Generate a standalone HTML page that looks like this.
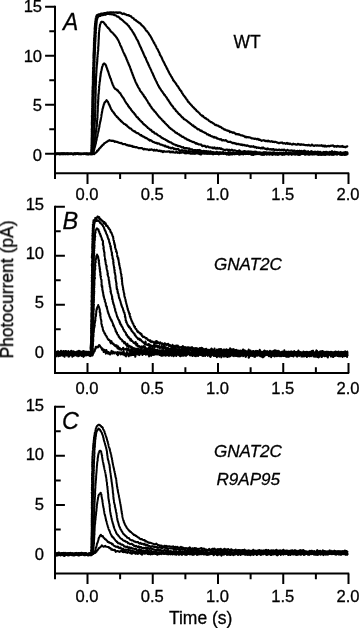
<!DOCTYPE html>
<html lang="en">
<head>
<meta charset="utf-8">
<title>Photocurrent responses</title>
<style>
html,body{margin:0;padding:0;background:#fff;}
body{width:360px;height:628px;overflow:hidden;font-family:"Liberation Sans",sans-serif;}
svg{display:block;}
</style>
</head>
<body>
<svg width="360" height="628" viewBox="0 0 360 628">
<rect width="360" height="628" fill="#fff"/>
<g font-family="'Liberation Sans', sans-serif" font-size="17.5" fill="#000" stroke="#000" stroke-width="0.3" style="will-change:transform">
<text x="42.1" y="12.40" text-anchor="end" font-size="16.6">15</text>
<text x="42.1" y="62.33" text-anchor="end" font-size="16.6">10</text>
<text x="42.1" y="111.37" text-anchor="end" font-size="16.6">5</text>
<text x="42.1" y="161.00" text-anchor="end" font-size="16.6">0</text>
<text x="86.95" y="199.80" text-anchor="middle" font-size="16.6">0.0</text>
<text x="152.20" y="199.80" text-anchor="middle" font-size="16.6">0.5</text>
<text x="217.45" y="199.80" text-anchor="middle" font-size="16.6">1.0</text>
<text x="282.70" y="199.80" text-anchor="middle" font-size="16.6">1.5</text>
<text x="347.95" y="199.80" text-anchor="middle" font-size="16.6">2.0</text>
<text x="44.1" y="209.80" text-anchor="end" font-size="16.6">15</text>
<text x="44.1" y="259.17" text-anchor="end" font-size="16.6">10</text>
<text x="44.1" y="308.13" text-anchor="end" font-size="16.6">5</text>
<text x="44.1" y="358.00" text-anchor="end" font-size="16.6">0</text>
<text x="86.95" y="393.50" text-anchor="middle" font-size="16.6">0.0</text>
<text x="152.20" y="393.50" text-anchor="middle" font-size="16.6">0.5</text>
<text x="217.45" y="393.50" text-anchor="middle" font-size="16.6">1.0</text>
<text x="282.70" y="393.50" text-anchor="middle" font-size="16.6">1.5</text>
<text x="347.95" y="393.50" text-anchor="middle" font-size="16.6">2.0</text>
<text x="44.1" y="410.90" text-anchor="end" font-size="16.6">15</text>
<text x="44.1" y="460.47" text-anchor="end" font-size="16.6">10</text>
<text x="44.1" y="509.53" text-anchor="end" font-size="16.6">5</text>
<text x="44.1" y="559.70" text-anchor="end" font-size="16.6">0</text>
<text x="86.95" y="601.70" text-anchor="middle" font-size="16.6">0.0</text>
<text x="152.20" y="601.70" text-anchor="middle" font-size="16.6">0.5</text>
<text x="217.45" y="601.70" text-anchor="middle" font-size="16.6">1.0</text>
<text x="282.70" y="601.70" text-anchor="middle" font-size="16.6">1.5</text>
<text x="347.95" y="601.70" text-anchor="middle" font-size="16.6">2.0</text>
<text x="233.6" y="47.8">WT</text>
<text x="213.9" y="269.9" font-style="italic" font-size="17.1">GNAT2C</text>
<text x="213.9" y="456.9" font-style="italic" font-size="17.1">GNAT2C</text>
<text x="216.4" y="484.9" font-style="italic" font-size="17.1">R9AP95</text>
<text transform="translate(63.1,30.4) scale(0.94,1)" font-style="italic" font-size="24.4">A</text>
<text transform="translate(62.4,229.1) scale(0.98,1)" font-style="italic" font-size="24">B</text>
<text transform="translate(62.0,428.5) scale(0.97,1)" font-style="italic" font-size="24">C</text>
<text x="200.7" y="623.8" text-anchor="middle">Time (s)</text>
<text transform="translate(13.1,289.45) rotate(-90)" text-anchor="middle" font-size="17.5">Photocurrent (pA)</text>
</g>
<g>
<path d="M55.0,5.70 V173.3 H349.20" fill="none" stroke="#000" stroke-width="2.0" stroke-linejoin="miter"/>
<path d="M55.0,6.70 h-9.9 M55.0,55.73 h-9.9 M55.0,104.77 h-9.9 M55.0,153.80 h-9.9 M55.0,31.22 h-5.7 M55.0,80.25 h-5.7 M55.0,129.28 h-5.7 M87.50,173.3 v10.6 M152.75,173.3 v10.6 M218.00,173.3 v10.6 M283.25,173.3 v10.6 M348.50,173.3 v10.6 M55.00,173.3 v5.8 M120.12,173.3 v5.8 M185.38,173.3 v5.8 M250.62,173.3 v5.8 M315.88,173.3 v5.8" fill="none" stroke="#000" stroke-width="2.0"/>
<path d="M55.0,205.80 V373.1 H349.20" fill="none" stroke="#000" stroke-width="2.0" stroke-linejoin="miter"/>
<path d="M55.0,206.80 h9.9 M55.0,255.77 h9.9 M55.0,304.73 h9.9 M55.0,353.70 h9.9 M55.0,231.28 h5.7 M55.0,280.25 h5.7 M55.0,329.22 h5.7 M87.50,373.1 v-10.1 M152.75,373.1 v-10.1 M218.00,373.1 v-10.1 M283.25,373.1 v-10.1 M348.50,373.1 v-10.1 M55.00,373.1 v-5.8 M120.12,373.1 v-5.8 M185.38,373.1 v-5.8 M250.62,373.1 v-5.8 M315.88,373.1 v-5.8" fill="none" stroke="#000" stroke-width="2.0"/>
<path d="M55.0,405.80 V573.4 H349.20" fill="none" stroke="#000" stroke-width="2.0" stroke-linejoin="miter"/>
<path d="M55.0,406.80 h9.9 M55.0,455.87 h9.9 M55.0,504.93 h9.9 M55.0,554.00 h9.9 M55.0,431.33 h5.7 M55.0,480.40 h5.7 M55.0,529.47 h5.7 M87.50,573.4 v10.6 M152.75,573.4 v10.6 M218.00,573.4 v10.6 M283.25,573.4 v10.6 M348.50,573.4 v10.6 M55.00,573.4 v5.8 M120.12,573.4 v5.8 M185.38,573.4 v5.8 M250.62,573.4 v5.8 M315.88,573.4 v5.8" fill="none" stroke="#000" stroke-width="2.0"/>
</g>
<g fill="none" stroke="#000" stroke-width="2.15" stroke-linejoin="round" stroke-linecap="round">
<path d="M55.60,153.88 55.95,153.82 56.30,153.95 56.65,153.99 57.00,153.88 57.35,153.78 57.70,153.88 58.05,153.90 58.40,153.74 58.75,153.63 59.10,153.54 59.45,153.49 59.80,153.56 60.15,153.67 60.50,153.74 60.85,153.86 61.20,153.93 61.55,153.76 61.90,153.59 62.25,153.70 62.60,153.87 62.95,153.81 63.30,153.68 63.65,153.67 64.00,153.69 64.35,153.80 64.70,153.93 65.05,153.86 65.40,153.90 65.75,153.98 66.10,153.87 66.45,153.85 66.80,153.91 67.15,153.84 67.50,153.75 67.85,153.92 68.20,153.98 68.55,153.84 68.90,153.92 69.25,153.93 69.60,153.95 69.95,154.17 70.30,154.05 70.65,153.80 71.00,153.87 71.35,153.97 71.70,153.96 72.05,153.97 72.40,153.98 72.75,154.08 73.10,154.09 73.45,153.92 73.80,153.85 74.15,153.86 74.50,153.81 74.85,153.72 75.20,153.73 75.55,153.90 75.90,154.08 76.25,154.02 76.60,153.75 76.95,153.75 77.30,153.80 77.65,153.65 78.00,153.70 78.35,153.94 78.70,154.10 79.05,154.05 79.40,153.88 79.75,153.81 80.10,153.94 80.45,154.05 80.80,153.92 81.15,153.86 81.50,153.92 81.85,153.89 82.20,153.79 82.55,153.74 82.90,153.80 83.25,153.92 83.60,154.07 83.95,154.06 84.30,153.98 84.65,153.96 85.00,153.97 85.35,154.01 85.70,154.01 86.05,153.89 86.40,153.79 86.75,153.75 87.10,153.57 87.45,153.51 87.80,153.67 88.15,153.77 88.50,153.99 88.85,154.12 89.20,153.88 89.55,153.78 89.90,153.92 90.25,153.97 90.60,153.90 90.95,153.91 91.32,153.99 91.41,153.57 91.39,153.17 91.40,152.83 91.40,152.48 91.37,152.11 91.36,151.77 91.34,151.44 91.34,151.13 91.37,150.78 91.40,150.40 91.44,150.03 91.43,149.65 91.44,149.24 91.53,148.92 91.57,148.61 91.53,148.25 91.49,147.91 91.51,147.57 91.54,147.24 91.52,146.90 91.49,146.58 91.58,146.20 91.61,145.82 91.55,145.56 91.59,145.24 91.62,144.83 91.62,144.44 91.63,144.08 91.60,143.74 91.63,143.43 91.69,143.06 91.65,142.68 91.63,142.32 91.64,141.94 91.68,141.62 91.71,141.34 91.69,141.00 91.68,140.65 91.68,140.27 91.70,139.88 91.68,139.53 91.64,139.19 91.66,138.85 91.68,138.50 91.73,138.12 91.77,137.74 91.71,137.44 91.72,137.15 91.80,136.75 91.83,136.37 91.84,136.09 91.80,135.75 91.75,135.33 91.79,134.97 91.86,134.60 91.86,134.25 91.84,133.96 91.81,133.65 91.79,133.25 91.84,132.89 91.93,132.56 91.85,132.20 91.74,131.81 91.79,131.40 91.90,131.10 91.91,130.85 91.84,130.49 91.81,130.12 91.78,129.77 91.71,129.38 91.75,129.05 91.87,128.74 91.88,128.37 91.93,128.00 92.00,127.71 91.98,127.43 91.98,127.07 92.05,126.66 92.00,126.20 91.93,125.84 91.97,125.63 91.94,125.32 91.88,124.92 91.90,124.59 91.86,124.28 91.80,123.94 91.86,123.55 91.91,123.18 91.86,122.82 91.82,122.42 91.89,122.11 91.96,121.82 91.94,121.52 91.93,121.24 91.95,120.81 91.93,120.24 91.99,119.85 92.06,119.59 91.99,119.24 92.00,118.92 92.07,118.58 92.03,118.08 92.01,117.70 92.08,117.48 92.06,117.19 91.93,116.82 91.91,116.45 91.94,116.02 91.94,115.64 91.96,115.34 92.02,114.96 92.06,114.61 92.06,114.36 92.10,114.06 92.12,113.68 92.09,113.26 92.17,112.87 92.26,112.51 92.20,112.20 92.12,111.89 92.10,111.55 92.11,111.25 92.19,110.99 92.22,110.64 92.15,110.19 92.19,109.85 92.25,109.51 92.22,109.09 92.18,108.67 92.13,108.38 92.12,108.12 92.24,107.76 92.34,107.38 92.27,107.06 92.19,106.76 92.21,106.31 92.26,105.83 92.32,105.46 92.39,105.06 92.44,104.72 92.43,104.53 92.42,104.32 92.40,103.90 92.33,103.43 92.26,103.13 92.28,102.90 92.33,102.55 92.27,102.15 92.26,101.80 92.35,101.48 92.37,101.17 92.34,100.82 92.36,100.40 92.39,100.00 92.39,99.67 92.32,99.36 92.34,99.01 92.43,98.59 92.45,98.25 92.41,97.90 92.38,97.57 92.39,97.38 92.48,97.05 92.52,96.60 92.51,96.25 92.59,95.84 92.60,95.38 92.54,95.10 92.51,94.81 92.41,94.42 92.34,94.02 92.40,93.69 92.48,93.42 92.52,93.14 92.53,92.77 92.51,92.42 92.48,92.09 92.52,91.66 92.51,91.20 92.52,90.87 92.54,90.69 92.50,90.41 92.49,90.03 92.54,89.64 92.65,89.25 92.73,88.87 92.70,88.49 92.62,88.14 92.58,87.86 92.64,87.59 92.65,87.20 92.65,86.76 92.73,86.35 92.72,86.05 92.70,85.82 92.79,85.46 92.86,85.02 92.87,84.60 92.87,84.22 92.88,83.95 92.93,83.66 92.93,83.26 92.90,82.88 92.93,82.55 92.90,82.16 92.83,81.75 92.79,81.41 92.85,81.13 92.88,80.82 92.85,80.46 92.91,80.18 92.96,79.88 92.88,79.43 92.80,79.02 92.88,78.71 92.96,78.34 92.93,77.97 92.88,77.74 92.87,77.47 92.94,77.02 93.00,76.56 92.97,76.20 92.94,75.86 93.00,75.46 93.06,75.15 93.05,74.89 92.99,74.54 93.05,74.27 93.15,73.98 93.06,73.57 93.00,73.24 93.02,72.92 93.07,72.46 93.21,71.98 93.25,71.61 93.09,71.38 93.04,71.17 93.21,70.76 93.29,70.26 93.29,69.87 93.25,69.57 93.16,69.27 93.11,68.93 93.07,68.60 93.11,68.25 93.22,67.87 93.29,67.52 93.36,67.19 93.30,66.85 93.25,66.58 93.36,66.30 93.44,65.89 93.34,65.40 93.25,64.98 93.34,64.63 93.41,64.21 93.32,63.89 93.31,63.72 93.40,63.41 93.37,62.94 93.30,62.49 93.30,62.17 93.34,61.90 93.40,61.68 93.47,61.41 93.53,60.94 93.47,60.45 93.38,60.07 93.46,59.78 93.55,59.43 93.57,59.05 93.55,58.71 93.47,58.40 93.46,58.16 93.52,57.89 93.43,57.49 93.42,57.06 93.53,56.70 93.54,56.33 93.49,55.95 93.45,55.56 93.43,55.13 93.48,54.82 93.57,54.59 93.58,54.26 93.55,53.94 93.60,53.56 93.58,53.08 93.60,52.73 93.70,52.49 93.67,52.16 93.68,51.82 93.77,51.51 93.75,51.10 93.75,50.63 93.83,50.31 93.86,50.09 93.84,49.69 93.83,49.28 93.84,49.05 93.85,48.79 93.82,48.40 93.87,47.96 93.99,47.52 93.96,47.23 93.97,47.00 94.05,46.67 93.98,46.29 93.92,45.87 93.93,45.43 93.94,45.02 94.05,44.75 94.08,44.47 93.98,44.09 93.96,43.80 94.02,43.43 94.02,42.98 94.01,42.62 94.01,42.30 93.96,41.97 94.00,41.59 94.07,41.22 94.11,40.87 94.12,40.48 94.11,40.13 94.17,39.89 94.18,39.57 94.12,39.13 94.08,38.79 94.13,38.43 94.21,38.10 94.22,37.82 94.29,37.52 94.40,37.18 94.46,36.78 94.45,36.41 94.35,36.04 94.32,35.68 94.42,35.38 94.49,35.05 94.50,34.71 94.51,34.30 94.55,33.89 94.58,33.58 94.57,33.31 94.57,32.96 94.57,32.54 94.57,32.12 94.61,31.77 94.63,31.47 94.64,31.05 94.70,30.65 94.71,30.44 94.70,30.15 94.69,29.66 94.73,29.26 94.82,28.93 94.74,28.62 94.64,28.33 94.69,27.95 94.82,27.61 94.95,27.31 94.95,26.96 94.91,26.59 94.88,26.17 94.94,25.72 95.06,25.46 95.09,25.29 95.05,24.94 95.07,24.54 95.08,24.20 95.06,23.86 95.10,23.58 95.10,23.26 95.10,22.73 95.24,22.24 95.32,21.91 95.28,21.64 95.32,21.45 95.47,21.10 95.54,20.56 95.61,20.11 95.65,19.88 95.65,19.55 95.70,19.06 95.74,18.69 95.80,18.39 95.88,18.06 95.99,17.64 96.11,17.20 96.17,16.81 96.23,16.62 96.34,16.61 96.45,16.35 96.55,15.87 96.71,15.37 96.94,15.02 97.22,15.00 97.54,15.00 97.89,14.84 98.25,14.55 98.60,14.30 98.93,14.29 99.24,14.45 99.57,14.70 99.89,14.67 100.23,14.15 100.56,13.79 100.91,13.75 101.25,13.62 101.60,13.54 101.95,13.51 102.30,13.49 102.65,13.61 103.00,13.62 103.36,13.52 103.71,13.36 104.06,13.12 104.41,13.04 104.76,13.09 105.10,13.14 105.45,13.20 105.79,13.03 106.14,12.82 106.49,12.77 106.84,12.65 107.18,12.64 107.53,12.56 107.88,12.40 108.23,12.63 108.57,12.79 108.92,12.66 109.27,12.53 109.62,12.41 109.97,12.33 110.32,12.36 110.66,12.42 111.01,12.36 111.36,12.29 111.71,12.44 112.06,12.54 112.41,12.44 112.76,12.45 113.11,12.39 113.46,12.24 113.81,12.44 114.16,12.64 114.51,12.63 114.86,12.54 115.21,12.37 115.56,12.44 115.91,12.66 116.26,12.69 116.61,12.43 116.96,12.25 117.30,12.59 117.65,12.95 118.00,12.93 118.34,12.59 118.69,12.44 119.04,12.73 119.38,12.63 119.73,12.44 120.07,12.63 120.42,12.58 120.76,12.58 121.10,13.03 121.44,13.41 121.78,13.40 122.13,13.60 122.47,14.05 122.81,14.08 123.15,13.76 123.49,13.53 123.84,13.44 124.18,13.67 124.52,14.06 124.85,14.24 125.19,14.38 125.52,14.45 125.86,14.35 126.20,14.51 126.53,14.85 126.85,15.07 127.17,15.21 127.49,15.16 127.82,15.14 128.13,15.20 128.44,15.05 128.76,15.15 129.07,15.63 129.38,15.92 129.68,15.89 129.99,15.82 130.29,16.04 130.58,16.28 130.88,16.27 131.19,16.38 131.49,16.91 131.78,17.45 132.08,17.57 132.39,17.59 132.67,17.88 132.96,18.03 133.25,17.96 133.56,18.32 133.85,18.85 134.11,19.25 134.37,19.61 134.66,19.73 134.98,19.73 135.28,19.90 135.55,20.07 135.82,20.12 136.08,20.39 136.36,20.92 136.64,21.22 136.91,21.14 137.18,21.20 137.48,21.58 137.77,21.91 138.01,22.12 138.27,22.26 138.56,22.25 138.82,22.39 139.08,22.78 139.38,23.21 139.66,23.34 139.93,23.18 140.21,23.40 140.46,23.83 140.69,23.92 140.95,24.15 141.20,24.72 141.46,25.09 141.72,25.19 141.97,25.40 142.23,25.71 142.51,25.98 142.76,26.18 142.99,26.20 143.22,26.38 143.46,26.74 143.70,27.05 143.93,27.43 144.15,27.63 144.35,27.75 144.54,28.04 144.76,28.43 145.01,28.74 145.27,28.88 145.50,29.19 145.69,29.81 145.89,30.35 146.10,30.53 146.29,30.51 146.51,30.76 146.72,31.13 146.92,31.19 147.15,31.30 147.37,31.71 147.56,32.04 147.73,32.09 147.97,32.17 148.21,32.59 148.41,33.11 148.63,33.39 148.83,33.70 148.97,34.12 149.16,34.43 149.41,34.67 149.62,34.91 149.75,35.10 149.94,35.31 150.16,35.71 150.37,36.19 150.56,36.42 150.71,36.55 150.85,36.86 151.05,37.28 151.26,37.55 151.38,37.63 151.50,37.89 151.71,38.50 151.95,39.12 152.16,39.36 152.29,39.50 152.45,39.94 152.66,40.32 152.84,40.40 152.99,40.64 153.16,41.11 153.31,41.44 153.45,41.64 153.61,41.97 153.76,42.52 153.93,42.89 154.11,43.03 154.26,43.10 154.46,43.23 154.64,43.66 154.75,44.08 154.88,44.44 155.06,44.76 155.26,44.85 155.44,45.05 155.60,45.48 155.75,45.81 155.88,46.08 156.01,46.40 156.16,46.61 156.36,46.94 156.53,47.51 156.69,47.97 156.89,48.39 157.02,48.74 157.11,48.72 157.27,48.71 157.45,49.00 157.69,49.38 157.89,49.80 157.98,50.10 158.11,50.33 158.27,50.69 158.45,51.04 158.64,51.44 158.78,51.81 158.91,52.08 159.08,52.38 159.21,52.65 159.38,52.85 159.58,53.12 159.70,53.71 159.79,54.40 159.93,54.81 160.10,55.01 160.30,55.10 160.46,55.33 160.57,55.74 160.75,55.99 160.94,56.19 161.09,56.50 161.26,56.81 161.43,57.11 161.58,57.37 161.72,57.62 161.89,58.12 162.02,58.66 162.12,58.84 162.29,59.05 162.45,59.47 162.56,59.73 162.67,59.87 162.81,60.26 163.00,60.74 163.19,61.04 163.35,61.38 163.51,61.73 163.71,61.89 163.87,62.11 163.98,62.53 164.11,62.84 164.24,62.91 164.39,63.18 164.58,63.68 164.76,64.16 164.89,64.60 165.02,64.81 165.18,64.94 165.36,65.29 165.57,65.60 165.79,65.87 165.91,66.22 165.98,66.35 166.08,66.53 166.21,66.91 166.41,67.24 166.62,67.66 166.78,68.16 166.93,68.62 167.09,68.98 167.29,69.05 167.47,69.11 167.58,69.42 167.71,69.74 167.89,70.12 168.07,70.56 168.19,70.74 168.31,70.98 168.46,71.51 168.66,71.92 168.91,72.22 169.11,72.56 169.23,72.89 169.40,73.23 169.55,73.61 169.67,73.89 169.84,74.14 170.02,74.31 170.22,74.45 170.40,74.80 170.52,75.22 170.70,75.48 170.89,75.81 171.04,76.32 171.23,76.52 171.43,76.50 171.60,76.74 171.77,77.22 171.91,77.61 172.06,77.90 172.32,78.22 172.55,78.55 172.71,78.88 172.83,79.13 172.96,79.51 173.13,80.08 173.32,80.38 173.53,80.35 173.74,80.47 173.91,80.87 174.07,81.23 174.25,81.40 174.48,81.68 174.69,82.01 174.87,82.19 175.10,82.44 175.33,82.68 175.49,82.81 175.65,83.14 175.89,83.68 176.17,84.10 176.40,84.25 176.56,84.37 176.71,84.83 176.93,85.39 177.16,85.69 177.36,85.79 177.60,86.02 177.82,86.38 178.00,86.55 178.20,86.68 178.43,87.15 178.62,87.72 178.79,88.06 178.99,88.27 179.17,88.49 179.35,88.75 179.56,88.94 179.75,89.35 179.91,89.91 180.08,90.08 180.33,90.11 180.61,90.40 180.83,90.86 181.00,91.19 181.17,91.19 181.33,91.28 181.51,91.72 181.70,92.18 181.86,92.60 182.05,93.00 182.27,93.27 182.46,93.42 182.64,93.61 182.86,94.14 183.08,94.66 183.28,94.82 183.46,94.93 183.64,95.29 183.84,95.62 184.02,95.68 184.20,95.93 184.42,96.39 184.65,96.68 184.87,96.86 185.05,97.13 185.19,97.41 185.38,97.70 185.61,97.89 185.82,98.09 186.02,98.54 186.23,98.90 186.46,99.02 186.65,99.34 186.85,99.68 187.10,99.86 187.32,100.10 187.50,100.45 187.71,101.04 187.93,101.64 188.16,101.80 188.36,101.79 188.55,101.98 188.77,102.23 189.00,102.56 189.24,102.83 189.48,102.94 189.69,103.28 189.89,103.68 190.10,103.99 190.34,104.11 190.57,104.21 190.84,104.60 191.10,104.96 191.32,105.18 191.53,105.37 191.76,105.38 192.00,105.55 192.22,106.16 192.45,106.58 192.71,106.72 192.97,107.00 193.22,107.29 193.46,107.35 193.69,107.48 193.92,107.92 194.17,108.23 194.42,108.38 194.68,108.70 194.90,108.81 195.13,109.03 195.39,109.53 195.66,109.64 195.89,109.63 196.14,110.05 196.42,110.63 196.67,110.89 196.90,110.94 197.15,111.21 197.42,111.46 197.67,111.58 197.91,111.84 198.14,112.05 198.37,112.17 198.63,112.42 198.92,112.76 199.19,112.98 199.43,113.12 199.67,113.46 199.93,113.91 200.20,114.18 200.48,114.48 200.77,114.77 201.07,115.05 201.34,115.22 201.59,115.21 201.82,115.37 202.07,115.74 202.33,116.25 202.62,116.30 202.91,115.92 203.20,116.14 203.48,116.76 203.75,117.15 204.02,117.30 204.31,117.40 204.58,117.66 204.83,117.89 205.09,118.08 205.39,118.15 205.70,118.13 205.99,118.39 206.25,118.72 206.51,119.03 206.80,119.13 207.09,119.22 207.37,119.47 207.67,119.54 207.96,119.55 208.25,119.77 208.54,120.25 208.83,120.75 209.11,120.98 209.41,121.12 209.70,121.33 210.00,121.42 210.30,121.55 210.59,121.91 210.88,122.12 211.17,122.09 211.48,122.16 211.78,122.39 212.09,122.54 212.38,122.74 212.66,123.06 212.96,123.24 213.27,123.32 213.57,123.44 213.87,123.73 214.19,123.95 214.49,124.21 214.79,124.62 215.09,124.85 215.39,125.06 215.69,125.05 216.00,124.85 216.31,124.99 216.61,125.32 216.91,125.50 217.21,125.60 217.53,125.55 217.84,125.53 218.14,125.69 218.45,125.90 218.77,126.26 219.09,126.44 219.39,126.55 219.69,126.86 220.00,127.01 220.30,126.84 220.61,126.83 220.93,127.01 221.25,127.15 221.56,127.68 221.86,128.20 222.18,128.25 222.50,128.28 222.81,128.36 223.12,128.58 223.43,128.81 223.76,129.01 224.09,129.44 224.41,129.73 224.72,129.67 225.04,129.52 225.36,129.59 225.68,129.85 226.00,130.09 226.31,130.27 226.63,130.52 226.95,130.55 227.27,130.27 227.59,130.49 227.91,130.91 228.23,130.86 228.55,130.82 228.88,130.90 229.20,131.00 229.54,131.53 229.86,132.11 230.19,132.02 230.52,131.60 230.85,131.59 231.18,131.98 231.52,132.26 231.84,132.16 232.17,132.28 232.50,132.74 232.83,132.89 233.16,132.66 233.49,132.44 233.82,132.48 234.15,132.59 234.48,132.81 234.81,133.22 235.14,133.45 235.47,133.80 235.81,134.25 236.15,134.11 236.48,133.87 236.81,134.19 237.14,134.37 237.47,134.08 237.81,134.03 238.15,134.13 238.48,134.34 238.82,134.57 239.15,134.35 239.48,134.36 239.82,134.74 240.15,134.99 240.49,135.19 240.82,135.30 241.16,135.45 241.49,135.45 241.82,135.24 242.16,135.35 242.50,135.60 242.84,135.81 243.17,135.90 243.51,135.79 243.84,135.97 244.18,136.36 244.51,136.40 244.85,136.51 245.19,137.07 245.53,137.08 245.86,136.61 246.20,136.89 246.54,137.41 246.89,137.36 247.22,137.15 247.56,137.05 247.90,137.05 248.24,137.14 248.58,137.33 248.92,137.53 249.25,137.50 249.60,137.37 249.94,137.41 250.28,137.57 250.62,137.67 250.96,137.95 251.30,138.29 251.64,138.37 251.98,138.39 252.32,138.42 252.67,138.40 253.01,138.38 253.35,138.51 253.69,138.60 254.03,138.65 254.37,138.91 254.71,138.88 255.05,138.66 255.39,138.68 255.74,138.83 256.08,138.97 256.42,139.14 256.76,139.31 257.11,139.03 257.45,138.76 257.79,138.83 258.14,138.97 258.48,139.45 258.83,139.93 259.17,139.81 259.51,139.45 259.86,139.71 260.20,140.24 260.54,140.22 260.89,140.17 261.24,140.54 261.58,140.85 261.92,140.73 262.27,140.48 262.61,140.49 262.96,140.49 263.30,140.25 263.65,140.20 263.99,140.34 264.34,140.40 264.68,140.56 265.03,140.97 265.37,141.16 265.72,140.86 266.06,140.76 266.41,140.95 266.75,141.21 267.10,141.30 267.45,141.03 267.79,140.74 268.14,140.64 268.48,140.93 268.83,141.35 269.17,141.33 269.52,141.16 269.87,141.28 270.21,141.55 270.56,141.63 270.90,141.52 271.25,141.34 271.60,141.14 271.94,141.49 272.29,141.84 272.64,141.56 272.98,141.63 273.33,141.94 273.68,141.86 274.03,141.82 274.37,142.00 274.72,142.14 275.06,141.96 275.41,141.77 275.76,141.93 276.11,142.05 276.45,142.17 276.80,142.48 277.15,142.75 277.49,142.74 277.84,142.65 278.19,142.89 278.54,143.16 278.88,143.25 279.23,143.16 279.58,142.86 279.93,142.83 280.27,142.84 280.62,142.67 280.97,142.73 281.32,142.80 281.66,142.62 282.01,142.45 282.36,142.63 282.71,143.09 283.05,143.47 283.40,143.51 283.75,143.29 284.10,143.09 284.45,143.11 284.79,143.28 285.14,143.41 285.49,143.72 285.84,143.92 286.19,143.48 286.54,143.01 286.88,142.94 287.23,142.94 287.58,143.27 287.93,143.81 288.28,143.67 288.63,143.40 288.97,143.83 289.32,144.07 289.67,143.74 290.02,143.53 290.37,143.68 290.72,143.94 291.07,144.20 291.41,144.41 291.76,144.51 292.11,144.56 292.46,144.54 292.81,144.14 293.16,143.71 293.51,143.86 293.86,144.09 294.20,144.16 294.55,144.26 294.90,144.06 295.25,144.08 295.60,144.53 295.95,144.60 296.30,144.50 296.65,144.67 297.00,144.72 297.34,144.29 297.69,143.80 298.04,143.89 298.39,144.07 298.74,144.13 299.09,144.51 299.44,144.73 299.79,144.37 300.14,144.41 300.49,144.83 300.83,144.53 301.18,144.23 301.53,144.55 301.88,144.67 302.23,144.62 302.58,144.71 302.93,144.54 303.28,144.43 303.63,144.75 303.98,144.89 304.33,144.75 304.68,144.78 305.02,145.08 305.37,145.24 305.72,145.10 306.07,145.13 306.42,145.04 306.77,144.97 307.12,145.22 307.47,145.44 307.82,145.46 308.17,145.16 308.52,144.83 308.87,144.88 309.22,145.19 309.56,145.47 309.91,145.58 310.26,145.54 310.61,145.65 310.96,145.70 311.31,145.22 311.66,144.68 312.01,144.53 312.36,144.91 312.71,145.36 313.06,145.41 313.41,145.57 313.76,145.84 314.11,145.97 314.45,145.81 314.80,145.44 315.15,145.32 315.50,145.41 315.85,145.40 316.20,145.31 316.55,145.58 316.90,145.66 317.25,145.29 317.60,145.23 317.95,145.34 318.30,145.58 318.65,145.79 318.99,145.77 319.34,145.58 319.69,145.44 320.04,145.63 320.39,145.72 320.74,145.77 321.09,145.55 321.44,145.10 321.79,145.29 322.14,145.90 322.49,146.23 322.84,146.08 323.19,145.71 323.54,145.65 323.89,146.25 324.23,146.51 324.58,146.07 324.93,145.60 325.28,145.55 325.63,146.19 325.98,146.66 326.33,146.56 326.68,146.46 327.03,146.15 327.38,145.98 327.73,146.06 328.08,145.84 328.43,145.86 328.78,146.22 329.13,146.40 329.47,146.36 329.82,146.16 330.17,145.80 330.52,145.70 330.87,145.90 331.22,145.81 331.57,145.57 331.92,145.62 332.27,145.67 332.62,145.49 332.97,145.42 333.32,145.67 333.67,146.16 334.02,146.69 334.37,146.69 334.72,146.09 335.07,146.07 335.42,146.47 335.76,146.38 336.11,146.49 336.46,146.76 336.81,146.39 337.16,145.89 337.51,145.97 337.86,146.40 338.21,146.41 338.56,146.02 338.91,146.11 339.26,146.59 339.61,146.66 339.96,146.52 340.31,146.70 340.66,146.56 341.01,146.13 341.36,146.32 341.71,146.59 342.06,146.25 342.41,145.97 342.76,146.40 343.10,147.03 343.45,146.92 343.80,146.62 344.15,146.81 344.50,146.80 344.85,146.99 345.20,147.32 345.55,147.19 345.90,146.77 346.25,146.56 346.60,146.69 346.95,146.41 347.30,146.43"/>
<path d="M55.60,154.08 55.95,153.72 56.30,153.47 56.65,153.51 57.00,153.66 57.35,153.86 57.70,153.96 58.05,153.88 58.40,153.81 58.75,153.81 59.10,153.78 59.45,153.79 59.80,153.94 60.15,154.17 60.50,154.08 60.85,153.78 61.20,153.69 61.55,153.67 61.90,153.61 62.25,153.65 62.60,153.81 62.95,153.94 63.30,153.85 63.65,153.68 64.00,153.60 64.35,153.65 64.70,153.80 65.05,153.94 65.40,153.99 65.75,153.96 66.10,154.01 66.45,154.00 66.80,153.79 67.15,153.55 67.50,153.65 67.85,154.00 68.20,154.14 68.55,154.07 68.90,153.99 69.25,153.87 69.60,153.78 69.95,153.85 70.30,154.01 70.65,153.99 71.00,153.87 71.35,153.88 71.70,153.97 72.05,153.92 72.40,153.92 72.75,154.09 73.10,154.05 73.45,154.01 73.80,154.16 74.15,154.12 74.50,153.99 74.85,153.89 75.20,153.75 75.55,153.62 75.90,153.68 76.25,153.80 76.60,153.78 76.95,153.81 77.30,153.77 77.65,153.71 78.00,153.83 78.35,153.96 78.70,154.11 79.05,154.19 79.40,154.12 79.75,154.00 80.10,153.93 80.45,153.96 80.80,153.94 81.15,153.84 81.50,153.85 81.85,153.90 82.20,153.95 82.55,153.93 82.90,153.81 83.25,153.82 83.60,153.84 83.95,153.69 84.30,153.81 84.65,153.93 85.00,153.69 85.35,153.72 85.70,153.84 86.05,153.86 86.40,153.92 86.75,153.86 87.10,154.06 87.45,154.26 87.80,154.11 88.15,153.95 88.50,153.87 88.85,153.86 89.20,153.87 89.55,153.79 89.90,153.86 90.25,153.94 90.60,153.80 90.95,153.79 91.30,153.81 91.63,153.83 91.71,153.58 91.69,153.21 91.66,152.79 91.65,152.45 91.69,152.10 91.73,151.76 91.73,151.43 91.73,151.10 91.75,150.77 91.78,150.42 91.84,150.09 91.89,149.75 91.85,149.38 91.78,148.99 91.78,148.60 91.80,148.26 91.86,147.98 91.94,147.71 91.96,147.40 91.96,147.02 91.97,146.60 91.95,146.22 91.92,145.88 91.94,145.56 92.02,145.25 92.08,144.87 92.09,144.44 92.19,144.09 92.25,143.87 92.17,143.49 92.12,143.11 92.12,142.79 92.18,142.38 92.24,141.97 92.27,141.55 92.34,141.19 92.37,140.92 92.34,140.55 92.31,140.16 92.31,139.88 92.30,139.60 92.28,139.25 92.34,138.82 92.36,138.41 92.39,138.06 92.46,137.73 92.38,137.46 92.35,137.17 92.37,136.87 92.31,136.60 92.31,136.22 92.33,135.80 92.39,135.41 92.49,135.06 92.58,134.79 92.65,134.41 92.68,133.97 92.70,133.69 92.65,133.40 92.63,133.05 92.66,132.61 92.62,132.13 92.65,131.83 92.77,131.64 92.79,131.23 92.76,130.76 92.79,130.46 92.76,130.06 92.68,129.58 92.67,129.18 92.69,128.92 92.73,128.71 92.80,128.40 92.89,128.04 92.87,127.73 92.80,127.33 92.79,126.87 92.79,126.53 92.86,126.19 92.94,125.81 92.88,125.51 92.79,125.21 92.86,124.83 92.97,124.42 93.03,124.19 93.01,123.94 92.95,123.44 92.96,123.01 92.98,122.79 93.02,122.53 93.08,122.12 93.08,121.73 93.04,121.41 93.02,121.00 92.96,120.58 92.97,120.27 93.08,120.01 93.07,119.73 92.98,119.38 93.02,119.01 93.16,118.68 93.28,118.33 93.30,117.93 93.19,117.44 93.08,117.08 93.13,116.81 93.23,116.43 93.25,116.09 93.24,115.78 93.27,115.41 93.38,115.12 93.38,114.78 93.25,114.36 93.25,114.13 93.35,113.89 93.34,113.44 93.40,113.04 93.42,112.78 93.31,112.43 93.28,111.95 93.32,111.58 93.35,111.28 93.43,110.96 93.49,110.62 93.44,110.26 93.41,109.87 93.42,109.49 93.37,109.10 93.41,108.75 93.48,108.44 93.39,108.07 93.34,107.74 93.36,107.49 93.28,107.07 93.29,106.66 93.41,106.38 93.40,106.03 93.37,105.68 93.38,105.35 93.35,105.00 93.37,104.63 93.51,104.24 93.64,103.98 93.62,103.65 93.51,103.16 93.42,102.83 93.42,102.52 93.46,102.07 93.52,101.77 93.54,101.56 93.52,101.24 93.52,100.92 93.46,100.54 93.45,100.12 93.50,99.79 93.46,99.48 93.44,99.15 93.50,98.76 93.54,98.36 93.62,98.05 93.68,97.76 93.66,97.35 93.64,96.87 93.66,96.52 93.62,96.21 93.55,95.84 93.58,95.45 93.56,95.10 93.55,94.80 93.61,94.54 93.66,94.22 93.74,93.89 93.71,93.57 93.60,93.22 93.69,92.91 93.86,92.54 93.88,92.09 93.84,91.60 93.73,91.18 93.61,90.92 93.64,90.71 93.79,90.38 93.82,89.98 93.74,89.67 93.74,89.31 93.73,88.86 93.67,88.43 93.77,88.12 93.96,87.85 93.99,87.53 93.93,87.13 93.92,86.75 93.83,86.49 93.71,86.20 93.73,85.85 93.84,85.52 93.94,85.16 94.00,84.69 93.98,84.20 93.85,83.90 93.84,83.72 93.93,83.40 93.94,82.96 93.84,82.57 93.83,82.24 93.97,81.89 94.03,81.50 93.96,81.21 93.97,80.97 94.04,80.57 94.07,80.07 94.09,79.66 94.11,79.38 94.04,79.15 93.96,78.82 93.92,78.42 93.88,78.04 93.97,77.64 94.11,77.31 94.10,77.07 94.05,76.80 94.03,76.43 93.98,75.97 94.05,75.60 94.17,75.30 94.17,74.87 94.14,74.42 94.25,74.10 94.30,73.84 94.23,73.53 94.17,73.20 94.05,72.91 94.05,72.58 94.19,72.17 94.25,71.76 94.23,71.41 94.20,71.12 94.24,70.80 94.36,70.41 94.40,70.03 94.27,69.61 94.22,69.17 94.35,68.87 94.41,68.65 94.39,68.38 94.43,68.04 94.48,67.65 94.44,67.32 94.34,67.02 94.25,66.61 94.27,66.15 94.33,65.79 94.39,65.43 94.41,65.07 94.44,64.80 94.49,64.49 94.42,64.14 94.40,63.83 94.43,63.41 94.43,62.99 94.51,62.62 94.55,62.28 94.58,61.98 94.64,61.70 94.61,61.41 94.54,61.04 94.45,60.62 94.41,60.18 94.48,59.76 94.54,59.44 94.59,59.14 94.59,58.86 94.49,58.57 94.44,58.27 94.54,57.92 94.67,57.52 94.66,57.13 94.60,56.77 94.64,56.46 94.72,56.09 94.73,55.68 94.67,55.41 94.67,55.14 94.78,54.68 94.85,54.23 94.87,53.82 94.89,53.49 94.83,53.27 94.83,52.94 94.89,52.62 94.89,52.40 94.86,52.01 94.85,51.53 94.88,51.20 94.96,50.88 94.99,50.50 95.01,50.13 95.01,49.81 94.91,49.52 94.96,49.15 95.07,48.78 94.97,48.47 94.94,48.12 95.08,47.72 95.08,47.39 95.02,47.10 95.04,46.69 94.99,46.22 94.97,45.81 95.04,45.45 95.05,45.11 95.04,44.82 95.06,44.44 95.09,44.01 95.15,43.75 95.22,43.50 95.24,43.10 95.18,42.73 95.10,42.43 95.12,42.00 95.26,41.55 95.40,41.23 95.39,41.00 95.34,40.77 95.34,40.43 95.34,39.97 95.38,39.50 95.42,39.13 95.46,38.81 95.47,38.45 95.45,38.07 95.43,37.83 95.41,37.56 95.48,37.19 95.63,36.80 95.71,36.36 95.65,35.95 95.55,35.70 95.54,35.51 95.57,35.16 95.51,34.76 95.53,34.42 95.60,34.09 95.65,33.78 95.77,33.39 95.80,32.98 95.70,32.62 95.64,32.20 95.61,31.76 95.66,31.43 95.80,31.17 95.88,30.86 95.89,30.49 95.88,30.18 95.87,29.89 95.87,29.46 95.86,29.09 95.96,28.89 96.12,28.59 96.13,28.08 96.04,27.57 96.08,27.28 96.23,27.05 96.23,26.76 96.11,26.40 96.13,25.96 96.26,25.61 96.31,25.32 96.30,25.02 96.33,24.68 96.43,24.30 96.53,23.83 96.53,23.36 96.48,23.01 96.54,22.68 96.65,22.39 96.67,22.19 96.65,21.88 96.69,21.35 96.72,20.85 96.76,20.47 96.82,20.19 96.89,19.96 97.00,19.61 97.13,19.18 97.29,18.67 97.41,18.18 97.45,17.89 97.54,17.71 97.67,17.58 97.73,17.33 97.88,16.97 98.14,16.89 98.41,16.84 98.69,16.34 98.99,15.96 99.33,15.87 99.69,15.70 100.05,15.66 100.38,15.89 100.70,15.77 101.02,15.24 101.36,15.16 101.70,15.27 102.04,15.16 102.38,15.03 102.73,15.07 103.08,15.12 103.43,14.92 103.78,14.79 104.13,14.81 104.48,14.76 104.83,14.78 105.17,14.83 105.52,14.69 105.86,14.53 106.21,14.33 106.55,14.05 106.90,13.89 107.24,13.93 107.59,14.02 107.94,13.87 108.28,13.79 108.63,14.03 108.98,13.96 109.32,13.86 109.67,14.18 110.02,14.19 110.37,14.13 110.72,14.29 111.07,14.17 111.43,14.24 111.78,14.45 112.12,14.22 112.47,14.26 112.81,14.42 113.14,14.28 113.47,14.41 113.80,14.88 114.14,15.08 114.47,14.85 114.80,14.93 115.11,15.25 115.43,15.23 115.75,15.23 116.07,15.57 116.39,15.88 116.70,16.15 117.00,16.49 117.30,16.64 117.61,16.67 117.89,16.63 118.18,16.62 118.47,16.90 118.77,17.20 119.05,17.36 119.33,17.52 119.62,17.83 119.90,18.45 120.19,18.75 120.46,18.65 120.73,18.74 121.01,19.06 121.27,19.43 121.52,19.61 121.77,19.67 122.05,19.84 122.34,20.00 122.59,20.21 122.82,20.52 123.09,20.76 123.37,21.06 123.61,21.42 123.89,21.69 124.19,21.90 124.45,22.05 124.68,22.17 124.96,22.43 125.23,22.70 125.48,22.93 125.72,23.26 125.96,23.39 126.20,23.40 126.46,23.64 126.73,24.01 127.00,24.29 127.25,24.31 127.45,24.40 127.66,24.91 127.92,25.43 128.19,25.58 128.43,25.78 128.64,25.94 128.88,26.06 129.12,26.55 129.33,27.03 129.55,27.33 129.75,27.60 129.95,27.78 130.18,27.98 130.34,28.28 130.55,28.76 130.79,29.22 131.00,29.36 131.21,29.44 131.39,29.58 131.60,29.95 131.83,30.37 131.99,30.46 132.14,30.65 132.30,31.06 132.51,31.54 132.74,31.88 132.94,31.94 133.09,32.32 133.26,32.72 133.43,32.81 133.58,33.13 133.76,33.71 133.95,34.09 134.13,34.07 134.31,34.28 134.47,34.94 134.67,35.38 134.91,35.35 135.09,35.54 135.24,36.10 135.39,36.51 135.57,36.81 135.75,37.03 135.94,37.20 136.10,37.61 136.21,38.18 136.35,38.38 136.47,38.29 136.57,38.69 136.74,39.30 136.97,39.43 137.16,39.56 137.32,39.98 137.51,40.37 137.68,40.65 137.80,40.92 138.00,41.22 138.17,41.58 138.26,41.92 138.37,42.17 138.56,42.49 138.68,42.95 138.80,43.41 138.95,43.67 139.11,43.90 139.30,44.26 139.47,44.65 139.62,45.01 139.72,45.38 139.80,45.80 139.96,46.06 140.13,46.15 140.29,46.42 140.46,46.85 140.55,47.17 140.67,47.30 140.86,47.39 141.01,47.71 141.10,48.32 141.23,48.83 141.40,49.05 141.57,49.26 141.70,49.64 141.81,49.97 141.97,50.31 142.14,50.61 142.23,50.79 142.28,50.97 142.42,51.19 142.60,51.50 142.77,51.92 142.96,52.45 143.13,52.92 143.27,53.29 143.38,53.52 143.55,53.74 143.72,54.07 143.83,54.42 143.99,54.81 144.18,55.06 144.26,55.26 144.34,55.62 144.51,55.99 144.68,56.34 144.85,56.84 145.03,57.21 145.17,57.31 145.29,57.39 145.46,57.61 145.61,58.05 145.74,58.34 145.88,58.59 146.02,59.12 146.14,59.54 146.28,59.73 146.43,59.97 146.54,60.34 146.71,60.70 146.92,60.91 147.06,61.38 147.18,61.95 147.33,62.20 147.48,62.40 147.63,62.60 147.76,62.82 147.91,63.25 148.08,63.60 148.23,63.85 148.35,64.31 148.44,64.83 148.60,65.01 148.82,65.00 148.95,65.19 149.08,65.64 149.22,66.23 149.36,66.67 149.48,66.87 149.60,66.97 149.76,67.22 149.95,67.69 150.15,68.03 150.29,68.29 150.43,68.70 150.59,69.13 150.67,69.34 150.72,69.41 150.90,69.63 151.15,70.14 151.29,70.60 151.38,70.88 151.50,71.13 151.68,71.50 151.88,71.93 152.05,72.25 152.20,72.48 152.27,72.69 152.36,73.03 152.56,73.40 152.71,73.60 152.87,73.87 153.05,74.39 153.19,74.91 153.33,75.28 153.44,75.59 153.56,75.77 153.72,75.89 153.88,76.11 154.07,76.59 154.23,77.16 154.35,77.49 154.50,77.78 154.64,78.08 154.78,78.28 154.93,78.55 155.08,78.93 155.21,79.32 155.34,79.65 155.51,79.93 155.67,80.14 155.79,80.34 155.93,80.62 156.11,81.01 156.28,81.34 156.43,81.50 156.62,82.00 156.81,82.58 156.91,82.67 157.00,82.80 157.20,83.30 157.40,83.77 157.55,84.03 157.72,84.31 157.88,84.58 158.01,84.95 158.14,85.42 158.29,85.59 158.46,85.69 158.65,86.02 158.83,86.46 158.99,86.85 159.14,87.17 159.32,87.30 159.47,87.47 159.60,87.88 159.77,88.20 159.97,88.35 160.17,88.54 160.37,88.86 160.54,89.25 160.74,89.53 160.96,89.77 161.14,90.18 161.30,90.50 161.51,90.63 161.74,90.88 161.98,91.30 162.17,91.62 162.35,91.71 162.57,91.92 162.78,92.22 163.01,92.69 163.25,93.15 163.46,93.36 163.67,93.56 163.88,93.97 164.07,94.53 164.32,94.89 164.54,94.92 164.72,94.84 164.91,95.14 165.14,95.68 165.35,95.93 165.56,96.15 165.80,96.39 166.00,96.63 166.16,97.05 166.38,97.41 166.61,97.62 166.82,97.86 167.01,98.15 167.22,98.47 167.39,98.94 167.51,99.36 167.68,99.61 167.88,99.84 168.11,99.92 168.35,100.04 168.51,100.48 168.64,100.85 168.85,101.09 169.07,101.27 169.24,101.43 169.43,101.85 169.62,102.45 169.80,102.79 170.04,102.79 170.27,103.06 170.45,103.50 170.62,103.83 170.81,104.23 171.04,104.36 171.27,104.49 171.48,105.05 171.71,105.35 171.96,105.43 172.15,105.79 172.30,106.16 172.51,106.43 172.76,106.46 172.97,106.57 173.21,107.12 173.42,107.71 173.59,108.18 173.78,108.42 174.00,108.43 174.20,108.45 174.41,108.63 174.65,108.87 174.90,109.12 175.10,109.30 175.31,109.51 175.52,109.98 175.75,110.56 175.99,111.05 176.19,111.18 176.42,111.22 176.67,111.41 176.89,111.51 177.15,111.62 177.39,112.00 177.60,112.64 177.82,112.88 178.05,112.86 178.30,113.24 178.55,113.72 178.80,113.97 179.05,114.06 179.30,114.10 179.54,114.34 179.76,114.80 179.98,115.10 180.25,115.08 180.50,115.32 180.74,115.75 181.02,116.00 181.28,116.34 181.52,116.66 181.77,117.01 182.04,117.37 182.31,117.49 182.57,117.49 182.82,117.44 183.08,117.68 183.36,118.26 183.61,118.76 183.86,119.10 184.14,119.27 184.43,119.23 184.71,119.35 184.98,119.62 185.25,119.73 185.53,119.75 185.83,119.98 186.11,120.29 186.37,120.47 186.62,120.61 186.89,120.85 187.16,121.16 187.44,121.39 187.71,121.54 187.95,121.58 188.21,121.94 188.49,122.38 188.76,122.47 189.04,122.61 189.31,122.67 189.59,122.76 189.89,123.28 190.17,123.60 190.43,123.69 190.70,123.95 190.99,124.05 191.27,124.19 191.55,124.51 191.85,124.94 192.13,125.26 192.41,125.27 192.69,125.60 192.99,125.79 193.27,125.48 193.53,125.67 193.81,126.23 194.10,126.54 194.38,126.88 194.66,127.16 194.95,127.08 195.23,126.90 195.51,127.06 195.80,127.48 196.08,127.79 196.39,128.10 196.71,128.24 197.02,128.40 197.30,128.97 197.59,129.31 197.89,129.18 198.20,129.01 198.50,129.13 198.79,129.37 199.08,129.48 199.38,129.68 199.68,130.08 199.98,130.38 200.29,130.46 200.61,130.65 200.92,130.98 201.22,130.89 201.55,130.64 201.86,130.91 202.15,131.44 202.46,131.74 202.78,131.75 203.09,131.76 203.39,131.97 203.70,132.25 204.01,132.30 204.32,132.31 204.64,132.55 204.96,132.85 205.27,132.81 205.58,132.86 205.90,133.23 206.21,133.46 206.51,133.71 206.81,134.06 207.13,134.38 207.45,134.43 207.77,134.29 208.09,134.25 208.39,134.52 208.69,135.05 209.00,135.35 209.32,135.41 209.64,135.14 209.96,135.13 210.26,135.69 210.58,135.91 210.90,135.91 211.22,136.11 211.53,136.35 211.86,136.31 212.18,136.28 212.50,136.58 212.83,136.66 213.15,136.86 213.47,137.37 213.79,137.43 214.11,137.04 214.43,136.92 214.76,137.34 215.09,137.69 215.42,137.59 215.75,137.45 216.08,137.48 216.41,137.70 216.73,138.14 217.06,138.56 217.40,138.59 217.73,138.45 218.07,138.61 218.40,138.77 218.74,138.72 219.07,139.02 219.40,139.44 219.74,139.46 220.07,139.37 220.41,139.31 220.75,139.18 221.08,139.14 221.42,139.54 221.76,140.18 222.09,140.50 222.42,140.46 222.76,140.29 223.10,140.12 223.44,140.05 223.78,140.25 224.12,140.41 224.46,140.47 224.79,140.58 225.13,140.35 225.46,140.14 225.80,140.24 226.14,140.30 226.48,140.67 226.82,141.21 227.15,141.33 227.49,141.48 227.83,141.84 228.16,141.86 228.50,141.77 228.84,141.98 229.17,142.02 229.51,141.96 229.85,141.90 230.19,141.68 230.53,141.78 230.87,142.18 231.21,142.40 231.55,142.37 231.89,142.53 232.23,142.96 232.56,143.20 232.90,143.25 233.24,143.18 233.58,142.94 233.92,142.92 234.26,143.09 234.60,143.08 234.94,143.30 235.28,143.65 235.62,143.45 235.96,143.30 236.30,143.80 236.64,144.17 236.98,144.13 237.33,144.07 237.67,143.88 238.01,143.71 238.35,143.80 238.69,144.23 239.03,144.49 239.37,144.41 239.71,144.48 240.06,144.34 240.40,144.40 240.74,144.81 241.08,144.92 241.42,144.63 241.77,144.43 242.11,144.58 242.45,144.94 242.80,145.31 243.14,145.25 243.48,144.97 243.82,144.83 244.17,144.79 244.51,145.02 244.86,145.40 245.20,145.55 245.54,145.50 245.89,145.37 246.23,145.55 246.58,145.81 246.92,145.41 247.27,145.24 247.61,145.57 247.96,145.60 248.30,145.82 248.65,146.10 248.99,146.10 249.34,146.18 249.68,146.33 250.03,146.74 250.37,146.80 250.71,146.40 251.06,146.20 251.41,146.27 251.75,146.64 252.10,146.74 252.44,146.55 252.79,146.59 253.13,146.42 253.48,146.18 253.82,146.56 254.17,147.25 254.52,147.32 254.86,147.04 255.20,147.11 255.55,147.10 255.89,146.83 256.24,147.29 256.58,147.84 256.93,147.57 257.28,147.50 257.62,147.58 257.97,147.44 258.31,147.65 258.66,147.97 259.00,147.97 259.35,147.87 259.69,147.84 260.04,147.94 260.39,148.21 260.73,148.51 261.08,148.42 261.42,147.85 261.77,147.66 262.12,148.23 262.46,148.44 262.81,147.87 263.15,147.49 263.50,147.92 263.85,148.40 264.20,148.26 264.54,148.29 264.89,148.75 265.24,149.01 265.58,148.82 265.93,148.60 266.28,148.81 266.62,149.34 266.97,149.36 267.32,148.79 267.67,148.38 268.01,148.60 268.36,148.93 268.71,149.02 269.05,149.26 269.40,149.37 269.75,149.36 270.10,149.47 270.45,149.31 270.80,149.01 271.14,149.34 271.49,149.66 271.84,149.20 272.19,149.21 272.54,149.62 272.88,149.42 273.23,149.01 273.58,149.06 273.93,149.64 274.28,150.14 274.63,150.16 274.98,149.99 275.32,149.81 275.67,149.55 276.02,149.50 276.37,149.58 276.72,149.82 277.07,150.20 277.42,150.10 277.77,149.89 278.11,150.03 278.46,149.79 278.81,149.51 279.16,149.52 279.51,149.50 279.86,149.82 280.21,150.07 280.56,150.10 280.90,150.14 281.25,150.07 281.60,149.84 281.95,149.70 282.30,149.81 282.65,149.85 283.00,149.91 283.35,150.14 283.70,150.02 284.05,149.54 284.40,149.49 284.75,150.02 285.09,150.45 285.44,150.63 285.79,150.86 286.14,150.96 286.49,150.72 286.84,150.30 287.19,149.94 287.54,149.91 287.89,150.20 288.24,150.50 288.59,150.59 288.94,150.51 289.29,150.57 289.64,150.74 289.98,150.76 290.33,150.74 290.68,150.65 291.03,150.33 291.38,150.30 291.73,150.70 292.08,150.83 292.43,150.62 292.78,150.85 293.13,151.16 293.48,150.78 293.83,150.62 294.18,150.65 294.52,150.50 294.87,150.95 295.22,151.55 295.57,151.52 295.92,151.30 296.27,151.19 296.62,151.19 296.97,151.22 297.32,150.98 297.67,150.83 298.02,151.09 298.37,151.35 298.72,151.37 299.07,150.99 299.41,150.73 299.76,151.45 300.11,152.12 300.46,151.80 300.81,151.11 301.16,150.88 301.51,150.97 301.86,151.04 302.21,151.20 302.56,151.33 302.91,151.68 303.26,151.53 303.61,150.91 303.96,150.97 304.30,150.92 304.65,150.68 305.00,150.90 305.35,151.36 305.70,151.44 306.05,151.25 306.40,151.82 306.75,152.33 307.10,152.04 307.45,151.73 307.80,151.38 308.15,151.21 308.50,151.56 308.85,151.85 309.20,152.16 309.54,152.43 309.89,152.19 310.24,152.09 310.59,151.96 310.94,151.26 311.29,151.00 311.64,151.25 311.99,151.51 312.34,151.75 312.69,151.98 313.04,152.45 313.39,152.61 313.74,152.16 314.09,151.84 314.44,152.02 314.79,151.96 315.14,151.63 315.48,151.85 315.83,152.12 316.18,152.25 316.53,152.56 316.88,152.35 317.23,151.80 317.58,151.64 317.93,151.72 318.28,151.80 318.63,151.86 318.98,152.13 319.33,152.35 319.68,152.29 320.03,151.82 320.38,151.75 320.73,152.27 321.08,152.43 321.43,152.47 321.78,152.47 322.13,152.59 322.47,152.78 322.82,152.66 323.17,152.31 323.52,151.94 323.87,152.07 324.22,152.12 324.57,152.01 324.92,152.14 325.27,152.49 325.62,152.41 325.97,151.81 326.32,151.74 326.67,152.11 327.02,152.35 327.37,152.30 327.72,152.20 328.07,152.24 328.42,152.52 328.77,152.58 329.12,152.26 329.47,151.95 329.82,151.84 330.17,152.26 330.51,152.50 330.86,152.41 331.21,152.23 331.56,151.52 331.91,151.14 332.26,151.47 332.61,151.93 332.96,152.24 333.31,152.30 333.66,152.42 334.01,152.50 334.36,152.12 334.71,151.68 335.06,152.09 335.41,152.51 335.76,152.04 336.11,152.25 336.46,152.93 336.81,152.68 337.16,152.23 337.51,152.44 337.86,152.92 338.21,152.83 338.56,152.48 338.91,152.60 339.26,152.85 339.61,153.10 339.96,153.06 340.31,152.37 340.65,152.03 341.00,152.68 341.35,153.27 341.70,153.07 342.05,153.04 342.40,153.05 342.75,152.67 343.10,152.57 343.45,152.51 343.80,152.49 344.15,152.84 344.50,152.92 344.85,152.42 345.20,151.98 345.55,152.05 345.90,152.40 346.25,152.59 346.60,152.48 346.95,152.25 347.30,152.48"/>
<path d="M55.60,154.11 55.95,154.08 56.30,154.09 56.65,154.09 57.00,154.01 57.35,153.94 57.70,154.05 58.05,154.17 58.40,154.02 58.75,153.85 59.10,153.83 59.45,153.89 59.80,153.86 60.15,153.64 60.50,153.59 60.85,153.70 61.20,153.73 61.55,153.84 61.90,154.01 62.25,154.17 62.60,154.22 62.95,154.02 63.30,153.77 63.65,153.66 64.00,153.72 64.35,153.72 64.70,153.65 65.05,153.78 65.40,153.95 65.75,153.96 66.10,153.91 66.45,153.84 66.80,153.78 67.15,153.68 67.50,153.65 67.85,153.90 68.20,154.12 68.55,154.05 68.90,153.89 69.25,153.89 69.60,153.97 69.95,153.95 70.30,153.96 70.65,153.90 71.00,153.85 71.35,153.97 71.70,153.98 72.05,153.95 72.40,153.97 72.75,153.90 73.10,153.88 73.45,153.91 73.80,153.88 74.15,153.84 74.50,153.72 74.85,153.62 75.20,153.68 75.55,153.79 75.90,153.95 76.25,153.95 76.60,153.77 76.95,153.68 77.30,153.58 77.65,153.60 78.00,153.63 78.35,153.48 78.70,153.54 79.05,153.80 79.40,153.91 79.75,153.84 80.10,153.92 80.45,154.10 80.80,153.95 81.15,153.89 81.50,154.10 81.85,154.07 82.20,153.97 82.55,154.04 82.90,154.04 83.25,154.01 83.60,153.91 83.95,153.84 84.30,153.97 84.65,153.92 85.00,153.73 85.35,153.80 85.70,153.95 86.05,153.92 86.40,153.92 86.75,154.00 87.10,153.86 87.45,153.75 87.80,153.94 88.15,154.12 88.50,154.18 88.85,154.19 89.20,154.10 89.55,154.13 89.90,154.14 90.25,154.08 90.60,154.22 90.95,154.29 91.30,154.24 91.65,154.25 92.00,154.04 91.96,153.56 92.03,153.25 92.10,152.91 92.11,152.54 92.16,152.21 92.24,151.90 92.30,151.51 92.33,151.11 92.35,150.79 92.37,150.45 92.41,150.04 92.46,149.68 92.51,149.33 92.58,148.96 92.57,148.74 92.55,148.56 92.65,148.30 92.74,147.91 92.78,147.51 92.82,147.17 92.89,146.76 92.93,146.31 92.86,145.96 92.86,145.60 92.91,145.18 92.90,144.78 92.87,144.42 92.94,144.05 93.00,143.70 93.02,143.45 93.03,143.13 93.09,142.78 93.23,142.48 93.34,142.11 93.35,141.69 93.24,141.26 93.22,140.79 93.27,140.36 93.28,140.14 93.34,139.94 93.38,139.56 93.43,139.30 93.50,139.05 93.59,138.67 93.68,138.41 93.64,138.13 93.58,137.76 93.62,137.40 93.63,136.93 93.63,136.47 93.64,136.13 93.72,135.72 93.83,135.27 93.81,135.02 93.79,134.83 93.83,134.43 93.93,133.99 93.99,133.65 93.91,133.32 93.92,132.97 93.99,132.56 93.98,132.13 94.06,131.76 94.18,131.50 94.17,131.33 94.13,131.12 94.13,130.79 94.15,130.41 94.21,129.97 94.32,129.47 94.43,129.05 94.43,128.68 94.35,128.29 94.36,128.08 94.39,127.89 94.35,127.55 94.39,127.15 94.44,126.68 94.42,126.23 94.47,125.92 94.52,125.67 94.48,125.47 94.50,125.14 94.58,124.63 94.61,124.21 94.64,123.89 94.73,123.50 94.74,123.12 94.71,122.85 94.72,122.57 94.71,122.18 94.76,121.75 94.87,121.36 94.89,121.03 94.89,120.75 94.91,120.38 94.90,120.01 94.92,119.67 94.91,119.29 94.90,118.87 94.92,118.58 94.91,118.41 94.94,118.08 94.96,117.74 95.04,117.44 95.13,117.02 95.08,116.63 95.02,116.30 95.02,115.99 95.00,115.63 94.95,115.22 94.98,114.84 95.08,114.54 95.09,114.16 95.02,113.68 95.08,113.35 95.17,113.05 95.14,112.64 95.13,112.27 95.16,112.00 95.16,111.65 95.24,111.28 95.26,110.89 95.14,110.49 95.18,110.14 95.26,109.77 95.24,109.45 95.19,109.19 95.17,108.89 95.17,108.54 95.25,108.26 95.30,107.99 95.23,107.55 95.20,107.05 95.25,106.69 95.30,106.37 95.32,106.04 95.33,105.67 95.30,105.37 95.20,105.13 95.21,104.74 95.38,104.32 95.43,103.96 95.31,103.67 95.30,103.40 95.42,103.07 95.49,102.62 95.52,102.16 95.51,101.88 95.47,101.70 95.46,101.37 95.46,100.86 95.47,100.40 95.53,100.11 95.56,99.71 95.53,99.28 95.51,99.03 95.50,98.84 95.46,98.54 95.42,98.10 95.36,97.72 95.40,97.40 95.51,96.98 95.52,96.55 95.47,96.24 95.49,96.00 95.61,95.70 95.64,95.33 95.59,94.93 95.60,94.55 95.65,94.14 95.69,93.76 95.60,93.53 95.50,93.23 95.58,92.80 95.70,92.44 95.68,92.17 95.64,91.88 95.67,91.48 95.69,91.05 95.65,90.61 95.55,90.20 95.59,89.90 95.69,89.62 95.71,89.28 95.78,88.97 95.83,88.67 95.77,88.31 95.71,87.96 95.69,87.61 95.69,87.23 95.69,86.87 95.61,86.47 95.65,86.09 95.81,85.78 95.87,85.43 95.88,85.11 95.87,84.82 95.86,84.48 95.91,84.06 95.88,83.67 95.85,83.40 95.88,83.06 95.87,82.67 95.95,82.35 96.06,82.06 96.05,81.71 96.03,81.24 96.00,80.79 95.99,80.47 96.01,80.26 95.99,80.00 95.94,79.60 95.95,79.21 95.98,78.89 95.94,78.49 95.99,78.11 96.08,77.72 96.06,77.34 96.01,77.09 96.05,76.77 96.12,76.32 96.16,75.93 96.18,75.69 96.26,75.40 96.32,74.93 96.22,74.53 96.14,74.20 96.24,73.74 96.32,73.34 96.29,73.08 96.30,72.79 96.40,72.45 96.43,72.13 96.37,71.82 96.36,71.45 96.44,71.05 96.54,70.74 96.58,70.49 96.51,70.21 96.48,69.86 96.53,69.39 96.57,68.86 96.60,68.51 96.60,68.28 96.63,67.92 96.69,67.57 96.71,67.34 96.70,66.99 96.72,66.56 96.76,66.21 96.80,65.84 96.84,65.49 96.82,65.18 96.79,64.77 96.92,64.34 97.06,64.04 97.07,63.72 97.08,63.41 97.08,63.11 97.02,62.78 97.03,62.53 97.17,62.15 97.26,61.67 97.26,61.37 97.26,61.09 97.27,60.64 97.28,60.21 97.31,59.99 97.34,59.70 97.34,59.24 97.31,58.89 97.35,58.58 97.43,58.19 97.40,57.81 97.36,57.51 97.40,57.26 97.48,56.86 97.64,56.47 97.71,56.15 97.66,55.75 97.60,55.43 97.58,55.16 97.66,54.84 97.70,54.49 97.72,54.12 97.79,53.75 97.87,53.41 97.86,53.12 97.76,52.76 97.74,52.35 97.84,52.01 97.91,51.67 98.02,51.24 98.15,50.86 98.17,50.49 98.14,50.03 98.19,49.70 98.22,49.43 98.18,49.10 98.18,48.83 98.22,48.48 98.20,48.10 98.16,47.77 98.18,47.41 98.22,47.02 98.27,46.65 98.32,46.36 98.38,46.11 98.46,45.82 98.45,45.45 98.39,45.01 98.43,44.53 98.48,44.14 98.54,43.91 98.54,43.62 98.53,43.23 98.53,42.94 98.53,42.63 98.56,42.24 98.59,41.89 98.60,41.45 98.59,40.97 98.58,40.64 98.60,40.37 98.61,40.04 98.68,39.64 98.75,39.25 98.74,38.91 98.77,38.61 98.84,38.34 98.81,38.05 98.75,37.70 98.79,37.30 98.85,36.93 98.86,36.57 98.86,36.27 98.84,35.89 98.86,35.40 98.91,35.07 98.95,34.86 98.92,34.51 98.92,34.08 98.95,33.77 98.92,33.47 98.96,32.98 99.02,32.53 99.02,32.21 99.09,31.93 99.11,31.64 99.11,31.35 99.20,31.08 99.25,30.67 99.24,30.19 99.29,29.80 99.39,29.48 99.43,29.27 99.40,29.00 99.38,28.60 99.40,28.19 99.50,27.78 99.62,27.53 99.70,27.23 99.76,26.78 99.83,26.52 99.83,26.15 99.84,25.54 99.97,25.11 100.05,24.94 100.05,24.75 100.15,24.39 100.29,24.05 100.44,23.73 100.62,23.31 100.75,22.85 100.84,22.50 100.98,22.21 101.18,22.00 101.38,21.99 101.61,21.76 101.90,21.67 102.25,22.02 102.62,22.03 102.98,21.91 103.30,22.13 103.55,22.28 103.79,22.60 104.07,23.03 104.33,23.25 104.54,23.52 104.75,23.97 104.99,24.41 105.21,24.47 105.43,24.42 105.63,24.62 105.86,25.01 106.09,25.45 106.31,25.86 106.55,26.22 106.78,26.43 107.00,26.65 107.23,26.91 107.45,27.16 107.68,27.50 107.90,27.89 108.10,28.09 108.29,28.05 108.50,28.09 108.73,28.50 109.00,28.83 109.27,28.93 109.48,29.34 109.68,29.81 109.93,29.93 110.18,30.25 110.41,30.92 110.66,31.22 110.91,31.30 111.13,31.69 111.38,31.87 111.62,31.97 111.86,32.30 112.12,32.38 112.36,32.43 112.59,32.70 112.84,32.97 113.11,33.20 113.37,33.65 113.59,34.13 113.82,34.30 114.07,34.55 114.31,34.87 114.55,35.03 114.78,35.30 114.97,35.55 115.18,35.78 115.39,36.07 115.63,36.33 115.89,36.52 116.07,36.69 116.21,37.02 116.42,37.43 116.63,37.63 116.83,37.75 117.01,38.04 117.16,38.41 117.35,38.82 117.53,39.19 117.69,39.44 117.84,39.67 118.01,39.92 118.17,40.04 118.31,40.29 118.47,40.72 118.64,41.00 118.80,41.29 118.95,41.74 119.07,42.16 119.21,42.45 119.38,42.79 119.55,43.06 119.70,43.21 119.85,43.57 119.98,44.13 120.09,44.60 120.25,45.04 120.39,45.42 120.53,45.61 120.70,45.82 120.88,46.11 121.05,46.41 121.20,46.65 121.28,47.06 121.37,47.48 121.51,47.63 121.71,47.99 121.89,48.46 121.98,48.69 122.08,48.90 122.23,49.24 122.38,49.53 122.50,49.83 122.58,50.22 122.69,50.55 122.90,50.90 123.11,51.26 123.21,51.53 123.29,51.86 123.44,52.21 123.62,52.57 123.84,52.92 123.96,53.16 124.06,53.35 124.22,53.61 124.37,54.00 124.52,54.48 124.65,54.96 124.77,55.26 124.92,55.43 125.07,55.62 125.25,55.73 125.38,55.97 125.44,56.42 125.60,56.78 125.85,56.99 126.00,57.37 126.09,57.89 126.26,58.13 126.39,58.49 126.49,59.11 126.62,59.40 126.79,59.60 126.96,59.93 127.05,60.28 127.16,60.61 127.39,60.70 127.52,60.92 127.57,61.37 127.69,61.82 127.84,62.19 128.00,62.32 128.17,62.63 128.29,63.15 128.38,63.60 128.53,63.95 128.70,64.33 128.87,64.66 129.02,64.82 129.11,65.11 129.23,65.49 129.35,65.71 129.48,65.95 129.65,66.25 129.75,66.51 129.83,66.80 129.98,67.11 130.13,67.47 130.24,67.85 130.41,68.28 130.54,68.90 130.64,69.37 130.82,69.53 130.96,69.64 131.04,69.95 131.15,70.41 131.32,70.75 131.41,70.98 131.44,71.29 131.54,71.65 131.67,71.91 131.76,72.13 131.88,72.36 132.06,72.78 132.19,73.25 132.32,73.54 132.46,73.88 132.53,74.31 132.64,74.68 132.77,74.93 132.88,75.10 133.02,75.54 133.17,75.89 133.31,75.98 133.43,76.34 133.52,76.83 133.61,77.07 133.72,77.41 133.86,77.85 134.03,78.19 134.22,78.47 134.36,78.75 134.50,79.18 134.68,79.63 134.81,79.76 134.89,79.90 134.95,80.37 135.06,80.72 135.24,81.03 135.39,81.38 135.52,81.67 135.65,82.10 135.81,82.47 136.00,82.80 136.12,82.97 136.26,83.11 136.43,83.54 136.57,84.00 136.78,84.39 136.95,84.66 137.05,84.84 137.17,85.22 137.32,85.60 137.49,85.74 137.72,85.89 137.88,86.27 137.99,86.82 138.16,87.14 138.39,87.19 138.57,87.49 138.67,87.92 138.80,88.13 138.99,88.41 139.21,88.63 139.44,88.85 139.64,89.33 139.78,89.84 139.92,90.40 140.11,90.74 140.31,90.83 140.49,91.14 140.71,91.41 140.91,91.44 141.07,91.74 141.28,92.23 141.54,92.43 141.75,92.60 141.92,92.89 142.13,93.14 142.35,93.47 142.51,93.97 142.68,94.31 142.88,94.31 143.10,94.42 143.31,94.73 143.50,94.96 143.68,95.40 143.86,96.11 144.06,96.54 144.29,96.52 144.52,96.60 144.71,96.85 144.90,96.96 145.13,97.41 145.32,98.07 145.47,98.25 145.66,98.15 145.89,98.44 146.07,99.02 146.23,99.33 146.42,99.56 146.63,99.89 146.81,100.02 146.97,100.25 147.17,100.75 147.34,101.01 147.51,101.13 147.73,101.47 147.90,101.90 148.06,102.26 148.26,102.63 148.41,103.00 148.56,103.32 148.78,103.48 149.01,103.53 149.20,103.67 149.39,104.13 149.60,104.86 149.80,105.24 150.02,105.14 150.22,105.31 150.35,105.84 150.49,106.16 150.70,106.33 150.92,106.51 151.15,106.69 151.36,107.14 151.54,107.77 151.75,108.12 151.98,108.16 152.19,108.33 152.39,108.77 152.65,109.16 152.88,109.29 153.09,109.40 153.30,109.80 153.50,110.13 153.74,110.13 154.00,110.31 154.23,110.82 154.43,111.27 154.62,111.56 154.85,111.67 155.11,111.77 155.33,111.96 155.50,112.16 155.69,112.42 155.91,112.77 156.16,113.21 156.43,113.56 156.66,113.67 156.86,113.89 157.11,114.34 157.39,114.80 157.59,114.98 157.77,115.14 157.99,115.48 158.20,115.68 158.43,115.95 158.72,116.44 159.01,116.82 159.23,117.13 159.42,117.35 159.64,117.45 159.89,117.46 160.12,117.62 160.31,118.02 160.55,118.38 160.84,118.63 161.10,118.76 161.33,118.82 161.57,119.11 161.80,119.68 162.01,120.05 162.26,120.15 162.53,120.48 162.75,120.77 162.97,120.76 163.21,120.85 163.42,121.21 163.65,121.71 163.93,121.94 164.20,121.90 164.42,122.01 164.63,122.52 164.89,122.99 165.14,123.12 165.34,123.33 165.57,123.60 165.85,123.73 166.12,124.09 166.33,124.43 166.53,124.48 166.79,124.70 167.08,125.10 167.35,125.36 167.58,125.59 167.82,125.90 168.07,126.08 168.32,126.14 168.57,126.41 168.83,126.93 169.10,127.40 169.37,127.54 169.65,127.57 169.91,127.92 170.17,128.19 170.44,128.29 170.70,128.57 170.97,128.99 171.27,129.16 171.52,129.10 171.77,129.30 172.06,129.53 172.36,129.80 172.62,130.23 172.86,130.34 173.13,130.25 173.43,130.48 173.72,130.71 174.00,130.87 174.28,131.27 174.57,131.54 174.84,131.72 175.10,132.12 175.38,132.46 175.68,132.43 175.98,132.59 176.27,132.94 176.55,132.91 176.83,132.81 177.09,133.08 177.37,133.59 177.68,133.88 177.99,134.01 178.27,134.13 178.55,134.18 178.86,134.21 179.17,134.46 179.44,134.86 179.72,135.25 180.02,135.47 180.34,135.37 180.63,135.32 180.93,135.67 181.23,136.02 181.52,136.12 181.81,136.51 182.12,136.86 182.43,136.89 182.72,136.82 183.02,136.71 183.32,136.81 183.61,137.07 183.92,137.47 184.23,137.72 184.53,137.89 184.83,138.27 185.14,138.41 185.45,138.35 185.76,138.34 186.07,138.44 186.38,138.99 186.68,139.46 186.99,139.41 187.30,139.42 187.62,139.64 187.93,139.94 188.23,140.09 188.55,139.91 188.87,139.80 189.18,140.23 189.50,140.72 189.82,140.84 190.14,140.90 190.45,140.76 190.76,140.73 191.07,141.20 191.40,141.48 191.72,141.43 192.04,141.59 192.36,141.80 192.68,141.92 193.00,142.11 193.33,142.03 193.65,141.91 193.97,142.20 194.30,142.41 194.63,142.58 194.96,142.86 195.28,143.04 195.61,143.36 195.94,143.63 196.27,143.40 196.59,143.11 196.92,143.42 197.25,143.88 197.58,143.85 197.91,143.78 198.24,144.07 198.58,144.38 198.92,144.55 199.25,144.54 199.58,144.40 199.91,144.46 200.24,144.66 200.57,144.58 200.91,144.44 201.25,144.59 201.58,144.97 201.92,145.62 202.25,146.12 202.59,146.16 202.93,145.88 203.27,145.72 203.61,145.87 203.95,145.95 204.28,145.90 204.62,145.75 204.96,145.85 205.31,146.42 205.65,146.74 205.99,146.80 206.33,147.18 206.67,147.10 207.01,146.48 207.35,146.32 207.70,146.43 208.04,146.54 208.38,146.68 208.72,146.96 209.07,147.37 209.41,147.48 209.75,147.34 210.09,147.26 210.43,147.33 210.78,147.47 211.12,147.59 211.46,147.63 211.81,147.50 212.15,147.43 212.50,147.95 212.84,148.35 213.18,147.89 213.53,147.68 213.87,148.05 214.22,147.80 214.56,147.41 214.91,147.84 215.25,148.35 215.60,148.58 215.95,148.76 216.29,148.69 216.64,148.23 216.98,147.74 217.33,147.93 217.67,148.53 218.02,148.67 218.37,148.37 218.71,148.45 219.06,148.53 219.41,148.05 219.75,148.00 220.10,148.60 220.45,148.93 220.79,148.62 221.14,148.41 221.48,148.63 221.83,148.87 222.18,149.18 222.52,149.35 222.87,149.45 223.21,149.49 223.56,149.45 223.91,149.78 224.26,150.02 224.61,150.01 224.95,149.92 225.30,149.76 225.65,149.87 225.99,149.77 226.34,149.48 226.69,149.54 227.04,149.58 227.38,149.64 227.73,150.01 228.08,150.23 228.43,150.08 228.78,149.81 229.12,149.67 229.47,150.10 229.82,150.63 230.17,150.68 230.51,150.42 230.86,150.04 231.21,149.92 231.56,149.97 231.90,149.78 232.25,149.99 232.60,150.42 232.95,150.63 233.30,150.72 233.64,150.47 233.99,150.34 234.34,150.38 234.69,150.39 235.04,150.43 235.39,150.58 235.73,150.67 236.08,150.73 236.43,151.17 236.78,151.34 237.13,151.11 237.48,151.15 237.82,151.14 238.17,151.34 238.52,151.37 238.87,150.68 239.22,150.32 239.57,150.44 239.92,150.77 240.26,151.41 240.61,151.89 240.96,151.98 241.31,152.12 241.66,151.95 242.01,151.50 242.36,151.73 242.71,152.04 243.05,151.80 243.40,151.65 243.75,151.46 244.10,151.01 244.45,151.12 244.80,151.64 245.15,151.68 245.50,151.37 245.85,151.39 246.19,151.56 246.54,151.74 246.89,151.94 247.24,151.92 247.59,151.62 247.94,151.21 248.29,151.31 248.64,151.52 248.99,151.45 249.34,151.62 249.69,151.61 250.04,151.67 250.38,151.93 250.73,151.73 251.08,151.51 251.43,151.68 251.78,152.28 252.13,152.41 252.48,151.77 252.83,151.74 253.18,152.20 253.53,152.36 253.88,151.89 254.23,151.70 254.58,152.14 254.93,152.09 255.28,151.84 255.63,151.64 255.98,151.64 256.32,152.11 256.67,152.66 257.02,152.66 257.37,152.39 257.72,152.39 258.07,152.38 258.42,152.42 258.77,152.60 259.12,152.58 259.47,152.35 259.82,152.38 260.17,152.56 260.52,152.45 260.87,152.57 261.22,152.90 261.57,152.81 261.92,152.78 262.27,152.98 262.62,152.71 262.97,152.50 263.32,152.93 263.67,152.70 264.02,152.23 264.37,152.84 264.72,153.44 265.07,152.98 265.42,152.30 265.77,152.57 266.11,152.85 266.46,152.45 266.81,152.40 267.16,152.95 267.51,153.33 267.86,153.22 268.21,153.05 268.56,152.65 268.91,152.58 269.26,153.11 269.61,152.90 269.96,152.46 270.31,152.87 270.66,153.06 271.01,152.79 271.36,152.88 271.71,152.92 272.06,152.67 272.41,152.51 272.76,152.54 273.11,152.49 273.46,152.43 273.81,152.44 274.16,152.45 274.51,152.71 274.86,152.76 275.21,152.74 275.56,153.40 275.91,153.97 276.26,153.52 276.61,152.97 276.96,153.23 277.31,153.28 277.66,152.94 278.01,152.82 278.36,153.16 278.71,153.59 279.06,153.39 279.41,152.90 279.76,152.70 280.11,152.92 280.46,153.51 280.81,153.62 281.16,153.05 281.51,152.86 281.86,152.85 282.21,152.86 282.56,153.22 282.91,153.14 283.26,152.58 283.61,152.76 283.96,153.42 284.31,153.54 284.66,153.30 285.01,153.02 285.36,153.04 285.71,153.19 286.06,152.91 286.41,152.74 286.76,153.16 287.11,153.33 287.46,153.19 287.81,153.51 288.16,153.49 288.51,153.06 288.86,153.08 289.21,153.33 289.56,153.56 289.91,153.36 290.26,152.71 290.61,152.77 290.96,153.40 291.31,153.55 291.66,153.49 292.01,153.72 292.36,153.65 292.71,153.32 293.06,153.32 293.41,153.33 293.76,153.63 294.11,153.65 294.46,153.14 294.81,153.18 295.16,153.25 295.51,153.19 295.86,153.12 296.21,152.83 296.56,152.95 296.91,153.54 297.26,153.64 297.61,153.06 297.96,153.12 298.31,153.99 298.66,154.13 299.01,153.50 299.36,152.99 299.71,153.05 300.06,153.20 300.41,153.37 300.76,153.78 301.11,153.77 301.46,153.37 301.81,152.97 302.16,152.79 302.50,153.03 302.85,153.32 303.20,153.32 303.55,153.32 303.90,153.51 304.25,153.79 304.60,153.92 304.95,153.44 305.30,153.06 305.65,153.50 306.00,153.83 306.35,153.51 306.70,153.31 307.05,153.40 307.40,153.57 307.75,153.47 308.10,153.19 308.45,153.40 308.80,153.92 309.15,154.14 309.50,154.10 309.85,153.86 310.20,153.45 310.55,153.46 310.90,153.54 311.25,153.24 311.60,152.96 311.95,152.80 312.30,152.94 312.65,153.00 313.00,153.08 313.35,153.37 313.70,153.30 314.05,153.22 314.40,153.24 314.75,153.46 315.10,153.79 315.45,153.63 315.80,153.29 316.15,153.05 316.50,153.10 316.85,153.30 317.20,153.28 317.55,153.32 317.90,153.75 318.25,154.07 318.60,153.74 318.95,153.42 319.30,153.75 319.65,154.45 320.00,154.53 320.35,154.13 320.70,153.77 321.05,153.42 321.40,153.44 321.75,153.64 322.10,153.51 322.45,153.18 322.80,153.26 323.15,153.68 323.50,153.44 323.85,152.99 324.20,153.50 324.55,153.93 324.90,153.63 325.25,153.33 325.60,153.29 325.95,153.45 326.30,153.16 326.65,152.95 327.00,153.64 327.35,154.15 327.70,153.55 328.05,153.17 328.40,153.60 328.75,154.05 329.10,154.00 329.45,153.21 329.80,152.83 330.15,153.32 330.50,153.76 330.85,154.00 331.20,153.81 331.55,153.18 331.90,153.09 332.25,153.60 332.60,153.98 332.95,153.87 333.30,153.41 333.65,153.38 334.00,153.93 334.35,154.46 334.70,154.47 335.05,154.21 335.40,153.96 335.75,153.43 336.10,153.16 336.45,153.26 336.80,153.25 337.15,153.20 337.50,153.33 337.85,153.48 338.20,153.62 338.55,153.80 338.90,153.75 339.25,153.90 339.60,154.21 339.95,154.05 340.30,153.77 340.65,153.70 341.00,153.79 341.35,153.74 341.70,153.69 342.05,154.19 342.40,154.58 342.75,154.24 343.10,153.44 343.45,152.99 343.80,153.29 344.15,153.79 344.50,153.95 344.85,153.71 345.20,153.80 345.55,154.02 345.90,153.89 346.25,154.07 346.60,153.94 346.95,153.43 347.30,153.46"/>
<path d="M55.60,153.87 55.95,153.88 56.30,153.75 56.65,153.66 57.00,153.88 57.35,153.95 57.70,153.82 58.05,153.99 58.40,154.01 58.75,153.74 59.10,153.73 59.45,153.96 59.80,154.04 60.15,153.97 60.50,153.85 60.85,153.84 61.20,153.90 61.55,153.89 61.90,153.85 62.25,153.69 62.60,153.59 62.95,153.74 63.30,153.86 63.65,153.69 64.00,153.69 64.35,153.93 64.70,154.10 65.05,154.29 65.40,154.30 65.75,154.14 66.10,153.91 66.45,153.66 66.80,153.66 67.15,153.79 67.50,153.77 67.85,153.66 68.20,153.64 68.55,153.80 68.90,154.01 69.25,154.00 69.60,153.87 69.95,153.86 70.30,153.88 70.65,153.81 71.00,153.72 71.35,153.71 71.70,153.94 72.05,154.08 72.40,154.04 72.75,154.01 73.10,154.10 73.45,154.19 73.80,153.97 74.15,153.68 74.50,153.73 74.85,153.99 75.20,154.13 75.55,154.12 75.90,154.06 76.25,153.88 76.60,153.68 76.95,153.60 77.30,153.60 77.65,153.65 78.00,153.71 78.35,153.82 78.70,153.76 79.05,153.69 79.40,153.92 79.75,153.95 80.10,153.78 80.45,153.87 80.80,153.98 81.15,153.96 81.50,154.00 81.85,154.04 82.20,154.06 82.55,153.98 82.90,153.92 83.25,154.00 83.60,154.04 83.95,153.95 84.30,153.81 84.65,153.75 85.00,153.77 85.35,153.82 85.70,153.90 86.05,153.93 86.40,153.90 86.75,153.90 87.10,154.02 87.45,154.18 87.80,154.11 88.15,153.93 88.50,153.89 88.85,153.88 89.20,153.85 89.55,153.82 89.90,153.72 90.25,153.56 90.60,153.56 90.95,153.87 91.30,154.00 91.65,153.89 92.00,153.88 92.35,153.90 92.60,153.87 92.65,153.51 92.67,153.17 92.74,152.80 92.87,152.41 92.97,152.13 93.03,151.77 93.08,151.39 93.09,151.12 93.02,150.84 93.12,150.49 93.16,150.13 93.14,149.66 93.31,149.23 93.47,148.93 93.42,148.77 93.49,148.69 93.69,148.33 93.69,147.71 93.61,147.28 93.68,147.04 93.78,146.69 93.87,146.21 93.96,145.92 93.96,145.81 94.05,145.39 94.12,144.73 94.06,144.28 94.13,144.07 94.23,143.89 94.22,143.58 94.23,143.11 94.31,142.69 94.41,142.47 94.50,142.22 94.62,141.81 94.69,141.44 94.68,141.14 94.69,140.74 94.76,140.32 94.77,139.98 94.81,139.66 94.93,139.43 95.01,139.07 95.00,138.63 95.01,138.37 95.15,138.03 95.29,137.52 95.23,137.27 95.17,137.02 95.24,136.54 95.33,136.12 95.38,135.79 95.43,135.42 95.48,134.98 95.52,134.63 95.55,134.42 95.59,134.19 95.68,133.89 95.76,133.59 95.78,133.29 95.81,132.93 95.81,132.50 95.85,132.04 95.96,131.79 96.04,131.66 96.07,131.36 96.09,130.90 96.08,130.50 96.15,130.11 96.29,129.76 96.30,129.45 96.23,129.02 96.27,128.69 96.37,128.37 96.40,127.87 96.46,127.46 96.50,127.08 96.60,126.76 96.75,126.49 96.81,126.17 96.73,125.82 96.66,125.44 96.73,125.06 96.80,124.69 96.86,124.32 96.88,124.01 96.84,123.71 96.90,123.36 96.95,123.05 97.00,122.70 97.06,122.37 97.03,122.11 97.05,121.65 97.05,121.20 96.97,120.86 96.98,120.50 97.11,120.21 97.26,119.86 97.34,119.46 97.34,119.18 97.25,118.94 97.19,118.66 97.26,118.30 97.36,118.02 97.47,117.64 97.57,117.12 97.60,116.76 97.56,116.51 97.49,116.14 97.43,115.74 97.42,115.34 97.46,114.94 97.50,114.59 97.48,114.21 97.48,113.84 97.50,113.64 97.54,113.48 97.60,113.13 97.60,112.66 97.60,112.28 97.64,111.99 97.70,111.68 97.71,111.26 97.80,110.82 97.80,110.50 97.62,110.29 97.60,109.97 97.74,109.41 97.82,108.97 97.80,108.74 97.78,108.43 97.79,108.11 97.80,107.80 97.81,107.36 97.80,106.84 97.70,106.46 97.76,106.19 97.96,105.88 97.96,105.54 97.94,105.16 98.07,104.78 98.13,104.42 98.07,104.11 98.03,103.83 98.06,103.59 98.03,103.27 97.98,102.81 98.05,102.46 98.13,102.24 98.22,101.89 98.23,101.50 98.13,101.19 98.11,100.89 98.20,100.52 98.24,100.14 98.22,99.72 98.25,99.26 98.32,98.89 98.38,98.59 98.41,98.28 98.37,97.94 98.26,97.60 98.28,97.22 98.40,96.78 98.43,96.42 98.42,96.20 98.41,95.87 98.39,95.45 98.40,95.15 98.41,94.83 98.47,94.38 98.60,93.90 98.74,93.54 98.74,93.35 98.69,93.10 98.74,92.67 98.77,92.23 98.74,91.87 98.75,91.57 98.85,91.22 98.96,90.72 98.88,90.38 98.81,90.22 98.98,89.90 99.08,89.54 99.05,89.29 99.11,88.88 99.14,88.37 99.13,88.10 99.11,87.86 99.08,87.43 99.06,87.09 99.05,86.81 99.12,86.38 99.25,85.92 99.29,85.55 99.34,85.25 99.39,84.94 99.39,84.59 99.43,84.26 99.47,83.88 99.49,83.50 99.55,83.14 99.57,82.88 99.53,82.70 99.53,82.42 99.62,82.04 99.77,81.59 99.92,81.21 99.96,80.90 99.96,80.54 99.98,80.19 100.02,79.89 100.06,79.58 100.09,79.24 100.10,78.88 100.12,78.46 100.21,78.02 100.29,77.60 100.25,77.23 100.26,76.93 100.35,76.68 100.50,76.34 100.59,76.00 100.49,75.75 100.46,75.42 100.62,75.09 100.68,74.65 100.65,74.10 100.73,73.85 100.78,73.59 100.81,73.13 100.96,72.80 101.08,72.45 101.09,72.10 101.09,71.74 101.14,71.33 101.25,71.04 101.34,70.71 101.43,70.39 101.56,70.25 101.58,70.03 101.60,69.60 101.76,69.17 101.84,68.74 101.85,68.36 101.90,68.14 101.95,67.90 102.03,67.51 102.08,67.10 102.22,66.78 102.46,66.41 102.58,65.90 102.60,65.61 102.70,65.41 102.89,64.99 103.04,64.48 103.22,64.16 103.47,64.04 103.77,63.82 104.09,63.43 104.38,63.52 104.68,64.07 104.97,64.39 105.23,64.41 105.49,64.55 105.72,65.02 105.91,65.57 106.06,65.79 106.20,65.98 106.32,66.45 106.38,66.90 106.40,67.04 106.46,67.11 106.61,67.44 106.80,67.84 106.94,68.13 107.05,68.44 107.17,68.79 107.24,69.18 107.30,69.63 107.37,69.92 107.53,70.04 107.77,70.33 107.90,70.85 107.93,71.38 108.06,71.72 108.26,71.86 108.40,72.02 108.46,72.40 108.58,72.81 108.69,73.12 108.72,73.42 108.83,73.78 108.99,74.29 109.15,74.84 109.34,75.12 109.46,75.28 109.49,75.57 109.58,75.91 109.75,76.24 109.87,76.54 109.94,76.94 110.01,77.41 110.12,77.74 110.30,78.06 110.50,78.41 110.64,78.60 110.75,78.66 110.84,78.89 110.91,79.34 111.05,79.84 111.23,80.30 111.32,80.65 111.40,80.82 111.55,81.12 111.71,81.66 111.82,82.04 111.89,82.26 111.99,82.66 112.17,83.10 112.33,83.36 112.39,83.47 112.47,83.75 112.59,84.32 112.71,84.74 112.86,84.92 113.03,85.08 113.19,85.33 113.35,85.74 113.53,86.20 113.69,86.51 113.77,86.76 113.90,87.16 114.10,87.52 114.28,87.71 114.46,87.83 114.67,88.20 114.90,88.62 115.12,88.62 115.34,88.59 115.61,88.96 115.91,89.28 116.18,89.23 116.43,89.43 116.71,89.85 117.01,90.17 117.28,90.42 117.56,90.39 117.85,90.43 118.12,91.01 118.36,91.55 118.61,91.65 118.88,91.87 119.10,92.14 119.34,92.39 119.60,92.82 119.80,93.13 119.96,93.20 120.16,93.15 120.38,93.23 120.56,93.62 120.76,94.16 121.03,94.66 121.26,95.15 121.43,95.49 121.61,95.57 121.82,95.78 122.01,96.26 122.17,96.60 122.36,96.73 122.57,97.00 122.79,97.27 122.97,97.57 123.11,97.91 123.34,98.03 123.57,98.30 123.73,98.78 123.90,99.08 124.11,99.30 124.33,99.64 124.50,99.97 124.64,100.27 124.81,100.64 125.03,101.05 125.26,101.46 125.42,101.78 125.58,101.93 125.80,102.06 125.95,102.28 126.10,102.69 126.29,103.16 126.47,103.38 126.64,103.68 126.84,103.96 127.04,103.94 127.20,104.15 127.39,104.50 127.61,104.71 127.84,104.96 128.06,105.48 128.27,106.07 128.45,106.35 128.66,106.49 128.87,106.59 129.03,106.79 129.22,107.29 129.42,107.59 129.61,107.72 129.84,108.05 130.08,108.34 130.30,108.49 130.54,108.70 130.75,108.96 130.94,109.33 131.15,109.81 131.38,110.18 131.57,110.40 131.78,110.57 132.03,110.96 132.28,111.30 132.50,111.39 132.66,111.77 132.84,112.14 133.12,112.25 133.37,112.42 133.58,112.61 133.83,112.73 134.05,113.00 134.22,113.33 134.41,113.66 134.64,114.23 134.90,114.50 135.15,114.31 135.36,114.54 135.54,115.14 135.75,115.54 135.97,115.81 136.19,116.14 136.42,116.50 136.67,116.89 136.94,117.17 137.20,117.28 137.44,117.32 137.65,117.36 137.87,117.57 138.12,117.99 138.36,118.65 138.59,119.12 138.82,119.02 139.05,118.93 139.28,119.25 139.52,119.65 139.76,120.02 140.01,120.43 140.24,120.49 140.48,120.51 140.73,120.93 141.01,121.14 141.25,121.39 141.46,121.84 141.69,121.87 141.93,121.79 142.20,122.07 142.48,122.64 142.73,123.21 142.95,123.49 143.20,123.47 143.45,123.70 143.71,124.10 143.98,124.33 144.23,124.62 144.47,124.82 144.71,124.91 144.96,125.11 145.23,125.34 145.49,125.46 145.71,125.64 145.96,125.91 146.22,126.19 146.47,126.53 146.76,126.77 147.06,126.93 147.35,127.13 147.58,127.54 147.81,127.97 148.07,128.00 148.34,127.99 148.63,128.30 148.91,128.65 149.18,128.81 149.44,128.96 149.68,129.20 149.92,129.51 150.19,129.82 150.50,129.88 150.80,129.77 151.08,129.81 151.34,130.17 151.61,130.85 151.90,131.40 152.18,131.57 152.45,131.68 152.72,131.86 153.02,131.93 153.30,131.88 153.57,131.88 153.84,132.11 154.11,132.57 154.38,133.15 154.66,133.44 154.97,133.39 155.27,133.53 155.57,133.69 155.87,133.58 156.16,133.58 156.45,133.81 156.73,134.07 157.02,134.42 157.30,134.75 157.60,134.95 157.90,135.20 158.20,135.37 158.50,135.52 158.78,135.67 159.09,135.70 159.39,136.01 159.69,136.31 160.00,136.21 160.29,136.34 160.58,136.75 160.88,137.04 161.18,137.38 161.48,137.63 161.78,137.66 162.08,137.87 162.38,138.18 162.68,138.22 162.98,138.19 163.28,138.50 163.58,138.83 163.88,138.98 164.18,139.09 164.49,139.21 164.80,139.27 165.10,139.24 165.40,139.49 165.70,139.96 166.00,140.13 166.30,140.12 166.59,140.20 166.89,140.43 167.20,140.87 167.52,141.21 167.83,141.05 168.13,141.10 168.43,141.70 168.73,141.78 169.03,141.53 169.35,141.90 169.67,142.21 169.99,142.18 170.31,142.39 170.60,142.43 170.91,142.42 171.23,142.65 171.55,142.75 171.87,143.06 172.17,143.60 172.48,143.54 172.80,143.53 173.13,143.90 173.45,144.19 173.77,144.37 174.08,144.38 174.40,144.45 174.72,144.61 175.04,144.70 175.37,144.77 175.69,145.10 176.02,145.40 176.35,145.20 176.67,145.10 176.98,145.41 177.31,145.77 177.64,146.03 177.97,145.99 178.29,145.80 178.63,145.99 178.95,146.18 179.28,146.27 179.61,146.21 179.94,146.11 180.27,146.51 180.60,146.67 180.94,146.52 181.27,146.98 181.60,147.43 181.93,147.37 182.27,147.37 182.60,147.30 182.94,147.12 183.27,147.17 183.61,147.62 183.95,148.18 184.29,148.17 184.63,148.01 184.97,148.20 185.31,148.14 185.65,148.07 186.00,148.20 186.33,147.98 186.67,148.09 187.02,148.44 187.36,148.37 187.70,148.39 188.04,148.42 188.38,148.60 188.73,148.81 189.07,148.56 189.41,148.42 189.76,148.81 190.10,149.05 190.44,148.99 190.78,149.32 191.12,149.56 191.47,149.43 191.81,149.32 192.15,149.33 192.50,149.67 192.85,150.23 193.19,150.57 193.54,150.43 193.88,150.32 194.23,150.24 194.57,150.03 194.92,150.10 195.27,149.97 195.61,150.01 195.96,150.43 196.31,150.64 196.66,150.47 197.01,150.11 197.35,150.14 197.70,150.24 198.04,150.00 198.39,150.02 198.74,150.56 199.09,150.63 199.44,150.15 199.78,149.97 200.13,150.45 200.48,151.02 200.82,150.92 201.17,150.78 201.52,150.97 201.86,151.02 202.21,151.13 202.56,151.30 202.91,151.37 203.25,151.20 203.60,150.87 203.95,150.91 204.30,151.09 204.65,151.18 205.00,151.15 205.35,151.02 205.69,151.25 206.04,151.50 206.39,151.16 206.74,151.03 207.09,151.58 207.43,151.82 207.78,151.59 208.13,151.40 208.48,151.30 208.83,151.58 209.18,152.06 209.53,152.10 209.87,151.81 210.22,151.40 210.57,151.24 210.92,151.69 211.27,152.16 211.62,152.54 211.97,152.71 212.32,152.47 212.66,152.09 213.01,151.93 213.36,152.30 213.71,152.67 214.06,152.69 214.41,152.54 214.76,152.55 215.11,152.53 215.45,152.25 215.80,152.42 216.15,152.49 216.50,151.94 216.85,151.80 217.20,152.22 217.55,152.47 217.90,152.61 218.25,152.50 218.60,152.25 218.94,152.53 219.29,152.74 219.64,152.43 219.99,152.11 220.34,152.18 220.69,152.87 221.04,153.03 221.39,152.51 221.74,152.71 222.09,152.88 222.44,152.48 222.79,152.22 223.14,152.10 223.49,152.24 223.83,152.68 224.18,152.92 224.53,152.97 224.88,153.03 225.23,152.74 225.58,152.63 225.93,153.22 226.28,153.27 226.63,153.03 226.98,153.33 227.33,153.28 227.68,153.26 228.03,153.16 228.38,152.25 228.73,152.14 229.08,152.83 229.42,152.79 229.77,152.83 230.12,153.36 230.47,153.15 230.82,152.53 231.17,152.70 231.52,153.46 231.87,153.41 232.22,152.71 232.57,152.74 232.92,152.69 233.27,152.42 233.62,152.49 233.97,152.47 234.32,152.94 234.67,153.65 235.02,153.70 235.37,153.59 235.72,153.55 236.07,153.55 236.42,153.38 236.77,152.92 237.12,153.05 237.47,153.33 237.82,153.07 238.16,153.19 238.51,153.84 238.86,153.87 239.21,153.20 239.56,153.02 239.91,153.41 240.26,153.39 240.61,153.25 240.96,153.51 241.31,153.64 241.66,153.80 242.01,154.26 242.36,154.28 242.71,154.04 243.06,154.19 243.41,154.40 243.76,153.98 244.11,153.41 244.46,153.42 244.81,153.41 245.16,153.30 245.51,153.47 245.86,153.56 246.21,153.39 246.56,153.42 246.91,153.39 247.26,153.21 247.61,153.48 247.96,153.66 248.31,153.23 248.66,153.13 249.01,153.42 249.36,153.07 249.71,153.04 250.05,153.49 250.40,153.36 250.75,152.95 251.10,152.70 251.45,153.08 251.80,153.66 252.15,153.76 252.50,153.61 252.85,153.66 253.20,153.64 253.55,153.30 253.90,153.54 254.25,153.97 254.60,153.84 254.95,153.87 255.30,154.07 255.65,154.00 256.00,153.73 256.35,153.74 256.70,153.78 257.05,153.66 257.40,153.57 257.75,153.42 258.10,153.42 258.45,153.63 258.80,153.82 259.15,153.52 259.50,153.12 259.85,153.29 260.20,153.42 260.55,153.58 260.90,154.04 261.25,154.18 261.60,153.91 261.95,153.51 262.30,153.60 262.65,153.73 263.00,153.45 263.35,153.61 263.70,153.72 264.05,153.58 264.40,153.49 264.75,153.42 265.10,153.42 265.45,153.15 265.79,153.34 266.14,153.87 266.49,153.39 266.84,153.09 267.19,153.60 267.54,153.31 267.89,152.92 268.24,153.55 268.59,154.12 268.94,154.33 269.29,154.38 269.64,154.12 269.99,153.78 270.34,153.57 270.69,153.92 271.04,154.41 271.39,154.24 271.74,153.60 272.09,153.09 272.44,153.12 272.79,153.43 273.14,153.72 273.49,153.74 273.84,153.63 274.19,153.85 274.54,154.08 274.89,153.76 275.24,153.99 275.59,154.54 275.94,154.07 276.29,153.66 276.64,154.05 276.99,154.40 277.34,153.95 277.69,153.34 278.04,153.22 278.39,153.48 278.74,154.13 279.09,154.10 279.44,153.80 279.79,154.06 280.14,153.91 280.49,153.79 280.84,154.14 281.19,153.73 281.54,153.44 281.89,154.27 282.24,154.80 282.59,154.61 282.94,154.09 283.29,153.79 283.64,154.32 283.98,154.77 284.33,154.70 284.68,154.39 285.03,154.03 285.38,154.22 285.73,154.09 286.08,153.23 286.43,152.93 286.78,153.35 287.13,153.84 287.48,153.98 287.83,153.85 288.18,153.78 288.53,153.82 288.88,153.97 289.23,154.16 289.58,154.12 289.93,153.97 290.28,153.86 290.63,153.89 290.98,153.97 291.33,154.11 291.68,154.33 292.03,154.18 292.38,153.83 292.73,153.60 293.08,153.65 293.43,153.87 293.78,153.80 294.13,153.47 294.48,153.38 294.83,153.72 295.18,154.03 295.53,154.30 295.88,154.34 296.23,153.64 296.58,153.12 296.93,153.18 297.28,153.01 297.63,153.31 297.98,154.11 298.33,154.14 298.68,153.65 299.03,153.54 299.38,153.45 299.73,153.36 300.08,153.69 300.43,154.16 300.78,154.27 301.13,154.01 301.47,153.94 301.82,154.00 302.17,153.96 302.52,153.86 302.87,153.90 303.22,153.73 303.57,153.51 303.92,153.78 304.27,154.10 304.62,154.38 304.97,154.64 305.32,154.10 305.67,153.27 306.02,153.07 306.37,153.09 306.72,153.54 307.07,153.82 307.42,153.35 307.77,153.30 308.12,153.70 308.47,154.10 308.82,154.45 309.17,154.38 309.52,154.44 309.87,154.51 310.22,154.03 310.57,153.65 310.92,153.61 311.27,154.00 311.62,154.54 311.97,154.55 312.32,154.01 312.67,153.53 313.02,153.29 313.37,153.33 313.72,153.95 314.07,154.05 314.42,153.09 314.77,153.10 315.12,153.77 315.47,153.66 315.82,153.54 316.17,153.68 316.52,154.11 316.87,154.35 317.22,154.25 317.57,154.24 317.92,154.18 318.27,154.44 318.62,154.83 318.97,154.50 319.31,153.75 319.66,153.50 320.01,153.67 320.36,153.82 320.71,153.81 321.06,153.85 321.41,154.06 321.76,154.12 322.11,154.06 322.46,154.10 322.81,153.94 323.16,153.90 323.51,154.33 323.86,154.40 324.21,154.25 324.56,154.41 324.91,154.54 325.26,154.41 325.61,154.11 325.96,153.63 326.31,153.38 326.66,153.68 327.01,153.82 327.36,154.11 327.71,154.23 328.06,153.64 328.41,153.85 328.76,154.53 329.11,154.69 329.46,154.32 329.81,153.56 330.16,153.50 330.51,153.94 330.86,154.24 331.21,154.52 331.56,154.35 331.91,154.13 332.26,154.09 332.61,153.95 332.96,153.83 333.31,153.73 333.66,153.74 334.01,153.82 334.36,153.71 334.71,153.25 335.06,153.28 335.41,153.89 335.76,153.94 336.11,153.62 336.46,153.53 336.81,153.88 337.16,154.16 337.51,154.04 337.85,154.13 338.20,154.04 338.55,153.91 338.90,153.87 339.25,153.94 339.60,154.35 339.95,154.35 340.30,153.84 340.65,153.93 341.00,154.70 341.35,154.79 341.70,154.20 342.05,153.93 342.40,154.02 342.75,154.24 343.10,154.22 343.45,153.84 343.80,153.67 344.15,153.92 344.50,154.58 344.85,154.79 345.20,154.33 345.55,154.37 345.90,154.48 346.25,153.94 346.60,153.77 346.95,154.24 347.30,154.28"/>
<path d="M55.60,153.84 55.95,153.95 56.30,154.00 56.65,154.06 57.00,154.06 57.35,154.00 57.70,153.80 58.05,153.77 58.40,153.96 58.75,153.99 59.10,154.05 59.45,154.16 59.80,154.07 60.15,153.91 60.50,153.96 60.85,154.15 61.20,154.16 61.55,153.91 61.90,153.74 62.25,153.82 62.60,153.90 62.95,153.99 63.30,154.01 63.65,153.88 64.00,153.95 64.35,154.05 64.70,153.97 65.05,153.81 65.40,153.70 65.75,153.67 66.10,153.76 66.45,153.96 66.80,153.91 67.15,153.76 67.50,153.74 67.85,153.61 68.20,153.64 68.55,154.01 68.90,154.04 69.25,153.74 69.60,153.73 69.95,153.86 70.30,153.82 70.65,153.74 71.00,153.77 71.35,153.81 71.70,153.83 72.05,153.88 72.40,153.84 72.75,153.79 73.10,153.75 73.45,153.79 73.80,153.87 74.15,153.77 74.50,153.81 74.85,153.97 75.20,154.00 75.55,154.05 75.90,154.02 76.25,153.84 76.60,153.83 76.95,153.89 77.30,153.81 77.65,153.88 78.00,153.99 78.35,153.87 78.70,153.78 79.05,153.83 79.40,153.87 79.75,153.90 80.10,153.92 80.45,153.95 80.80,153.98 81.15,154.07 81.50,154.06 81.85,153.99 82.20,154.04 82.55,154.00 82.90,153.97 83.25,153.95 83.60,153.75 83.95,153.74 84.30,153.94 84.65,153.86 85.00,153.82 85.35,154.00 85.70,154.11 86.05,154.27 86.40,154.30 86.75,154.12 87.10,154.03 87.45,153.94 87.80,153.80 88.15,153.85 88.50,153.91 88.85,153.87 89.20,153.81 89.55,153.79 89.90,154.01 90.25,154.05 90.60,153.83 90.95,153.94 91.30,154.14 91.65,153.99 92.00,153.73 92.35,153.77 92.70,154.07 92.99,154.09 93.08,153.56 93.17,153.17 93.26,152.83 93.35,152.52 93.46,152.22 93.53,151.84 93.65,151.58 93.80,151.43 93.86,150.97 93.94,150.57 93.94,150.33 93.96,149.91 94.16,149.54 94.31,149.21 94.28,148.80 94.27,148.59 94.42,148.38 94.60,147.95 94.74,147.49 94.86,147.01 94.93,146.57 94.92,146.35 94.97,146.19 95.16,145.90 95.27,145.48 95.30,145.00 95.34,144.63 95.41,144.37 95.55,144.15 95.73,143.88 95.82,143.43 95.89,142.99 95.95,142.64 95.96,142.30 96.00,141.87 96.10,141.37 96.21,141.01 96.29,140.82 96.41,140.65 96.45,140.35 96.46,140.05 96.60,139.71 96.68,139.31 96.63,139.04 96.65,138.68 96.72,138.30 96.81,137.97 96.94,137.47 97.11,137.06 97.23,136.85 97.28,136.59 97.37,136.12 97.51,135.66 97.57,135.41 97.57,135.27 97.58,135.11 97.56,134.75 97.62,134.19 97.75,133.74 97.83,133.41 97.87,133.06 97.98,132.78 98.10,132.48 98.15,132.11 98.19,131.76 98.29,131.38 98.47,131.09 98.58,130.89 98.57,130.52 98.63,130.02 98.76,129.64 98.78,129.38 98.74,129.13 98.76,128.87 98.93,128.55 99.08,128.06 99.15,127.67 99.24,127.51 99.27,127.22 99.31,126.83 99.42,126.38 99.46,125.85 99.48,125.47 99.48,125.25 99.52,124.95 99.63,124.50 99.74,124.21 99.75,124.04 99.79,123.66 99.94,123.28 100.04,122.95 100.07,122.50 100.08,122.14 100.16,121.85 100.33,121.51 100.41,121.10 100.50,120.71 100.63,120.37 100.68,120.02 100.69,119.74 100.73,119.46 100.82,119.13 100.91,118.70 100.95,118.32 100.97,118.10 101.05,117.73 101.14,117.22 101.20,116.95 101.27,116.65 101.35,116.17 101.39,115.85 101.43,115.59 101.44,115.19 101.43,114.90 101.48,114.66 101.59,114.18 101.73,113.67 101.81,113.26 101.80,112.94 101.80,112.76 101.90,112.65 102.03,112.29 102.07,111.84 102.10,111.63 102.16,111.28 102.19,110.84 102.28,110.52 102.38,110.13 102.41,109.61 102.49,109.16 102.67,108.90 102.77,108.67 102.75,108.33 102.84,108.02 103.02,107.74 103.13,107.38 103.12,107.07 103.16,106.71 103.33,106.29 103.51,105.90 103.57,105.56 103.67,105.13 103.77,104.72 103.75,104.51 103.86,104.32 104.11,104.05 104.25,103.63 104.33,103.13 104.50,102.69 104.68,102.27 104.82,102.17 104.97,102.32 105.14,102.23 105.36,101.84 105.64,101.45 105.96,101.18 106.28,100.75 106.54,100.22 106.78,100.36 107.01,100.97 107.26,101.22 107.47,101.28 107.66,101.45 107.84,101.77 108.00,102.10 108.16,102.36 108.33,102.70 108.50,103.19 108.68,103.57 108.78,104.00 108.91,104.51 109.14,104.71 109.31,104.87 109.46,105.14 109.62,105.44 109.73,105.91 109.85,106.26 110.02,106.53 110.19,106.98 110.36,107.34 110.51,107.44 110.59,107.77 110.72,108.31 110.89,108.66 110.99,108.90 111.12,109.09 111.32,109.33 111.53,109.65 111.70,109.99 111.86,110.22 112.03,110.55 112.22,111.05 112.39,111.15 112.57,111.12 112.80,111.45 113.03,111.74 113.23,111.98 113.40,112.34 113.64,112.73 113.90,113.03 114.10,113.13 114.27,113.28 114.46,113.80 114.69,114.22 114.93,114.41 115.17,114.81 115.40,115.14 115.62,115.31 115.81,115.54 116.02,115.73 116.25,115.91 116.50,116.22 116.76,116.76 117.04,117.12 117.30,117.27 117.52,117.40 117.74,117.37 117.98,117.53 118.20,118.09 118.45,118.60 118.71,118.81 118.95,118.85 119.17,118.92 119.39,119.33 119.62,119.79 119.88,119.79 120.15,119.83 120.41,120.34 120.67,120.93 120.91,121.24 121.16,121.17 121.43,121.08 121.68,121.50 121.91,121.91 122.18,122.06 122.47,122.29 122.77,122.51 123.03,122.81 123.27,123.08 123.54,123.35 123.80,123.77 124.05,123.92 124.31,123.91 124.58,124.03 124.86,124.27 125.13,124.39 125.41,124.35 125.69,124.62 125.96,125.13 126.25,125.27 126.54,125.10 126.81,125.29 127.09,125.85 127.37,126.33 127.65,126.52 127.92,126.62 128.18,126.92 128.44,127.11 128.72,127.24 129.01,127.60 129.30,128.02 129.60,128.28 129.89,128.36 130.17,128.34 130.47,128.38 130.75,128.52 131.02,128.77 131.30,129.05 131.58,129.36 131.89,129.76 132.18,130.05 132.45,130.22 132.74,130.42 133.05,130.64 133.34,130.83 133.62,131.05 133.92,131.26 134.20,131.37 134.49,131.31 134.79,131.17 135.08,131.54 135.38,132.22 135.68,132.44 135.97,132.42 136.26,132.47 136.57,132.78 136.88,133.11 137.17,133.02 137.47,133.11 137.77,133.29 138.07,133.24 138.36,133.34 138.66,133.66 138.96,133.95 139.26,134.26 139.55,134.49 139.85,134.55 140.16,134.95 140.48,135.44 140.79,135.40 141.09,135.02 141.39,135.10 141.70,135.73 142.00,136.00 142.31,136.11 142.62,136.37 142.93,136.44 143.22,136.43 143.53,136.55 143.84,136.80 144.14,136.94 144.46,137.18 144.77,137.57 145.07,137.54 145.38,137.49 145.70,137.94 146.02,138.18 146.32,138.06 146.63,138.19 146.94,138.45 147.24,138.63 147.54,138.89 147.86,139.07 148.19,139.30 148.50,139.58 148.81,139.45 149.12,139.62 149.44,140.32 149.76,140.53 150.09,140.25 150.41,140.06 150.71,140.23 151.02,140.65 151.34,140.72 151.65,140.68 151.97,141.09 152.29,141.51 152.62,141.76 152.94,142.03 153.26,142.05 153.58,141.90 153.90,141.92 154.21,142.21 154.54,142.53 154.87,142.68 155.18,142.73 155.51,142.77 155.83,142.99 156.14,143.13 156.46,142.87 156.79,142.93 157.12,143.50 157.44,143.60 157.77,143.44 158.09,143.55 158.42,143.47 158.74,143.37 159.07,143.54 159.39,143.74 159.72,144.06 160.05,144.45 160.38,144.69 160.71,144.71 161.04,144.72 161.37,144.72 161.70,144.61 162.02,144.76 162.35,145.24 162.68,145.36 163.02,145.28 163.36,145.42 163.69,145.44 164.02,145.52 164.35,145.96 164.67,146.26 165.00,145.97 165.34,145.69 165.68,146.17 166.01,146.67 166.34,146.68 166.67,146.78 167.00,146.90 167.34,146.96 167.67,146.78 168.01,146.53 168.35,147.07 168.69,147.68 169.02,147.63 169.35,147.51 169.69,147.48 170.02,147.57 170.36,147.83 170.69,148.24 171.03,148.49 171.37,148.22 171.70,147.92 172.04,147.77 172.38,147.57 172.72,147.80 173.06,148.12 173.40,148.28 173.74,148.85 174.09,149.08 174.42,148.64 174.76,148.48 175.10,148.78 175.44,149.19 175.78,149.32 176.12,149.07 176.47,149.03 176.81,149.22 177.15,149.23 177.49,149.01 177.83,148.73 178.17,148.80 178.51,149.23 178.86,149.76 179.20,150.40 179.54,150.91 179.89,150.84 180.23,150.70 180.58,150.71 180.92,150.34 181.26,150.37 181.61,150.67 181.95,150.29 182.29,150.11 182.64,150.57 182.98,150.87 183.33,150.78 183.67,150.76 184.02,150.54 184.36,150.39 184.71,150.76 185.06,150.82 185.40,150.50 185.75,150.45 186.10,150.84 186.44,151.37 186.79,151.51 187.13,151.45 187.48,151.39 187.83,151.33 188.17,151.35 188.52,151.10 188.87,150.84 189.21,151.11 189.56,151.52 189.91,151.82 190.26,151.71 190.60,151.27 190.95,151.44 191.30,151.69 191.64,151.59 191.99,151.69 192.34,151.59 192.69,151.66 193.03,151.90 193.38,151.87 193.73,152.04 194.08,151.93 194.43,151.57 194.78,151.57 195.13,151.64 195.47,151.84 195.82,151.87 196.17,151.90 196.52,152.52 196.87,153.02 197.22,152.78 197.57,151.96 197.91,151.50 198.26,151.89 198.61,152.37 198.96,152.49 199.31,152.40 199.66,152.47 200.01,152.37 200.36,152.43 200.71,152.80 201.06,152.64 201.41,152.77 201.75,152.99 202.10,152.66 202.45,152.90 202.80,153.28 203.15,153.15 203.50,153.17 203.85,153.15 204.20,153.11 204.55,153.12 204.90,152.91 205.25,152.97 205.60,153.26 205.94,153.28 206.29,152.98 206.64,152.68 206.99,153.01 207.34,153.58 207.69,153.60 208.04,153.23 208.39,152.85 208.74,152.87 209.09,153.38 209.44,153.67 209.79,153.60 210.14,153.54 210.49,153.49 210.84,153.37 211.19,153.10 211.54,152.93 211.89,153.01 212.23,153.38 212.58,153.40 212.93,152.93 213.28,152.81 213.63,152.78 213.98,152.59 214.33,152.62 214.68,153.03 215.03,153.71 215.38,153.89 215.73,153.42 216.08,153.26 216.43,153.35 216.78,153.24 217.13,153.40 217.48,153.72 217.83,153.67 218.18,153.39 218.53,153.53 218.88,153.79 219.23,153.57 219.58,153.28 219.93,153.10 220.28,153.18 220.63,153.41 220.98,153.53 221.33,153.69 221.68,153.46 222.03,152.79 222.38,152.85 222.73,153.50 223.08,153.83 223.43,154.03 223.78,153.75 224.13,153.47 224.48,153.66 224.83,153.65 225.18,153.46 225.53,153.46 225.88,153.91 226.23,154.06 226.58,153.99 226.93,154.10 227.28,153.84 227.63,153.40 227.98,152.85 228.33,153.10 228.68,154.29 229.03,154.72 229.38,154.05 229.73,153.36 230.08,153.57 230.43,153.91 230.78,153.86 231.13,153.67 231.48,153.43 231.83,153.31 232.18,153.24 232.53,153.47 232.88,153.65 233.23,153.47 233.58,153.42 233.93,153.53 234.28,153.81 234.63,154.08 234.98,154.03 235.33,153.66 235.68,153.25 236.02,153.50 236.37,153.80 236.72,153.51 237.07,153.28 237.42,153.56 237.77,153.95 238.12,153.69 238.47,153.52 238.82,154.01 239.17,154.31 239.52,154.27 239.87,154.20 240.22,153.96 240.57,153.66 240.92,153.49 241.27,153.40 241.62,153.52 241.97,153.76 242.32,153.79 242.67,153.87 243.02,153.97 243.37,153.61 243.72,153.15 244.07,153.06 244.42,152.92 244.77,152.94 245.12,153.27 245.47,153.15 245.82,152.94 246.17,153.33 246.52,153.83 246.87,153.98 247.22,154.04 247.57,153.83 247.92,153.70 248.27,153.99 248.62,154.09 248.97,153.74 249.32,153.36 249.67,153.24 250.02,153.25 250.37,153.50 250.72,154.02 251.07,154.54 251.42,154.63 251.77,154.41 252.12,154.26 252.47,154.36 252.82,154.76 253.17,154.99 253.52,154.79 253.87,154.33 254.22,154.17 254.57,154.25 254.92,154.08 255.27,153.76 255.62,153.67 255.97,153.97 256.31,154.14 256.66,154.05 257.01,153.55 257.36,153.24 257.71,153.86 258.06,154.06 258.41,153.39 258.76,153.20 259.11,153.49 259.46,153.37 259.81,153.48 260.16,154.28 260.51,154.34 260.86,153.45 261.21,153.14 261.56,153.96 261.91,154.69 262.26,154.62 262.61,154.18 262.96,153.72 263.31,153.47 263.66,153.67 264.01,154.33 264.36,154.00 264.71,152.91 265.06,152.92 265.41,153.68 265.76,153.89 266.11,153.84 266.46,154.31 266.81,154.67 267.16,153.98 267.51,153.24 267.86,153.23 268.21,153.21 268.56,153.38 268.91,153.76 269.26,153.64 269.61,153.42 269.96,153.49 270.31,153.63 270.66,153.82 271.01,153.90 271.36,153.87 271.71,153.93 272.06,154.01 272.41,153.90 272.76,153.70 273.11,153.65 273.46,153.47 273.81,153.59 274.16,154.09 274.51,153.95 274.86,153.66 275.21,153.60 275.56,153.65 275.91,153.80 276.26,153.65 276.61,153.36 276.96,153.13 277.31,153.08 277.66,153.58 278.01,154.02 278.36,153.50 278.71,153.27 279.06,153.96 279.41,154.07 279.76,153.23 280.11,153.04 280.46,153.67 280.81,153.73 281.16,153.10 281.51,152.81 281.86,153.33 282.21,153.92 282.56,154.08 282.90,154.07 283.25,153.92 283.60,153.91 283.95,154.02 284.30,153.94 284.65,153.74 285.00,153.47 285.35,153.56 285.70,153.86 286.05,153.71 286.40,153.66 286.75,154.03 287.10,154.14 287.45,153.80 287.80,153.74 288.15,154.37 288.50,154.55 288.85,153.65 289.20,153.04 289.55,153.16 289.90,153.18 290.25,153.05 290.60,153.37 290.95,154.08 291.30,154.54 291.65,154.63 292.00,154.28 292.35,154.00 292.70,154.03 293.05,153.77 293.40,153.43 293.75,153.60 294.10,154.24 294.45,154.33 294.80,153.81 295.15,153.67 295.50,153.85 295.85,154.07 296.20,154.19 296.55,154.09 296.90,153.74 297.25,153.36 297.60,153.19 297.95,153.49 298.30,154.40 298.65,154.76 299.00,154.53 299.35,154.70 299.70,154.89 300.05,154.25 300.40,153.44 300.75,153.17 301.10,153.01 301.45,153.03 301.80,153.29 302.15,153.71 302.50,153.83 302.85,153.56 303.20,153.65 303.55,153.88 303.90,153.82 304.25,153.43 304.60,153.08 304.95,153.50 305.30,154.10 305.65,153.83 306.00,153.35 306.35,153.56 306.70,153.74 307.05,153.69 307.40,153.79 307.75,153.64 308.10,153.59 308.45,154.11 308.80,154.48 309.15,154.00 309.50,153.73 309.85,153.93 310.20,153.85 310.55,153.51 310.90,153.27 311.25,153.62 311.60,153.68 311.95,153.65 312.30,154.06 312.65,153.98 313.00,153.53 313.35,153.10 313.70,152.98 314.05,153.13 314.40,153.33 314.75,153.92 315.10,154.14 315.45,153.52 315.80,153.14 316.15,153.27 316.50,153.46 316.85,153.77 317.20,153.88 317.55,153.76 317.90,153.99 318.25,154.53 318.60,154.54 318.95,154.10 319.30,153.98 319.65,153.73 320.00,153.68 320.35,154.19 320.70,154.24 321.05,154.04 321.40,153.98 321.75,153.69 322.10,153.78 322.45,154.45 322.80,154.52 323.15,154.28 323.50,154.46 323.85,154.44 324.20,154.12 324.55,153.98 324.90,153.97 325.25,153.99 325.60,154.24 325.95,154.46 326.30,154.18 326.65,154.06 327.00,154.06 327.35,153.99 327.70,154.12 328.05,153.93 328.40,153.71 328.75,153.67 329.10,153.82 329.45,154.26 329.80,154.46 330.15,154.08 330.50,153.62 330.85,153.60 331.20,153.67 331.55,153.99 331.90,154.36 332.25,154.15 332.60,154.05 332.95,154.40 333.30,154.73 333.65,154.36 334.00,153.60 334.35,153.59 334.70,153.63 335.05,153.52 335.40,153.56 335.75,153.16 336.10,152.84 336.45,153.18 336.80,153.95 337.15,154.34 337.50,153.74 337.85,153.01 338.20,152.94 338.55,153.37 338.90,153.75 339.25,153.63 339.60,153.27 339.95,153.03 340.30,153.10 340.65,153.32 341.00,153.03 341.35,153.13 341.70,154.02 342.05,154.30 342.40,154.14 342.75,153.87 343.10,153.76 343.45,153.88 343.80,154.02 344.15,154.39 344.50,153.96 344.85,153.43 345.20,154.19 345.55,154.65 345.90,154.31 346.25,154.16 346.60,153.87 346.95,153.28 347.30,153.30"/>
<path d="M55.60,154.19 55.95,153.97 56.30,153.97 56.65,154.03 57.00,153.86 57.35,153.69 57.70,153.73 58.05,153.82 58.40,153.74 58.75,153.69 59.10,153.87 59.45,154.08 59.80,154.06 60.15,154.07 60.50,154.11 60.85,153.94 61.20,153.78 61.55,153.80 61.90,153.93 62.25,153.85 62.60,153.65 62.95,153.83 63.30,154.15 63.65,154.14 64.00,154.04 64.35,153.94 64.70,153.72 65.05,153.63 65.40,153.65 65.75,153.71 66.10,153.86 66.45,154.03 66.80,154.15 67.15,154.24 67.50,154.21 67.85,153.98 68.20,153.92 68.55,153.94 68.90,153.83 69.25,153.86 69.60,153.90 69.95,153.87 70.30,154.01 70.65,154.04 71.00,153.72 71.35,153.58 71.70,153.73 72.05,153.81 72.40,153.85 72.75,153.90 73.10,154.01 73.45,154.14 73.80,154.08 74.15,153.85 74.50,153.61 74.85,153.44 75.20,153.46 75.55,153.69 75.90,153.84 76.25,153.80 76.60,153.70 76.95,153.57 77.30,153.49 77.65,153.63 78.00,153.76 78.35,153.74 78.70,153.82 79.05,153.88 79.40,153.94 79.75,154.03 80.10,154.10 80.45,154.06 80.80,153.82 81.15,153.70 81.50,153.74 81.85,153.82 82.20,153.94 82.55,153.94 82.90,153.93 83.25,153.93 83.60,153.94 83.95,153.90 84.30,153.75 84.65,153.85 85.00,153.93 85.35,153.79 85.70,153.82 86.05,153.95 86.40,153.79 86.75,153.54 87.10,153.67 87.45,153.89 87.80,153.94 88.15,154.10 88.50,154.15 88.85,154.00 89.20,153.90 89.55,153.80 89.90,153.75 90.25,153.82 90.60,153.85 90.95,153.76 91.30,153.80 91.65,153.93 92.00,153.84 92.35,153.56 92.70,153.48 93.00,153.66 93.32,153.68 93.63,153.64 93.97,153.84 94.29,154.03 94.59,153.70 94.89,153.13 95.19,152.81 95.47,152.82 95.74,152.77 96.03,152.43 96.31,152.10 96.55,152.08 96.79,151.87 97.03,151.00 97.29,150.52 97.58,150.79 97.86,150.73 98.08,150.21 98.28,150.07 98.49,150.07 98.74,149.43 99.00,148.81 99.22,148.75 99.43,148.68 99.65,148.31 99.90,148.05 100.16,147.89 100.42,147.61 100.67,147.37 100.87,147.03 101.10,146.66 101.37,146.41 101.61,146.24 101.86,146.10 102.12,145.76 102.35,145.30 102.60,144.94 102.88,144.72 103.13,144.72 103.34,144.78 103.59,144.54 103.86,144.03 104.10,143.45 104.33,143.19 104.61,143.09 104.88,142.98 105.14,142.98 105.41,142.77 105.69,142.53 105.96,142.38 106.26,142.20 106.56,141.98 106.86,141.67 107.15,141.61 107.45,141.58 107.77,141.26 108.09,140.91 108.41,140.69 108.73,140.67 109.05,140.67 109.38,140.32 109.71,140.10 110.04,140.34 110.39,140.58 110.73,140.67 111.08,140.87 111.44,140.91 111.79,140.55 112.14,140.54 112.49,140.81 112.84,140.84 113.18,140.98 113.52,140.91 113.85,140.82 114.19,141.36 114.53,141.77 114.86,141.52 115.20,141.38 115.53,141.59 115.87,141.64 116.19,141.82 116.52,142.02 116.86,141.82 117.19,141.76 117.53,142.12 117.86,142.32 118.20,142.25 118.54,142.44 118.88,142.79 119.21,142.82 119.55,142.71 119.89,142.82 120.23,143.06 120.57,143.19 120.90,143.06 121.24,142.95 121.58,143.10 121.92,143.32 122.26,143.67 122.60,144.07 122.94,144.20 123.28,144.12 123.62,144.00 123.96,143.99 124.30,144.09 124.64,144.07 124.97,144.04 125.31,144.12 125.65,144.33 125.99,144.74 126.33,145.14 126.66,145.04 127.00,144.89 127.34,145.00 127.68,145.11 128.01,145.39 128.35,145.77 128.69,145.77 129.02,145.37 129.36,145.32 129.70,145.58 130.03,145.82 130.37,145.86 130.71,145.62 131.05,145.69 131.38,146.16 131.72,146.29 132.06,145.89 132.39,145.95 132.73,146.63 133.07,147.02 133.41,146.87 133.75,146.57 134.09,146.64 134.42,146.97 134.76,147.09 135.10,147.07 135.44,147.24 135.77,147.42 136.11,147.25 136.45,147.12 136.80,147.20 137.14,147.36 137.48,147.55 137.82,147.59 138.16,147.80 138.50,148.18 138.84,148.12 139.19,148.08 139.53,148.25 139.87,148.11 140.21,148.07 140.56,148.12 140.90,148.07 141.24,148.18 141.59,148.19 141.93,148.04 142.28,148.27 142.62,148.65 142.97,148.81 143.31,149.13 143.66,149.49 144.00,149.29 144.35,148.93 144.69,148.90 145.04,149.05 145.38,149.14 145.73,149.31 146.07,149.40 146.42,149.22 146.77,149.37 147.11,149.40 147.46,149.22 147.81,149.53 148.15,149.64 148.50,149.74 148.84,150.20 149.19,150.09 149.54,149.63 149.89,149.45 150.23,149.54 150.58,149.81 150.93,149.73 151.27,149.38 151.62,149.37 151.96,149.60 152.31,149.79 152.66,149.85 153.00,149.99 153.35,150.41 153.70,150.61 154.04,150.14 154.39,149.71 154.74,150.10 155.08,150.53 155.43,150.55 155.78,150.57 156.13,150.39 156.47,149.86 156.82,149.89 157.17,150.46 157.51,150.70 157.86,150.74 158.21,150.73 158.56,150.93 158.91,151.06 159.25,150.75 159.60,150.60 159.95,150.67 160.30,150.95 160.64,151.30 160.99,151.38 161.34,151.07 161.69,150.82 162.04,151.21 162.38,151.69 162.73,152.03 163.08,152.18 163.43,151.69 163.77,151.09 164.12,151.13 164.47,151.56 164.82,151.64 165.17,151.47 165.52,151.76 165.86,151.79 166.21,151.55 166.56,151.59 166.91,151.55 167.26,151.55 167.61,151.69 167.95,151.62 168.30,151.57 168.65,151.50 169.00,151.26 169.35,151.37 169.70,151.93 170.05,152.43 170.39,152.31 170.74,151.80 171.09,151.69 171.44,151.83 171.79,152.22 172.14,152.35 172.48,151.84 172.83,151.54 173.18,151.72 173.53,152.08 173.88,152.39 174.23,152.54 174.58,152.53 174.93,152.58 175.27,152.74 175.62,152.75 175.97,152.25 176.32,151.65 176.67,151.64 177.02,152.00 177.37,152.60 177.72,152.81 178.07,152.67 178.42,152.71 178.76,152.60 179.11,152.74 179.46,153.16 179.81,152.97 180.16,152.39 180.51,152.08 180.86,152.27 181.21,152.59 181.56,152.60 181.91,152.56 182.26,152.50 182.61,152.43 182.96,152.39 183.30,152.21 183.65,152.22 184.00,152.63 184.35,153.12 184.70,153.20 185.05,152.84 185.40,152.52 185.75,152.77 186.10,153.35 186.45,153.27 186.80,152.66 187.15,152.66 187.50,153.05 187.85,153.17 188.20,153.22 188.55,153.05 188.90,152.98 189.24,153.18 189.59,153.00 189.94,153.04 190.29,153.50 190.64,153.74 190.99,153.77 191.34,153.79 191.69,153.70 192.04,153.46 192.39,153.66 192.74,153.70 193.09,153.00 193.44,152.50 193.79,152.92 194.14,153.74 194.49,153.82 194.84,153.39 195.19,153.37 195.53,153.64 195.88,153.40 196.23,152.78 196.58,152.79 196.93,153.20 197.28,153.40 197.63,153.36 197.98,153.30 198.33,153.07 198.68,153.09 199.03,153.85 199.38,154.13 199.73,153.70 200.08,153.40 200.43,153.77 200.78,154.44 201.13,154.35 201.48,153.55 201.83,153.08 202.18,153.25 202.53,153.52 202.88,153.48 203.23,153.16 203.58,153.25 203.93,153.47 204.27,153.56 204.62,153.58 204.97,153.11 205.32,152.87 205.67,153.34 206.02,153.69 206.37,153.47 206.72,153.43 207.07,153.75 207.42,153.67 207.77,153.44 208.12,153.48 208.47,153.61 208.82,153.76 209.17,153.60 209.52,153.27 209.87,153.24 210.22,153.44 210.57,153.72 210.92,153.65 211.27,153.37 211.62,153.47 211.97,153.87 212.32,154.07 212.67,154.21 213.02,154.31 213.37,154.08 213.72,153.83 214.07,153.50 214.42,153.29 214.77,153.60 215.12,153.88 215.47,153.87 215.82,153.71 216.16,153.45 216.51,153.30 216.86,153.52 217.21,153.93 217.56,153.73 217.91,153.26 218.26,153.72 218.61,154.34 218.96,154.33 219.31,154.12 219.66,153.89 220.01,153.64 220.36,153.67 220.71,153.67 221.06,153.29 221.41,153.29 221.76,153.41 222.11,153.30 222.46,153.25 222.81,153.25 223.16,153.52 223.51,153.65 223.86,153.37 224.21,153.22 224.56,153.05 224.91,152.88 225.26,153.26 225.61,153.88 225.96,154.04 226.31,153.71 226.66,153.80 227.00,154.42 227.35,154.43 227.70,154.01 228.05,154.17 228.40,154.36 228.75,153.92 229.10,153.33 229.45,153.34 229.80,154.10 230.15,154.47 230.50,154.26 230.85,154.52 231.20,154.40 231.55,153.53 231.90,153.57 232.25,154.28 232.60,154.38 232.95,154.07 233.30,153.92 233.65,153.83 234.00,153.97 234.35,154.13 234.70,153.41 235.05,152.98 235.40,153.73 235.75,154.15 236.10,153.81 236.45,153.47 236.80,153.39 237.15,153.38 237.49,153.23 237.84,153.01 238.19,153.01 238.54,153.63 238.89,154.26 239.24,154.07 239.59,154.15 239.94,154.37 240.29,153.72 240.64,153.41 240.99,153.56 241.34,153.49 241.69,153.85 242.04,154.01 242.39,153.51 242.74,153.69 243.09,154.06 243.44,153.58 243.79,153.40 244.14,153.68 244.49,153.56 244.84,153.69 245.19,154.05 245.54,153.89 245.89,153.71 246.24,153.65 246.59,153.40 246.94,153.43 247.29,153.78 247.64,153.99 247.98,153.93 248.33,153.52 248.68,153.50 249.03,153.87 249.38,153.78 249.73,153.56 250.08,153.41 250.43,153.34 250.78,153.24 251.13,153.14 251.48,153.72 251.83,154.40 252.18,154.44 252.53,154.14 252.88,153.87 253.23,153.81 253.58,153.72 253.93,153.67 254.28,153.40 254.63,153.25 254.98,153.83 255.33,154.23 255.68,153.99 256.03,153.73 256.38,153.94 256.73,153.73 257.08,152.91 257.43,152.88 257.78,153.41 258.13,153.58 258.48,153.58 258.82,153.83 259.17,153.87 259.52,153.19 259.87,152.88 260.22,153.03 260.57,153.10 260.92,153.38 261.27,153.48 261.62,153.42 261.97,153.92 262.32,154.48 262.67,154.71 263.02,154.83 263.37,154.51 263.72,154.28 264.07,154.51 264.42,154.64 264.77,154.51 265.12,153.72 265.47,152.91 265.82,153.12 266.17,153.77 266.52,153.99 266.87,154.01 267.22,153.93 267.57,153.49 267.92,153.56 268.27,154.04 268.62,154.02 268.97,154.10 269.32,154.49 269.66,154.29 270.01,153.78 270.36,153.48 270.71,153.30 271.06,153.61 271.41,153.67 271.76,153.58 272.11,154.39 272.46,154.83 272.81,154.48 273.16,154.47 273.51,154.45 273.86,154.20 274.21,154.22 274.56,153.89 274.91,153.25 275.26,153.20 275.61,153.68 275.96,154.12 276.31,154.22 276.66,154.11 277.01,153.64 277.36,153.69 277.71,154.66 278.06,154.94 278.41,154.28 278.76,154.04 279.11,154.03 279.46,153.65 279.81,153.36 280.16,153.42 280.51,153.82 280.85,153.95 281.20,153.65 281.55,153.32 281.90,153.11 282.25,153.53 282.60,154.07 282.95,154.15 283.30,154.07 283.65,153.77 284.00,153.61 284.35,153.65 284.70,153.82 285.05,153.73 285.40,153.43 285.75,153.88 286.10,154.21 286.45,153.99 286.80,153.85 287.15,153.92 287.50,154.06 287.85,153.86 288.20,153.62 288.55,153.93 288.90,154.27 289.25,154.15 289.60,153.97 289.95,153.86 290.30,153.66 290.65,153.32 291.00,153.14 291.35,153.66 291.70,154.10 292.04,153.75 292.39,153.65 292.74,154.04 293.09,154.10 293.44,154.02 293.79,154.16 294.14,154.17 294.49,153.84 294.84,153.88 295.19,154.32 295.54,154.05 295.89,153.66 296.24,154.00 296.59,154.06 296.94,153.82 297.29,154.05 297.64,154.37 297.99,154.62 298.34,154.41 298.69,154.16 299.04,154.48 299.39,154.44 299.74,154.01 300.09,153.81 300.44,153.90 300.79,153.87 301.14,153.54 301.49,153.25 301.84,153.26 302.19,153.39 302.54,153.12 302.89,153.24 303.24,153.74 303.58,153.74 303.93,153.52 304.28,153.42 304.63,153.29 304.98,153.29 305.33,153.83 305.68,154.33 306.03,154.26 306.38,154.20 306.73,154.36 307.08,154.39 307.43,154.34 307.78,154.18 308.13,153.84 308.48,153.30 308.83,153.18 309.18,153.74 309.53,154.28 309.88,154.20 310.23,153.70 310.58,153.69 310.93,153.72 311.28,153.59 311.63,153.66 311.98,153.85 312.33,154.08 312.68,154.20 313.03,154.16 313.38,154.28 313.73,154.47 314.08,154.25 314.43,154.14 314.78,154.26 315.13,154.13 315.48,153.96 315.82,153.75 316.17,153.28 316.52,153.21 316.87,153.59 317.22,153.75 317.57,154.24 317.92,154.39 318.27,153.90 318.62,153.95 318.97,154.08 319.32,153.83 319.67,153.59 320.02,153.74 320.37,154.19 320.72,154.73 321.07,154.87 321.42,154.28 321.77,154.17 322.12,154.51 322.47,154.20 322.82,153.88 323.17,154.00 323.52,154.19 323.87,154.12 324.22,153.81 324.57,154.08 324.92,154.76 325.27,154.80 325.62,154.35 325.97,154.03 326.32,154.04 326.67,154.12 327.02,153.92 327.37,153.79 327.72,153.68 328.06,153.63 328.41,153.82 328.76,153.82 329.11,153.71 329.46,153.80 329.81,153.84 330.16,153.66 330.51,153.60 330.86,153.87 331.21,154.29 331.56,154.41 331.91,154.11 332.26,153.85 332.61,154.17 332.96,154.68 333.31,154.36 333.66,153.74 334.01,153.65 334.36,153.67 334.71,153.43 335.06,153.31 335.41,153.42 335.76,153.38 336.11,153.74 336.46,154.47 336.81,154.34 337.16,153.62 337.51,153.28 337.86,153.14 338.21,152.99 338.56,153.24 338.91,153.49 339.26,153.65 339.61,153.98 339.96,153.93 340.31,154.02 340.66,154.51 341.00,154.44 341.35,154.35 341.70,154.74 342.05,154.53 342.40,153.95 342.75,153.83 343.10,153.59 343.45,153.68 343.80,154.54 344.15,154.50 344.50,153.82 344.85,153.60 345.20,153.63 345.55,153.99 345.90,154.02 346.25,154.01 346.60,154.28 346.95,154.08 347.30,153.98"/>
</g>
<g fill="none" stroke="#000" stroke-width="2.0" stroke-linejoin="round" stroke-linecap="round">
<path d="M55.60,352.19 55.90,353.87 56.20,355.70 56.50,353.63 56.80,351.79 57.10,353.43 57.40,353.86 57.70,352.85 58.00,351.66 58.30,351.83 58.60,354.58 58.90,354.29 59.20,353.18 59.50,355.13 59.80,356.01 60.10,355.73 60.40,355.51 60.70,355.31 61.00,353.28 61.30,351.49 61.60,351.50 61.90,354.00 62.20,355.62 62.50,353.74 62.80,352.91 63.10,352.12 63.40,351.03 63.70,353.70 64.00,355.39 64.30,353.67 64.60,352.50 64.90,352.39 65.20,353.97 65.50,353.95 65.80,354.16 66.10,353.49 66.40,353.23 66.70,354.76 67.00,354.97 67.30,354.52 67.60,353.93 67.90,352.72 68.20,353.30 68.50,353.83 68.80,352.50 69.10,353.53 69.40,352.94 69.70,351.77 70.00,353.88 70.30,355.21 70.60,354.19 70.90,353.41 71.20,354.22 71.50,354.10 71.80,352.94 72.10,353.39 72.40,354.21 72.70,353.92 73.00,354.76 73.30,354.94 73.60,353.55 73.90,353.42 74.20,355.55 74.50,354.77 74.80,352.82 75.10,352.74 75.40,353.29 75.70,352.88 76.00,352.97 76.30,354.75 76.60,353.67 76.90,352.25 77.20,351.62 77.50,352.41 77.80,352.73 78.10,352.14 78.40,352.76 78.70,352.71 79.00,353.81 79.30,355.83 79.60,353.34 79.90,351.21 80.20,353.19 80.50,352.98 80.80,352.28 81.10,353.40 81.40,355.10 81.70,355.96 82.00,354.47 82.30,353.54 82.60,353.48 82.90,353.21 83.20,352.50 83.50,351.09 83.80,351.80 84.10,354.23 84.40,355.23 84.70,352.71 85.00,351.87 85.30,352.96 85.60,353.39 85.90,352.97 86.20,353.53 86.50,354.31 86.80,354.02 87.10,354.97 87.40,352.75 87.70,351.78 88.00,354.83 88.30,355.04 88.60,354.63 88.90,354.98 89.20,353.62 89.50,353.50 89.80,354.87 90.10,355.76 90.40,356.11 90.53,353.91 90.51,353.32 90.48,352.94 90.86,352.38 90.63,352.41 90.08,352.31 90.28,352.15 90.82,352.01 90.92,351.46 90.61,351.06 90.76,351.01 90.90,350.50 90.90,349.81 90.78,349.65 90.72,349.71 91.15,349.46 90.94,349.07 90.66,348.54 90.92,348.33 91.08,348.19 91.04,347.95 90.93,347.94 90.59,347.37 90.62,347.09 90.68,346.51 90.71,346.00 90.58,345.93 90.82,345.83 91.50,345.52 91.34,345.04 90.91,344.72 90.80,344.03 91.08,344.05 91.24,344.10 91.00,343.54 91.09,343.43 91.31,343.19 91.22,342.81 91.07,342.40 91.00,341.70 90.96,341.58 91.00,341.27 91.01,341.03 91.15,340.58 91.25,340.24 91.14,340.16 91.18,339.70 91.20,339.51 90.99,339.31 91.12,338.92 91.31,338.76 91.09,338.56 90.97,338.21 90.96,338.04 91.01,337.68 91.11,337.32 91.08,336.97 91.10,336.64 91.23,336.47 91.14,336.01 91.36,335.44 91.44,335.04 91.25,334.82 91.29,334.77 91.23,334.57 91.31,334.16 91.50,333.94 91.42,333.78 91.15,333.60 91.23,333.12 91.08,332.71 91.03,332.58 91.28,332.09 91.31,331.71 91.15,331.41 91.06,331.07 91.12,330.95 91.12,330.45 91.32,329.98 91.37,329.80 91.23,329.63 91.40,329.34 91.48,329.07 91.09,328.76 90.96,328.34 91.27,328.23 91.46,328.04 91.44,327.68 91.42,327.34 91.29,327.15 91.25,327.03 91.21,326.55 91.13,325.98 91.16,325.59 91.17,325.61 91.24,325.33 91.32,324.63 91.27,324.49 91.44,324.50 91.48,324.00 91.54,323.55 91.73,323.22 91.39,322.85 91.38,322.95 91.36,322.76 91.43,322.21 91.65,321.90 91.35,321.67 91.06,321.35 91.14,320.86 91.23,320.42 91.42,320.53 91.43,320.29 91.27,319.88 91.49,319.59 91.52,319.30 91.50,319.19 91.47,318.69 91.53,318.56 91.45,318.17 91.44,317.57 91.41,317.28 91.36,316.91 91.37,316.68 91.33,316.36 91.55,316.06 91.73,316.09 91.44,315.61 91.19,314.94 91.30,314.74 91.55,314.54 91.56,314.50 91.50,314.35 91.55,313.98 91.29,313.62 91.37,313.52 91.41,313.04 91.49,312.33 91.74,312.18 91.82,312.05 91.59,311.73 91.62,311.29 91.87,310.85 91.46,310.62 91.60,310.40 92.03,310.08 91.65,309.73 91.49,309.66 91.45,309.56 91.40,309.33 91.59,308.90 91.69,308.37 91.57,308.11 91.49,307.80 91.48,307.50 91.54,307.18 91.74,306.65 91.70,306.34 91.77,306.39 91.86,305.87 91.76,305.43 91.82,305.46 91.62,305.37 91.48,304.99 91.41,304.58 91.42,304.52 91.59,304.33 91.69,303.74 91.70,303.20 91.52,303.09 91.57,302.90 91.64,302.39 91.72,302.03 91.63,301.85 91.38,301.55 91.30,301.18 91.63,300.87 91.67,300.41 91.48,300.37 91.50,300.42 91.67,300.09 91.74,299.62 91.79,299.13 91.78,298.93 91.67,298.72 91.85,298.10 91.94,297.74 91.70,297.55 91.54,297.20 91.68,296.94 91.50,296.87 91.60,296.73 91.88,296.20 91.86,296.01 91.65,295.71 91.61,295.13 91.84,294.82 91.95,294.57 91.83,294.30 91.79,294.15 92.11,293.83 91.97,293.41 91.68,293.26 91.70,293.01 91.57,292.70 91.57,292.38 91.96,291.79 91.89,291.32 91.67,290.98 91.94,290.97 92.03,290.94 91.92,290.43 91.81,289.95 91.77,289.76 91.82,289.57 91.92,289.26 91.93,288.87 91.97,288.39 91.73,288.40 91.72,288.12 91.89,287.61 91.79,287.61 91.81,287.08 91.89,286.69 91.93,286.64 91.93,286.23 91.85,285.96 91.80,285.52 92.06,284.93 92.17,285.03 91.98,284.95 91.86,284.52 91.87,284.40 91.84,284.02 91.89,283.64 92.06,283.39 92.13,283.24 92.16,282.91 92.29,282.57 91.95,282.17 91.80,281.65 91.91,281.40 91.67,281.21 91.60,280.97 91.74,280.87 92.08,280.61 92.16,280.06 91.93,279.91 91.92,279.65 91.86,279.13 91.89,278.86 91.97,278.47 91.75,277.96 91.70,277.72 92.16,277.52 92.30,277.09 92.04,276.85 92.05,276.64 91.95,276.24 91.88,275.74 92.11,275.50 91.91,275.65 91.71,275.49 91.86,275.10 91.92,274.69 91.91,274.38 91.98,274.00 92.18,273.50 92.19,273.36 92.19,272.93 92.28,272.57 92.09,272.50 92.00,272.41 92.03,271.98 92.08,271.51 92.09,271.22 91.99,270.80 92.24,270.32 92.25,269.97 91.85,270.08 91.89,269.97 92.12,269.54 92.05,269.43 92.03,269.18 92.22,268.46 92.15,268.06 92.00,267.92 91.98,267.85 92.05,267.44 92.13,266.99 91.98,266.93 91.98,266.47 92.32,266.06 92.13,265.60 91.74,265.31 92.00,265.00 92.00,264.64 92.21,264.83 92.20,264.63 91.80,264.11 91.93,263.78 92.22,263.74 92.39,263.49 92.33,263.06 92.27,262.63 92.37,262.14 92.11,261.76 91.99,261.50 92.39,261.24 92.23,261.09 92.10,260.97 92.39,260.52 92.50,260.07 92.34,259.52 92.42,259.22 92.50,259.22 92.41,259.08 92.22,258.48 92.00,257.83 92.05,257.81 92.36,257.64 92.20,257.30 91.77,257.07 92.12,256.87 92.37,256.39 92.02,255.94 91.96,256.01 92.18,255.81 92.38,255.28 92.19,255.01 91.98,254.85 92.35,254.38 92.51,254.13 92.27,254.04 92.15,253.63 92.09,253.36 92.29,252.93 92.42,252.61 92.42,252.43 92.57,251.91 92.31,251.56 92.20,251.53 92.39,251.24 92.47,250.74 92.58,250.43 92.67,250.07 92.53,249.98 92.48,250.05 92.36,249.80 92.21,249.30 92.37,248.93 92.49,248.51 92.29,248.05 92.24,247.64 92.28,247.60 92.23,247.41 92.49,246.82 92.45,246.48 92.21,246.30 92.40,246.02 92.50,245.69 92.45,245.49 92.28,245.36 92.26,244.88 92.39,244.44 92.30,244.21 92.29,243.82 92.35,243.82 92.53,243.66 92.80,243.09 92.72,242.78 92.67,242.53 92.68,242.31 92.33,241.95 92.33,241.57 92.67,241.30 92.83,240.94 92.58,240.65 92.66,240.26 92.69,240.00 92.36,239.91 92.39,239.52 92.66,239.04 92.78,238.86 92.72,238.52 92.43,238.28 92.32,238.18 92.56,237.49 92.66,237.01 92.63,236.84 92.69,236.74 92.68,236.70 92.37,236.13 92.27,235.62 92.59,235.47 92.89,235.21 92.65,235.02 92.70,234.90 92.78,234.58 92.64,234.30 92.50,234.04 92.46,233.59 92.65,233.11 92.75,232.72 92.68,232.58 92.78,232.50 93.03,232.22 92.83,231.76 92.71,231.27 92.63,231.04 92.64,230.96 92.72,230.66 92.66,230.22 92.81,229.75 92.81,229.48 92.92,229.35 92.87,228.86 92.70,228.72 92.84,228.42 92.91,228.00 92.91,227.79 92.90,227.38 92.79,226.99 92.91,226.59 93.03,226.49 93.07,226.25 93.24,225.80 93.11,225.65 92.89,225.51 92.90,225.10 92.93,224.74 92.78,224.67 93.06,224.32 93.36,223.83 93.42,223.63 93.34,223.07 93.21,222.42 93.33,222.37 93.29,222.53 93.40,222.26 93.44,221.75 93.40,221.29 93.50,221.28 93.46,221.08 93.54,220.19 93.79,220.14 94.09,220.37 94.33,220.02 94.46,220.00 94.64,220.05 94.77,219.69 95.00,219.01 95.18,217.96 95.27,217.89 95.53,218.30 95.85,218.44 96.09,218.73 96.34,218.24 96.63,218.09 96.92,217.73 97.18,217.04 97.45,216.61 97.70,216.40 97.94,216.78 98.17,217.34 98.39,217.00 98.64,217.01 98.85,218.13 99.00,217.59 99.25,217.12 99.51,217.82 99.61,218.47 99.79,219.35 100.04,219.71 100.29,219.36 100.47,218.91 100.65,219.11 100.92,219.59 101.16,219.90 101.43,219.82 101.64,220.45 101.82,220.72 102.11,220.64 102.29,221.16 102.48,220.77 102.72,220.93 102.90,221.52 103.16,221.64 103.34,222.11 103.48,222.23 103.67,222.84 103.90,223.59 104.22,222.81 104.43,221.96 104.64,222.90 104.83,223.88 105.06,223.70 105.30,223.50 105.45,223.22 105.72,223.15 105.94,224.50 106.10,225.83 106.31,225.23 106.51,225.53 106.71,225.35 106.81,225.21 107.00,226.23 107.26,225.99 107.45,225.87 107.60,226.05 107.86,226.45 108.01,227.40 108.11,227.92 108.33,227.90 108.44,228.18 108.54,227.78 108.80,228.29 109.07,229.04 109.21,228.34 109.24,228.50 109.37,228.95 109.63,229.34 109.84,229.86 110.05,229.55 110.19,230.07 110.32,231.32 110.53,230.98 110.47,231.17 110.56,232.03 110.81,232.18 110.91,232.54 111.09,232.19 111.11,232.24 111.16,232.60 111.39,233.20 111.56,233.48 111.71,232.97 111.81,233.76 112.03,234.48 112.15,234.49 112.26,234.66 112.33,235.08 112.32,235.72 112.57,235.69 112.52,235.47 112.43,235.79 112.67,236.18 112.94,236.59 113.11,236.62 113.14,236.97 113.19,237.26 113.11,237.43 113.05,237.92 113.36,238.23 113.42,238.86 113.33,239.51 113.28,239.72 113.35,240.00 113.43,240.03 113.55,240.29 113.90,240.63 113.96,240.70 113.90,241.06 113.89,241.06 113.99,241.19 113.98,241.70 113.94,242.18 114.31,242.48 114.28,242.55 114.09,242.65 114.15,243.11 114.38,243.40 114.56,243.46 114.38,243.96 114.35,244.51 114.65,244.66 114.90,244.57 114.94,245.08 114.94,245.88 115.02,246.04 115.21,246.09 115.26,246.07 115.06,246.61 114.89,247.08 114.98,247.34 115.26,247.73 115.33,247.85 115.27,248.22 115.49,248.18 115.58,248.91 115.53,249.25 115.78,249.16 116.01,249.60 116.07,249.82 116.19,250.55 116.32,250.51 116.31,250.50 116.23,251.26 116.15,251.61 116.22,251.88 116.40,251.99 116.59,251.87 116.78,252.05 116.90,252.59 117.01,253.29 117.06,253.68 117.08,254.15 117.06,254.44 117.05,254.45 117.11,254.76 117.13,254.67 117.24,255.03 117.39,255.45 117.24,255.55 117.13,256.46 117.32,256.58 117.54,256.50 117.65,257.09 117.89,257.38 117.93,257.62 117.76,257.77 117.92,258.46 118.20,258.46 118.39,258.17 118.27,259.14 118.16,259.74 118.28,259.59 118.51,259.61 118.69,260.00 118.61,260.85 118.68,261.28 118.71,260.99 118.68,261.24 118.77,261.61 118.81,262.14 118.85,262.61 118.99,262.85 119.10,263.12 119.27,263.56 119.39,263.90 119.30,263.87 119.08,263.89 119.00,264.05 119.22,264.61 119.38,264.89 119.37,265.48 119.43,265.87 119.63,265.65 119.66,266.13 119.69,266.47 119.81,266.65 119.81,267.03 119.79,267.11 119.91,267.68 120.07,268.12 120.04,268.36 119.87,268.58 119.93,268.41 120.24,268.54 120.23,269.01 120.33,269.49 120.49,269.89 120.46,270.31 120.49,270.38 120.59,270.62 120.73,270.92 120.76,271.05 120.61,271.92 120.69,272.56 120.77,272.44 120.71,272.83 120.98,273.43 121.05,273.57 121.09,273.87 121.17,273.97 121.18,273.99 121.12,274.18 121.26,274.60 121.51,274.83 121.39,274.94 121.22,275.53 121.34,275.83 121.39,276.10 121.42,276.79 121.62,276.86 121.72,277.09 121.82,277.44 121.84,277.36 121.60,277.80 121.49,278.42 121.69,278.56 122.02,278.58 121.96,278.92 121.69,279.22 121.91,279.62 122.03,279.92 121.98,280.15 122.14,280.62 122.00,280.89 121.87,281.32 121.95,281.57 122.08,281.56 122.24,282.29 122.17,282.96 122.19,282.95 122.09,283.14 122.11,283.48 122.37,283.56 122.37,283.91 122.22,284.34 122.26,284.74 122.34,284.67 122.54,284.89 122.66,285.53 122.54,285.57 122.60,285.76 122.73,286.10 122.79,286.24 122.84,286.51 122.79,287.17 122.90,287.30 122.99,287.39 123.01,287.60 123.13,287.86 123.21,288.58 123.24,288.97 123.04,289.20 122.99,289.30 123.17,289.69 123.47,290.03 123.51,290.39 123.43,290.89 123.65,290.94 123.65,291.47 123.62,291.77 123.76,291.97 123.73,292.36 123.78,292.47 124.00,292.93 124.14,293.30 124.07,293.41 124.24,293.60 124.37,293.93 124.20,294.27 124.16,294.46 124.15,294.54 124.36,294.51 124.32,294.98 124.30,295.61 124.43,296.16 124.49,296.58 124.68,296.86 124.64,297.40 124.62,297.46 124.93,297.25 125.03,297.72 124.98,298.06 125.07,298.15 125.22,298.83 125.43,299.28 125.50,299.51 125.51,299.43 125.54,299.52 125.45,300.29 125.59,300.32 125.71,300.43 125.58,301.05 125.67,300.91 125.75,301.44 125.89,301.98 126.10,301.93 126.25,302.70 126.25,302.66 126.16,302.71 126.21,303.27 126.24,303.47 126.27,303.69 126.63,304.25 126.70,304.47 126.56,304.56 126.76,305.19 126.90,305.39 126.99,305.51 126.97,305.76 126.89,306.32 127.16,306.76 127.28,306.82 127.23,306.79 127.39,307.13 127.32,307.76 127.37,308.00 127.56,308.48 127.70,308.38 127.81,308.78 127.67,309.44 127.85,309.06 127.93,309.02 127.92,309.73 128.12,310.51 128.19,310.57 128.33,310.73 128.55,311.10 128.57,311.30 128.52,311.80 128.75,312.31 128.93,312.33 129.01,312.13 129.09,312.73 129.10,313.27 129.12,313.04 129.19,313.71 129.39,314.32 129.65,313.90 129.83,313.71 129.71,314.35 129.61,314.72 129.79,315.06 129.89,316.05 129.88,316.81 130.17,316.65 130.48,316.68 130.38,317.17 130.31,317.25 130.42,317.02 130.45,317.57 130.52,318.14 130.78,318.29 131.04,318.77 131.14,318.77 131.21,319.28 131.16,319.77 131.00,319.72 131.29,319.88 131.58,320.27 131.57,320.89 131.79,320.87 131.84,321.05 131.76,321.35 131.89,321.18 132.20,321.48 132.43,322.20 132.32,322.70 132.49,323.09 132.74,323.05 132.79,322.97 132.86,323.43 133.09,323.94 133.31,324.16 133.41,324.02 133.45,323.90 133.56,324.73 133.77,325.71 133.86,325.48 133.95,325.86 134.07,326.29 134.20,326.27 134.36,326.90 134.58,326.90 134.81,326.59 134.88,326.49 134.95,327.05 135.17,327.93 135.30,328.35 135.48,328.65 135.72,328.68 135.90,329.09 136.10,329.00 136.33,329.02 136.52,329.72 136.66,329.81 136.83,330.42 136.95,330.83 137.06,330.95 137.31,331.33 137.56,331.08 137.81,331.64 137.97,332.29 138.03,331.91 138.25,331.73 138.47,331.61 138.63,331.82 138.91,332.31 139.22,332.65 139.39,332.80 139.51,333.14 139.72,333.47 139.96,332.95 140.12,333.02 140.37,333.46 140.65,333.40 140.88,333.83 141.08,334.79 141.26,334.69 141.50,333.87 141.68,334.40 141.98,336.00 142.19,336.05 142.33,335.63 142.61,335.88 142.83,336.28 143.08,337.14 143.35,336.95 143.57,337.05 143.83,336.89 144.07,336.72 144.31,336.83 144.55,337.00 144.80,337.42 145.07,337.62 145.30,337.60 145.53,337.76 145.78,338.40 146.05,338.26 146.31,338.06 146.55,337.97 146.79,338.28 147.09,339.05 147.36,339.30 147.62,339.34 147.90,340.04 148.16,339.98 148.42,339.69 148.68,340.30 148.95,340.52 149.23,340.45 149.51,340.38 149.79,341.16 150.05,341.21 150.32,340.31 150.62,340.71 150.91,341.71 151.17,342.19 151.45,341.58 151.74,341.42 152.03,341.73 152.30,341.48 152.59,341.65 152.88,342.00 153.18,341.86 153.48,342.46 153.76,342.31 154.05,342.25 154.34,343.45 154.62,343.81 154.91,343.10 155.21,342.16 155.49,341.34 155.79,341.48 156.08,343.28 156.37,342.63 156.66,340.99 156.95,342.24 157.24,343.38 157.53,342.15 157.81,341.88 158.10,343.03 158.39,342.38 158.69,342.76 158.97,342.93 159.25,343.09 159.55,343.94 159.85,343.07 160.14,342.21 160.43,342.46 160.72,343.31 161.00,343.49 161.29,343.29 161.59,343.32 161.89,344.15 162.18,343.85 162.46,343.34 162.75,344.13 163.05,344.30 163.34,344.58 163.63,345.49 163.93,344.90 164.23,344.24 164.52,343.40 164.81,343.16 165.11,344.68 165.40,344.31 165.70,344.73 165.99,344.37 166.28,344.44 166.58,345.26 166.88,344.00 167.17,344.07 167.47,344.55 167.76,344.31 168.06,343.73 168.35,344.06 168.65,345.43 168.94,346.01 169.24,346.30 169.53,345.77 169.83,344.86 170.13,345.07 170.42,345.41 170.72,345.92 171.02,346.91 171.31,347.10 171.60,346.23 171.90,346.67 172.19,346.17 172.49,344.65 172.78,345.55 173.08,346.47 173.38,346.20 173.67,346.71 173.96,346.49 174.27,345.92 174.56,346.39 174.85,346.90 175.15,347.31 175.44,347.04 175.74,346.66 176.04,345.42 176.34,346.05 176.63,346.36 176.92,345.63 177.22,347.85 177.52,347.73 177.81,345.58 178.11,346.83 178.41,347.51 178.70,346.45 179.00,346.74 179.29,347.35 179.59,347.98 179.89,347.49 180.18,347.75 180.48,347.30 180.78,347.07 181.08,347.29 181.37,347.35 181.67,347.37 181.97,346.68 182.26,348.09 182.56,347.70 182.86,346.04 183.15,347.17 183.46,347.79 183.75,347.19 184.04,347.31 184.34,348.92 184.64,348.38 184.94,346.95 185.23,347.77 185.53,347.37 185.83,347.27 186.13,348.25 186.43,347.71 186.72,348.16 187.02,348.05 187.32,347.25 187.62,348.26 187.92,349.72 188.22,348.37 188.51,347.26 188.81,349.79 189.11,349.24 189.41,348.67 189.70,349.25 190.00,347.59 190.30,347.74 190.60,348.13 190.89,347.96 191.19,347.57 191.49,348.04 191.79,347.73 192.09,347.14 192.38,349.42 192.68,349.91 192.98,348.82 193.28,348.34 193.58,348.31 193.88,349.88 194.18,350.16 194.48,348.80 194.77,348.36 195.07,348.07 195.37,349.02 195.67,348.96 195.97,348.00 196.27,348.06 196.56,348.40 196.86,348.93 197.17,348.86 197.46,348.63 197.76,348.47 198.06,349.50 198.36,350.11 198.66,349.04 198.96,349.21 199.26,349.42 199.56,348.13 199.86,348.06 200.16,350.35 200.45,350.86 200.75,350.55 201.05,349.74 201.35,347.86 201.65,347.86 201.95,349.90 202.25,349.71 202.55,348.20 202.84,349.72 203.14,350.13 203.45,349.22 203.74,349.69 204.04,349.92 204.34,349.44 204.64,349.58 204.94,349.31 205.24,349.11 205.54,350.12 205.84,349.40 206.14,348.80 206.44,348.75 206.73,349.47 207.03,350.76 207.33,350.92 207.63,351.24 207.93,351.32 208.23,351.11 208.53,349.82 208.83,350.00 209.13,349.92 209.43,350.71 209.73,351.61 210.03,350.60 210.33,349.50 210.63,349.87 210.93,351.65 211.23,349.73 211.52,348.48 211.82,349.30 212.12,349.25 212.42,350.63 212.72,352.60 213.02,350.82 213.32,350.13 213.62,350.74 213.92,351.00 214.22,349.73 214.52,348.41 214.82,350.81 215.12,350.58 215.42,350.58 215.72,350.78 216.02,350.76 216.32,351.59 216.62,350.44 216.91,349.45 217.21,349.66 217.51,351.11 217.81,351.25 218.11,349.90 218.41,351.42 218.71,350.75 219.01,349.09 219.31,350.70 219.61,350.10 219.91,349.70 220.21,350.18 220.51,349.09 220.81,349.76 221.11,350.04 221.41,349.14 221.71,350.95 222.01,350.68 222.31,350.22 222.61,351.98 222.91,352.29 223.20,351.77 223.50,350.85 223.80,349.44 224.10,349.74 224.40,351.16 224.70,350.68 225.00,349.60 225.30,350.67 225.60,350.63 225.90,350.32 226.20,350.77 226.50,349.16 226.80,350.78 227.10,352.55 227.40,351.74 227.70,350.20 228.00,349.70 228.30,351.02 228.60,350.55 228.90,351.62 229.19,350.68 229.49,349.96 229.80,350.05 230.09,348.30 230.39,348.79 230.69,350.45 230.99,350.90 231.29,349.95 231.59,349.81 231.89,349.20 232.19,349.21 232.49,349.61 232.79,350.07 233.09,350.55 233.39,349.28 233.69,349.08 233.99,351.57 234.29,351.72 234.59,350.72 234.89,350.53 235.19,350.06 235.49,350.58 235.79,350.07 236.08,350.00 236.38,349.77 236.68,350.17 236.98,350.25 237.28,350.51 237.58,352.56 237.88,350.78 238.18,350.52 238.48,351.49 238.78,351.89 239.08,351.80 239.38,350.67 239.68,350.87 239.98,352.10 240.28,350.83 240.58,350.46 240.88,352.05 241.18,351.07 241.48,350.82 241.78,351.96 242.08,352.82 242.38,353.44 242.67,352.28 242.97,349.44 243.27,349.52 243.57,350.89 243.87,350.99 244.17,352.13 244.47,354.18 244.77,353.52 245.07,350.42 245.37,350.96 245.67,351.89 245.97,351.10 246.27,352.30 246.57,352.58 246.87,351.86 247.17,351.81 247.47,352.49 247.77,352.77 248.07,353.85 248.37,351.83 248.67,349.54 248.97,350.60 249.27,351.91 249.57,352.58 249.87,352.61 250.17,351.29 250.46,350.43 250.76,352.12 251.06,352.27 251.36,351.44 251.66,351.71 251.96,353.39 252.26,351.64 252.56,351.60 252.86,353.38 253.16,351.40 253.46,351.72 253.76,352.47 254.06,352.93 254.36,352.25 254.66,352.06 254.96,351.99 255.26,351.47 255.56,352.79 255.86,352.48 256.16,352.44 256.46,352.03 256.76,352.39 257.06,352.48 257.36,351.04 257.66,351.37 257.96,351.91 258.26,351.33 258.56,352.04 258.86,352.64 259.15,352.49 259.45,351.37 259.75,349.80 260.05,350.82 260.35,351.10 260.65,351.22 260.95,352.51 261.25,353.55 261.55,354.31 261.85,354.05 262.15,352.26 262.45,352.08 262.75,352.24 263.05,352.24 263.35,351.81 263.65,352.49 263.95,353.72 264.25,352.37 264.55,350.91 264.85,351.39 265.15,352.10 265.45,352.08 265.75,351.94 266.05,351.28 266.35,352.41 266.65,354.10 266.95,352.54 267.25,351.15 267.55,352.54 267.85,352.59 268.15,351.91 268.45,353.80 268.74,353.48 269.04,352.03 269.34,352.33 269.64,351.96 269.94,350.79 270.24,351.62 270.54,353.05 270.84,351.50 271.14,353.09 271.44,353.67 271.74,351.77 272.04,351.30 272.34,352.72 272.64,353.47 272.94,352.32 273.24,351.19 273.54,350.70 273.84,352.12 274.14,352.87 274.44,350.98 274.74,350.27 275.04,352.08 275.34,354.60 275.64,353.78 275.94,350.41 276.24,351.70 276.54,352.91 276.84,351.15 277.14,352.04 277.44,352.98 277.74,351.69 278.04,350.78 278.34,351.50 278.64,352.70 278.94,351.30 279.24,352.07 279.54,352.52 279.84,352.88 280.14,354.25 280.44,352.91 280.74,352.92 281.04,352.58 281.33,352.25 281.63,354.17 281.93,353.74 282.23,353.04 282.53,352.77 282.83,352.07 283.13,353.67 283.43,352.66 283.73,352.13 284.03,351.54 284.33,350.28 284.63,351.56 284.93,353.30 285.23,354.29 285.53,352.75 285.83,352.03 286.13,352.98 286.43,351.76 286.73,351.97 287.03,354.48 287.33,355.20 287.63,353.54 287.93,352.12 288.23,351.83 288.53,351.76 288.83,352.36 289.13,353.38 289.43,353.68 289.73,352.30 290.03,352.94 290.33,354.51 290.63,353.28 290.93,352.31 291.23,352.76 291.53,351.56 291.83,351.77 292.13,353.78 292.43,355.35 292.73,354.94 293.03,353.02 293.33,352.73 293.63,353.51 293.93,354.34 294.23,353.07 294.53,352.55 294.83,353.87 295.13,352.06 295.43,352.69 295.72,354.16 296.02,353.73 296.32,353.89 296.62,352.92 296.92,352.90 297.22,353.37 297.52,354.20 297.82,353.72 298.12,352.00 298.42,351.63 298.72,351.76 299.02,353.03 299.32,353.05 299.62,353.72 299.92,354.67 300.22,353.28 300.52,354.31 300.82,354.07 301.12,352.68 301.42,353.68 301.72,354.59 302.02,353.05 302.32,354.23 302.62,355.60 302.92,352.69 303.22,352.05 303.52,353.96 303.82,354.31 304.12,354.25 304.42,355.89 304.72,355.96 305.02,355.90 305.32,355.68 305.62,353.35 305.92,354.09 306.22,354.06 306.52,353.58 306.82,354.78 307.12,353.20 307.42,352.02 307.72,352.62 308.02,353.59 308.32,354.92 308.62,354.64 308.92,355.15 309.22,355.86 309.52,353.64 309.82,352.34 310.12,352.98 310.42,353.08 310.72,352.93 311.02,354.07 311.32,354.39 311.62,354.57 311.92,353.74 312.21,352.14 312.51,351.52 312.81,350.72 313.11,351.56 313.41,353.19 313.71,353.42 314.01,353.37 314.31,355.34 314.61,354.38 314.91,352.36 315.21,352.89 315.51,352.34 315.81,353.96 316.11,354.74 316.41,354.66 316.71,353.70 317.01,354.25 317.31,357.04 317.61,354.63 317.91,352.83 318.21,353.49 318.51,354.00 318.81,352.97 319.11,352.89 319.41,354.69 319.71,353.75 320.01,351.37 320.31,351.30 320.61,352.70 320.91,353.98 321.21,353.79 321.51,352.10 321.81,353.20 322.11,354.55 322.41,354.65 322.71,354.37 323.01,354.66 323.31,355.08 323.61,352.57 323.91,352.30 324.21,354.56 324.51,354.42 324.81,355.03 325.11,354.60 325.41,353.93 325.71,353.25 326.01,352.64 326.31,353.24 326.61,352.36 326.91,351.70 327.21,352.78 327.51,354.32 327.81,353.56 328.11,352.10 328.41,351.88 328.71,353.65 329.01,353.37 329.31,353.71 329.61,353.30 329.91,352.54 330.21,354.61 330.51,355.44 330.81,354.48 331.11,352.73 331.41,351.85 331.71,353.33 332.01,354.48 332.31,353.27 332.61,353.02 332.91,353.65 333.20,354.06 333.50,354.88 333.80,353.10 334.10,352.80 334.40,354.09 334.70,353.28 335.00,353.47 335.30,353.47 335.60,354.42 335.90,354.69 336.20,352.75 336.50,352.50 336.80,353.69 337.10,354.08 337.40,354.21 337.70,353.81 338.00,354.68 338.30,353.79 338.60,354.66 338.90,355.13 339.20,352.44 339.50,353.64 339.80,355.50 340.10,355.92 340.40,356.26 340.70,355.58 341.00,354.35 341.30,354.26 341.60,354.20 341.90,353.39 342.20,354.82 342.50,356.90 342.80,355.49 343.10,353.69 343.40,353.25 343.70,351.96 344.00,351.80 344.30,352.83 344.60,353.42 344.90,352.99 345.20,351.33 345.50,352.79 345.80,356.00 346.10,353.65 346.40,352.01 346.70,354.53 347.00,353.63 347.30,351.60"/>
<path d="M55.60,355.12 55.90,355.28 56.20,353.19 56.50,353.51 56.80,353.94 57.10,352.45 57.40,353.08 57.70,353.72 58.00,354.58 58.30,356.37 58.60,355.83 58.90,355.33 59.20,354.77 59.50,353.78 59.80,353.51 60.10,352.84 60.40,354.49 60.70,355.26 61.00,354.47 61.30,353.36 61.60,354.47 61.90,355.02 62.20,352.94 62.50,353.08 62.80,354.25 63.10,354.93 63.40,355.63 63.70,354.03 64.00,352.36 64.30,354.67 64.60,356.83 64.90,354.90 65.20,353.03 65.50,352.23 65.80,351.58 66.10,352.17 66.40,352.80 66.70,352.53 67.00,353.45 67.30,354.45 67.60,353.40 67.90,354.27 68.20,354.25 68.50,352.35 68.80,352.61 69.10,355.48 69.40,355.54 69.70,354.23 70.00,353.97 70.30,353.31 70.60,353.93 70.90,352.37 71.20,350.83 71.50,352.06 71.80,352.92 72.10,354.72 72.40,356.74 72.70,356.01 73.00,354.58 73.30,354.63 73.60,355.61 73.90,354.14 74.20,352.38 74.50,353.38 74.80,354.08 75.10,352.27 75.40,352.38 75.70,352.66 76.00,352.95 76.30,355.10 76.60,352.67 76.90,352.36 77.20,354.29 77.50,353.30 77.80,353.97 78.10,356.28 78.40,355.88 78.70,353.15 79.00,351.44 79.30,351.37 79.60,351.75 79.90,353.77 80.20,354.92 80.50,353.90 80.80,354.42 81.10,354.46 81.40,353.72 81.70,352.96 82.00,352.38 82.30,353.15 82.60,352.67 82.90,354.11 83.20,355.25 83.50,353.30 83.80,354.05 84.10,353.60 84.40,353.67 84.70,354.68 85.00,355.41 85.30,354.85 85.60,352.84 85.90,352.58 86.20,351.83 86.50,352.79 86.80,352.96 87.10,353.02 87.40,353.39 87.70,354.04 88.00,352.85 88.30,352.28 88.60,354.08 88.90,353.71 89.20,353.11 89.50,354.65 89.80,354.85 90.10,353.68 90.40,353.81 90.70,353.12 90.88,353.51 90.12,353.61 90.15,352.97 90.98,352.35 91.48,351.97 91.20,351.92 90.96,351.77 90.89,351.17 91.04,351.27 90.91,351.16 91.00,350.79 91.00,350.46 91.13,350.16 91.27,349.91 90.83,349.25 90.85,348.99 90.87,348.87 90.91,348.47 90.76,348.31 90.72,347.94 91.08,347.35 91.25,347.42 91.18,347.72 91.33,347.10 91.12,346.66 90.89,346.50 91.11,345.85 91.16,345.32 91.21,345.09 91.44,344.87 91.49,344.56 91.14,344.32 91.47,343.88 91.63,343.76 91.30,343.46 91.44,342.83 91.39,342.88 91.24,342.88 91.46,342.66 91.33,342.26 91.17,341.63 91.46,341.48 91.77,341.27 91.64,340.77 91.41,340.36 91.57,340.14 91.40,339.68 91.19,339.40 91.29,339.10 91.13,338.85 90.99,338.61 91.20,338.29 91.57,338.48 91.71,338.05 91.76,337.31 91.44,337.32 91.28,337.11 91.69,336.40 91.62,336.33 91.31,335.91 91.46,335.25 91.63,335.04 91.67,334.84 91.67,334.45 91.75,334.36 91.85,334.46 91.73,334.04 91.61,333.55 91.67,333.05 91.65,332.87 91.68,332.68 91.91,332.40 91.92,332.33 91.63,331.96 91.57,331.26 91.78,330.83 91.84,330.97 91.61,330.83 91.44,330.54 91.63,329.94 91.87,329.44 91.82,329.38 91.76,328.88 91.86,328.51 91.99,328.56 92.02,328.42 91.59,327.92 91.53,327.59 91.76,327.52 91.95,327.03 92.01,326.61 91.83,326.60 91.60,326.17 91.64,325.90 91.79,325.68 91.95,325.35 92.08,325.19 91.76,324.78 91.40,324.32 91.53,323.89 91.81,323.66 91.75,323.47 91.66,323.33 91.93,323.00 92.09,322.56 91.73,322.49 91.69,322.19 91.93,321.72 91.87,321.59 91.92,321.25 92.02,320.79 92.21,320.57 92.17,320.21 91.83,319.66 91.75,319.18 91.93,319.00 92.24,319.04 92.23,318.90 92.06,318.67 92.02,318.36 91.91,317.76 91.89,317.15 91.80,316.86 91.89,316.72 92.10,316.39 92.03,316.25 91.88,315.94 91.83,315.60 91.87,315.50 91.94,314.90 91.98,314.44 91.99,314.53 92.14,314.40 92.26,313.95 92.03,313.39 91.83,312.99 91.83,312.84 92.03,312.80 92.06,312.56 92.08,312.08 92.13,311.74 92.09,311.56 92.09,311.00 91.94,310.46 92.03,310.40 92.07,310.39 92.04,310.23 92.12,309.66 92.29,309.23 92.32,308.93 92.11,308.58 91.78,308.39 91.86,308.10 91.84,307.70 91.92,307.30 92.25,306.86 92.02,306.69 92.02,306.63 92.09,306.43 92.18,306.00 92.17,305.52 91.92,305.50 91.94,305.35 92.07,305.00 92.03,304.57 92.26,304.06 92.34,303.68 92.31,303.61 92.33,303.31 92.08,302.65 92.03,302.40 91.98,302.49 92.13,302.30 92.37,301.86 92.34,301.57 92.08,301.24 92.10,300.90 92.12,300.42 91.85,300.36 91.96,300.23 92.00,299.87 91.92,299.38 92.14,298.99 92.18,298.74 92.14,298.20 92.38,298.09 92.54,298.10 92.54,297.94 92.45,297.68 92.30,297.17 92.49,296.80 92.39,296.45 92.22,295.98 92.32,295.79 92.32,295.55 92.38,295.33 92.37,294.80 92.40,294.54 92.28,294.40 92.25,294.15 92.23,294.07 92.30,293.43 92.56,292.97 92.40,292.91 92.22,292.52 92.25,292.03 92.38,291.79 92.21,291.69 92.02,291.55 92.32,291.10 92.42,290.78 92.16,290.73 91.94,290.45 92.04,289.86 92.08,289.33 92.16,289.16 92.37,289.08 92.58,288.80 92.44,288.34 92.30,287.86 92.31,287.78 92.11,287.58 92.23,287.36 92.26,286.93 92.51,286.34 92.61,286.11 92.30,286.09 92.56,286.04 92.56,285.43 92.27,284.72 92.34,284.63 92.30,284.60 92.40,284.01 92.64,283.49 92.42,283.39 92.22,283.26 92.33,282.93 92.22,282.71 92.11,282.34 92.24,281.95 92.30,281.79 92.38,281.51 92.60,281.09 92.59,280.88 92.52,280.36 92.39,280.14 92.29,280.16 92.45,279.60 92.60,279.22 92.55,279.18 92.55,278.97 92.53,278.28 92.33,277.77 92.40,277.73 92.49,277.80 92.25,277.57 92.41,277.01 92.67,276.69 92.66,276.42 92.56,276.00 92.66,275.75 92.77,275.23 92.72,275.01 92.58,275.04 92.43,274.55 92.67,274.07 92.71,273.67 92.56,273.52 92.75,273.40 92.89,273.08 92.74,272.99 92.84,272.40 92.64,271.79 92.40,271.65 92.52,271.57 92.71,271.33 92.97,270.79 92.74,270.55 92.57,270.42 92.75,270.31 92.80,269.99 92.72,269.42 92.78,269.02 92.99,268.67 92.89,268.50 92.53,268.42 92.51,268.02 92.64,267.60 92.61,267.51 92.71,267.24 92.84,266.82 92.87,266.37 92.85,265.92 92.78,265.50 92.60,265.10 92.53,265.11 92.56,265.16 92.64,264.77 92.74,264.15 92.70,263.90 92.78,263.91 92.76,263.58 92.83,263.25 92.99,262.96 92.76,262.38 92.79,261.97 92.87,261.79 92.63,261.88 92.64,261.69 92.58,261.09 92.67,260.75 92.97,260.51 92.75,260.12 92.66,259.78 92.92,259.50 92.95,259.31 92.97,259.25 92.94,259.03 92.82,258.48 92.88,258.08 92.98,257.73 92.97,257.21 92.98,257.02 92.86,256.94 92.82,256.62 92.93,256.35 93.06,256.17 92.77,255.86 92.50,255.43 92.54,254.85 92.63,254.81 92.75,254.63 92.84,254.18 92.89,254.01 93.03,253.57 93.00,253.45 92.77,253.28 92.75,252.74 92.80,252.29 92.92,251.87 92.91,251.46 92.78,251.36 92.69,251.17 92.82,250.73 92.93,250.56 92.79,250.27 92.83,249.99 93.00,249.65 93.28,249.20 93.44,249.11 93.09,248.78 92.85,248.44 92.73,248.30 92.56,247.92 92.58,247.33 92.93,246.86 93.14,246.63 92.86,246.34 92.81,246.30 92.93,246.05 92.93,245.47 93.17,245.22 93.03,245.07 92.81,244.62 93.08,244.41 93.19,244.43 92.93,243.97 92.90,243.68 93.00,243.25 92.92,242.77 92.89,242.66 93.06,242.44 93.51,242.32 93.54,241.96 93.26,241.38 92.95,241.15 93.09,241.01 93.45,240.74 93.22,240.37 93.20,240.03 93.13,239.70 92.88,239.46 93.12,239.14 93.11,238.68 93.19,238.63 93.53,238.31 93.46,237.86 93.36,237.74 93.55,237.39 93.57,237.14 93.54,236.80 93.66,236.52 93.40,236.09 93.49,235.47 93.76,235.39 93.54,235.46 93.51,235.38 93.54,234.76 93.48,234.24 93.34,233.99 93.28,233.42 93.37,233.28 93.55,233.20 93.66,232.99 93.59,232.78 93.53,232.21 93.64,231.78 93.43,231.52 93.19,231.38 93.55,231.03 93.62,230.95 93.60,230.75 93.85,230.00 93.88,229.68 93.55,229.70 93.45,229.45 93.50,228.94 93.60,228.48 93.87,228.12 93.81,227.74 93.77,227.48 93.80,227.39 93.98,227.09 94.04,227.00 93.88,226.85 93.95,226.24 94.07,225.88 94.11,225.88 94.03,225.33 93.99,224.84 94.09,225.18 94.19,225.05 94.17,224.22 94.14,223.75 94.25,223.59 94.43,223.72 94.53,223.35 94.53,222.52 94.66,222.32 94.84,221.75 95.03,221.04 95.17,221.08 95.24,221.49 95.55,221.14 95.78,220.84 95.83,220.91 96.07,220.77 96.30,219.73 96.51,219.93 96.75,220.99 97.01,220.74 97.29,220.48 97.60,220.28 97.91,220.20 98.19,220.52 98.44,221.22 98.69,220.99 98.97,221.11 99.16,221.33 99.37,221.44 99.66,221.76 99.90,222.06 100.06,222.95 100.26,222.96 100.47,222.44 100.62,222.47 100.83,223.05 100.90,223.26 101.09,223.60 101.39,224.08 101.61,224.29 101.73,224.28 101.78,224.00 102.02,224.20 102.23,224.84 102.40,225.08 102.67,225.43 102.74,225.35 102.80,225.25 102.92,226.02 102.94,225.98 103.13,226.13 103.45,226.49 103.66,226.90 103.75,227.50 103.94,227.98 104.05,228.09 104.06,227.75 104.19,228.10 104.29,228.81 104.44,229.24 104.55,229.52 104.67,230.07 104.86,230.21 105.02,230.14 105.04,230.29 105.19,230.48 105.33,231.21 105.44,231.71 105.62,231.26 105.56,231.74 105.58,232.03 105.91,231.93 106.06,232.90 106.05,233.31 106.17,233.49 106.34,233.94 106.53,234.16 106.61,233.94 106.81,234.24 106.90,234.65 106.84,234.36 106.99,234.73 107.15,235.62 107.38,235.99 107.64,236.15 107.62,236.80 107.56,237.15 107.75,237.23 107.86,237.52 107.99,237.97 108.03,238.09 108.14,238.26 108.16,239.04 108.24,238.96 108.57,239.07 108.80,239.12 108.78,239.24 108.77,239.99 108.99,240.02 108.96,239.75 109.02,240.23 109.12,240.83 109.09,241.15 109.12,241.56 109.29,241.98 109.41,242.54 109.33,242.74 109.53,242.39 109.65,242.73 109.76,243.41 110.02,243.59 109.95,244.12 109.86,244.43 109.92,244.34 110.01,244.67 110.12,244.72 110.28,245.11 110.58,245.71 110.48,246.14 110.28,246.55 110.60,246.60 110.82,246.80 110.95,246.81 110.82,247.05 110.82,247.62 110.77,248.10 110.73,248.42 111.08,248.66 111.23,249.00 111.05,249.08 110.96,249.30 110.94,249.65 111.00,249.67 111.13,249.74 111.28,250.40 111.40,251.22 111.48,251.62 111.60,251.51 111.56,251.82 111.80,252.54 112.00,252.44 111.74,252.55 111.81,253.27 112.07,253.50 112.12,253.70 112.13,253.88 111.86,253.91 111.82,254.47 111.84,254.79 111.78,254.96 111.97,255.30 112.30,255.40 112.42,255.94 112.36,256.38 112.48,256.37 112.41,256.61 112.49,256.98 112.66,257.19 112.49,257.62 112.45,258.02 112.57,258.31 112.74,258.51 112.96,258.50 112.91,258.79 112.78,259.30 113.05,259.53 113.34,259.93 113.38,260.39 113.23,260.70 113.05,260.99 113.15,261.27 113.27,261.45 113.16,261.42 113.32,262.00 113.66,262.39 113.48,262.76 113.22,263.03 113.30,263.24 113.30,263.51 113.48,263.43 113.51,264.10 113.54,264.66 113.78,264.88 113.83,265.24 113.68,265.08 113.66,265.42 113.89,266.18 114.01,266.63 114.07,267.02 113.96,267.17 114.08,267.17 114.33,267.41 114.40,267.53 114.22,267.94 114.17,268.55 114.20,268.78 114.16,268.83 114.38,269.18 114.29,269.51 114.47,269.91 114.80,270.19 114.54,270.20 114.39,270.54 114.51,270.75 114.60,270.95 114.52,271.38 114.56,271.48 114.56,272.16 114.55,272.86 114.95,272.87 115.06,272.96 114.86,273.24 115.08,273.68 115.20,273.96 115.14,274.01 115.08,274.28 115.18,274.50 115.24,274.79 115.26,275.25 115.41,275.48 115.54,275.87 115.62,276.41 115.47,276.96 115.29,277.12 115.30,277.04 115.38,277.58 115.62,277.82 115.69,277.78 115.34,278.27 115.48,278.54 115.82,279.09 115.72,279.58 115.75,279.83 115.75,280.02 115.73,280.28 115.90,280.60 115.95,280.73 116.05,281.10 115.98,281.49 116.06,281.83 116.12,282.03 116.08,281.98 116.33,282.26 116.26,282.47 116.15,282.77 116.46,283.27 116.63,283.75 116.43,283.85 116.26,284.34 116.44,284.92 116.48,284.61 116.47,285.04 116.44,285.68 116.54,285.98 116.56,286.54 116.55,286.62 116.84,286.63 116.80,287.09 116.60,287.22 116.58,287.54 116.59,288.17 116.97,288.27 117.01,288.43 116.74,289.05 117.03,289.38 117.22,289.22 117.35,289.44 117.53,289.95 117.53,290.42 117.45,290.76 117.41,291.20 117.46,291.28 117.68,291.29 117.82,291.65 117.86,292.19 117.70,292.96 117.64,292.73 117.81,292.86 117.91,293.32 117.95,293.14 118.14,293.22 118.42,293.86 118.60,294.47 118.53,294.66 118.43,294.90 118.57,295.33 118.66,295.62 118.66,295.60 118.82,295.86 118.79,296.50 118.76,296.45 118.86,296.95 119.04,297.86 119.18,297.86 119.10,298.26 119.31,298.35 119.41,298.01 119.52,298.34 119.67,298.67 119.91,299.48 119.92,299.93 119.75,299.82 120.00,300.17 120.17,300.81 120.25,301.05 120.30,300.93 120.43,301.24 120.57,301.87 120.69,302.05 120.62,302.38 120.61,302.77 120.80,302.72 120.90,303.05 120.93,303.80 121.05,303.93 121.11,304.08 121.21,304.55 121.47,304.57 121.32,304.74 121.40,305.17 121.49,305.58 121.59,305.77 121.72,306.06 121.76,306.08 121.97,306.08 121.93,306.33 121.89,306.68 122.17,307.14 122.38,307.42 122.53,307.87 122.66,308.03 122.84,308.14 122.95,308.82 123.03,309.53 123.14,309.63 123.09,309.81 123.20,310.38 123.22,310.19 123.21,310.23 123.51,310.51 123.65,310.66 123.49,311.26 123.64,311.36 123.76,311.67 123.81,312.19 124.07,312.32 124.27,312.75 124.42,312.91 124.50,312.74 124.47,313.20 124.50,313.69 124.55,313.93 124.57,314.15 124.81,314.29 124.88,314.60 124.93,314.83 125.00,315.17 125.02,315.56 124.90,316.02 124.85,316.84 125.06,317.01 125.26,316.65 125.54,317.17 125.37,317.53 125.27,317.56 125.49,318.02 125.58,318.49 125.56,318.86 125.69,319.20 125.60,319.46 125.73,319.91 125.97,320.39 125.68,320.37 125.62,320.45 125.89,320.57 126.23,321.03 126.31,321.54 126.09,322.09 126.30,322.27 126.56,322.46 126.55,322.68 126.71,322.18 126.80,322.45 126.84,323.21 127.06,323.95 127.24,323.90 127.38,324.14 127.47,324.50 127.67,324.35 127.76,324.66 127.74,325.52 128.02,325.92 128.25,325.79 128.41,325.55 128.60,325.76 128.76,326.53 128.88,327.21 129.08,327.12 129.39,326.68 129.51,326.91 129.72,327.17 130.03,327.89 130.07,328.09 130.22,328.52 130.39,329.01 130.52,328.61 130.70,328.65 130.85,328.76 130.99,328.78 131.18,329.76 131.39,330.68 131.52,330.31 131.63,330.18 131.86,331.17 132.24,331.35 132.39,331.21 132.44,331.81 132.57,331.95 132.72,332.01 132.90,332.22 133.01,332.57 133.18,332.47 133.41,332.71 133.65,333.46 133.83,333.32 134.00,333.65 134.26,334.01 134.47,333.55 134.56,333.50 134.59,334.36 134.78,335.34 135.06,335.43 135.30,335.07 135.49,335.38 135.71,336.34 135.87,336.61 136.00,336.10 136.17,336.49 136.29,337.11 136.51,337.12 136.76,337.42 137.00,337.87 137.11,338.03 137.33,337.73 137.67,337.92 137.88,338.48 138.07,339.12 138.24,338.83 138.45,338.54 138.72,338.84 138.91,339.16 139.13,339.45 139.40,338.75 139.63,339.48 139.91,340.16 140.15,339.51 140.35,339.33 140.62,339.48 140.89,339.71 141.18,340.24 141.42,340.98 141.64,341.16 141.95,341.40 142.25,341.22 142.49,341.47 142.77,341.93 143.03,342.01 143.30,342.47 143.58,342.26 143.82,342.68 144.14,343.35 144.41,342.76 144.63,343.34 144.90,344.43 145.21,343.08 145.47,341.55 145.68,342.12 145.94,343.41 146.20,344.29 146.45,344.54 146.73,344.23 147.02,344.52 147.29,345.01 147.56,344.43 147.85,344.27 148.14,345.15 148.39,344.82 148.65,344.02 148.94,344.00 149.23,345.20 149.52,346.09 149.80,345.85 150.08,345.37 150.36,344.98 150.64,345.92 150.94,345.86 151.24,345.92 151.53,346.14 151.82,345.54 152.11,345.94 152.41,346.50 152.70,347.25 152.99,346.64 153.28,346.67 153.57,346.50 153.87,345.11 154.17,344.44 154.47,345.47 154.77,347.57 155.06,346.44 155.36,345.45 155.66,346.05 155.95,345.39 156.25,345.63 156.55,346.78 156.85,346.50 157.15,345.77 157.44,346.20 157.74,347.22 158.04,346.34 158.34,345.97 158.63,347.21 158.93,346.10 159.23,346.00 159.52,348.34 159.82,347.41 160.11,347.21 160.40,347.87 160.70,347.49 160.99,347.62 161.29,346.59 161.58,345.67 161.89,347.72 162.18,348.00 162.47,346.59 162.77,348.37 163.07,348.78 163.36,348.04 163.66,346.62 163.95,346.16 164.25,346.64 164.55,345.93 164.85,347.06 165.14,348.79 165.44,348.10 165.74,347.19 166.03,348.01 166.33,349.05 166.63,348.13 166.93,348.36 167.22,349.71 167.52,348.99 167.82,347.68 168.12,348.09 168.41,349.32 168.71,350.15 169.01,349.34 169.30,349.27 169.60,349.47 169.90,348.81 170.20,349.01 170.49,348.75 170.79,349.85 171.09,349.37 171.39,348.98 171.69,349.29 171.98,348.74 172.28,348.47 172.58,348.67 172.88,347.83 173.18,347.55 173.48,349.64 173.77,350.43 174.07,348.65 174.37,347.33 174.67,348.19 174.96,350.29 175.26,350.31 175.56,349.04 175.86,349.19 176.15,349.44 176.46,349.01 176.75,349.00 177.05,350.00 177.35,350.58 177.65,349.66 177.95,349.59 178.24,351.59 178.54,351.54 178.84,350.70 179.14,348.73 179.44,349.22 179.74,352.05 180.04,352.00 180.33,351.02 180.63,350.78 180.93,351.90 181.23,350.82 181.53,349.10 181.83,350.43 182.13,350.93 182.43,348.70 182.73,348.70 183.02,350.44 183.32,349.63 183.62,349.67 183.92,350.55 184.22,348.99 184.52,349.21 184.82,352.03 185.12,352.96 185.42,350.67 185.72,348.44 186.02,349.34 186.32,350.54 186.61,349.53 186.91,348.80 187.21,350.81 187.51,351.56 187.81,351.35 188.11,351.17 188.41,351.18 188.71,350.83 189.01,349.71 189.31,349.41 189.61,348.39 189.91,348.82 190.21,349.26 190.51,349.22 190.80,350.37 191.10,350.87 191.40,351.08 191.70,350.67 192.00,350.35 192.30,351.54 192.60,351.49 192.90,350.65 193.20,349.27 193.50,348.43 193.80,350.80 194.10,351.00 194.40,349.37 194.70,350.78 195.00,350.68 195.30,350.72 195.60,351.60 195.89,350.38 196.19,348.94 196.49,350.45 196.79,350.61 197.09,348.66 197.39,350.68 197.69,350.69 197.99,350.49 198.29,351.43 198.59,350.85 198.89,350.08 199.19,349.79 199.49,350.84 199.79,350.61 200.09,350.90 200.39,351.87 200.68,351.81 200.98,351.83 201.28,351.86 201.58,351.99 201.88,352.22 202.18,352.23 202.48,351.86 202.78,350.86 203.08,349.28 203.38,350.05 203.68,352.17 203.98,351.42 204.28,349.43 204.58,349.75 204.88,351.30 205.18,352.42 205.47,351.90 205.77,350.31 206.07,350.53 206.37,352.02 206.67,352.04 206.97,352.32 207.27,351.98 207.57,351.89 207.87,353.60 208.17,352.14 208.47,350.16 208.77,351.49 209.07,353.81 209.37,353.72 209.67,352.10 209.97,352.75 210.27,352.70 210.57,350.38 210.87,349.72 211.16,352.11 211.46,351.54 211.76,349.34 212.06,351.36 212.36,352.64 212.66,352.97 212.96,352.01 213.26,350.46 213.56,351.05 213.86,350.66 214.16,350.77 214.46,351.64 214.76,352.55 215.06,352.63 215.36,351.62 215.66,352.11 215.96,353.35 216.26,353.81 216.56,353.15 216.86,352.01 217.16,351.41 217.46,350.67 217.76,351.13 218.06,352.19 218.36,353.49 218.66,353.71 218.95,352.99 219.25,353.89 219.55,351.77 219.85,350.18 220.15,351.53 220.45,352.17 220.75,351.45 221.05,352.07 221.35,353.76 221.65,353.48 221.95,353.31 222.25,352.01 222.55,352.40 222.85,352.81 223.15,350.33 223.45,350.95 223.75,352.87 224.05,352.22 224.35,350.50 224.65,350.13 224.95,351.39 225.25,350.71 225.55,351.70 225.85,354.19 226.15,353.20 226.45,353.26 226.75,353.29 227.05,351.47 227.35,352.15 227.65,353.58 227.95,352.29 228.25,350.65 228.54,350.61 228.84,352.78 229.14,353.36 229.44,354.09 229.74,353.81 230.04,352.63 230.34,353.46 230.64,352.78 230.94,353.22 231.24,352.70 231.54,351.96 231.84,351.70 232.14,350.09 232.44,351.14 232.74,351.86 233.04,350.71 233.34,352.18 233.64,353.15 233.94,352.99 234.24,354.60 234.54,354.44 234.84,353.37 235.14,352.21 235.44,352.55 235.74,354.29 236.04,352.70 236.34,352.54 236.64,353.71 236.94,352.98 237.24,352.79 237.54,354.70 237.84,354.09 238.14,352.09 238.44,352.73 238.74,352.87 239.04,351.24 239.34,351.95 239.64,354.30 239.93,355.23 240.23,353.97 240.53,351.42 240.83,352.47 241.13,352.67 241.43,352.12 241.73,352.66 242.03,352.83 242.33,352.80 242.63,353.24 242.93,352.84 243.23,353.98 243.53,355.44 243.83,353.18 244.13,351.69 244.43,352.07 244.73,352.50 245.03,351.96 245.33,353.57 245.63,355.12 245.93,353.00 246.23,352.65 246.53,353.60 246.83,353.79 247.13,353.21 247.43,354.29 247.73,354.93 248.03,354.92 248.33,354.45 248.63,353.90 248.93,354.22 249.23,354.50 249.53,354.45 249.83,352.10 250.13,351.33 250.43,351.71 250.73,353.16 251.03,354.04 251.33,353.63 251.63,354.23 251.93,355.55 252.23,353.77 252.53,353.23 252.83,355.84 253.13,354.44 253.43,352.22 253.73,353.11 254.03,353.80 254.33,352.99 254.63,352.74 254.93,354.60 255.23,355.46 255.52,353.38 255.82,351.11 256.12,350.85 256.42,352.50 256.72,352.78 257.02,351.90 257.32,353.21 257.62,353.70 257.92,352.75 258.22,353.18 258.52,354.78 258.82,354.87 259.12,354.21 259.42,354.02 259.72,354.77 260.02,353.64 260.32,351.32 260.62,351.95 260.92,354.68 261.22,356.47 261.52,353.77 261.82,352.03 262.12,353.47 262.42,353.94 262.72,354.24 263.02,353.75 263.32,351.54 263.62,352.51 263.92,355.05 264.22,353.18 264.52,350.46 264.82,351.40 265.12,351.42 265.42,352.19 265.72,352.82 266.02,353.09 266.32,353.81 266.62,353.28 266.92,354.16 267.22,353.87 267.52,352.41 267.82,353.40 268.12,353.00 268.42,353.44 268.72,354.19 269.02,352.50 269.32,353.39 269.62,354.22 269.92,354.32 270.22,352.67 270.52,351.46 270.82,353.05 271.12,354.15 271.42,353.78 271.72,354.59 272.02,354.52 272.32,354.21 272.62,355.32 272.92,354.81 273.22,353.69 273.52,354.04 273.82,354.61 274.12,354.51 274.42,353.36 274.72,353.23 275.02,355.39 275.32,354.74 275.62,353.46 275.92,353.51 276.22,354.16 276.52,352.61 276.82,353.24 277.12,355.46 277.42,353.86 277.72,353.66 278.02,354.85 278.32,354.94 278.62,354.54 278.92,355.28 279.22,354.84 279.52,354.44 279.82,355.59 280.12,355.44 280.42,353.60 280.72,353.79 281.02,356.09 281.32,355.14 281.62,353.79 281.92,354.45 282.22,354.83 282.52,354.10 282.82,353.31 283.12,355.39 283.42,356.02 283.72,353.76 284.02,353.85 284.32,354.45 284.62,355.11 284.92,353.64 285.22,352.39 285.52,354.67 285.82,353.47 286.12,351.95 286.42,353.49 286.72,354.18 287.02,353.50 287.32,353.74 287.62,352.79 287.92,351.78 288.22,354.52 288.52,354.70 288.82,353.56 289.12,354.09 289.42,354.46 289.72,354.80 290.02,354.40 290.32,355.14 290.62,355.07 290.92,352.56 291.22,351.70 291.52,354.44 291.82,355.95 292.12,354.50 292.42,352.18 292.72,351.76 293.02,354.91 293.32,356.59 293.62,355.91 293.92,353.45 294.21,351.20 294.51,352.09 294.81,352.09 295.11,352.71 295.41,352.94 295.71,353.26 296.01,354.02 296.31,353.12 296.61,353.89 296.91,354.77 297.21,354.32 297.51,353.61 297.81,353.45 298.11,352.09 298.41,350.42 298.71,351.52 299.01,353.35 299.31,355.48 299.61,355.71 299.91,353.31 300.21,352.54 300.51,352.30 300.81,352.69 301.11,353.72 301.41,353.72 301.71,354.04 302.01,354.98 302.31,355.34 302.61,353.43 302.91,353.57 303.21,353.70 303.51,353.30 303.81,354.26 304.11,355.40 304.41,355.23 304.71,353.68 305.01,353.53 305.31,354.37 305.61,354.88 305.91,353.90 306.21,354.36 306.51,356.35 306.81,357.04 307.11,356.60 307.41,354.72 307.71,353.33 308.01,353.94 308.31,352.54 308.61,353.90 308.91,354.14 309.21,352.99 309.51,353.17 309.81,352.93 310.11,354.73 310.41,355.08 310.71,353.61 311.01,352.59 311.31,354.15 311.61,354.66 311.91,353.96 312.21,354.83 312.51,352.94 312.81,352.35 313.11,355.24 313.41,356.57 313.71,356.07 314.01,353.89 314.31,354.13 314.61,356.40 314.91,355.01 315.21,352.76 315.51,353.18 315.81,353.45 316.11,351.81 316.41,350.38 316.71,351.02 317.01,352.26 317.31,353.78 317.61,353.87 317.91,353.65 318.21,355.29 318.51,356.89 318.81,356.46 319.11,353.87 319.41,353.97 319.71,354.82 320.01,354.26 320.31,355.10 320.61,355.47 320.91,353.50 321.21,351.84 321.51,353.21 321.81,354.81 322.11,356.33 322.41,356.24 322.71,354.18 323.01,353.23 323.31,352.93 323.61,352.23 323.91,351.71 324.21,352.36 324.51,353.58 324.81,353.39 325.11,353.32 325.41,353.75 325.71,353.54 326.01,353.40 326.31,353.85 326.61,354.25 326.91,352.21 327.21,352.43 327.51,354.30 327.81,353.55 328.10,353.60 328.40,353.53 328.70,353.49 329.00,353.33 329.30,353.82 329.60,354.88 329.90,353.04 330.20,352.13 330.50,353.99 330.80,354.95 331.10,354.47 331.40,353.13 331.70,352.42 332.00,353.55 332.30,354.39 332.60,354.24 332.90,353.26 333.20,353.08 333.50,353.37 333.80,352.56 334.10,352.04 334.40,352.35 334.70,352.00 335.00,353.11 335.30,355.07 335.60,355.43 335.90,354.09 336.20,352.68 336.50,353.57 336.80,353.81 337.10,353.33 337.40,353.46 337.70,352.34 338.00,353.71 338.30,353.86 338.60,351.40 338.90,353.34 339.20,353.75 339.50,353.98 339.80,355.22 340.10,354.60 340.40,353.98 340.70,352.45 341.00,351.75 341.30,353.06 341.60,354.00 341.90,352.86 342.20,351.97 342.50,352.27 342.80,353.20 343.10,354.32 343.40,355.16 343.70,354.46 344.00,354.92 344.30,355.85 344.60,355.89 344.90,354.52 345.20,353.75 345.50,355.44 345.80,353.41 346.10,353.27 346.40,355.15 346.70,355.15 347.00,354.94 347.30,355.14"/>
<path d="M55.60,353.19 55.90,353.63 56.20,353.80 56.50,352.38 56.80,353.39 57.10,352.61 57.40,351.59 57.70,352.89 58.00,353.22 58.30,352.21 58.60,351.49 58.90,352.72 59.20,354.09 59.50,354.12 59.80,353.41 60.10,352.77 60.40,352.97 60.70,351.95 61.00,352.50 61.30,355.11 61.60,354.53 61.90,352.82 62.20,354.01 62.50,354.27 62.80,354.28 63.10,354.64 63.40,352.78 63.70,352.83 64.00,352.90 64.30,352.94 64.60,353.98 64.90,353.90 65.20,353.06 65.50,353.27 65.80,354.02 66.10,354.04 66.40,354.18 66.70,354.69 67.00,354.46 67.30,354.58 67.60,354.34 67.90,354.71 68.20,355.05 68.50,354.79 68.80,354.27 69.10,352.29 69.40,352.07 69.70,353.34 70.00,354.06 70.30,353.99 70.60,354.96 70.90,353.85 71.20,351.02 71.50,352.00 71.80,352.95 72.10,353.13 72.40,354.30 72.70,356.04 73.00,354.32 73.30,351.62 73.60,352.72 73.90,352.37 74.20,351.75 74.50,354.16 74.80,354.77 75.10,353.63 75.40,354.64 75.70,353.18 76.00,352.32 76.30,353.77 76.60,353.89 76.90,353.07 77.20,352.46 77.50,353.24 77.80,354.25 78.10,353.71 78.40,353.60 78.70,352.47 79.00,352.30 79.30,354.74 79.60,353.59 79.90,352.66 80.20,353.44 80.50,353.95 80.80,354.99 81.10,354.91 81.40,353.67 81.70,353.34 82.00,353.77 82.30,354.61 82.60,354.60 82.90,353.45 83.20,352.94 83.50,352.73 83.80,352.27 84.10,352.53 84.40,352.78 84.70,353.87 85.00,353.33 85.30,352.73 85.60,352.75 85.90,353.37 86.20,354.64 86.50,355.05 86.80,355.26 87.10,353.29 87.40,352.85 87.70,353.19 88.00,352.71 88.30,352.37 88.60,352.56 88.90,353.52 89.20,353.96 89.50,355.65 89.80,355.33 90.10,353.64 90.40,353.70 90.70,353.41 91.00,353.23 91.35,353.53 91.49,353.36 91.56,353.25 91.09,353.12 91.18,352.38 91.38,351.97 91.09,351.98 91.30,351.61 91.47,351.18 91.51,350.92 91.34,350.83 91.54,350.60 92.05,350.02 91.79,349.67 91.27,349.78 91.29,349.27 91.20,348.84 91.10,348.70 91.26,348.70 91.64,348.58 91.64,347.85 91.38,347.40 91.47,346.78 91.49,346.41 91.87,346.80 92.27,346.66 91.95,345.92 91.43,345.56 91.35,345.32 91.49,344.85 91.46,344.56 91.30,344.52 91.37,343.95 91.61,343.52 91.60,343.13 91.52,342.59 91.68,342.78 91.76,342.94 91.43,342.80 91.42,342.10 91.83,341.51 92.14,341.35 91.89,341.22 91.73,341.02 91.96,340.57 92.11,340.31 91.99,339.94 91.92,339.69 91.94,339.40 91.69,339.12 91.87,338.89 92.09,338.47 92.04,338.00 92.03,337.46 91.89,337.11 91.86,337.08 92.02,336.71 91.94,336.52 92.09,336.45 92.50,335.80 92.08,335.59 91.95,335.30 92.16,334.96 92.13,334.79 92.21,334.64 92.13,334.49 92.22,334.16 92.26,333.68 92.34,333.42 92.38,333.17 92.04,332.73 91.98,332.49 92.17,332.21 92.13,331.68 91.99,331.43 92.30,331.10 92.45,330.78 92.22,330.67 92.04,330.32 92.12,329.89 92.31,329.71 92.38,329.53 92.61,329.21 92.41,328.84 92.12,328.34 92.35,328.14 92.57,328.06 92.48,327.59 92.44,327.08 92.38,326.88 92.29,326.62 92.34,326.33 92.10,326.20 92.19,326.05 92.55,325.62 92.35,325.33 92.20,325.16 92.35,324.68 92.51,324.15 92.49,324.02 92.35,324.08 92.41,323.42 92.48,322.78 92.32,322.84 92.27,322.52 92.35,322.23 92.48,322.06 92.37,321.49 92.20,321.11 92.32,321.01 92.43,320.66 92.73,320.39 92.71,320.24 92.60,319.83 92.72,319.54 92.76,319.23 92.88,318.91 92.80,318.53 92.48,318.38 92.37,318.17 92.67,317.84 92.97,317.84 92.95,317.59 92.96,317.02 92.89,316.54 92.55,316.24 92.48,315.96 92.63,315.56 92.73,314.99 92.81,314.84 92.60,314.77 92.64,314.63 92.69,314.55 92.58,313.88 92.74,313.23 92.79,313.21 92.78,313.17 92.64,312.79 92.56,312.35 92.75,311.80 92.72,311.76 92.47,311.60 92.28,311.11 92.43,310.94 92.57,310.46 92.58,310.22 92.56,310.22 92.52,309.81 92.61,309.34 92.78,309.13 92.73,308.94 92.47,308.66 92.60,308.12 92.85,307.60 92.73,307.34 92.70,306.89 92.82,306.49 92.82,306.43 92.60,306.22 92.56,305.84 92.76,305.73 92.78,305.58 92.73,305.28 92.70,304.91 92.54,304.45 92.56,304.06 92.98,303.85 93.01,303.43 92.86,302.99 92.89,302.99 93.06,302.91 92.94,302.53 92.59,301.97 92.54,301.75 92.65,301.51 92.80,301.12 92.99,300.79 92.90,300.74 92.68,300.75 92.89,300.11 93.15,299.47 92.95,299.27 92.92,299.20 93.00,299.07 92.85,298.68 92.86,298.06 92.83,297.81 92.64,297.70 92.58,297.16 92.70,296.79 92.92,296.66 93.06,296.27 93.14,296.03 93.00,295.99 92.90,295.79 92.82,295.25 92.71,294.74 93.02,294.64 93.13,294.38 93.24,293.94 93.35,293.95 93.07,293.43 92.90,292.78 92.72,292.64 92.97,292.42 93.35,292.44 93.45,292.13 93.58,291.58 93.38,291.31 93.00,291.01 92.75,290.74 92.84,290.75 93.06,290.31 92.93,289.72 93.03,289.50 93.34,288.95 93.14,288.74 92.99,288.70 92.94,288.07 93.11,287.75 93.18,287.72 92.92,287.34 92.79,287.16 92.81,286.89 92.84,286.27 93.11,286.14 93.41,286.02 93.13,285.63 92.95,285.14 93.10,284.65 93.23,284.43 93.11,284.28 93.27,284.09 93.49,283.99 93.58,283.90 93.26,283.44 92.82,282.94 93.16,282.86 93.39,282.58 93.27,282.17 93.11,281.80 93.21,281.36 93.30,281.08 93.41,280.71 93.62,280.49 93.57,280.17 93.21,279.81 93.14,279.67 93.60,279.65 93.79,279.06 93.74,278.50 93.66,278.53 93.41,278.17 93.46,277.90 93.80,277.71 93.68,277.36 93.51,276.94 93.45,276.55 93.41,276.28 93.40,275.88 93.44,275.63 93.47,275.32 93.22,274.88 93.18,274.54 93.42,274.50 93.53,274.30 93.67,273.75 93.77,273.62 93.76,273.38 93.64,273.02 93.62,272.75 93.55,272.46 93.34,272.21 93.54,271.59 93.66,271.45 93.46,271.55 93.56,270.88 93.85,270.56 93.83,270.42 93.82,270.02 93.85,269.92 93.81,269.73 93.60,269.39 93.26,269.22 93.33,268.94 93.32,268.30 93.30,267.69 93.42,267.58 93.51,267.22 93.57,266.77 93.56,266.65 93.55,266.30 93.52,266.22 93.83,266.05 93.74,265.55 93.34,265.32 93.66,265.00 93.98,264.74 93.81,264.76 93.67,264.29 93.72,263.70 93.73,263.57 93.82,263.03 93.84,262.42 93.65,262.24 93.77,261.90 93.75,261.73 93.76,261.68 93.72,261.37 93.60,261.03 93.78,260.85 93.76,260.70 93.87,260.44 93.96,259.98 93.87,259.52 93.65,259.43 93.70,259.18 93.96,258.86 93.66,258.45 93.69,257.97 93.98,257.65 93.87,257.35 93.71,257.19 93.63,256.84 93.78,256.74 93.97,256.30 93.95,255.86 94.20,255.61 94.23,255.24 94.01,254.98 93.83,254.65 93.86,254.46 94.18,254.05 94.04,253.58 94.19,253.29 94.24,253.15 94.02,253.05 94.05,252.96 94.00,252.33 93.81,251.87 93.97,251.74 93.99,251.38 94.04,251.18 94.16,250.99 93.95,250.70 94.35,250.29 94.31,250.14 94.04,249.89 94.02,249.38 94.04,249.19 94.25,248.74 94.48,248.17 94.20,248.21 94.01,248.01 94.34,247.28 94.47,247.11 94.32,247.21 94.23,246.70 94.57,246.07 94.62,245.86 94.65,245.79 94.47,245.41 94.15,244.94 94.32,244.79 94.29,244.69 94.38,244.10 94.38,243.58 94.36,243.45 94.33,243.22 94.20,242.99 94.43,242.85 94.62,242.77 94.49,242.45 94.25,242.02 94.45,241.46 94.53,240.95 94.52,241.00 94.82,240.60 94.87,240.33 94.54,240.30 94.63,239.84 94.96,239.44 94.76,238.96 94.59,238.53 94.85,238.31 94.95,238.09 94.85,238.02 94.96,237.64 94.99,237.08 95.12,236.67 95.24,236.47 95.04,236.41 94.91,236.24 94.88,236.21 95.03,235.83 94.95,235.13 94.94,234.78 95.04,234.65 94.75,234.31 94.96,233.81 95.26,233.57 95.21,233.26 95.16,232.90 95.16,232.75 95.17,232.14 95.36,232.00 95.62,232.40 95.51,231.96 95.42,231.21 95.52,231.13 95.70,230.65 95.81,230.10 95.83,230.08 95.95,229.61 96.16,229.22 96.33,228.86 96.48,228.46 96.68,228.84 96.84,228.70 97.05,228.32 97.25,228.57 97.48,229.15 97.76,229.50 97.94,229.37 98.13,229.87 98.30,229.82 98.47,229.49 98.66,230.37 98.82,231.57 99.08,231.63 99.26,231.54 99.24,231.61 99.31,231.85 99.33,232.48 99.37,232.87 99.57,232.96 99.60,233.54 99.81,233.78 100.18,233.99 100.01,234.25 100.09,234.38 100.41,235.20 100.51,235.79 100.59,235.74 100.74,235.15 100.75,235.65 100.71,236.14 100.94,235.97 101.10,236.28 101.07,236.60 101.25,237.19 101.56,237.72 101.60,237.98 101.67,238.41 101.88,238.45 101.80,238.69 101.78,239.32 101.98,239.85 102.11,239.89 102.17,239.73 102.16,239.79 102.37,240.05 102.75,240.53 102.68,240.94 102.72,240.98 103.01,241.17 103.00,241.66 103.09,241.92 102.98,242.16 103.00,242.60 102.92,242.85 102.74,243.17 102.98,243.45 103.19,243.71 103.03,244.00 102.77,244.45 103.01,245.04 103.29,245.37 103.36,245.42 103.36,245.29 103.18,245.51 103.36,245.98 103.63,246.66 103.56,247.10 103.73,247.34 103.78,247.33 103.77,247.69 103.77,248.30 103.41,248.34 103.33,248.19 103.37,248.45 103.52,249.06 103.91,249.73 103.79,250.08 103.77,250.12 103.97,250.63 104.03,251.18 104.14,251.29 103.97,251.44 104.03,251.88 104.18,251.96 104.25,252.13 104.51,252.47 104.43,252.55 104.44,253.00 104.49,253.62 104.41,254.14 104.48,254.38 104.38,254.57 104.41,254.71 104.48,254.59 104.57,254.81 104.54,255.41 104.41,255.72 104.67,256.26 104.87,256.85 104.88,256.80 104.93,257.19 105.02,257.62 105.05,257.90 105.08,258.07 104.99,258.22 104.98,258.51 105.03,258.69 104.88,259.21 104.99,259.81 105.24,259.94 105.31,259.98 105.47,260.11 105.59,260.32 105.49,260.84 105.48,260.97 105.33,261.11 105.37,261.43 105.57,261.83 105.80,262.46 105.76,262.78 105.61,262.88 105.67,262.95 105.75,263.01 105.69,263.48 105.76,264.31 106.00,264.56 106.04,264.58 106.30,264.85 106.32,264.96 106.23,265.51 106.29,266.13 106.41,265.98 106.67,265.93 106.79,266.72 106.68,267.08 106.43,267.13 106.50,267.40 106.51,267.76 106.44,268.09 106.60,268.23 106.64,268.46 106.76,269.20 106.89,270.06 106.87,270.06 107.01,270.10 107.07,270.46 107.22,270.63 107.42,270.81 107.30,271.04 107.34,271.49 107.37,271.63 107.32,271.64 107.55,272.28 107.50,272.47 107.50,272.93 107.93,273.42 107.72,273.46 107.78,274.04 107.84,274.29 107.48,274.38 107.52,274.58 107.66,274.94 107.87,275.46 107.84,275.51 107.93,275.80 108.27,276.41 108.27,276.68 108.24,276.68 108.44,277.05 108.67,277.71 108.64,277.76 108.59,277.51 108.70,277.77 108.68,278.38 108.64,279.02 108.72,279.52 108.88,279.71 108.75,279.69 108.69,280.00 108.92,280.40 109.04,280.40 109.09,280.39 109.28,281.03 109.41,281.35 109.15,281.69 109.25,282.61 109.36,282.70 109.15,282.51 109.39,282.69 109.50,283.01 109.25,283.48 109.40,284.06 109.68,284.16 109.72,284.23 109.57,284.55 109.64,285.09 109.78,285.66 109.83,285.62 109.81,285.71 109.65,286.17 109.62,286.22 109.68,286.40 110.06,287.02 110.22,287.17 110.09,287.48 110.26,288.02 110.39,288.19 110.37,288.65 110.43,288.88 110.39,289.07 110.41,289.48 110.52,289.89 110.68,290.10 110.75,290.31 110.78,290.85 110.65,291.24 110.41,291.70 110.62,291.54 110.89,291.53 110.96,291.91 110.89,292.39 110.92,293.11 110.97,293.18 111.02,293.28 111.19,293.86 111.22,294.15 111.32,294.18 111.34,294.15 111.37,294.33 111.56,295.11 111.78,295.26 111.81,295.43 111.80,296.03 111.88,296.27 112.03,296.67 112.23,296.82 112.06,297.23 112.00,297.58 112.16,297.80 112.31,298.07 112.15,298.22 111.99,298.56 112.08,299.12 112.36,299.28 112.63,299.13 112.62,299.90 112.71,300.46 112.74,300.47 112.81,300.56 112.81,300.61 112.64,300.90 112.79,301.50 113.05,302.08 113.03,302.48 113.05,302.82 113.31,303.00 113.37,302.88 113.21,303.03 113.42,303.75 113.74,304.13 113.63,304.40 113.46,304.36 113.56,304.28 113.77,304.73 114.00,305.16 114.18,305.46 114.20,305.43 114.12,305.86 114.14,306.00 114.35,306.19 114.43,306.98 114.32,307.16 114.44,307.35 114.60,307.70 114.74,307.93 114.76,308.44 114.97,308.89 115.29,309.22 115.11,309.27 115.02,309.78 115.12,310.29 115.17,310.13 115.23,310.63 115.32,310.97 115.54,311.39 115.67,311.93 115.61,311.79 115.51,311.80 115.55,311.94 115.93,312.16 116.17,312.56 116.16,313.30 116.40,313.69 116.40,313.67 116.40,314.01 116.52,314.24 116.60,314.16 116.58,314.19 116.63,315.06 116.89,315.60 117.03,315.93 117.01,316.69 117.08,316.68 117.38,316.72 117.49,316.86 117.59,316.94 117.76,317.32 117.81,317.62 117.83,318.23 117.92,318.49 117.98,318.63 118.14,318.96 118.36,319.18 118.51,319.87 118.76,319.62 118.86,319.72 118.88,320.23 118.96,320.26 119.11,320.60 119.33,320.70 119.38,320.71 119.31,320.58 119.36,321.70 119.66,322.71 119.93,322.42 120.02,322.01 119.99,322.51 120.03,323.64 120.17,323.85 120.25,323.30 120.45,323.34 120.61,324.10 120.90,324.49 120.98,324.97 120.94,325.02 121.11,324.86 121.29,324.85 121.53,325.57 121.59,326.52 121.55,326.40 121.71,326.05 121.99,326.65 122.07,327.01 122.25,326.73 122.39,326.86 122.41,327.09 122.58,327.60 122.90,327.95 123.13,328.76 123.16,329.50 123.18,329.49 123.22,329.41 123.39,329.63 123.72,329.68 123.99,330.06 124.05,330.42 124.07,330.43 124.10,331.04 124.27,331.19 124.57,330.97 124.79,331.76 124.94,331.92 125.02,331.52 125.19,331.94 125.38,332.35 125.57,332.90 125.76,332.79 125.92,332.94 126.09,334.18 126.18,334.93 126.40,335.03 126.54,334.91 126.68,334.96 126.89,335.07 127.01,334.75 127.22,335.27 127.39,336.35 127.50,336.57 127.67,336.48 127.84,336.89 128.08,337.24 128.33,337.55 128.52,337.55 128.62,336.85 128.82,337.36 129.13,338.46 129.26,338.27 129.38,338.27 129.67,338.99 129.90,338.44 130.10,339.09 130.30,340.26 130.41,339.72 130.63,339.24 130.90,338.94 131.13,340.29 131.31,340.97 131.50,340.70 131.83,340.79 132.05,340.60 132.27,341.31 132.47,341.28 132.65,341.18 132.94,341.68 133.20,342.10 133.42,342.75 133.60,342.67 133.85,343.10 134.06,343.17 134.24,342.57 134.48,343.00 134.84,343.24 135.16,343.74 135.41,343.12 135.65,342.07 135.80,342.21 136.02,343.91 136.32,345.45 136.57,344.57 136.80,344.50 137.05,344.09 137.31,343.87 137.55,345.71 137.83,346.37 138.12,346.78 138.39,346.30 138.70,345.98 138.94,346.45 139.20,346.10 139.49,346.31 139.75,346.69 140.01,347.43 140.30,347.14 140.59,346.69 140.86,346.70 141.13,346.75 141.42,346.43 141.72,346.96 142.02,347.99 142.29,347.68 142.57,347.34 142.87,346.81 143.15,346.32 143.44,346.12 143.72,346.31 144.01,347.69 144.30,348.56 144.60,347.14 144.88,346.32 145.18,348.20 145.47,350.02 145.75,349.80 146.04,350.07 146.32,349.15 146.61,348.23 146.91,348.34 147.20,349.43 147.49,350.24 147.79,349.28 148.07,349.31 148.35,348.62 148.65,348.38 148.95,347.53 149.23,347.31 149.53,348.07 149.82,349.00 150.12,350.71 150.41,350.41 150.71,348.80 151.01,347.88 151.30,349.20 151.59,349.85 151.89,349.19 152.18,348.66 152.47,349.08 152.77,350.06 153.07,350.52 153.37,349.74 153.67,349.19 153.96,348.88 154.26,349.12 154.55,350.22 154.85,349.83 155.15,350.53 155.45,349.91 155.74,350.45 156.04,351.75 156.34,351.07 156.64,351.02 156.93,350.10 157.22,349.51 157.53,350.80 157.83,351.26 158.12,350.82 158.42,350.60 158.72,351.05 159.01,351.85 159.31,350.25 159.61,351.23 159.90,353.07 160.20,352.30 160.50,351.78 160.79,351.13 161.09,351.58 161.39,353.12 161.69,352.42 161.99,350.13 162.29,350.21 162.58,351.16 162.88,351.96 163.18,350.97 163.48,349.91 163.77,350.65 164.07,351.80 164.37,352.95 164.67,352.37 164.97,352.37 165.27,352.33 165.57,351.59 165.86,349.91 166.16,349.14 166.46,349.89 166.76,350.99 167.06,351.98 167.36,350.78 167.66,350.77 167.96,351.56 168.25,351.86 168.55,351.54 168.85,350.67 169.15,352.12 169.45,352.51 169.75,352.38 170.05,351.90 170.35,350.92 170.65,351.39 170.95,350.81 171.25,351.68 171.55,351.40 171.85,351.03 172.15,350.50 172.45,350.89 172.74,352.59 173.04,352.97 173.34,354.55 173.64,353.09 173.94,351.53 174.24,351.06 174.54,350.69 174.84,351.82 175.14,352.24 175.44,352.86 175.74,353.26 176.04,353.44 176.34,352.48 176.64,351.81 176.94,351.54 177.24,351.29 177.54,350.50 177.84,350.57 178.14,352.30 178.43,352.02 178.73,351.65 179.03,350.64 179.33,350.45 179.63,351.38 179.93,352.12 180.23,353.01 180.53,352.47 180.83,351.99 181.13,352.67 181.43,352.06 181.73,352.62 182.03,355.03 182.33,354.52 182.63,352.48 182.93,352.36 183.23,353.76 183.52,354.65 183.82,352.56 184.12,351.79 184.42,352.32 184.72,351.69 185.02,352.54 185.32,353.38 185.62,352.93 185.92,351.78 186.22,351.86 186.52,351.72 186.82,353.37 187.12,352.94 187.42,351.99 187.72,353.41 188.02,352.92 188.32,351.96 188.62,351.55 188.92,352.16 189.22,352.13 189.51,352.22 189.81,352.79 190.11,352.63 190.41,352.92 190.71,353.93 191.01,353.11 191.31,353.13 191.61,353.64 191.91,352.56 192.21,352.92 192.51,354.35 192.81,353.70 193.11,351.20 193.41,352.15 193.71,354.57 194.01,352.97 194.31,352.01 194.61,353.37 194.91,351.78 195.21,352.06 195.51,354.41 195.81,354.45 196.11,355.12 196.41,353.53 196.71,353.07 197.01,355.72 197.31,353.20 197.61,351.16 197.91,353.49 198.21,353.20 198.51,351.02 198.81,351.92 199.11,353.66 199.41,352.77 199.71,352.84 200.01,354.27 200.31,354.94 200.61,354.52 200.91,352.59 201.21,351.97 201.51,351.33 201.81,350.68 202.11,352.55 202.41,353.96 202.71,353.80 203.01,353.32 203.31,351.65 203.61,350.55 203.91,351.26 204.21,351.87 204.51,352.36 204.81,354.66 205.11,356.07 205.41,353.40 205.71,351.94 206.01,352.37 206.31,352.45 206.61,352.48 206.91,351.28 207.21,352.77 207.51,355.09 207.81,354.63 208.11,354.14 208.41,353.99 208.71,353.59 209.01,351.47 209.31,351.90 209.61,353.65 209.91,352.39 210.21,350.65 210.51,352.82 210.81,353.65 211.11,352.47 211.41,352.76 211.71,354.44 212.01,353.74 212.31,353.19 212.61,352.79 212.91,352.68 213.21,353.97 213.51,351.44 213.81,351.93 214.11,353.59 214.41,352.12 214.71,352.50 215.01,353.91 215.31,354.03 215.61,352.82 215.91,351.73 216.21,352.12 216.51,352.90 216.81,353.29 217.11,352.30 217.41,353.99 217.71,354.42 218.01,354.17 218.31,355.39 218.61,353.78 218.91,351.41 219.21,352.23 219.51,354.47 219.81,355.34 220.11,355.09 220.40,354.44 220.70,353.53 221.00,352.51 221.30,354.89 221.60,356.55 221.90,353.56 222.20,352.82 222.50,354.41 222.80,352.56 223.10,351.90 223.40,354.00 223.70,355.73 224.00,356.68 224.30,354.89 224.60,353.17 224.90,353.08 225.20,353.57 225.50,354.75 225.80,353.62 226.10,352.71 226.40,353.11 226.70,352.59 227.00,352.66 227.30,354.98 227.60,356.99 227.90,356.67 228.20,353.65 228.50,352.62 228.80,355.91 229.10,356.01 229.40,353.57 229.70,353.74 230.00,354.14 230.30,353.26 230.60,353.72 230.90,354.51 231.20,354.13 231.50,353.69 231.80,352.93 232.10,352.91 232.40,354.46 232.70,354.59 233.00,353.80 233.30,352.43 233.60,353.60 233.90,353.85 234.20,353.46 234.50,354.17 234.80,354.29 235.10,355.55 235.40,354.55 235.70,351.89 236.00,350.44 236.30,351.31 236.60,352.22 236.90,353.35 237.20,355.95 237.50,356.28 237.80,354.40 238.10,355.01 238.40,354.97 238.70,354.53 239.00,355.04 239.30,352.55 239.60,353.08 239.90,356.39 240.20,355.22 240.50,354.33 240.80,355.11 241.10,354.18 241.40,353.39 241.70,354.52 242.00,354.29 242.30,352.92 242.60,354.25 242.90,355.56 243.20,356.21 243.50,354.86 243.80,352.28 244.10,353.77 244.40,353.60 244.70,352.26 245.00,353.44 245.30,355.34 245.60,355.56 245.90,352.96 246.20,352.91 246.50,355.17 246.80,353.59 247.10,351.23 247.40,353.76 247.70,355.04 248.00,353.23 248.30,352.93 248.60,353.91 248.90,353.07 249.20,352.49 249.50,354.81 249.80,355.61 250.10,355.31 250.40,355.00 250.70,353.50 251.00,353.81 251.30,353.50 251.60,353.55 251.90,354.09 252.20,353.51 252.50,353.54 252.80,352.96 253.10,354.42 253.40,353.92 253.70,352.90 254.00,353.12 254.30,353.73 254.60,354.66 254.90,354.02 255.20,354.63 255.50,354.79 255.80,354.54 256.10,354.55 256.40,354.69 256.70,353.96 257.00,353.38 257.30,353.58 257.60,353.21 257.90,352.94 258.20,354.75 258.50,353.95 258.80,354.28 259.10,355.09 259.40,354.14 259.70,354.61 260.00,353.90 260.30,354.39 260.60,356.06 260.90,355.47 261.20,353.93 261.50,353.55 261.80,355.37 262.10,356.89 262.40,356.10 262.70,355.09 263.00,352.41 263.30,352.81 263.60,352.91 263.90,351.93 264.20,354.36 264.50,354.40 264.80,352.94 265.10,351.71 265.40,352.95 265.70,355.06 266.00,354.00 266.30,353.95 266.60,352.96 266.90,351.81 267.20,353.41 267.50,355.01 267.80,354.81 268.10,352.94 268.40,352.54 268.70,354.61 269.00,354.52 269.30,353.75 269.60,354.66 269.90,353.95 270.20,353.59 270.50,352.49 270.80,351.96 271.10,353.57 271.40,354.65 271.70,355.77 272.00,354.78 272.30,354.05 272.60,354.36 272.90,353.25 273.20,352.67 273.50,353.31 273.80,354.01 274.10,353.39 274.40,355.18 274.70,355.82 275.00,354.61 275.30,354.40 275.60,355.61 275.90,354.10 276.20,351.99 276.50,353.90 276.80,355.26 277.10,355.05 277.40,353.12 277.70,354.56 278.00,356.02 278.30,354.40 278.60,353.59 278.90,353.60 279.20,353.96 279.50,352.67 279.80,352.65 280.10,353.62 280.40,353.93 280.70,354.76 281.00,353.40 281.30,354.30 281.60,355.89 281.90,353.91 282.20,352.31 282.50,352.50 282.80,353.74 283.10,355.45 283.40,354.35 283.70,352.56 284.00,353.81 284.30,354.44 284.60,353.94 284.90,353.88 285.20,353.64 285.50,355.29 285.80,356.43 286.10,354.60 286.40,354.84 286.70,356.80 287.00,356.11 287.30,354.72 287.60,353.87 287.90,353.71 288.20,354.33 288.50,355.37 288.80,354.35 289.10,351.77 289.40,352.15 289.70,353.91 290.00,352.62 290.30,352.12 290.60,353.14 290.90,352.33 291.20,353.16 291.50,355.17 291.80,353.85 292.10,353.03 292.40,354.07 292.70,354.44 293.00,354.60 293.30,353.47 293.60,354.25 293.90,355.18 294.20,353.49 294.50,351.39 294.80,351.66 295.10,353.57 295.40,354.87 295.70,354.19 296.00,353.17 296.30,352.08 296.60,352.01 296.90,353.70 297.20,353.59 297.50,353.40 297.80,353.05 298.10,352.35 298.40,353.45 298.70,352.88 299.00,352.65 299.30,355.05 299.60,354.54 299.90,353.06 300.20,352.83 300.50,352.12 300.80,352.34 301.10,352.36 301.40,352.67 301.70,353.30 302.00,352.50 302.30,353.01 302.60,354.87 302.90,355.54 303.20,354.41 303.50,353.69 303.80,353.02 304.10,352.82 304.40,354.31 304.70,355.19 305.00,355.79 305.30,353.80 305.60,353.99 305.90,355.64 306.20,355.63 306.50,355.30 306.80,355.02 307.10,354.99 307.40,352.99 307.70,353.28 308.00,353.77 308.30,353.46 308.60,354.35 308.90,355.07 309.20,355.18 309.50,355.35 309.80,353.42 310.10,353.59 310.40,354.22 310.70,353.28 311.00,353.65 311.30,352.56 311.60,353.69 311.90,353.81 312.20,352.55 312.50,354.72 312.80,353.52 313.10,350.77 313.40,353.29 313.70,354.40 314.00,354.25 314.30,354.61 314.60,353.50 314.90,354.12 315.20,353.93 315.50,352.83 315.80,353.65 316.10,353.17 316.40,351.71 316.70,351.22 317.00,353.30 317.30,356.44 317.60,356.66 317.90,354.41 318.20,352.92 318.50,352.61 318.80,353.06 319.10,354.84 319.40,354.78 319.70,353.85 320.00,352.23 320.30,352.52 320.60,353.15 320.90,352.66 321.20,354.04 321.50,354.36 321.80,354.70 322.10,355.94 322.40,353.60 322.70,350.89 323.00,354.04 323.30,355.83 323.60,353.75 323.90,353.10 324.20,353.74 324.50,354.90 324.80,354.61 325.10,353.68 325.40,352.79 325.70,354.09 326.00,355.67 326.30,353.96 326.60,352.38 326.90,352.78 327.20,354.74 327.50,356.58 327.80,357.50 328.10,355.35 328.40,353.29 328.70,352.77 329.00,353.55 329.30,353.74 329.60,353.84 329.90,354.80 330.20,354.66 330.50,353.52 330.80,354.17 331.10,354.86 331.40,352.77 331.70,352.91 332.00,354.14 332.30,354.23 332.60,354.91 332.90,355.92 333.20,356.89 333.50,355.75 333.80,355.02 334.10,353.37 334.40,353.96 334.70,355.68 335.00,355.14 335.30,354.95 335.60,354.31 335.90,355.07 336.20,354.06 336.50,353.00 336.80,351.80 337.10,352.80 337.40,354.40 337.70,353.71 338.00,354.93 338.30,355.44 338.60,354.56 338.90,352.58 339.20,352.51 339.50,353.93 339.80,354.66 340.10,354.48 340.40,352.52 340.70,352.76 341.00,355.48 341.30,354.91 341.60,354.42 341.90,355.04 342.20,352.16 342.50,352.86 342.80,356.39 343.10,356.25 343.40,353.51 343.70,352.91 344.00,353.07 344.30,355.06 344.60,356.34 344.90,352.80 345.20,353.04 345.50,355.19 345.80,353.54 346.10,352.60 346.40,353.45 346.70,355.52 347.00,355.12 347.30,352.91"/>
<path d="M55.60,354.59 55.90,355.28 56.20,355.00 56.50,354.51 56.80,353.99 57.10,353.88 57.40,352.36 57.70,352.67 58.00,353.31 58.30,355.29 58.60,354.30 58.90,351.96 59.20,353.74 59.50,354.17 59.80,353.67 60.10,354.49 60.40,354.24 60.70,352.94 61.00,351.87 61.30,352.44 61.60,354.10 61.90,354.34 62.20,354.89 62.50,354.34 62.80,353.56 63.10,353.19 63.40,351.26 63.70,352.50 64.00,353.77 64.30,353.83 64.60,353.70 64.90,351.78 65.20,351.52 65.50,352.61 65.80,352.80 66.10,352.82 66.40,353.90 66.70,354.13 67.00,354.06 67.30,353.94 67.60,352.93 67.90,352.20 68.20,351.05 68.50,352.43 68.80,355.14 69.10,353.75 69.40,351.95 69.70,352.07 70.00,353.20 70.30,354.03 70.60,353.53 70.90,353.40 71.20,352.14 71.50,352.08 71.80,353.37 72.10,353.90 72.40,353.44 72.70,352.56 73.00,353.37 73.30,355.62 73.60,354.91 73.90,354.90 74.20,354.62 74.50,352.89 74.80,352.88 75.10,354.03 75.40,354.97 75.70,353.95 76.00,354.73 76.30,355.70 76.60,354.23 76.90,353.30 77.20,353.45 77.50,354.25 77.80,352.93 78.10,353.70 78.40,355.25 78.70,351.72 79.00,352.16 79.30,353.18 79.60,352.96 79.90,353.81 80.20,354.72 80.50,353.01 80.80,352.42 81.10,355.03 81.40,353.55 81.70,353.19 82.00,355.04 82.30,353.91 82.60,351.53 82.90,352.13 83.20,353.39 83.50,354.63 83.80,354.84 84.10,354.09 84.40,354.60 84.70,354.15 85.00,352.76 85.30,351.96 85.60,353.13 85.90,353.70 86.20,353.51 86.50,354.26 86.80,354.40 87.10,354.35 87.40,354.39 87.70,354.09 88.00,353.55 88.30,351.91 88.60,353.11 88.90,355.18 89.20,355.01 89.50,353.54 89.80,353.94 90.10,354.73 90.40,353.91 90.70,353.24 91.00,352.66 91.30,352.70 91.60,353.45 91.81,353.49 92.07,353.18 92.02,352.93 92.08,352.27 91.91,352.15 91.76,352.25 91.89,351.95 92.10,351.08 92.06,351.04 91.93,351.27 92.16,350.45 92.28,350.64 92.17,350.59 91.93,349.99 91.50,349.71 91.90,348.76 92.12,348.71 91.83,348.62 92.05,348.29 92.47,348.22 92.37,347.49 92.09,346.79 92.23,346.58 92.40,346.50 92.35,346.31 91.96,345.99 92.10,345.84 92.29,345.65 92.50,345.12 92.53,345.31 92.27,345.23 92.38,344.44 92.40,344.06 92.72,343.59 92.66,343.10 92.54,343.06 92.59,342.76 92.41,342.33 92.53,342.26 92.64,342.03 92.52,341.49 92.36,341.20 92.46,340.93 92.86,340.84 92.80,340.69 92.64,340.04 92.60,339.90 92.78,339.98 92.69,339.44 92.38,338.84 92.34,338.59 92.52,338.35 92.78,338.12 92.76,337.89 92.75,337.70 92.91,337.18 93.09,336.62 93.05,336.58 92.65,336.30 92.41,335.90 92.68,335.51 92.91,335.53 92.66,335.37 92.76,334.90 93.06,334.52 93.08,334.06 92.90,333.86 92.62,333.85 92.65,333.74 92.68,333.50 92.72,333.22 92.59,332.84 92.86,332.31 93.15,331.71 92.90,331.62 92.60,331.32 92.85,330.91 92.86,330.63 92.59,330.11 92.69,329.90 92.75,329.63 92.97,329.28 93.18,329.21 93.17,328.93 92.93,328.65 93.06,328.31 93.36,327.93 93.31,327.55 93.41,327.38 93.19,326.95 92.86,326.51 92.91,326.55 92.93,325.95 93.12,325.35 93.23,325.12 93.11,325.03 93.24,324.90 93.29,324.56 93.08,324.38 93.02,324.40 92.94,323.88 92.99,323.36 93.06,323.20 93.08,322.99 93.24,322.42 93.32,321.76 93.23,321.59 93.41,321.36 93.34,321.23 93.20,321.01 93.35,320.41 93.31,320.08 93.23,319.83 93.10,319.53 93.27,319.42 93.16,319.12 93.11,319.00 93.15,319.08 92.91,318.69 93.11,317.91 93.28,317.73 93.52,317.91 93.38,317.40 93.16,316.87 93.40,316.74 93.41,316.42 93.35,316.14 93.13,315.89 93.29,315.34 93.60,314.90 93.56,314.65 93.51,314.32 93.62,314.23 93.71,314.07 93.66,313.57 93.47,313.33 93.52,313.07 93.49,312.80 93.42,312.70 93.42,312.29 93.36,311.70 93.59,311.22 93.58,311.23 93.61,311.14 93.59,310.52 93.69,310.16 93.74,309.79 93.79,309.68 93.91,309.57 93.66,309.04 93.44,308.51 93.40,308.53 93.80,308.45 93.70,307.60 93.27,307.21 93.47,307.17 93.83,306.97 93.76,306.53 93.50,306.36 93.53,306.29 93.62,305.84 93.80,305.37 94.07,304.83 93.92,304.56 93.59,304.47 93.47,304.07 93.37,303.84 93.52,303.80 93.55,303.40 93.65,302.94 93.83,302.70 93.66,302.68 93.88,302.57 93.76,301.83 93.70,301.27 93.94,301.47 93.87,301.19 93.86,300.85 93.70,300.66 93.78,300.30 94.08,299.88 93.77,299.43 93.64,299.25 93.88,298.93 93.84,298.55 93.92,298.45 93.94,298.13 93.84,297.82 94.03,297.46 93.96,296.94 93.77,296.82 93.85,296.63 93.81,296.36 93.80,296.00 94.09,295.57 94.06,295.20 94.14,294.69 94.06,294.40 93.57,294.45 93.69,294.20 93.78,293.79 94.04,293.66 94.26,293.21 93.98,292.79 93.91,292.54 94.01,292.35 94.29,291.93 94.36,291.43 94.15,291.26 94.21,290.96 94.21,290.65 94.16,290.65 94.03,290.39 94.05,289.82 94.19,289.36 94.02,288.90 94.02,288.70 94.04,288.41 93.83,288.28 93.98,288.06 94.27,287.64 94.40,287.39 94.28,287.03 93.99,286.58 93.96,286.32 94.12,286.21 94.22,285.99 94.32,285.55 94.32,285.47 94.41,285.34 94.36,284.92 94.30,284.77 94.47,284.26 94.47,283.88 94.47,283.74 94.29,283.35 94.35,282.81 94.43,282.37 94.31,282.27 94.26,282.07 94.34,281.98 94.42,281.64 94.30,281.16 94.45,280.87 94.45,280.37 94.42,280.06 94.55,279.95 94.59,279.93 94.58,279.79 94.38,279.18 94.40,278.59 94.61,278.36 94.83,278.11 95.03,278.09 94.92,277.98 94.82,277.40 94.49,276.91 94.31,276.47 94.43,276.23 94.59,275.80 94.80,275.46 94.81,275.38 94.83,275.34 94.82,274.86 94.75,274.48 94.64,274.37 94.76,274.06 94.84,273.70 94.90,273.35 94.86,273.27 94.71,273.19 94.68,272.67 94.81,272.07 94.82,271.87 94.51,271.50 94.52,271.20 94.69,270.99 94.81,270.65 94.86,270.11 95.03,269.90 95.13,269.63 95.11,269.28 95.26,269.32 95.28,268.86 95.24,268.40 95.07,268.31 95.03,268.02 95.09,267.62 95.15,267.33 95.11,267.19 95.11,266.75 95.14,266.33 95.17,266.28 95.40,265.92 95.47,265.34 95.30,265.24 95.33,265.21 95.19,264.94 95.08,264.54 95.14,264.01 95.14,263.93 95.19,263.91 95.21,263.51 95.29,262.96 95.47,262.56 95.81,262.20 95.79,261.73 95.71,261.58 95.69,261.48 95.59,261.26 95.54,260.93 95.44,260.86 95.41,260.40 95.67,259.99 95.75,259.78 95.74,259.41 95.73,259.03 95.94,258.91 96.23,259.01 96.06,258.09 96.17,257.77 96.29,257.80 96.27,257.44 96.28,257.12 96.21,256.64 96.43,256.08 96.61,255.70 96.69,255.68 96.87,255.02 97.00,254.39 97.12,254.67 97.27,255.21 97.34,255.13 97.43,255.58 97.76,255.82 97.86,255.96 98.05,256.69 98.15,256.77 97.96,257.10 98.13,257.56 98.28,257.47 98.35,258.08 98.36,258.82 98.42,258.76 98.55,258.95 98.57,259.46 98.71,259.57 98.65,260.04 98.57,260.31 98.82,260.17 99.02,260.49 99.02,260.88 98.79,261.10 98.77,261.38 98.89,261.53 98.87,261.97 98.78,262.27 98.62,262.65 98.94,263.27 99.29,263.34 99.06,263.47 98.96,263.73 99.17,264.09 99.18,264.77 99.27,265.12 99.33,265.07 99.16,265.60 99.20,265.90 99.44,265.85 99.43,266.54 99.50,267.00 99.76,267.17 99.78,267.46 99.77,267.65 99.73,267.96 99.77,268.29 99.73,268.80 99.49,268.79 99.53,268.42 99.95,268.86 100.18,269.26 99.94,269.63 99.84,269.97 99.92,270.25 99.85,270.92 99.93,271.13 100.19,271.13 100.27,271.63 100.19,271.93 99.99,272.09 100.28,272.48 100.41,272.59 100.23,273.06 100.49,273.39 100.54,273.68 100.58,274.21 100.38,274.19 100.22,274.38 100.41,274.98 100.39,275.29 100.33,275.77 100.61,275.95 100.68,276.12 100.74,276.31 101.02,276.38 100.90,277.10 100.68,277.13 100.69,277.32 100.80,277.74 100.83,277.78 100.86,278.14 100.97,278.56 101.06,278.90 101.09,279.19 101.15,279.43 101.33,279.49 101.60,280.13 101.50,281.08 101.30,281.24 101.31,281.17 101.47,281.24 101.60,281.63 101.54,282.13 101.48,282.24 101.56,282.46 101.73,283.02 101.66,283.39 101.62,283.56 101.50,283.83 101.42,284.03 101.71,284.29 101.64,284.72 101.45,284.91 101.69,285.18 101.68,285.73 101.64,286.21 102.13,286.04 102.24,285.96 102.24,286.73 102.41,287.32 102.16,287.53 101.99,287.55 102.15,287.79 102.34,288.40 102.49,288.75 102.49,288.84 102.40,288.97 102.24,289.44 102.37,289.86 102.46,290.32 102.50,290.24 102.75,290.20 102.54,291.07 102.67,291.27 102.85,291.36 102.81,292.12 102.98,292.21 103.12,292.31 103.21,293.14 103.24,293.14 103.27,292.70 103.10,293.43 103.06,294.00 103.27,294.09 103.45,294.48 103.47,295.02 103.38,295.25 103.31,295.49 103.46,295.99 103.85,296.09 103.90,296.44 103.74,296.79 103.88,296.85 104.07,297.48 104.10,297.40 103.92,297.06 103.92,297.55 104.12,297.98 104.32,298.51 104.40,298.84 104.39,299.49 104.42,299.72 104.47,299.40 104.84,299.80 105.05,300.21 104.97,300.40 104.89,300.96 104.81,301.41 105.06,301.74 105.25,301.76 105.28,301.95 105.39,302.45 105.42,302.50 105.28,302.47 105.43,302.87 105.86,303.24 105.86,303.69 105.75,304.31 105.85,304.55 105.92,305.15 105.80,305.60 105.87,305.08 106.12,305.24 106.33,305.98 106.32,306.19 106.27,306.34 106.45,306.77 106.60,306.74 106.86,306.57 106.96,307.41 106.92,308.01 106.84,308.36 107.01,308.53 107.04,308.52 107.10,309.05 107.43,309.48 107.40,309.25 107.31,309.70 107.44,310.12 107.58,310.40 107.74,310.95 107.69,311.17 107.66,311.64 107.75,311.59 107.84,311.79 108.09,312.28 108.25,312.37 108.27,312.67 108.20,312.90 108.22,313.19 108.36,313.64 108.65,313.77 108.77,314.24 108.77,314.69 108.87,314.48 109.10,314.84 109.24,315.49 109.13,315.34 109.17,315.57 109.36,316.09 109.34,316.36 109.57,316.68 109.87,316.99 109.85,317.35 109.99,317.04 110.20,317.28 110.25,318.19 110.39,318.63 110.54,319.07 110.60,319.25 110.82,319.54 110.89,319.94 111.09,319.75 111.35,319.62 111.33,320.34 111.47,320.97 111.57,320.46 111.64,320.29 111.98,321.30 112.18,321.87 112.14,321.43 112.21,321.78 112.42,322.71 112.62,323.03 112.63,323.06 112.77,323.14 112.90,323.31 112.91,323.52 113.08,323.98 113.13,324.84 113.05,325.52 113.20,325.30 113.51,324.79 113.60,325.09 113.70,325.65 113.93,325.89 113.94,325.86 113.94,326.18 114.06,326.69 114.22,327.00 114.38,327.08 114.45,327.35 114.63,327.71 114.76,327.78 114.78,328.18 114.81,328.53 114.91,328.82 115.18,329.09 115.35,329.34 115.38,329.58 115.45,329.85 115.50,330.21 115.58,331.10 115.85,331.69 116.04,331.33 116.11,331.02 116.33,331.73 116.43,332.35 116.45,332.42 116.71,333.00 116.93,332.68 116.87,332.48 116.97,333.30 117.17,334.10 117.28,334.30 117.47,334.21 117.55,334.49 117.67,334.72 118.04,335.03 118.23,335.15 118.24,335.16 118.47,335.47 118.58,336.10 118.67,336.80 118.99,336.91 119.17,336.75 119.28,337.32 119.44,337.81 119.61,337.91 119.83,337.95 119.98,337.83 120.13,338.25 120.33,338.56 120.41,339.01 120.63,339.00 120.99,338.95 121.17,339.47 121.29,339.24 121.44,339.33 121.65,339.53 121.95,339.74 122.20,340.23 122.31,341.29 122.52,341.23 122.74,340.94 122.87,341.37 123.11,341.47 123.39,341.72 123.61,341.47 123.85,342.37 124.10,343.36 124.35,342.27 124.53,341.94 124.71,342.71 125.02,342.28 125.31,342.68 125.45,343.79 125.64,343.93 125.88,344.09 126.15,345.07 126.44,344.84 126.68,344.78 126.97,346.13 127.23,344.74 127.44,343.81 127.67,345.64 127.98,346.09 128.19,345.27 128.40,345.99 128.65,346.93 128.91,345.52 129.15,345.64 129.40,346.56 129.64,346.38 129.89,346.00 130.24,346.34 130.46,347.24 130.66,346.56 130.98,346.43 131.23,347.92 131.43,349.16 131.68,347.62 132.01,347.16 132.34,348.01 132.61,347.53 132.86,348.00 133.15,349.38 133.42,349.71 133.70,348.29 134.00,348.10 134.25,349.11 134.52,349.92 134.81,349.70 135.07,349.17 135.34,349.47 135.63,349.92 135.90,348.58 136.16,349.17 136.46,350.76 136.77,349.90 137.04,349.00 137.32,349.25 137.60,351.48 137.87,350.95 138.17,348.47 138.46,349.27 138.76,350.52 139.05,350.24 139.34,349.18 139.64,349.58 139.94,351.21 140.24,349.47 140.54,349.17 140.83,351.30 141.13,350.58 141.42,348.54 141.71,349.32 142.01,352.39 142.31,352.65 142.62,352.71 142.91,352.74 143.21,351.12 143.51,350.32 143.80,351.61 144.10,351.23 144.40,349.72 144.69,350.46 144.99,351.20 145.29,351.60 145.59,350.26 145.89,349.35 146.18,351.87 146.48,352.89 146.77,351.60 147.07,351.30 147.37,351.55 147.67,351.28 147.96,351.97 148.26,353.27 148.56,352.42 148.85,352.51 149.15,352.42 149.45,351.40 149.75,352.35 150.05,352.64 150.34,351.24 150.65,352.62 150.94,353.16 151.24,352.28 151.54,353.68 151.84,352.32 152.14,350.89 152.43,352.72 152.74,352.77 153.04,351.65 153.34,351.80 153.63,351.95 153.93,351.84 154.23,352.44 154.53,352.80 154.83,353.90 155.13,354.12 155.43,354.11 155.73,353.98 156.03,354.06 156.33,353.87 156.63,353.47 156.92,353.74 157.22,354.08 157.52,353.33 157.82,351.63 158.12,352.62 158.42,352.23 158.72,353.13 159.02,353.80 159.32,353.04 159.62,354.06 159.92,354.14 160.22,352.69 160.51,351.09 160.81,350.32 161.11,350.69 161.41,351.47 161.71,351.57 162.01,352.59 162.31,352.13 162.61,350.40 162.91,351.70 163.21,354.57 163.51,353.66 163.80,352.07 164.10,352.81 164.40,353.84 164.70,354.62 165.00,353.35 165.30,353.40 165.60,353.85 165.90,353.77 166.20,355.25 166.50,352.84 166.80,350.12 167.10,350.73 167.40,350.89 167.70,352.13 167.99,353.29 168.29,354.69 168.59,355.80 168.89,354.58 169.19,353.28 169.49,353.61 169.79,354.09 170.09,353.14 170.39,353.37 170.69,353.35 170.99,352.69 171.29,353.00 171.59,352.59 171.89,352.17 172.19,352.74 172.49,353.20 172.79,352.10 173.09,353.63 173.39,356.14 173.69,356.14 173.99,355.70 174.29,354.22 174.59,352.42 174.89,351.64 175.19,350.97 175.49,351.57 175.79,351.59 176.09,351.97 176.39,353.68 176.69,353.13 176.99,352.45 177.29,352.86 177.58,353.82 177.88,353.59 178.18,354.56 178.48,354.10 178.78,352.12 179.08,352.48 179.38,352.84 179.68,353.45 179.98,354.09 180.28,353.63 180.58,354.53 180.88,353.23 181.18,352.10 181.48,353.74 181.78,352.35 182.08,351.09 182.38,352.35 182.68,354.57 182.98,354.82 183.28,353.77 183.58,353.16 183.88,352.81 184.18,352.74 184.48,353.72 184.78,354.99 185.08,354.91 185.38,353.41 185.68,353.44 185.98,354.92 186.28,352.86 186.58,352.26 186.88,353.37 187.18,353.20 187.48,352.57 187.78,351.57 188.08,352.57 188.38,353.01 188.68,352.69 188.98,352.41 189.28,353.21 189.58,354.89 189.88,353.70 190.18,353.01 190.48,353.45 190.78,353.46 191.08,354.80 191.38,354.80 191.68,353.75 191.98,352.63 192.28,353.70 192.58,356.02 192.88,353.41 193.18,352.51 193.48,354.01 193.78,352.42 194.08,354.06 194.38,355.61 194.68,355.92 194.98,354.80 195.28,352.61 195.58,352.00 195.88,352.47 196.18,352.31 196.48,351.98 196.78,354.41 197.08,355.15 197.38,354.99 197.68,354.65 197.98,354.49 198.28,354.28 198.58,352.54 198.88,353.05 199.18,354.09 199.48,353.00 199.78,352.11 200.08,353.83 200.38,353.37 200.68,351.62 200.98,353.34 201.28,354.58 201.58,354.48 201.88,352.67 202.18,353.40 202.48,354.60 202.78,352.41 203.08,353.44 203.38,354.62 203.68,352.12 203.98,350.47 204.28,351.91 204.58,353.11 204.88,353.48 205.18,354.15 205.48,353.25 205.78,353.50 206.07,354.36 206.37,353.09 206.67,353.57 206.97,354.66 207.27,353.83 207.57,353.96 207.87,353.43 208.17,352.45 208.47,353.05 208.77,352.93 209.07,354.33 209.37,355.36 209.67,354.68 209.97,356.01 210.27,356.64 210.57,356.90 210.87,354.93 211.17,354.56 211.47,354.95 211.77,353.36 212.07,353.90 212.37,354.16 212.67,353.97 212.97,354.17 213.27,355.50 213.57,353.48 213.87,350.92 214.17,351.57 214.47,353.08 214.77,354.30 215.07,354.38 215.37,355.92 215.67,355.62 215.97,352.77 216.27,353.12 216.57,355.91 216.87,357.24 217.17,355.63 217.47,354.06 217.77,354.41 218.07,354.79 218.37,354.39 218.67,353.47 218.97,354.93 219.27,356.66 219.57,355.34 219.87,353.53 220.17,352.98 220.47,352.50 220.77,351.97 221.07,352.73 221.37,353.17 221.67,353.64 221.97,353.82 222.27,352.80 222.57,352.91 222.87,351.93 223.17,352.58 223.47,354.14 223.77,355.01 224.07,354.83 224.36,353.52 224.66,353.13 224.96,355.03 225.26,356.05 225.56,355.33 225.86,354.81 226.16,354.27 226.46,353.74 226.76,352.71 227.06,353.26 227.36,353.03 227.66,353.91 227.96,355.40 228.26,355.79 228.56,354.29 228.86,352.77 229.16,353.52 229.46,354.58 229.76,353.53 230.06,352.74 230.36,354.70 230.66,355.02 230.96,354.04 231.26,352.99 231.56,352.80 231.86,354.36 232.16,355.52 232.46,353.48 232.76,352.95 233.06,354.07 233.36,352.93 233.66,354.82 233.96,356.19 234.26,353.68 234.56,352.23 234.86,353.31 235.16,352.92 235.46,352.58 235.76,354.28 236.06,353.32 236.36,353.04 236.66,354.54 236.96,353.83 237.26,353.78 237.56,354.90 237.86,354.95 238.16,353.80 238.46,354.17 238.76,354.46 239.06,353.91 239.36,354.24 239.66,354.06 239.96,352.28 240.26,353.18 240.56,355.31 240.86,354.53 241.16,354.64 241.46,354.17 241.76,353.52 242.06,354.31 242.36,352.72 242.66,351.65 242.96,352.86 243.26,353.23 243.55,353.28 243.85,352.88 244.15,353.54 244.45,354.88 244.75,355.06 245.05,355.26 245.35,355.31 245.65,355.70 245.95,356.62 246.25,354.97 246.55,352.91 246.85,352.80 247.15,353.19 247.45,354.33 247.75,355.07 248.05,354.63 248.35,353.61 248.65,353.07 248.95,353.48 249.25,354.02 249.55,352.47 249.85,352.50 250.15,354.64 250.45,353.81 250.75,354.60 251.05,355.88 251.35,355.26 251.65,353.24 251.95,353.32 252.25,354.82 252.55,354.31 252.85,352.45 253.15,350.95 253.45,352.41 253.75,352.59 254.05,353.98 254.35,354.16 254.65,353.68 254.95,354.95 255.25,356.13 255.55,355.87 255.85,355.33 256.15,354.91 256.45,352.65 256.75,353.34 257.05,355.42 257.35,354.65 257.65,354.45 257.95,355.42 258.25,354.54 258.55,354.22 258.85,354.32 259.15,353.62 259.45,353.63 259.75,354.52 260.05,353.76 260.35,351.67 260.65,352.85 260.95,354.00 261.25,353.93 261.55,353.78 261.84,353.63 262.14,354.17 262.44,353.56 262.74,353.71 263.04,354.29 263.34,352.83 263.64,353.59 263.94,355.98 264.24,355.18 264.54,352.90 264.84,353.35 265.14,354.76 265.44,355.45 265.74,355.05 266.04,353.47 266.34,354.72 266.64,353.15 266.94,351.96 267.24,353.54 267.54,352.15 267.84,351.48 268.14,353.42 268.44,354.53 268.74,355.75 269.04,356.28 269.34,353.70 269.64,353.56 269.94,355.05 270.24,354.46 270.54,353.15 270.84,354.67 271.14,357.17 271.44,355.82 271.74,353.60 272.04,352.35 272.34,352.09 272.64,353.84 272.94,353.34 273.24,353.56 273.54,354.88 273.84,354.20 274.14,355.01 274.44,356.50 274.74,356.48 275.04,354.54 275.34,354.23 275.64,354.50 275.94,354.21 276.24,354.18 276.54,353.28 276.84,353.47 277.14,353.16 277.44,353.86 277.74,354.71 278.04,352.72 278.34,353.62 278.64,355.22 278.94,354.74 279.24,352.85 279.54,351.63 279.84,353.40 280.14,356.32 280.43,356.07 280.73,354.54 281.03,354.83 281.33,353.82 281.63,354.28 281.93,354.49 282.23,353.56 282.53,353.40 282.83,352.32 283.13,352.36 283.43,352.60 283.73,352.92 284.03,355.06 284.33,355.66 284.63,353.84 284.93,353.94 285.23,353.94 285.53,354.56 285.83,355.74 286.13,354.46 286.43,353.73 286.73,354.10 287.03,353.27 287.33,352.21 287.63,352.97 287.93,353.19 288.23,353.28 288.53,354.80 288.83,354.63 289.13,354.40 289.43,356.11 289.73,355.24 290.03,354.96 290.33,354.62 290.63,352.39 290.93,353.26 291.23,354.11 291.53,352.69 291.83,353.94 292.13,355.95 292.43,354.00 292.73,353.09 293.03,353.86 293.33,352.96 293.63,353.31 293.93,353.21 294.23,351.43 294.53,353.85 294.83,354.80 295.13,352.90 295.43,353.25 295.73,353.28 296.03,355.24 296.33,356.27 296.63,355.22 296.93,355.59 297.23,356.64 297.53,354.10 297.83,353.00 298.13,354.93 298.43,354.32 298.73,355.18 299.03,355.65 299.32,353.15 299.62,352.82 299.92,354.17 300.22,354.92 300.52,353.30 300.82,352.89 301.12,354.78 301.42,354.80 301.72,355.01 302.02,352.67 302.32,352.93 302.62,354.67 302.92,353.39 303.22,354.23 303.52,354.88 303.82,355.50 304.12,356.47 304.42,354.07 304.72,353.82 305.02,354.78 305.32,354.07 305.62,353.95 305.92,354.85 306.22,354.29 306.52,353.78 306.82,353.14 307.12,353.05 307.42,353.29 307.72,351.90 308.02,352.96 308.32,353.08 308.62,354.08 308.92,354.10 309.22,354.54 309.52,356.20 309.82,354.90 310.12,354.73 310.42,354.83 310.72,356.05 311.02,356.30 311.32,354.03 311.62,353.93 311.92,354.14 312.22,353.75 312.52,353.53 312.82,353.13 313.12,354.37 313.42,354.80 313.72,354.73 314.02,354.51 314.32,353.76 314.62,353.62 314.92,354.81 315.22,356.65 315.52,355.46 315.82,354.81 316.12,353.64 316.42,351.76 316.72,353.65 317.02,353.24 317.32,354.36 317.62,356.75 317.92,356.50 318.22,355.55 318.51,352.87 318.81,352.17 319.11,352.59 319.41,354.10 319.71,353.96 320.01,352.52 320.31,354.78 320.61,354.43 320.91,352.51 321.21,354.77 321.51,357.07 321.81,354.45 322.11,350.91 322.41,351.74 322.71,353.70 323.01,354.28 323.31,353.60 323.61,352.52 323.91,353.75 324.21,354.42 324.51,353.11 324.81,353.60 325.11,355.44 325.41,355.57 325.71,356.04 326.01,355.61 326.31,354.40 326.61,352.89 326.91,351.78 327.21,353.55 327.51,353.50 327.81,352.84 328.11,352.97 328.41,352.80 328.71,352.82 329.01,353.74 329.31,354.54 329.61,353.53 329.91,353.02 330.21,353.26 330.51,354.24 330.81,356.48 331.11,355.86 331.41,354.69 331.71,354.29 332.01,354.35 332.31,354.41 332.61,352.86 332.91,354.14 333.21,356.99 333.51,356.45 333.81,354.72 334.11,354.58 334.41,356.07 334.71,355.24 335.01,354.41 335.31,354.98 335.61,352.52 335.91,352.06 336.21,354.36 336.51,354.99 336.81,354.39 337.11,352.97 337.41,353.30 337.70,354.56 338.00,354.82 338.30,356.25 338.60,355.81 338.90,355.20 339.20,355.59 339.50,356.35 339.80,356.36 340.10,356.36 340.40,355.04 340.70,352.25 341.00,353.56 341.30,354.52 341.60,355.25 341.90,356.09 342.20,355.67 342.50,354.27 342.80,353.51 343.10,354.96 343.40,354.49 343.70,353.76 344.00,355.34 344.30,355.29 344.60,354.43 344.90,355.55 345.20,355.74 345.50,353.37 345.80,353.08 346.10,354.40 346.40,354.59 346.70,356.25 347.00,356.97 347.30,355.41"/>
<path d="M55.60,353.40 55.90,353.27 56.20,353.37 56.50,355.10 56.80,353.60 57.10,352.68 57.40,353.26 57.70,353.53 58.00,351.84 58.30,353.14 58.60,353.32 58.90,352.21 59.20,353.14 59.50,354.68 59.80,353.74 60.10,353.24 60.40,355.03 60.70,352.36 61.00,350.68 61.30,351.83 61.60,352.15 61.90,352.96 62.20,354.41 62.50,355.15 62.80,353.99 63.10,353.52 63.40,353.97 63.70,353.96 64.00,354.11 64.30,353.63 64.60,353.39 64.90,353.87 65.20,354.27 65.50,352.94 65.80,351.07 66.10,352.83 66.40,355.29 66.70,354.32 67.00,354.69 67.30,354.72 67.60,353.56 67.90,353.23 68.20,354.48 68.50,356.48 68.80,355.16 69.10,352.98 69.40,354.12 69.70,355.48 70.00,355.10 70.30,353.02 70.60,352.72 70.90,354.17 71.20,353.64 71.50,353.88 71.80,354.00 72.10,353.95 72.40,354.08 72.70,353.48 73.00,355.02 73.30,355.23 73.60,354.26 73.90,355.14 74.20,353.74 74.50,352.74 74.80,352.81 75.10,352.82 75.40,352.55 75.70,353.48 76.00,354.53 76.30,352.65 76.60,353.07 76.90,353.28 77.20,351.58 77.50,352.84 77.80,354.17 78.10,353.15 78.40,353.74 78.70,354.79 79.00,354.31 79.30,354.81 79.60,354.92 79.90,355.13 80.20,355.18 80.50,354.36 80.80,352.26 81.10,351.65 81.40,355.15 81.70,354.95 82.00,353.13 82.30,353.25 82.60,351.76 82.90,352.69 83.20,355.97 83.50,356.92 83.80,355.04 84.10,352.76 84.40,352.48 84.70,353.72 85.00,353.86 85.30,354.10 85.60,354.70 85.90,352.91 86.20,351.64 86.50,353.49 86.80,355.26 87.10,354.52 87.40,355.08 87.70,355.01 88.00,353.45 88.30,353.46 88.60,354.21 88.90,352.45 89.20,352.08 89.50,354.01 89.80,353.14 90.10,352.25 90.40,354.10 90.70,354.44 91.00,353.07 91.30,354.31 91.60,353.49 91.90,354.40 92.20,354.84 92.70,353.07 92.76,352.84 92.59,352.55 92.35,352.39 91.74,352.13 92.05,351.79 92.37,351.09 92.66,351.39 92.75,351.80 92.45,351.37 92.38,351.01 91.97,350.69 92.04,350.08 92.76,350.11 92.88,349.83 92.10,348.78 92.32,349.08 92.94,348.97 92.60,348.23 92.41,347.79 92.58,347.43 92.43,347.45 92.47,347.28 92.34,346.62 92.41,346.41 92.86,346.20 92.68,345.43 92.64,345.47 92.92,345.55 92.92,345.03 93.04,344.51 92.96,344.40 92.65,344.20 92.78,343.63 92.99,343.48 92.60,343.36 92.56,342.74 92.76,342.62 92.72,342.24 92.86,341.59 93.14,341.64 93.20,341.46 92.93,341.23 92.83,341.04 92.96,340.28 93.11,340.11 93.35,340.05 93.20,339.54 92.92,339.20 93.17,338.73 93.22,338.65 93.15,338.59 93.03,338.23 92.84,337.76 93.13,337.67 93.23,337.52 93.26,337.08 93.35,336.73 93.32,336.39 93.54,336.26 93.44,336.07 93.23,335.77 93.48,335.33 93.60,334.88 93.48,334.38 93.61,334.04 93.54,333.83 93.45,333.43 93.45,333.22 93.33,333.06 93.57,332.65 93.89,332.08 93.87,331.85 93.58,331.82 93.57,331.61 93.81,331.17 93.85,330.62 93.97,330.17 93.91,330.07 93.84,329.97 93.92,329.76 93.91,329.33 93.94,329.15 94.04,329.05 93.97,328.51 93.92,328.26 94.12,328.11 94.29,327.92 94.41,327.21 94.37,326.69 94.41,326.76 94.57,326.65 94.47,326.32 94.58,325.78 94.80,325.51 94.59,325.33 94.45,324.97 94.47,324.90 94.51,324.59 94.64,324.16 94.72,324.13 94.68,323.92 94.75,323.17 94.97,322.52 95.05,322.10 95.04,322.16 94.95,322.17 94.89,321.60 95.14,321.32 95.23,320.92 95.01,320.73 95.14,320.48 95.45,320.24 95.23,320.14 95.28,319.68 95.38,319.44 95.34,319.11 95.49,318.71 95.38,318.66 95.31,318.66 95.31,318.25 95.32,317.90 95.44,317.24 95.72,316.73 95.78,316.70 95.92,316.30 95.96,316.09 95.71,316.18 95.78,315.88 96.07,315.45 96.03,315.29 95.89,315.02 96.12,314.51 96.11,313.88 96.10,313.76 96.17,313.71 96.14,313.14 96.19,312.97 96.23,312.61 96.37,311.82 96.28,311.66 96.12,311.34 96.28,311.03 96.31,310.95 96.32,310.58 96.41,310.31 96.55,309.89 96.57,309.20 96.62,309.30 96.78,309.59 96.98,309.31 96.96,308.77 96.79,308.41 96.87,308.14 97.02,308.01 97.19,307.50 97.47,306.94 97.62,306.75 97.72,306.53 97.92,306.40 98.11,305.43 98.22,305.04 98.33,305.33 98.43,305.78 98.67,306.47 98.75,306.31 98.69,306.53 98.92,306.93 99.10,307.12 99.13,307.73 99.38,308.42 99.38,308.79 99.34,308.97 99.67,309.08 99.61,309.23 99.69,309.72 99.86,310.06 99.73,310.27 99.86,310.61 99.90,311.16 99.58,311.61 99.62,311.87 99.86,312.00 99.72,311.93 99.85,311.98 99.99,312.43 99.85,312.76 100.17,312.72 100.43,313.13 100.41,314.06 100.52,314.41 100.24,314.42 100.29,314.71 100.36,315.01 100.08,315.11 100.27,315.42 100.38,316.07 100.57,316.37 100.61,316.58 100.54,316.84 100.62,317.21 100.51,317.31 100.53,317.16 100.61,317.56 100.69,318.19 100.77,318.67 100.88,318.84 100.91,319.07 100.89,319.48 101.14,319.87 101.21,320.10 101.29,320.38 101.30,320.88 101.16,321.02 101.26,321.17 101.40,321.43 101.47,321.62 101.40,321.89 101.35,322.12 101.37,322.65 101.44,323.21 101.38,323.36 101.31,323.60 101.41,323.93 101.73,324.48 101.93,324.93 101.95,324.90 101.96,325.16 101.96,325.21 101.96,325.29 101.80,325.75 101.92,326.19 102.13,326.53 102.16,326.61 102.15,326.87 102.33,327.03 102.61,327.20 102.68,327.58 102.78,328.20 102.74,328.74 102.77,329.10 102.92,329.68 102.91,330.00 103.01,329.55 103.05,329.50 103.12,330.49 103.29,330.95 103.28,330.97 103.51,331.26 103.83,331.13 103.89,331.44 104.06,332.01 104.17,331.94 104.21,332.34 104.41,333.29 104.47,333.43 104.41,332.93 104.64,333.21 104.86,333.58 105.01,333.32 105.22,333.69 105.26,334.62 105.38,334.75 105.51,334.88 105.68,335.36 105.90,335.52 106.10,335.70 106.39,336.00 106.52,336.28 106.57,336.59 106.73,337.06 106.92,337.21 107.06,337.06 107.25,337.59 107.39,337.88 107.51,338.58 107.75,338.95 108.02,339.17 108.21,339.56 108.32,339.29 108.53,339.73 108.75,340.00 108.97,339.91 109.16,339.89 109.28,339.85 109.39,339.87 109.65,340.69 109.95,340.53 110.16,341.06 110.30,342.36 110.40,341.86 110.70,342.38 110.96,343.43 111.03,343.43 111.28,342.13 111.53,341.10 111.78,342.37 112.10,342.90 112.19,343.00 112.39,343.52 112.70,343.71 112.94,343.94 113.12,343.96 113.28,343.53 113.59,343.68 113.81,344.22 114.01,344.90 114.33,345.18 114.59,345.06 114.83,345.84 115.10,345.71 115.37,345.15 115.56,345.45 115.77,345.97 116.01,346.46 116.28,346.19 116.61,345.30 116.88,346.32 117.09,347.24 117.31,347.67 117.54,348.45 117.84,346.86 118.14,346.36 118.42,347.66 118.69,347.69 118.97,348.29 119.26,349.54 119.52,349.00 119.80,347.85 120.08,348.48 120.36,349.15 120.63,348.77 120.92,348.95 121.19,350.01 121.46,349.21 121.76,349.24 122.05,349.17 122.34,349.28 122.62,349.29 122.91,347.95 123.20,347.70 123.48,348.14 123.73,349.11 124.01,349.30 124.31,349.15 124.61,349.15 124.91,349.13 125.19,349.10 125.50,349.61 125.79,349.56 126.08,349.63 126.39,349.33 126.69,348.33 126.98,349.70 127.27,350.15 127.56,349.73 127.87,349.63 128.17,348.53 128.46,348.32 128.75,348.81 129.05,350.81 129.34,350.99 129.64,350.25 129.93,350.54 130.22,350.49 130.52,349.93 130.82,350.70 131.11,351.81 131.41,350.70 131.70,351.20 131.99,350.43 132.29,349.32 132.59,350.79 132.89,352.58 133.19,351.98 133.49,352.21 133.79,353.55 134.08,351.52 134.38,351.04 134.67,352.65 134.98,351.54 135.28,351.85 135.57,351.43 135.87,351.39 136.17,353.53 136.47,353.79 136.77,353.59 137.07,352.54 137.36,350.65 137.66,351.86 137.96,353.66 138.26,352.95 138.56,352.01 138.86,349.82 139.16,350.69 139.45,351.55 139.75,351.16 140.05,352.34 140.35,351.35 140.65,351.28 140.95,351.73 141.24,350.93 141.55,352.18 141.84,351.48 142.14,350.42 142.44,351.43 142.74,352.73 143.04,352.88 143.34,352.61 143.64,351.81 143.94,350.07 144.24,350.85 144.54,353.36 144.83,353.93 145.13,352.32 145.43,351.40 145.73,352.87 146.03,353.92 146.33,351.67 146.63,349.59 146.93,352.36 147.23,354.09 147.53,352.54 147.83,352.72 148.13,352.65 148.43,352.25 148.73,352.29 149.03,350.83 149.33,350.62 149.63,351.85 149.93,353.02 150.23,354.23 150.53,353.05 150.83,352.15 151.13,352.54 151.43,354.30 151.73,355.13 152.03,352.95 152.33,353.28 152.63,353.08 152.93,352.83 153.23,353.71 153.53,351.80 153.83,351.36 154.13,352.20 154.43,353.47 154.73,354.74 155.03,352.39 155.33,350.89 155.63,353.27 155.93,354.12 156.23,353.66 156.53,353.80 156.83,354.02 157.13,354.57 157.43,353.61 157.73,350.90 158.03,351.65 158.33,352.75 158.63,350.95 158.93,351.54 159.23,352.31 159.53,352.22 159.83,351.24 160.13,351.74 160.43,353.33 160.72,353.05 161.02,352.49 161.32,351.65 161.62,353.09 161.92,354.32 162.22,353.30 162.52,351.75 162.82,352.41 163.12,353.01 163.42,353.30 163.72,353.14 164.02,352.59 164.32,353.49 164.62,352.88 164.92,353.04 165.22,352.35 165.52,353.02 165.82,353.83 166.12,352.37 166.42,352.58 166.72,352.64 167.02,352.20 167.32,352.68 167.62,352.75 167.92,352.35 168.22,353.02 168.52,353.11 168.82,352.29 169.12,353.15 169.42,355.50 169.72,354.33 170.02,353.41 170.32,353.33 170.62,352.37 170.92,352.05 171.22,351.80 171.52,352.08 171.82,352.50 172.12,352.87 172.42,354.81 172.72,354.36 173.02,353.05 173.32,354.50 173.62,352.48 173.92,350.33 174.22,352.58 174.52,353.05 174.82,352.05 175.12,351.40 175.42,350.75 175.72,352.21 176.02,354.10 176.32,356.06 176.62,354.58 176.92,354.10 177.22,354.64 177.52,353.21 177.82,353.03 178.12,353.04 178.42,351.93 178.72,352.08 179.02,352.42 179.32,352.79 179.62,355.59 179.92,354.18 180.22,353.78 180.52,353.95 180.82,352.25 181.12,354.10 181.42,354.83 181.72,354.98 182.02,355.71 182.32,354.45 182.62,352.84 182.92,353.63 183.22,354.53 183.52,355.47 183.82,353.33 184.12,352.75 184.42,354.89 184.72,353.76 185.02,352.64 185.32,352.22 185.62,352.25 185.92,354.32 186.22,355.03 186.52,353.41 186.82,353.44 187.12,354.17 187.42,354.78 187.72,354.28 188.02,353.47 188.32,352.82 188.62,352.96 188.92,353.51 189.22,353.02 189.52,352.88 189.82,354.49 190.12,355.45 190.41,354.62 190.71,354.98 191.01,354.84 191.31,354.82 191.61,354.70 191.91,354.96 192.21,355.44 192.51,353.93 192.81,352.44 193.11,352.83 193.41,353.98 193.71,352.93 194.01,352.63 194.31,353.05 194.61,353.48 194.91,352.89 195.21,352.64 195.51,355.40 195.81,356.26 196.11,354.59 196.41,355.08 196.71,354.78 197.01,354.18 197.31,354.77 197.61,353.69 197.91,353.85 198.21,356.04 198.51,354.87 198.81,352.30 199.11,354.51 199.41,354.72 199.71,353.16 200.01,353.33 200.31,352.78 200.61,353.60 200.91,353.37 201.21,352.06 201.51,352.72 201.81,354.09 202.11,355.55 202.41,355.05 202.71,354.61 203.01,355.83 203.31,355.44 203.61,354.98 203.91,354.41 204.21,352.29 204.51,353.14 204.81,353.55 205.11,353.37 205.41,353.64 205.71,352.13 206.01,352.75 206.31,352.67 206.61,352.84 206.91,353.77 207.21,353.52 207.51,355.00 207.81,355.90 208.11,354.38 208.41,354.38 208.71,354.94 209.01,353.95 209.31,352.44 209.61,352.10 209.91,354.96 210.21,355.64 210.51,354.43 210.81,355.87 211.11,354.76 211.41,354.22 211.71,353.12 212.01,351.29 212.31,351.29 212.61,352.18 212.91,353.92 213.21,353.29 213.51,352.72 213.81,355.17 214.11,356.09 214.41,354.74 214.71,353.61 215.01,352.47 215.31,353.42 215.61,353.83 215.91,353.51 216.21,353.53 216.51,352.18 216.81,352.76 217.11,354.46 217.41,354.62 217.71,355.04 218.01,356.14 218.31,355.19 218.61,353.79 218.91,355.32 219.21,354.82 219.51,354.64 219.81,354.54 220.11,353.15 220.41,352.64 220.71,352.91 221.01,355.66 221.31,357.38 221.61,355.66 221.91,354.51 222.21,355.44 222.51,354.06 222.81,352.70 223.11,353.47 223.41,352.19 223.71,351.67 224.01,352.76 224.31,353.16 224.61,353.51 224.91,352.07 225.21,352.64 225.51,353.93 225.81,353.94 226.11,354.90 226.41,354.33 226.71,355.37 227.01,354.04 227.31,352.44 227.61,353.99 227.91,355.28 228.21,355.12 228.51,354.35 228.81,354.60 229.11,355.91 229.41,355.46 229.71,352.89 230.01,352.75 230.31,353.90 230.61,355.58 230.91,353.50 231.21,351.13 231.51,354.08 231.81,354.83 232.11,352.96 232.41,352.92 232.71,352.79 233.01,352.26 233.31,353.11 233.61,353.37 233.91,354.80 234.21,353.77 234.51,352.74 234.81,353.83 235.11,354.83 235.41,354.58 235.71,353.55 236.01,355.84 236.31,355.89 236.61,353.91 236.91,353.26 237.21,353.99 237.51,355.44 237.81,355.39 238.11,354.65 238.41,353.55 238.71,353.06 239.01,355.13 239.31,354.83 239.61,353.30 239.91,353.22 240.21,354.66 240.51,355.44 240.81,354.78 241.11,353.69 241.41,351.79 241.71,353.36 242.01,354.52 242.31,354.34 242.61,355.18 242.91,353.91 243.21,352.50 243.51,353.82 243.81,353.08 244.11,350.56 244.41,353.64 244.71,354.62 245.01,353.40 245.31,355.06 245.61,356.74 245.91,354.91 246.21,352.92 246.51,354.60 246.81,354.75 247.11,353.25 247.41,354.09 247.71,353.29 248.01,353.33 248.31,354.78 248.61,353.91 248.91,353.34 249.21,353.12 249.51,354.65 249.81,355.09 250.11,355.16 250.41,355.45 250.71,354.12 251.01,353.37 251.31,353.75 251.61,353.59 251.91,354.78 252.21,354.16 252.51,354.44 252.81,354.84 253.11,352.55 253.41,353.14 253.71,352.79 254.01,354.27 254.31,356.84 254.61,356.64 254.91,356.75 255.21,356.59 255.51,353.44 255.81,352.93 256.11,353.90 256.41,354.07 256.71,354.46 257.01,353.31 257.31,352.74 257.61,353.64 257.91,355.42 258.21,353.96 258.51,353.32 258.81,354.67 259.11,354.24 259.41,353.67 259.71,354.81 260.01,356.14 260.31,355.75 260.61,355.21 260.91,355.24 261.21,354.11 261.51,353.38 261.81,353.92 262.11,353.17 262.41,353.84 262.71,356.31 263.01,357.40 263.31,355.54 263.61,353.34 263.91,352.83 264.21,353.85 264.51,354.49 264.81,354.91 265.11,354.01 265.41,353.13 265.71,353.56 266.01,353.65 266.31,353.99 266.61,352.14 266.91,353.06 267.21,354.72 267.51,354.15 267.81,354.03 268.11,353.05 268.41,353.15 268.71,354.67 269.01,356.10 269.31,355.61 269.61,353.68 269.91,354.52 270.21,354.81 270.51,353.57 270.81,353.75 271.11,354.49 271.41,353.44 271.71,353.00 272.01,354.02 272.31,353.54 272.61,355.05 272.91,354.06 273.21,352.56 273.51,354.11 273.81,354.32 274.11,355.44 274.41,353.56 274.71,351.97 275.01,352.91 275.31,351.97 275.61,352.21 275.91,353.79 276.21,354.07 276.51,355.40 276.81,354.33 277.11,352.93 277.41,354.53 277.71,354.34 278.01,354.64 278.31,354.32 278.61,354.21 278.91,354.22 279.21,353.36 279.51,352.78 279.81,352.84 280.11,354.27 280.41,354.22 280.71,354.22 281.01,354.49 281.31,353.86 281.61,355.15 281.91,354.15 282.21,352.95 282.51,354.75 282.81,355.32 283.11,354.87 283.41,355.60 283.71,354.89 284.01,353.79 284.31,355.71 284.61,354.60 284.91,353.56 285.21,355.09 285.51,354.90 285.81,354.75 286.11,353.76 286.41,353.52 286.71,354.15 287.01,354.34 287.31,354.59 287.61,355.86 287.91,356.59 288.21,356.75 288.51,356.76 288.81,355.39 289.11,355.17 289.41,355.94 289.71,354.61 290.01,352.18 290.30,351.64 290.60,353.59 290.90,354.52 291.20,353.62 291.50,354.01 291.80,354.95 292.10,354.51 292.40,353.13 292.70,353.04 293.00,354.39 293.30,354.65 293.60,354.51 293.90,355.54 294.20,354.80 294.50,353.22 294.80,352.39 295.10,352.63 295.40,352.79 295.70,353.41 296.00,353.18 296.30,353.15 296.60,353.91 296.90,354.43 297.20,353.85 297.50,353.25 297.80,354.80 298.10,353.34 298.40,353.02 298.70,353.92 299.00,352.82 299.30,351.99 299.60,352.83 299.90,353.61 300.20,353.23 300.50,354.38 300.80,352.95 301.10,353.07 301.40,356.61 301.70,355.78 302.00,353.64 302.30,353.61 302.60,354.72 302.90,356.61 303.20,355.13 303.50,351.60 303.80,352.56 304.10,354.23 304.40,353.83 304.70,353.70 305.00,352.11 305.30,352.56 305.60,353.67 305.90,353.65 306.20,353.86 306.50,352.83 306.80,351.67 307.10,353.65 307.40,355.15 307.70,354.26 308.00,355.66 308.30,355.79 308.60,354.67 308.90,352.50 309.20,353.28 309.50,355.77 309.80,353.82 310.10,351.74 310.40,353.03 310.70,354.20 311.00,355.12 311.30,354.12 311.60,352.82 311.90,354.51 312.20,354.96 312.50,353.33 312.80,351.71 313.10,352.38 313.40,355.42 313.70,355.13 314.00,352.92 314.30,354.37 314.60,355.15 314.90,355.59 315.20,354.61 315.50,352.85 315.80,354.15 316.10,354.52 316.40,353.80 316.70,353.12 317.00,352.46 317.30,352.67 317.60,352.79 317.90,352.86 318.20,353.12 318.50,353.43 318.80,354.64 319.10,356.46 319.40,355.25 319.70,355.07 320.00,355.78 320.30,352.71 320.60,352.52 320.90,353.00 321.20,353.71 321.50,354.50 321.80,354.92 322.10,356.59 322.40,354.81 322.70,352.75 323.00,354.10 323.30,354.18 323.60,353.19 323.90,354.80 324.20,354.76 324.50,354.53 324.80,356.31 325.10,355.99 325.40,354.93 325.70,354.13 326.00,351.80 326.30,352.44 326.60,354.19 326.90,354.52 327.20,354.54 327.50,353.55 327.80,353.00 328.10,353.59 328.40,353.33 328.70,352.09 329.00,353.08 329.30,354.23 329.60,354.50 329.90,354.06 330.20,353.45 330.50,353.12 330.80,352.90 331.10,354.42 331.40,356.24 331.70,355.27 332.00,354.18 332.30,353.79 332.60,352.15 332.90,352.30 333.20,353.35 333.50,353.57 333.80,353.09 334.10,353.50 334.40,355.17 334.70,354.55 335.00,353.93 335.30,354.88 335.60,355.39 335.90,355.46 336.20,355.46 336.50,354.96 336.80,353.02 337.10,352.03 337.40,352.74 337.70,352.84 338.00,352.57 338.30,353.23 338.60,353.86 338.90,353.67 339.20,354.00 339.50,356.00 339.80,354.87 340.10,352.75 340.40,352.59 340.70,354.03 341.00,355.77 341.30,353.67 341.60,353.33 341.90,353.28 342.20,353.20 342.50,354.41 342.80,354.13 343.10,352.61 343.40,352.72 343.70,354.39 344.00,355.36 344.30,355.31 344.60,354.15 344.90,353.44 345.20,353.94 345.50,355.24 345.80,355.43 346.10,355.50 346.40,354.72 346.70,352.75 347.00,352.96 347.30,355.40"/>
<path d="M55.60,355.92 55.90,355.52 56.20,356.36 56.50,355.73 56.80,354.88 57.10,352.69 57.40,352.66 57.70,353.21 58.00,351.60 58.30,352.41 58.60,354.59 58.90,355.18 59.20,354.81 59.50,354.98 59.80,355.03 60.10,353.41 60.40,351.77 60.70,352.77 61.00,354.65 61.30,354.54 61.60,352.96 61.90,352.52 62.20,352.76 62.50,352.66 62.80,352.12 63.10,354.11 63.40,355.23 63.70,352.36 64.00,352.36 64.30,354.28 64.60,354.86 64.90,353.50 65.20,351.11 65.50,353.80 65.80,354.30 66.10,351.26 66.40,352.56 66.70,354.79 67.00,355.51 67.30,353.80 67.60,352.94 67.90,353.01 68.20,352.99 68.50,353.04 68.80,354.84 69.10,356.49 69.40,354.52 69.70,353.35 70.00,354.74 70.30,354.26 70.60,352.80 70.90,353.00 71.20,353.25 71.50,355.17 71.80,354.58 72.10,351.97 72.40,351.54 72.70,352.09 73.00,351.86 73.30,351.31 73.60,351.79 73.90,353.33 74.20,354.30 74.50,353.54 74.80,353.64 75.10,354.00 75.40,353.57 75.70,352.75 76.00,353.55 76.30,354.31 76.60,353.42 76.90,353.12 77.20,353.44 77.50,353.68 77.80,352.46 78.10,352.01 78.40,352.04 78.70,350.84 79.00,350.74 79.30,354.28 79.60,353.86 79.90,351.95 80.20,354.19 80.50,354.13 80.80,353.37 81.10,352.62 81.40,352.07 81.70,352.34 82.00,351.94 82.30,352.44 82.60,354.04 82.90,354.98 83.20,355.95 83.50,355.67 83.80,355.96 84.10,355.60 84.40,352.83 84.70,351.39 85.00,352.61 85.30,354.65 85.60,355.26 85.90,354.54 86.20,354.90 86.50,354.92 86.80,353.40 87.10,353.21 87.40,353.64 87.70,354.33 88.00,353.16 88.30,351.67 88.60,353.80 88.90,354.42 89.20,354.43 89.50,355.33 89.80,354.56 90.10,355.06 90.40,354.65 90.70,354.17 91.00,355.03 91.30,355.38 91.60,353.81 91.90,352.85 92.20,355.04 92.46,355.55 92.51,354.75 92.85,354.99 92.96,353.55 93.13,352.38 93.53,353.32 93.50,353.38 93.30,351.80 93.70,351.51 94.05,351.96 94.11,351.17 94.28,350.51 94.52,351.01 94.65,351.29 94.94,350.02 94.97,349.00 95.01,349.11 95.36,349.26 95.41,349.09 95.59,348.44 95.70,348.35 95.57,347.56 95.73,346.75 96.06,347.44 96.40,347.61 96.55,347.33 96.70,347.28 96.95,347.19 97.22,346.62 97.44,347.20 97.70,347.24 97.97,347.45 98.24,346.51 98.53,345.93 98.79,346.28 99.06,344.91 99.38,345.22 99.67,345.21 99.92,345.61 100.16,346.85 100.38,346.73 100.64,346.70 101.02,347.71 101.23,347.81 101.43,348.28 101.73,348.44 101.84,349.16 101.97,349.78 102.21,348.23 102.49,348.86 102.65,349.98 102.85,348.90 103.07,350.12 103.29,350.98 103.56,350.30 103.71,352.09 103.95,351.43 104.28,349.76 104.55,350.70 104.79,349.99 105.14,350.59 105.34,351.54 105.52,351.95 105.81,353.66 106.11,351.92 106.39,350.11 106.66,352.06 106.94,352.24 107.21,351.35 107.52,352.82 107.82,353.59 108.08,353.30 108.36,351.94 108.64,352.66 108.92,353.78 109.21,354.05 109.50,352.81 109.79,353.24 110.09,354.62 110.38,353.06 110.67,353.17 110.96,353.40 111.26,351.31 111.56,350.85 111.85,352.78 112.15,353.62 112.45,353.55 112.76,352.67 113.05,351.59 113.36,351.90 113.66,352.99 113.96,353.29 114.27,353.45 114.57,352.97 114.87,352.18 115.18,352.26 115.49,352.54 115.79,352.56 116.09,352.77 116.40,352.91 116.70,354.16 117.01,353.95 117.31,351.95 117.62,352.97 117.92,355.28 118.22,354.78 118.53,352.25 118.83,353.07 119.13,353.22 119.43,352.49 119.73,353.19 120.03,352.19 120.33,353.16 120.63,354.51 120.93,353.66 121.23,353.61 121.53,352.70 121.83,352.18 122.13,353.52 122.43,354.42 122.73,352.49 123.02,352.28 123.32,352.98 123.62,350.83 123.92,352.49 124.22,355.22 124.52,353.58 124.82,353.32 125.12,354.31 125.42,354.30 125.72,355.93 126.02,356.33 126.32,354.80 126.62,352.68 126.92,351.89 127.22,352.63 127.51,352.72 127.81,353.34 128.11,354.43 128.41,355.77 128.71,356.27 129.01,353.47 129.31,354.20 129.61,355.35 129.91,353.22 130.21,351.64 130.51,352.14 130.81,355.49 131.11,355.37 131.41,354.12 131.71,354.51 132.01,354.96 132.31,353.93 132.61,352.27 132.91,353.51 133.20,355.11 133.50,353.94 133.80,353.43 134.10,354.94 134.40,354.91 134.70,353.63 135.00,355.05 135.30,356.75 135.60,355.59 135.90,354.14 136.20,352.42 136.50,352.16 136.80,353.33 137.10,352.86 137.40,353.76 137.70,353.51 138.00,354.06 138.30,354.83 138.60,352.64 138.90,352.75 139.20,353.91 139.50,355.12 139.80,353.67 140.10,353.31 140.40,353.89 140.70,352.09 141.00,351.45 141.30,353.75 141.59,353.57 141.89,351.90 142.19,353.16 142.49,355.10 142.79,353.30 143.09,352.06 143.39,353.98 143.69,352.34 143.99,351.78 144.29,352.99 144.59,353.90 144.89,353.91 145.19,352.91 145.49,353.39 145.79,354.86 146.09,353.48 146.39,352.54 146.69,353.53 146.99,353.43 147.29,354.48 147.59,353.98 147.89,351.79 148.19,352.14 148.49,352.32 148.79,354.01 149.09,356.44 149.39,353.98 149.69,352.72 149.99,352.21 150.29,352.05 150.59,353.10 150.89,354.99 151.19,355.87 151.49,354.36 151.79,354.94 152.09,354.37 152.39,353.97 152.69,353.71 152.99,352.55 153.29,354.94 153.59,353.73 153.89,352.52 154.19,353.60 154.49,353.89 154.79,353.88 155.09,353.18 155.39,352.65 155.69,353.50 155.99,354.05 156.29,351.73 156.59,350.66 156.89,350.30 157.19,352.70 157.49,353.21 157.79,351.34 158.09,352.52 158.39,353.57 158.69,353.67 158.99,353.55 159.29,355.11 159.59,354.33 159.89,352.02 160.19,352.85 160.49,353.97 160.79,355.57 161.09,355.11 161.39,354.49 161.69,354.84 161.99,355.90 162.29,354.92 162.59,354.40 162.89,354.98 163.19,353.94 163.49,354.60 163.79,355.53 164.09,354.28 164.39,353.01 164.69,352.76 164.99,351.14 165.29,353.79 165.59,355.68 165.89,353.84 166.19,352.94 166.49,352.77 166.79,353.86 167.09,355.21 167.39,355.14 167.69,354.14 167.99,352.89 168.29,352.19 168.59,353.19 168.89,352.04 169.19,351.55 169.49,353.31 169.79,355.25 170.09,353.63 170.39,350.91 170.69,353.23 170.99,352.74 171.29,353.80 171.59,355.74 171.89,354.78 172.19,355.13 172.49,352.76 172.79,352.76 173.09,353.43 173.39,352.68 173.69,353.57 173.99,353.97 174.29,354.69 174.59,354.52 174.89,354.84 175.19,355.09 175.49,353.55 175.79,353.67 176.09,353.78 176.39,354.12 176.69,354.17 176.99,353.12 177.29,354.36 177.59,353.01 177.89,352.53 178.19,353.74 178.49,353.96 178.79,354.99 179.09,353.48 179.39,353.34 179.69,355.68 179.99,354.90 180.29,354.12 180.59,356.27 180.89,353.83 181.19,351.84 181.49,355.28 181.79,355.34 182.09,353.52 182.39,352.71 182.69,351.09 182.99,352.74 183.29,355.07 183.59,355.55 183.89,355.49 184.19,353.39 184.49,351.12 184.79,352.28 185.09,355.35 185.39,355.50 185.69,354.66 185.99,355.88 186.29,354.93 186.59,353.17 186.89,354.50 187.19,354.28 187.49,352.73 187.79,352.73 188.09,354.01 188.39,353.70 188.69,352.78 188.99,353.75 189.29,353.27 189.59,352.50 189.89,353.47 190.19,354.20 190.49,353.31 190.79,352.58 191.09,354.12 191.39,354.21 191.69,353.35 191.99,353.65 192.29,353.07 192.59,353.84 192.89,354.18 193.19,351.96 193.49,353.70 193.79,355.06 194.09,353.70 194.39,354.21 194.69,353.68 194.99,352.41 195.29,351.95 195.59,352.39 195.89,353.86 196.19,354.11 196.49,353.93 196.79,352.50 197.09,351.16 197.39,352.98 197.69,352.86 197.99,353.43 198.29,354.26 198.59,353.32 198.89,352.60 199.19,352.70 199.49,352.27 199.79,353.27 200.09,354.89 200.38,353.78 200.68,352.52 200.98,353.19 201.28,353.41 201.58,353.95 201.88,355.33 202.18,353.76 202.48,352.96 202.78,355.21 203.08,355.97 203.38,355.25 203.68,354.21 203.98,354.02 204.28,353.33 204.58,353.22 204.88,355.26 205.18,354.47 205.48,354.01 205.78,353.88 206.08,353.23 206.38,353.79 206.68,354.44 206.98,354.36 207.28,354.39 207.58,353.34 207.88,351.60 208.18,352.91 208.48,352.53 208.78,350.64 209.08,351.13 209.38,353.30 209.68,355.10 209.98,356.26 210.28,355.40 210.58,353.27 210.88,353.43 211.18,352.49 211.48,353.50 211.78,353.93 212.08,352.31 212.38,353.31 212.68,353.56 212.98,353.84 213.28,354.97 213.58,355.22 213.88,354.54 214.18,353.07 214.48,353.08 214.78,352.86 215.08,351.51 215.38,351.08 215.68,353.35 215.98,353.51 216.28,353.64 216.58,354.84 216.88,353.49 217.18,353.61 217.47,355.37 217.77,354.04 218.07,353.00 218.37,353.86 218.67,352.50 218.97,351.23 219.27,351.31 219.57,352.14 219.87,353.03 220.17,354.69 220.47,355.04 220.77,354.03 221.07,355.21 221.37,354.89 221.67,353.39 221.97,353.65 222.27,354.22 222.57,354.96 222.87,354.35 223.17,354.48 223.47,354.75 223.77,353.61 224.07,354.21 224.37,354.36 224.67,352.94 224.97,354.04 225.27,354.18 225.57,353.57 225.87,355.82 226.17,356.57 226.47,354.31 226.77,353.05 227.07,354.41 227.37,355.21 227.67,353.51 227.97,353.78 228.27,353.17 228.57,353.74 228.87,356.32 229.17,356.64 229.47,354.34 229.77,353.43 230.07,356.37 230.37,356.21 230.67,354.28 230.97,355.09 231.27,353.97 231.57,352.71 231.87,354.37 232.17,354.04 232.47,353.71 232.77,354.94 233.07,355.63 233.37,354.76 233.67,352.95 233.97,351.63 234.27,351.89 234.56,352.78 234.86,352.92 235.16,355.17 235.46,355.67 235.76,353.77 236.06,354.51 236.36,353.47 236.66,352.38 236.96,354.08 237.26,353.96 237.56,354.33 237.86,354.40 238.16,353.71 238.46,355.58 238.76,356.35 239.06,355.18 239.36,354.33 239.66,354.86 239.96,354.37 240.26,352.75 240.56,354.00 240.86,355.98 241.16,355.35 241.46,354.13 241.76,352.88 242.06,352.53 242.36,353.23 242.66,354.02 242.96,355.07 243.26,354.89 243.56,354.49 243.86,353.30 244.16,353.06 244.46,355.23 244.76,354.53 245.06,351.81 245.36,353.02 245.66,356.02 245.96,356.06 246.26,354.30 246.56,354.19 246.86,352.86 247.16,352.39 247.46,353.49 247.76,354.42 248.06,354.21 248.36,354.98 248.66,357.64 248.96,357.59 249.26,356.69 249.56,354.32 249.86,353.18 250.16,354.70 250.46,355.30 250.76,353.87 251.06,353.33 251.36,353.16 251.65,353.71 251.95,354.38 252.25,355.17 252.55,355.87 252.85,354.41 253.15,355.00 253.45,353.55 253.75,351.05 254.05,352.29 254.35,354.03 254.65,356.24 254.95,356.47 255.25,355.06 255.55,354.34 255.85,352.51 256.15,351.99 256.45,354.52 256.75,355.33 257.05,353.85 257.35,353.54 257.65,353.48 257.95,351.80 258.25,352.18 258.55,353.32 258.85,352.41 259.15,352.80 259.45,353.62 259.75,353.93 260.05,354.23 260.35,354.25 260.65,354.02 260.95,353.20 261.25,353.31 261.55,353.96 261.85,354.90 262.15,354.95 262.45,353.49 262.75,354.17 263.05,354.75 263.35,354.76 263.65,356.57 263.95,356.56 264.25,353.64 264.55,352.11 264.85,353.69 265.15,353.05 265.45,352.17 265.75,353.82 266.05,353.80 266.35,352.84 266.65,353.24 266.95,353.66 267.25,353.24 267.55,354.03 267.85,353.91 268.15,353.24 268.45,354.93 268.74,355.91 269.04,354.83 269.34,353.89 269.64,354.10 269.94,354.48 270.24,353.11 270.54,352.22 270.84,354.34 271.14,354.18 271.44,354.66 271.74,356.12 272.04,354.64 272.34,353.61 272.64,353.75 272.94,354.88 273.24,355.18 273.54,355.66 273.84,355.68 274.14,353.93 274.44,354.01 274.74,355.25 275.04,354.67 275.34,353.21 275.64,352.61 275.94,353.91 276.24,353.82 276.54,354.89 276.84,356.33 277.14,353.17 277.44,351.55 277.74,353.21 278.04,353.05 278.34,352.85 278.64,354.76 278.94,355.45 279.24,353.70 279.54,353.80 279.84,355.64 280.14,354.35 280.44,354.02 280.74,354.10 281.04,352.37 281.34,353.97 281.64,356.15 281.94,354.28 282.24,351.50 282.54,353.22 282.84,354.44 283.14,353.87 283.44,353.24 283.74,353.35 284.04,355.48 284.34,355.16 284.64,354.92 284.94,355.07 285.24,355.22 285.54,354.46 285.84,353.10 286.13,351.84 286.43,351.95 286.73,353.41 287.03,352.79 287.33,353.95 287.63,354.73 287.93,355.61 288.23,356.38 288.53,353.87 288.83,353.34 289.13,354.71 289.43,355.67 289.73,356.35 290.03,355.00 290.33,354.56 290.63,354.92 290.93,354.88 291.23,354.81 291.53,353.93 291.83,354.34 292.13,353.81 292.43,353.51 292.73,354.42 293.03,352.81 293.33,352.01 293.63,353.20 293.93,354.55 294.23,355.10 294.53,354.19 294.83,353.42 295.13,353.82 295.43,354.20 295.73,354.67 296.03,354.70 296.33,353.80 296.63,354.58 296.93,355.02 297.23,353.12 297.53,352.89 297.83,354.21 298.13,352.39 298.43,351.36 298.73,353.84 299.03,355.22 299.33,353.97 299.63,354.50 299.93,353.37 300.23,353.76 300.53,354.79 300.83,354.90 301.13,355.05 301.43,353.28 301.73,353.89 302.03,354.12 302.33,354.76 302.63,355.70 302.93,354.49 303.23,353.62 303.52,353.93 303.82,355.62 304.12,355.59 304.42,354.98 304.72,354.98 305.02,353.33 305.32,351.91 305.62,352.85 305.92,354.72 306.22,354.74 306.52,355.44 306.82,355.87 307.12,356.36 307.42,356.27 307.72,353.84 308.02,354.29 308.32,354.15 308.62,353.03 308.92,352.83 309.22,353.76 309.52,356.17 309.82,354.14 310.12,352.08 310.42,352.66 310.72,351.76 311.02,352.26 311.32,353.69 311.62,352.56 311.92,351.06 312.22,350.96 312.52,352.89 312.82,352.85 313.12,352.61 313.42,354.17 313.72,354.78 314.02,354.51 314.32,354.09 314.62,355.46 314.92,354.74 315.22,353.45 315.52,355.11 315.82,354.05 316.12,353.49 316.42,352.82 316.72,350.84 317.02,351.12 317.32,352.37 317.62,353.78 317.92,352.25 318.22,353.91 318.52,357.45 318.82,356.94 319.12,354.94 319.42,354.25 319.72,353.81 320.02,352.89 320.32,352.84 320.62,353.61 320.91,353.83 321.21,353.15 321.51,355.20 321.81,355.31 322.11,354.28 322.41,354.93 322.71,353.99 323.01,353.27 323.31,354.68 323.61,354.59 323.91,354.18 324.21,354.27 324.51,353.34 324.81,355.04 325.11,353.83 325.41,351.89 325.71,352.89 326.01,353.89 326.31,353.81 326.61,353.53 326.91,354.74 327.21,356.38 327.51,356.64 327.81,353.66 328.11,354.33 328.41,355.57 328.71,353.18 329.01,353.38 329.31,353.36 329.61,352.81 329.91,352.88 330.21,352.79 330.51,351.86 330.81,353.42 331.11,355.20 331.41,354.81 331.71,355.10 332.01,354.27 332.31,355.12 332.61,356.36 332.91,354.85 333.21,354.41 333.51,354.42 333.81,353.26 334.11,353.96 334.41,354.47 334.71,353.97 335.01,352.18 335.31,351.53 335.61,353.33 335.91,354.70 336.21,355.20 336.51,354.09 336.81,353.92 337.11,353.31 337.41,353.28 337.71,356.04 338.01,355.44 338.31,352.89 338.60,354.02 338.90,354.82 339.20,353.89 339.50,354.48 339.80,354.19 340.10,354.34 340.40,354.00 340.70,352.69 341.00,353.58 341.30,354.64 341.60,354.58 341.90,354.78 342.20,354.54 342.50,353.38 342.80,353.84 343.10,353.02 343.40,352.61 343.70,354.85 344.00,355.34 344.30,355.51 344.60,354.80 344.90,353.58 345.20,353.37 345.50,353.15 345.80,353.75 346.10,355.06 346.40,354.85 346.70,355.37 347.00,355.82 347.30,352.71"/>
</g>
<g fill="none" stroke="#000" stroke-width="2.0" stroke-linejoin="round" stroke-linecap="round">
<path d="M55.60,554.11 55.95,554.71 56.30,554.54 56.65,553.74 57.00,553.78 57.35,554.12 57.70,553.76 58.05,552.85 58.40,553.07 58.75,554.25 59.10,554.37 59.45,553.81 59.80,554.13 60.15,554.63 60.50,554.36 60.85,553.60 61.20,552.95 61.55,553.29 61.90,554.13 62.25,554.41 62.60,554.12 62.95,553.23 63.30,552.74 63.65,553.24 64.00,553.70 64.35,554.25 64.70,555.14 65.05,555.28 65.40,554.69 65.75,554.37 66.10,554.30 66.45,554.44 66.80,554.28 67.15,553.84 67.50,554.26 67.85,554.48 68.20,553.72 68.55,553.39 68.90,553.65 69.25,553.39 69.60,553.24 69.95,553.73 70.30,554.01 70.65,553.90 71.00,553.75 71.35,554.36 71.70,555.00 72.05,554.35 72.40,553.47 72.75,553.34 73.10,554.00 73.45,554.87 73.80,555.15 74.15,555.12 74.50,555.16 74.85,554.66 75.20,553.27 75.55,552.95 75.90,553.99 76.25,554.18 76.60,553.60 76.95,553.55 77.30,553.98 77.65,554.16 78.00,553.62 78.35,553.24 78.70,553.36 79.05,553.60 79.40,553.98 79.75,554.35 80.10,554.40 80.45,553.97 80.80,553.59 81.15,554.13 81.50,554.77 81.85,554.43 82.20,554.41 82.55,554.33 82.90,553.98 83.25,554.41 83.60,554.39 83.95,553.50 84.30,553.09 84.65,553.44 85.00,553.54 85.35,553.28 85.70,553.56 86.05,553.96 86.40,553.60 86.75,553.43 87.10,554.28 87.45,554.60 87.80,553.66 88.15,553.63 88.50,554.04 88.85,553.42 89.20,553.82 89.55,554.69 89.90,554.26 90.25,553.81 90.60,554.17 90.95,554.31 91.34,553.99 91.39,553.73 91.36,553.44 91.31,553.19 91.30,552.81 91.31,552.35 91.39,552.04 91.34,551.85 91.27,551.57 91.34,551.07 91.29,550.59 91.14,550.44 91.25,550.34 91.46,550.03 91.40,549.47 91.36,548.99 91.58,548.78 91.64,548.44 91.40,547.97 91.27,547.61 91.25,547.16 91.30,546.72 91.49,546.43 91.58,546.15 91.52,545.92 91.58,545.54 91.54,545.00 91.42,544.61 91.45,544.41 91.51,544.19 91.48,543.78 91.46,543.33 91.49,543.01 91.52,542.75 91.53,542.32 91.48,541.90 91.48,541.58 91.56,541.21 91.58,540.79 91.48,540.35 91.41,540.03 91.45,539.80 91.47,539.49 91.45,539.18 91.47,538.89 91.43,538.55 91.37,538.23 91.47,537.86 91.61,537.43 91.59,537.07 91.54,536.74 91.51,536.28 91.53,535.85 91.69,535.50 91.75,535.25 91.67,535.08 91.63,534.75 91.59,534.22 91.58,533.76 91.59,533.46 91.63,533.26 91.64,532.98 91.62,532.59 91.63,532.26 91.63,531.86 91.70,531.43 91.84,531.20 91.80,530.93 91.67,530.51 91.74,530.13 91.83,529.83 91.80,529.47 91.78,529.07 91.70,528.77 91.76,528.41 91.89,527.95 91.88,527.55 91.81,527.24 91.74,526.93 91.74,526.58 91.79,526.21 91.84,525.87 91.84,525.57 91.72,525.31 91.67,524.95 91.70,524.52 91.69,524.12 91.80,523.72 91.95,523.37 91.90,523.11 91.73,522.75 91.73,522.23 91.80,521.92 91.79,521.77 91.73,521.44 91.67,520.92 91.74,520.46 91.80,520.17 91.78,519.96 91.80,519.62 91.81,519.19 91.74,518.84 91.71,518.53 91.76,518.22 91.81,517.91 91.82,517.55 91.87,517.20 91.83,516.85 91.75,516.45 91.82,516.13 91.92,515.90 91.89,515.50 91.78,515.07 91.72,514.72 91.80,514.32 91.89,514.00 91.92,513.71 91.87,513.27 91.85,512.83 91.92,512.51 91.99,512.24 92.03,511.86 92.00,511.52 91.92,511.18 91.92,510.76 91.96,510.33 91.96,509.99 91.91,509.75 91.92,509.49 91.91,509.11 91.83,508.78 91.83,508.56 91.84,508.24 91.81,507.82 91.76,507.42 91.77,507.08 91.86,506.75 91.91,506.38 91.89,506.03 91.89,505.68 91.88,505.27 91.82,504.79 91.82,504.47 91.90,504.31 91.95,503.96 91.96,503.44 91.91,503.07 91.79,502.82 91.75,502.47 91.88,502.14 92.04,501.87 91.98,501.49 91.89,501.12 91.97,500.73 91.99,500.25 91.94,499.96 91.96,499.80 91.96,499.49 91.95,499.06 92.00,498.67 92.05,498.32 91.97,497.90 91.82,497.56 91.89,497.21 92.09,496.81 92.10,496.43 91.99,496.05 91.94,495.78 91.94,495.45 91.99,494.99 92.03,494.56 92.06,494.20 92.02,493.87 91.90,493.57 91.83,493.25 91.79,492.86 91.73,492.47 91.73,492.21 91.84,492.05 91.94,491.64 91.98,491.14 92.00,490.95 92.00,490.74 92.04,490.31 92.04,489.92 91.95,489.63 91.84,489.39 91.85,489.03 91.99,488.47 91.97,487.96 91.86,487.61 91.89,487.22 92.03,486.92 92.17,486.72 92.16,486.36 92.08,485.99 92.02,485.71 91.94,485.35 91.94,484.98 91.95,484.65 91.98,484.27 92.08,483.91 92.12,483.55 92.08,483.17 92.02,482.86 92.10,482.60 92.12,482.26 92.03,481.88 92.07,481.49 92.13,481.07 92.12,480.69 92.04,480.25 91.97,479.80 91.99,479.54 92.04,479.35 92.05,479.03 92.00,478.63 91.94,478.22 91.95,477.82 91.97,477.48 92.10,477.21 92.22,476.91 92.18,476.56 92.14,476.19 92.10,475.84 91.99,475.53 92.06,475.18 92.17,474.79 92.07,474.51 91.95,474.16 92.02,473.67 92.17,473.29 92.21,472.96 92.22,472.60 92.24,472.26 92.22,472.01 92.23,471.77 92.19,471.45 92.15,471.08 92.27,470.66 92.36,470.25 92.36,469.89 92.33,469.62 92.32,469.41 92.31,469.04 92.27,468.50 92.24,468.00 92.27,467.74 92.36,467.54 92.41,467.17 92.34,466.79 92.13,466.48 92.08,466.09 92.29,465.68 92.36,465.38 92.21,465.11 92.13,464.75 92.17,464.32 92.28,463.92 92.36,463.62 92.34,463.33 92.27,463.01 92.14,462.66 92.14,462.24 92.29,461.85 92.35,461.53 92.32,461.16 92.36,460.81 92.41,460.53 92.41,460.21 92.37,459.94 92.45,459.55 92.51,459.04 92.42,458.72 92.37,458.44 92.44,458.08 92.48,457.69 92.41,457.33 92.36,457.04 92.38,456.69 92.43,456.19 92.59,455.79 92.74,455.51 92.73,455.21 92.69,454.99 92.68,454.63 92.60,454.06 92.52,453.67 92.61,453.51 92.70,453.27 92.74,452.87 92.80,452.48 92.76,452.19 92.72,451.91 92.72,451.46 92.73,451.02 92.80,450.80 92.87,450.49 92.92,450.03 92.98,449.69 93.05,449.44 93.09,449.06 93.02,448.66 92.97,448.33 93.01,447.92 93.13,447.44 93.23,447.03 93.21,446.83 93.19,446.59 93.19,446.04 93.17,445.67 93.20,445.46 93.22,445.13 93.28,444.89 93.35,444.59 93.35,444.09 93.33,443.71 93.38,443.47 93.44,443.20 93.53,442.83 93.62,442.41 93.62,441.99 93.67,441.55 93.76,441.11 93.78,440.75 93.74,440.53 93.78,440.39 93.92,440.06 93.90,439.59 93.87,439.18 93.99,438.88 94.00,438.60 94.00,438.12 94.10,437.62 94.17,437.26 94.21,436.89 94.27,436.57 94.35,436.20 94.37,435.75 94.37,435.44 94.46,435.30 94.56,435.09 94.56,434.70 94.57,434.21 94.67,433.84 94.78,433.65 94.80,433.45 94.76,433.11 94.82,432.62 94.97,432.21 95.11,431.97 95.22,431.63 95.35,431.15 95.44,430.73 95.46,430.51 95.48,430.39 95.52,430.06 95.59,429.55 95.70,429.25 95.81,428.92 95.93,428.33 96.04,427.93 96.21,427.72 96.33,427.36 96.44,426.94 96.61,426.65 96.79,426.41 96.93,426.30 97.06,426.04 97.30,425.72 97.63,425.59 97.94,425.19 98.23,424.86 98.54,424.87 98.85,424.78 99.15,424.90 99.45,424.97 99.77,424.88 100.07,425.28 100.38,425.90 100.66,425.99 100.89,425.80 101.16,426.30 101.43,426.88 101.68,426.90 101.94,426.92 102.19,426.97 102.41,427.26 102.62,427.73 102.78,427.79 102.90,428.00 103.02,428.69 103.13,429.21 103.26,429.50 103.47,429.66 103.67,429.77 103.82,430.07 103.97,430.37 104.15,430.69 104.28,431.06 104.36,431.34 104.43,431.81 104.55,432.31 104.73,432.54 104.81,432.83 104.85,433.15 105.02,433.39 105.19,433.86 105.33,434.37 105.44,434.60 105.53,434.83 105.64,435.20 105.74,435.55 105.81,435.85 105.93,436.02 106.07,436.39 106.19,436.94 106.33,437.22 106.44,437.37 106.52,437.62 106.63,438.11 106.75,438.67 106.82,438.98 106.87,439.07 106.97,439.31 107.08,439.84 107.18,440.34 107.29,440.64 107.36,440.89 107.41,441.18 107.56,441.39 107.74,441.52 107.78,441.91 107.76,442.48 107.88,442.86 108.01,443.07 108.07,443.44 108.23,443.95 108.41,444.14 108.44,444.23 108.46,444.59 108.52,445.14 108.58,445.67 108.65,446.05 108.72,446.29 108.80,446.58 108.88,446.98 109.01,447.37 109.18,447.67 109.34,447.87 109.47,448.10 109.61,448.43 109.68,448.77 109.70,449.18 109.75,449.61 109.79,449.85 109.88,450.06 109.96,450.45 110.06,450.77 110.20,451.08 110.28,451.58 110.36,452.02 110.47,452.42 110.60,452.75 110.64,452.95 110.65,453.35 110.84,453.70 111.03,454.00 111.10,454.39 111.16,454.65 111.25,455.03 111.31,455.44 111.30,455.68 111.32,456.02 111.38,456.54 111.42,456.90 111.55,457.17 111.70,457.57 111.73,457.82 111.81,458.05 111.97,458.48 112.02,458.81 111.99,459.12 112.03,459.53 112.12,459.86 112.24,460.10 112.34,460.47 112.35,460.95 112.34,461.42 112.36,461.79 112.40,462.01 112.54,462.23 112.67,462.63 112.65,463.13 112.72,463.45 112.87,463.77 112.93,464.18 112.94,464.43 112.96,464.60 113.06,464.99 113.20,465.48 113.28,465.76 113.36,465.98 113.41,466.38 113.37,466.75 113.43,466.97 113.64,467.38 113.78,467.92 113.84,468.20 113.86,468.36 113.87,468.71 113.94,469.15 114.04,469.48 114.14,469.74 114.20,470.04 114.21,470.42 114.34,470.82 114.51,471.26 114.52,471.70 114.55,472.01 114.64,472.32 114.72,472.61 114.82,472.91 114.93,473.25 115.04,473.59 115.07,474.01 115.04,474.34 115.13,474.61 115.25,474.96 115.29,475.31 115.33,475.62 115.41,475.90 115.40,476.34 115.41,476.76 115.52,476.90 115.62,477.06 115.76,477.52 115.88,478.03 115.93,478.30 116.06,478.52 116.19,478.90 116.21,479.22 116.19,479.50 116.26,479.94 116.35,480.37 116.36,480.70 116.38,481.12 116.46,481.50 116.52,481.71 116.48,482.09 116.49,482.60 116.60,482.85 116.63,483.09 116.57,483.42 116.66,483.69 116.82,484.11 116.89,484.54 116.93,484.85 116.92,485.27 116.90,485.65 116.92,486.06 116.99,486.55 117.10,486.84 117.23,486.96 117.35,487.10 117.37,487.42 117.36,487.91 117.37,488.39 117.40,488.74 117.52,488.97 117.66,489.34 117.80,489.70 117.76,489.96 117.71,490.40 117.81,490.86 117.90,491.15 117.95,491.48 118.01,491.86 118.03,492.24 118.11,492.56 118.26,492.83 118.37,493.12 118.42,493.51 118.52,493.87 118.63,494.23 118.63,494.55 118.70,494.80 118.86,495.29 118.89,495.81 118.86,496.07 118.89,496.37 118.98,496.81 119.07,497.25 119.20,497.60 119.28,497.84 119.27,498.03 119.35,498.30 119.49,498.63 119.54,498.94 119.54,499.30 119.57,499.65 119.70,500.02 119.79,500.45 119.80,500.85 119.88,501.14 119.99,501.43 120.01,501.90 120.08,502.41 120.19,502.71 120.21,502.98 120.22,503.36 120.32,503.76 120.43,504.04 120.49,504.20 120.57,504.50 120.62,504.98 120.64,505.46 120.68,505.74 120.75,505.97 120.83,506.35 120.83,506.69 120.89,506.93 121.00,507.14 121.06,507.37 121.16,507.71 121.18,508.26 121.11,508.82 121.17,509.20 121.29,509.51 121.34,509.80 121.39,510.15 121.44,510.56 121.45,510.87 121.54,511.20 121.69,511.49 121.79,511.72 121.78,512.09 121.69,512.50 121.70,512.89 121.82,513.27 122.01,513.59 122.11,513.92 122.06,514.25 122.15,514.58 122.27,514.94 122.32,515.22 122.40,515.49 122.37,515.86 122.33,516.29 122.42,516.73 122.53,517.14 122.59,517.47 122.70,517.83 122.80,518.15 122.84,518.44 122.91,518.77 123.02,518.92 123.12,519.00 123.16,519.34 123.21,519.95 123.34,520.45 123.56,520.58 123.71,520.83 123.73,521.50 123.76,521.91 123.92,522.04 124.11,522.45 124.24,522.86 124.32,522.98 124.46,523.23 124.66,523.73 124.76,524.14 124.86,524.41 125.06,524.73 125.23,525.08 125.36,525.40 125.52,525.62 125.67,525.64 125.81,525.78 125.98,526.19 126.13,526.44 126.28,526.78 126.48,527.35 126.68,527.70 126.90,527.94 127.15,528.15 127.37,528.47 127.59,528.84 127.80,529.07 128.00,529.24 128.26,529.46 128.55,529.95 128.78,530.56 129.02,530.69 129.29,530.53 129.53,530.60 129.75,530.98 129.96,531.61 130.22,531.87 130.51,531.74 130.78,531.72 131.05,531.95 131.29,532.31 131.53,532.61 131.78,532.87 132.05,533.04 132.32,533.22 132.59,533.60 132.87,533.98 133.16,534.11 133.44,534.20 133.70,534.67 133.97,535.08 134.27,535.03 134.58,534.88 134.87,535.02 135.16,535.40 135.45,535.78 135.75,536.00 136.06,535.92 136.36,535.83 136.67,536.16 136.96,536.50 137.23,536.72 137.51,537.13 137.82,537.33 138.16,537.29 138.44,537.45 138.71,537.52 139.02,537.61 139.31,538.17 139.60,538.75 139.91,538.80 140.22,538.81 140.53,539.08 140.83,539.20 141.14,539.15 141.45,539.00 141.76,538.92 142.09,539.23 142.39,539.61 142.71,539.81 143.04,540.01 143.36,539.97 143.68,540.12 144.02,540.30 144.35,540.02 144.67,539.96 144.99,540.60 145.31,541.42 145.63,541.43 145.95,541.02 146.28,541.11 146.62,541.52 146.94,541.87 147.25,541.82 147.59,541.90 147.92,542.48 148.24,542.46 148.57,542.27 148.89,542.67 149.22,543.03 149.55,542.89 149.87,542.60 150.20,542.63 150.53,542.76 150.87,542.88 151.20,543.13 151.53,543.20 151.87,543.27 152.20,543.54 152.54,543.62 152.88,543.67 153.22,543.79 153.56,543.99 153.90,544.11 154.23,544.12 154.57,544.21 154.92,544.21 155.26,544.26 155.60,544.23 155.94,543.86 156.29,543.62 156.63,543.87 156.97,544.19 157.31,544.61 157.65,544.91 158.00,544.80 158.34,545.23 158.69,545.53 159.03,545.11 159.38,545.18 159.72,545.45 160.06,545.36 160.40,545.43 160.75,545.89 161.09,546.02 161.44,545.62 161.78,545.58 162.13,546.02 162.47,546.54 162.82,546.81 163.16,546.70 163.51,546.34 163.85,546.05 164.20,545.89 164.55,545.68 164.89,545.71 165.24,546.14 165.59,546.44 165.94,546.09 166.28,545.79 166.63,546.46 166.98,547.00 167.32,546.43 167.67,546.19 168.02,546.48 168.37,546.34 168.71,546.40 169.06,546.55 169.41,546.27 169.75,546.24 170.10,546.39 170.45,546.40 170.80,546.74 171.15,546.80 171.49,546.62 171.84,546.68 172.19,546.61 172.54,546.65 172.89,546.53 173.23,546.35 173.58,546.67 173.93,547.16 174.27,547.49 174.62,547.33 174.97,546.96 175.32,546.67 175.67,546.67 176.01,547.22 176.36,547.44 176.71,547.25 177.06,546.92 177.41,546.75 177.75,547.26 178.10,547.59 178.45,547.71 178.80,547.89 179.15,547.63 179.50,547.62 179.84,547.94 180.19,547.66 180.54,547.01 180.89,546.79 181.24,547.18 181.59,547.38 181.93,547.45 182.28,547.54 182.63,547.36 182.98,547.60 183.33,548.14 183.68,548.36 184.03,548.14 184.38,548.12 184.73,548.64 185.07,548.84 185.42,548.30 185.77,547.95 186.12,547.97 186.47,548.08 186.82,548.51 187.17,548.39 187.52,548.30 187.86,548.52 188.21,548.29 188.56,548.36 188.91,548.29 189.26,547.79 189.61,547.32 189.96,547.40 190.31,547.92 190.66,548.27 191.01,548.62 191.36,548.68 191.71,548.93 192.06,548.94 192.41,548.23 192.75,548.14 193.10,548.50 193.45,548.67 193.80,548.50 194.15,548.16 194.50,548.11 194.85,548.07 195.20,548.12 195.55,548.20 195.90,548.08 196.25,548.55 196.60,548.95 196.95,548.72 197.30,548.74 197.65,549.13 198.00,549.33 198.35,549.09 198.70,548.81 199.05,548.82 199.40,548.71 199.75,548.77 200.09,548.85 200.44,548.44 200.79,548.21 201.14,547.93 201.49,548.12 201.84,549.12 202.19,549.44 202.54,548.91 202.89,548.50 203.24,548.83 203.59,548.83 203.94,548.47 204.29,548.93 204.64,549.63 204.99,549.60 205.34,549.36 205.69,549.59 206.03,549.52 206.38,549.40 206.73,549.89 207.08,550.25 207.43,550.27 207.78,550.07 208.13,549.68 208.48,549.63 208.83,549.41 209.18,548.90 209.53,549.09 209.88,549.48 210.23,549.84 210.58,550.16 210.93,549.93 211.28,549.57 211.63,549.43 211.98,549.11 212.32,548.78 212.67,548.83 213.02,548.71 213.37,548.88 213.72,549.35 214.07,549.04 214.42,548.51 214.77,548.81 215.12,549.87 215.47,550.35 215.82,549.87 216.17,549.56 216.52,549.77 216.87,549.86 217.22,549.74 217.57,549.35 217.92,548.99 218.26,549.23 218.61,549.42 218.96,549.43 219.31,549.27 219.66,549.12 220.01,549.61 220.36,549.57 220.71,548.70 221.06,548.97 221.41,549.68 221.76,549.55 222.11,549.90 222.46,550.62 222.81,550.63 223.16,549.87 223.51,549.27 223.86,549.20 224.21,549.02 224.56,548.77 224.91,548.93 225.25,549.30 225.60,549.70 225.95,550.21 226.30,550.33 226.65,549.68 227.00,549.28 227.35,549.71 227.70,549.52 228.05,548.98 228.40,549.16 228.75,549.50 229.10,549.85 229.45,550.42 229.80,550.56 230.15,550.06 230.50,549.69 230.85,549.47 231.20,549.28 231.55,549.33 231.90,549.82 232.25,550.17 232.60,550.30 232.94,550.54 233.29,550.49 233.64,550.34 233.99,550.12 234.34,550.36 234.69,550.60 235.04,550.21 235.39,549.86 235.74,549.53 236.09,549.88 236.44,550.88 236.79,551.35 237.14,550.97 237.49,550.37 237.84,550.04 238.19,550.01 238.54,550.17 238.89,550.52 239.24,550.58 239.59,549.95 239.94,549.91 240.29,550.64 240.64,550.65 240.99,550.18 241.34,550.21 241.69,550.40 242.03,550.14 242.38,549.97 242.73,550.36 243.08,550.44 243.43,549.98 243.78,550.06 244.13,550.11 244.48,549.66 244.83,550.05 245.18,550.48 245.53,550.31 245.88,550.86 246.23,551.49 246.58,550.89 246.93,550.56 247.28,551.21 247.63,551.38 247.98,551.10 248.33,550.64 248.68,550.16 249.03,550.19 249.38,550.71 249.73,551.42 250.08,551.29 250.43,550.66 250.78,550.65 251.13,551.05 251.48,551.34 251.83,550.91 252.18,550.47 252.53,550.53 252.87,550.18 253.22,549.76 253.57,549.72 253.92,550.22 254.27,550.78 254.62,550.95 254.97,551.23 255.32,551.17 255.67,550.58 256.02,550.58 256.37,551.17 256.72,551.38 257.07,551.44 257.42,551.28 257.77,550.60 258.12,550.31 258.47,550.46 258.82,550.32 259.17,550.06 259.52,550.10 259.87,550.33 260.22,550.58 260.57,550.89 260.92,551.26 261.27,551.38 261.62,551.11 261.97,550.94 262.32,550.97 262.67,550.94 263.02,550.77 263.37,550.57 263.72,550.37 264.07,550.42 264.42,550.94 264.76,551.13 265.11,550.68 265.46,550.04 265.81,549.90 266.16,549.85 266.51,549.98 266.86,550.88 267.21,551.23 267.56,551.12 267.91,550.83 268.26,550.00 268.61,550.17 268.96,551.16 269.31,551.29 269.66,550.98 270.01,550.97 270.36,550.83 270.71,550.51 271.06,550.27 271.41,550.26 271.76,550.53 272.11,550.89 272.46,550.79 272.81,550.30 273.16,550.36 273.51,550.47 273.86,550.35 274.21,550.85 274.56,551.78 274.91,551.49 275.26,550.58 275.61,550.50 275.96,550.12 276.30,549.82 276.65,549.92 277.00,550.32 277.35,551.40 277.70,551.41 278.05,550.58 278.40,550.83 278.75,551.07 279.10,550.67 279.45,550.55 279.80,550.62 280.15,550.47 280.50,550.35 280.85,550.62 281.20,550.93 281.55,550.74 281.90,550.60 282.25,550.67 282.60,550.32 282.95,550.06 283.30,549.84 283.65,549.87 284.00,550.39 284.35,550.86 284.70,551.22 285.05,551.25 285.40,551.05 285.75,550.60 286.10,550.58 286.45,550.90 286.80,550.63 287.15,550.44 287.50,551.01 287.85,551.54 288.20,551.49 288.55,551.71 288.89,552.13 289.24,551.64 289.59,550.97 289.94,550.70 290.29,550.44 290.64,550.91 290.99,551.67 291.34,551.28 291.69,550.46 292.04,550.13 292.39,550.66 292.74,551.49 293.09,551.00 293.44,550.73 293.79,551.45 294.14,551.18 294.49,550.42 294.84,550.18 295.19,550.30 295.54,550.67 295.89,551.01 296.24,550.99 296.59,550.63 296.94,550.70 297.29,551.37 297.64,552.12 297.99,552.45 298.34,551.74 298.69,550.72 299.04,550.80 299.39,551.09 299.74,550.55 300.09,549.97 300.44,550.08 300.79,550.55 301.14,550.67 301.49,550.48 301.83,550.53 302.18,550.80 302.53,550.55 302.88,550.14 303.23,550.05 303.58,550.40 303.93,551.20 304.28,551.37 304.63,550.78 304.98,551.05 305.33,552.01 305.68,552.22 306.03,552.04 306.38,551.70 306.73,551.35 307.08,551.60 307.43,552.31 307.78,552.46 308.13,551.80 308.48,551.52 308.83,551.79 309.18,551.70 309.53,551.17 309.88,550.74 310.23,551.10 310.58,551.65 310.93,551.31 311.28,550.91 311.63,550.72 311.98,550.71 312.33,551.16 312.68,551.40 313.03,551.71 313.38,551.89 313.73,551.47 314.08,551.08 314.43,551.15 314.77,551.57 315.12,551.86 315.47,552.15 315.82,551.89 316.17,551.37 316.52,551.38 316.87,550.82 317.22,550.09 317.57,550.50 317.92,551.39 318.27,551.50 318.62,551.26 318.97,551.47 319.32,551.58 319.67,551.07 320.02,550.73 320.37,550.70 320.72,551.20 321.07,551.88 321.42,551.77 321.77,551.64 322.12,551.57 322.47,550.95 322.82,550.37 323.17,550.40 323.52,551.08 323.87,551.69 324.22,551.44 324.57,551.09 324.92,551.05 325.27,551.18 325.62,551.68 325.97,551.65 326.32,551.49 326.67,551.60 327.02,551.23 327.37,551.16 327.71,551.44 328.06,551.79 328.41,551.88 328.76,551.59 329.11,551.14 329.46,550.43 329.81,550.35 330.16,551.05 330.51,551.33 330.86,551.29 331.21,551.72 331.56,551.56 331.91,550.88 332.26,551.53 332.61,552.23 332.96,551.71 333.31,551.31 333.66,551.45 334.01,551.12 334.36,550.67 334.71,551.02 335.06,551.41 335.41,551.40 335.76,551.20 336.11,551.25 336.46,551.70 336.81,551.83 337.16,551.59 337.51,551.26 337.86,550.98 338.21,551.19 338.56,551.93 338.91,552.10 339.26,551.44 339.61,551.13 339.96,551.30 340.31,551.34 340.65,551.33 341.00,551.33 341.35,551.46 341.70,551.90 342.05,551.73 342.40,551.32 342.75,551.43 343.10,551.61 343.45,551.84 343.80,551.94 344.15,551.51 344.50,550.82 344.85,550.54 345.20,550.65 345.55,551.06 345.90,551.35 346.25,551.00 346.60,550.99 346.95,551.73 347.30,551.76"/>
<path d="M55.60,554.24 55.95,553.84 56.30,553.13 56.65,553.80 57.00,554.46 57.35,554.23 57.70,553.86 58.05,553.42 58.40,552.77 58.75,552.48 59.10,552.46 59.45,553.10 59.80,554.41 60.15,555.27 60.50,555.01 60.85,554.28 61.20,554.08 61.55,554.15 61.90,554.27 62.25,554.09 62.60,554.03 62.95,554.36 63.30,554.01 63.65,553.62 64.00,553.66 64.35,553.29 64.70,553.05 65.05,553.72 65.40,554.47 65.75,554.51 66.10,554.56 66.45,554.72 66.80,554.09 67.15,553.20 67.50,553.43 67.85,554.76 68.20,555.46 68.55,554.71 68.90,553.87 69.25,553.69 69.60,553.79 69.95,554.29 70.30,554.27 70.65,553.91 71.00,554.00 71.35,554.43 71.70,555.16 72.05,554.74 72.40,553.91 72.75,553.73 73.10,553.85 73.45,554.46 73.80,554.28 74.15,553.86 74.50,554.57 74.85,555.35 75.20,555.02 75.55,554.46 75.90,554.34 76.25,554.35 76.60,554.39 76.95,553.99 77.30,553.72 77.65,554.18 78.00,554.70 78.35,554.47 78.70,553.69 79.05,553.56 79.40,554.14 79.75,554.26 80.10,554.12 80.45,554.16 80.80,554.29 81.15,553.92 81.50,552.92 81.85,552.78 82.20,553.15 82.55,553.39 82.90,554.06 83.25,554.60 83.60,554.89 83.95,554.94 84.30,554.47 84.65,554.04 85.00,554.34 85.35,554.92 85.70,554.94 86.05,554.49 86.40,553.96 86.75,553.67 87.10,553.67 87.45,554.08 87.80,554.86 88.15,554.96 88.50,554.19 88.85,553.99 89.20,554.69 89.55,555.13 89.90,554.47 90.25,553.28 90.60,553.43 90.95,554.78 91.30,554.89 91.65,554.13 91.83,554.11 91.97,553.82 92.00,553.41 91.72,553.06 91.55,552.80 91.74,552.32 91.93,551.96 91.95,551.83 91.92,551.56 91.72,551.23 91.50,550.87 91.48,550.59 91.47,550.28 91.49,549.85 91.74,549.41 91.97,548.96 91.98,548.49 91.95,548.03 91.91,547.72 91.94,547.34 92.06,546.99 92.08,546.82 91.89,546.56 91.79,546.12 91.97,545.69 92.07,545.51 91.89,545.35 91.82,544.85 91.93,544.34 91.94,544.06 91.90,543.72 91.91,543.26 91.90,542.90 91.90,542.54 92.03,542.18 92.12,541.99 92.01,541.73 91.91,541.36 91.95,541.04 92.00,540.63 92.03,540.15 92.07,539.84 92.07,539.59 92.07,539.22 92.04,538.80 92.02,538.46 92.12,538.18 92.20,537.90 92.18,537.50 92.22,537.00 92.30,536.64 92.32,536.35 92.28,536.03 92.15,535.65 92.03,535.27 92.00,534.91 92.02,534.48 92.08,534.09 92.17,533.80 92.21,533.57 92.20,533.33 92.19,532.93 92.15,532.45 92.11,532.14 92.13,531.89 92.24,531.56 92.27,531.28 92.20,530.91 92.29,530.42 92.35,530.02 92.31,529.68 92.38,529.31 92.41,528.98 92.33,528.72 92.31,528.45 92.30,528.02 92.31,527.57 92.34,527.26 92.34,526.86 92.31,526.38 92.36,526.00 92.51,525.71 92.56,525.47 92.52,525.16 92.48,524.71 92.41,524.34 92.39,524.09 92.48,523.76 92.54,523.42 92.46,523.14 92.41,522.79 92.56,522.33 92.67,521.88 92.52,521.51 92.39,521.21 92.53,521.03 92.65,520.80 92.58,520.36 92.53,519.89 92.54,519.52 92.49,519.13 92.39,518.75 92.41,518.48 92.52,518.21 92.59,517.82 92.57,517.42 92.51,517.07 92.49,516.71 92.47,516.30 92.48,515.95 92.55,515.70 92.68,515.31 92.75,514.86 92.65,514.61 92.59,514.45 92.56,514.13 92.54,513.70 92.68,513.33 92.73,512.95 92.63,512.65 92.68,512.32 92.80,511.85 92.75,511.40 92.65,511.10 92.71,510.93 92.81,510.63 92.75,510.16 92.69,509.73 92.81,509.38 92.86,509.05 92.69,508.74 92.66,508.48 92.83,508.16 92.89,507.72 92.91,507.22 92.86,506.82 92.69,506.59 92.70,506.40 92.83,506.04 92.84,505.64 92.80,505.33 92.81,504.93 92.84,504.55 92.79,504.31 92.80,503.94 92.94,503.43 92.97,503.10 92.94,502.91 92.92,502.65 92.89,502.22 92.99,501.70 93.09,501.37 93.02,501.09 92.91,500.70 92.88,500.33 92.89,500.00 92.90,499.63 92.93,499.16 92.96,498.76 92.97,498.55 92.97,498.44 92.94,498.19 92.98,497.74 92.97,497.19 92.97,496.77 93.08,496.48 93.07,496.09 93.07,495.72 93.15,495.41 93.09,495.08 93.03,494.81 93.21,494.45 93.26,493.98 93.15,493.58 93.15,493.29 93.14,493.02 93.08,492.70 93.13,492.33 93.23,491.90 93.21,491.47 93.07,491.15 93.04,490.90 93.14,490.58 93.22,490.14 93.14,489.68 93.07,489.34 93.12,489.09 93.21,488.82 93.27,488.41 93.27,488.00 93.24,487.69 93.21,487.44 93.18,487.15 93.17,486.73 93.18,486.31 93.27,486.00 93.41,485.62 93.39,485.16 93.31,484.81 93.30,484.48 93.37,484.15 93.53,483.90 93.53,483.67 93.40,483.33 93.43,482.87 93.48,482.45 93.39,482.16 93.40,481.80 93.45,481.29 93.45,480.96 93.43,480.83 93.41,480.54 93.51,480.14 93.56,479.83 93.47,479.55 93.54,479.13 93.62,478.60 93.53,478.31 93.50,478.08 93.47,477.66 93.43,477.17 93.56,476.83 93.68,476.70 93.67,476.35 93.60,475.75 93.49,475.38 93.44,475.20 93.42,474.88 93.47,474.40 93.65,474.02 93.73,473.85 93.72,473.49 93.75,472.97 93.71,472.66 93.61,472.40 93.53,472.08 93.53,471.78 93.61,471.42 93.75,471.03 93.92,470.60 93.97,470.25 93.90,470.00 93.83,469.61 93.86,469.25 93.85,469.00 93.74,468.62 93.78,468.11 93.84,467.66 93.85,467.44 93.95,467.21 93.97,466.75 93.93,466.35 93.90,466.20 93.89,465.98 93.91,465.58 93.89,465.09 93.88,464.56 93.97,464.14 94.01,463.84 93.97,463.66 94.04,463.29 94.10,462.82 94.02,462.60 94.01,462.31 94.04,461.85 93.97,461.54 93.98,461.24 94.07,460.80 94.02,460.50 93.98,460.24 94.04,459.83 94.12,459.43 94.18,459.11 94.14,458.82 94.14,458.54 94.17,458.14 94.18,457.63 94.27,457.27 94.35,457.04 94.39,456.72 94.43,456.33 94.41,456.00 94.29,455.56 94.17,455.09 94.25,454.74 94.34,454.45 94.29,454.15 94.34,453.83 94.48,453.51 94.52,453.21 94.48,452.78 94.46,452.35 94.42,452.11 94.36,451.79 94.41,451.37 94.45,451.04 94.43,450.74 94.38,450.40 94.38,450.03 94.52,449.67 94.65,449.45 94.63,449.08 94.54,448.59 94.53,448.25 94.61,447.84 94.74,447.41 94.84,447.12 94.85,446.82 94.90,446.48 94.94,446.23 94.88,445.87 94.88,445.30 94.90,444.88 94.81,444.68 94.81,444.42 94.99,444.11 95.09,443.80 95.02,443.35 95.00,442.86 95.05,442.53 95.14,442.22 95.19,441.84 95.17,441.49 95.15,441.23 95.13,440.89 95.10,440.43 95.19,440.12 95.27,439.98 95.31,439.69 95.41,439.23 95.45,438.73 95.53,438.42 95.58,438.19 95.44,437.83 95.42,437.58 95.55,437.23 95.71,436.61 95.88,436.20 95.94,435.94 95.92,435.55 95.96,435.22 95.96,434.99 96.00,434.67 96.08,434.25 96.05,433.96 96.11,433.64 96.29,433.13 96.38,432.79 96.42,432.66 96.45,432.26 96.50,431.63 96.72,431.34 96.90,431.31 96.97,430.95 97.07,430.48 97.22,430.21 97.38,429.99 97.51,429.85 97.72,429.78 98.03,429.41 98.31,428.78 98.57,428.54 98.83,428.93 99.13,429.50 99.42,429.53 99.69,429.34 99.97,429.65 100.19,430.21 100.38,430.77 100.60,431.04 100.81,431.00 100.98,431.17 101.13,431.66 101.33,432.09 101.55,432.29 101.74,432.45 101.83,432.85 101.90,433.33 102.01,433.69 102.15,433.93 102.24,434.11 102.29,434.43 102.41,434.73 102.57,434.94 102.74,435.40 102.93,435.94 103.02,436.26 103.09,436.50 103.18,436.87 103.20,437.28 103.20,437.49 103.28,437.74 103.47,438.10 103.64,438.36 103.69,438.84 103.66,439.47 103.75,439.81 103.91,440.10 103.96,440.45 104.00,440.76 104.14,441.07 104.30,441.41 104.40,441.65 104.49,441.90 104.61,442.32 104.71,442.75 104.83,443.18 104.93,443.61 105.00,443.85 105.03,444.00 105.11,444.43 105.27,444.88 105.38,445.02 105.45,445.22 105.47,445.57 105.53,445.89 105.70,446.34 105.84,446.82 105.94,447.09 106.06,447.32 106.15,447.74 106.18,448.18 106.16,448.34 106.26,448.60 106.45,449.09 106.53,449.42 106.59,449.84 106.66,450.23 106.66,450.51 106.75,450.89 106.91,451.08 106.96,451.27 106.98,451.72 107.01,452.07 107.02,452.46 107.03,452.97 106.99,453.18 107.05,453.37 107.23,453.87 107.30,454.40 107.23,454.73 107.20,454.96 107.26,455.24 107.37,455.55 107.55,455.89 107.60,456.35 107.52,456.82 107.56,457.15 107.66,457.44 107.72,457.91 107.79,458.34 107.79,458.57 107.76,458.82 107.85,459.15 107.98,459.50 108.06,459.87 108.14,460.12 108.26,460.34 108.41,460.65 108.55,461.04 108.63,461.47 108.64,461.76 108.66,462.14 108.75,462.65 108.87,463.00 108.96,463.26 109.07,463.53 109.19,463.83 109.28,464.19 109.35,464.59 109.40,465.05 109.46,465.34 109.56,465.46 109.66,465.89 109.72,466.32 109.66,466.54 109.58,466.94 109.62,467.36 109.83,467.65 109.96,467.92 109.91,468.16 109.86,468.45 109.89,468.87 109.91,469.28 109.94,469.70 110.05,470.18 110.13,470.56 110.25,470.90 110.30,471.15 110.21,471.36 110.21,471.73 110.26,472.10 110.34,472.49 110.51,472.94 110.61,473.29 110.63,473.56 110.63,473.88 110.64,474.15 110.72,474.56 110.82,475.09 110.85,475.49 110.85,475.84 110.88,476.17 110.86,476.38 110.93,476.65 111.11,477.07 111.14,477.54 111.10,477.89 111.13,478.12 111.19,478.45 111.27,478.88 111.40,479.21 111.47,479.45 111.41,479.71 111.40,480.09 111.49,480.49 111.56,480.85 111.55,481.23 111.57,481.63 111.69,481.91 111.77,482.18 111.79,482.53 111.81,482.95 111.88,483.34 111.91,483.70 111.94,484.00 112.01,484.32 112.09,484.68 112.14,484.84 112.19,485.12 112.19,485.68 112.18,486.08 112.21,486.30 112.30,486.68 112.44,487.17 112.50,487.51 112.50,487.71 112.53,488.04 112.57,488.53 112.61,489.04 112.58,489.39 112.54,489.61 112.62,489.84 112.77,490.12 112.83,490.38 112.79,490.60 112.79,491.02 112.84,491.61 112.89,491.98 112.89,492.28 112.82,492.68 112.89,492.98 113.07,493.23 113.18,493.57 113.21,494.04 113.17,494.48 113.22,494.83 113.31,495.25 113.40,495.61 113.39,495.89 113.26,496.11 113.24,496.39 113.38,496.79 113.54,497.15 113.51,497.60 113.37,497.98 113.39,498.19 113.56,498.42 113.64,498.81 113.66,499.22 113.67,499.42 113.68,499.61 113.80,500.08 113.93,500.67 113.96,501.01 113.98,501.21 114.04,501.54 114.04,502.04 113.99,502.46 114.09,502.61 114.26,502.86 114.35,503.34 114.42,503.73 114.48,504.07 114.61,504.46 114.79,504.76 114.85,504.99 114.87,505.32 114.95,505.71 114.93,506.11 114.82,506.56 114.90,506.94 115.14,507.23 115.29,507.60 115.30,507.93 115.32,508.05 115.35,508.27 115.46,508.77 115.61,509.30 115.64,509.58 115.69,509.77 115.78,510.17 115.84,510.60 115.91,511.00 115.99,511.42 116.06,511.73 116.07,512.04 116.11,512.29 116.29,512.54 116.40,512.93 116.39,513.31 116.45,513.59 116.53,513.89 116.55,514.36 116.63,514.76 116.74,515.03 116.78,515.41 116.79,515.85 116.88,516.22 116.99,516.56 116.92,516.85 116.84,517.13 116.94,517.54 117.07,517.91 117.18,518.20 117.32,518.56 117.36,518.98 117.26,519.36 117.29,519.62 117.46,519.85 117.56,520.13 117.58,520.50 117.62,521.00 117.71,521.32 117.91,521.45 118.07,521.80 118.12,522.31 118.18,522.64 118.31,522.82 118.43,523.10 118.52,523.56 118.60,524.02 118.65,524.34 118.70,524.60 118.81,524.93 118.95,525.23 119.08,525.59 119.22,526.02 119.35,526.36 119.49,526.71 119.61,527.01 119.77,527.18 119.95,527.47 120.08,527.87 120.18,528.33 120.30,528.78 120.42,529.03 120.58,529.13 120.77,529.30 120.96,529.70 121.12,530.06 121.29,530.14 121.49,530.44 121.62,531.03 121.70,531.38 121.88,531.54 122.13,531.79 122.38,532.07 122.61,532.47 122.82,532.96 123.05,533.40 123.27,533.83 123.45,534.02 123.66,534.00 123.90,534.18 124.15,534.55 124.39,534.80 124.62,535.04 124.86,535.32 125.11,535.43 125.36,535.61 125.58,535.93 125.82,536.09 126.09,536.30 126.36,536.59 126.61,536.60 126.86,536.91 127.12,537.64 127.41,537.83 127.70,537.75 128.00,537.93 128.30,538.05 128.59,538.05 128.89,538.10 129.20,538.35 129.50,538.92 129.79,539.48 130.12,539.64 130.44,539.69 130.74,539.87 131.04,539.99 131.35,540.26 131.67,540.39 131.99,540.22 132.31,540.25 132.63,540.32 132.95,540.41 133.27,540.81 133.59,541.32 133.91,541.41 134.23,541.17 134.56,541.43 134.88,541.79 135.19,541.61 135.51,541.80 135.84,542.23 136.17,542.21 136.50,542.21 136.83,542.04 137.16,541.94 137.48,542.12 137.80,541.92 138.14,542.15 138.48,542.96 138.81,543.17 139.15,543.12 139.48,543.44 139.82,543.66 140.16,543.33 140.49,542.87 140.83,543.09 141.16,543.66 141.50,543.92 141.84,543.91 142.17,543.80 142.50,543.68 142.84,543.66 143.18,544.07 143.52,544.56 143.86,544.38 144.20,543.78 144.54,543.69 144.87,544.22 145.21,544.91 145.55,545.47 145.89,545.22 146.22,544.60 146.56,544.85 146.90,545.55 147.23,545.41 147.57,545.06 147.91,545.44 148.25,545.87 148.59,545.91 148.93,545.84 149.27,546.00 149.61,546.22 149.96,546.30 150.30,546.47 150.64,546.57 150.98,546.39 151.32,546.27 151.66,546.55 152.01,546.62 152.35,546.18 152.70,546.11 153.04,546.60 153.39,546.72 153.73,546.53 154.07,546.99 154.42,547.11 154.77,546.51 155.11,546.69 155.46,547.07 155.80,547.02 156.15,547.08 156.49,547.19 156.84,547.07 157.19,547.11 157.53,547.73 157.88,548.04 158.22,547.72 158.57,547.80 158.92,547.75 159.26,547.19 159.61,547.01 159.96,547.13 160.30,547.51 160.65,547.78 161.00,547.78 161.35,548.33 161.70,548.46 162.05,547.82 162.39,547.82 162.74,547.89 163.09,547.19 163.44,546.93 163.79,547.36 164.14,547.59 164.49,547.64 164.84,547.59 165.18,547.55 165.53,547.72 165.88,548.14 166.23,548.45 166.58,548.41 166.93,548.12 167.27,548.13 167.62,548.80 167.97,549.26 168.32,549.10 168.66,548.49 169.01,548.19 169.36,548.26 169.71,548.13 170.06,548.23 170.40,548.41 170.75,548.17 171.10,548.15 171.44,548.41 171.79,548.35 172.14,548.47 172.49,548.34 172.84,548.16 173.18,548.72 173.53,549.32 173.88,549.91 174.23,549.78 174.57,548.57 174.92,548.02 175.27,548.77 175.62,549.34 175.97,549.51 176.32,549.77 176.67,549.37 177.01,548.85 177.36,548.98 177.71,549.44 178.06,549.59 178.41,549.27 178.76,549.34 179.11,549.54 179.45,549.38 179.80,549.53 180.15,549.89 180.50,549.97 180.85,549.76 181.20,549.15 181.55,548.67 181.90,548.83 182.25,549.33 182.59,549.63 182.94,549.40 183.29,549.16 183.64,549.40 183.99,549.65 184.34,549.83 184.69,550.22 185.04,550.29 185.39,549.91 185.73,549.98 186.08,550.49 186.43,550.57 186.78,550.48 187.13,550.26 187.48,549.82 187.83,549.67 188.18,549.95 188.53,550.38 188.88,550.07 189.23,549.61 189.58,549.67 189.92,549.46 190.27,549.82 190.62,550.56 190.97,550.39 191.32,549.67 191.67,549.45 192.02,550.02 192.37,550.24 192.72,549.89 193.07,549.51 193.42,549.60 193.77,549.66 194.12,549.64 194.47,550.38 194.82,550.58 195.16,549.89 195.51,549.80 195.86,550.25 196.21,550.26 196.56,550.06 196.91,550.00 197.26,549.66 197.61,549.75 197.96,550.57 198.31,550.58 198.66,550.07 199.01,550.30 199.36,550.95 199.71,551.53 200.06,551.77 200.40,551.42 200.75,551.01 201.10,550.87 201.45,550.36 201.80,550.51 202.15,551.11 202.50,551.00 202.85,550.95 203.20,550.64 203.55,550.74 203.90,550.98 204.25,550.32 204.60,550.46 204.95,550.81 205.30,550.32 205.65,549.95 206.00,550.58 206.34,551.06 206.69,550.20 207.04,549.85 207.39,550.13 207.74,550.33 208.09,550.68 208.44,550.52 208.79,550.43 209.14,550.54 209.49,550.57 209.84,550.54 210.19,550.32 210.54,550.71 210.89,551.45 211.24,551.25 211.59,550.24 211.94,550.43 212.29,551.70 212.64,551.38 212.99,550.54 213.34,551.05 213.69,551.44 214.04,551.63 214.39,551.77 214.74,551.45 215.08,551.19 215.43,551.33 215.78,551.78 216.13,551.98 216.48,551.90 216.83,551.30 217.18,550.63 217.53,550.80 217.88,551.16 218.23,551.07 218.58,550.71 218.93,550.57 219.28,550.50 219.63,550.56 219.98,550.86 220.33,551.22 220.68,551.50 221.03,550.85 221.38,550.30 221.73,551.12 222.08,552.02 222.43,551.83 222.78,551.05 223.13,550.80 223.48,551.10 223.83,551.26 224.18,550.71 224.53,550.53 224.88,551.43 225.23,551.50 225.58,550.85 225.93,550.84 226.28,550.81 226.63,550.79 226.98,550.91 227.33,550.80 227.68,551.13 228.03,551.77 228.38,552.27 228.73,552.38 229.08,551.94 229.43,551.76 229.77,551.61 230.12,550.81 230.47,550.17 230.82,550.11 231.17,550.37 231.52,551.36 231.87,552.26 232.22,552.52 232.57,552.58 232.92,552.51 233.27,552.86 233.62,552.92 233.97,552.63 234.32,552.36 234.67,551.43 235.02,550.98 235.37,551.82 235.72,552.49 236.07,552.36 236.42,552.05 236.77,551.62 237.12,551.46 237.47,551.89 237.82,551.95 238.17,551.83 238.52,552.46 238.87,552.22 239.22,551.19 239.57,551.03 239.92,550.99 240.27,551.13 240.62,551.71 240.97,552.07 241.32,552.18 241.67,552.13 242.02,551.74 242.37,551.44 242.72,551.55 243.07,551.70 243.42,551.82 243.77,551.76 244.12,551.29 244.46,551.00 244.81,551.31 245.16,551.55 245.51,551.56 245.86,551.96 246.21,552.71 246.56,553.13 246.91,552.74 247.26,551.99 247.61,551.76 247.96,551.58 248.31,551.47 248.66,551.63 249.01,551.95 249.36,552.42 249.71,552.27 250.06,551.92 250.41,551.67 250.76,551.48 251.11,551.83 251.46,552.52 251.81,552.66 252.16,552.09 252.51,551.64 252.86,551.82 253.21,551.87 253.56,551.62 253.91,551.37 254.26,550.94 254.61,551.00 254.96,551.35 255.31,551.94 255.66,552.20 256.01,551.59 256.36,551.44 256.71,551.37 257.06,551.05 257.41,550.93 257.76,551.07 258.11,551.70 258.45,551.77 258.80,551.40 259.15,551.63 259.50,551.39 259.85,550.86 260.20,551.11 260.55,551.21 260.90,550.92 261.25,550.59 261.60,550.40 261.95,550.42 262.30,550.81 262.65,551.41 263.00,551.65 263.35,551.84 263.70,551.86 264.05,551.67 264.40,551.46 264.75,551.49 265.10,551.67 265.45,551.78 265.80,551.69 266.15,551.21 266.50,550.86 266.85,551.35 267.20,552.56 267.55,552.89 267.90,552.29 268.25,551.93 268.60,551.70 268.95,552.11 269.30,552.79 269.65,552.47 270.00,551.85 270.35,551.79 270.70,552.12 271.05,552.13 271.40,551.73 271.75,551.83 272.10,552.19 272.45,552.01 272.80,551.78 273.15,551.93 273.50,551.96 273.85,551.74 274.19,551.75 274.54,551.88 274.89,551.53 275.24,551.11 275.59,551.28 275.94,551.52 276.29,551.28 276.64,551.41 276.99,551.76 277.34,551.30 277.69,551.46 278.04,552.05 278.39,551.75 278.74,551.24 279.09,551.15 279.44,551.18 279.79,551.28 280.14,551.76 280.49,552.02 280.84,551.97 281.19,551.54 281.54,551.06 281.89,551.62 282.24,552.45 282.59,552.32 282.94,552.19 283.29,552.08 283.64,551.39 283.99,551.63 284.34,552.10 284.69,551.85 285.04,551.86 285.39,552.21 285.74,552.66 286.09,552.62 286.44,552.17 286.79,551.79 287.14,551.35 287.49,551.01 287.84,550.80 288.19,550.84 288.54,551.54 288.89,552.58 289.24,553.10 289.59,553.00 289.94,552.57 290.29,551.74 290.64,551.56 290.98,551.88 291.33,551.97 291.68,552.44 292.03,552.58 292.38,552.05 292.73,551.72 293.08,551.61 293.43,551.96 293.78,552.59 294.13,552.77 294.48,552.53 294.83,552.40 295.18,552.61 295.53,552.26 295.88,552.04 296.23,552.56 296.58,553.04 296.93,553.02 297.28,552.23 297.63,552.00 297.98,552.52 298.33,552.09 298.68,551.22 299.03,551.13 299.38,551.14 299.73,551.01 300.08,551.37 300.43,552.09 300.78,552.80 301.13,552.73 301.48,551.72 301.83,550.87 302.18,550.99 302.53,551.74 302.88,551.85 303.23,551.34 303.58,551.18 303.93,551.63 304.28,552.26 304.63,551.95 304.98,551.53 305.33,551.72 305.68,551.63 306.03,551.67 306.38,551.84 306.72,551.67 307.07,552.02 307.42,552.67 307.77,552.31 308.12,552.15 308.47,552.76 308.82,552.97 309.17,552.68 309.52,552.09 309.87,552.00 310.22,552.44 310.57,552.44 310.92,552.53 311.27,552.67 311.62,552.19 311.97,552.07 312.32,552.08 312.67,551.91 313.02,552.46 313.37,552.86 313.72,551.85 314.07,551.37 314.42,552.28 314.77,552.62 315.12,552.56 315.47,552.98 315.82,552.98 316.17,552.14 316.52,551.98 316.87,552.35 317.22,552.23 317.57,551.88 317.92,551.47 318.27,551.76 318.62,551.91 318.97,551.50 319.32,551.40 319.67,551.78 320.02,552.88 320.37,553.51 320.72,553.51 321.07,553.05 321.42,552.12 321.77,551.76 322.12,551.86 322.47,552.12 322.81,552.26 323.16,552.20 323.51,552.06 323.86,551.90 324.21,551.66 324.56,551.52 324.91,551.61 325.26,551.96 325.61,552.56 325.96,552.56 326.31,552.19 326.66,552.12 327.01,552.28 327.36,552.62 327.71,552.28 328.06,551.72 328.41,552.07 328.76,552.49 329.11,552.46 329.46,552.38 329.81,552.72 330.16,553.32 330.51,553.17 330.86,552.63 331.21,552.89 331.56,553.28 331.91,552.86 332.26,552.15 332.61,552.01 332.96,552.27 333.31,552.09 333.66,552.43 334.01,552.87 334.36,552.49 334.71,552.36 335.06,551.86 335.41,551.24 335.76,551.39 336.11,551.70 336.46,551.88 336.81,551.87 337.16,551.83 337.51,552.21 337.86,552.79 338.21,552.59 338.56,551.99 338.91,551.90 339.25,552.23 339.60,552.25 339.95,551.88 340.30,552.25 340.65,552.54 341.00,552.05 341.35,551.95 341.70,551.87 342.05,551.39 342.40,551.16 342.75,551.45 343.10,551.81 343.45,551.72 343.80,551.32 344.15,551.04 344.50,551.67 344.85,552.58 345.20,552.88 345.55,552.41 345.90,551.12 346.25,551.22 346.60,552.61 346.95,552.45 347.30,551.83"/>
<path d="M55.60,554.71 55.95,554.29 56.30,554.16 56.65,554.21 57.00,554.33 57.35,554.62 57.70,554.69 58.05,554.24 58.40,553.70 58.75,553.39 59.10,553.44 59.45,554.06 59.80,554.39 60.15,554.26 60.50,554.64 60.85,554.73 61.20,554.40 61.55,554.62 61.90,554.34 62.25,553.55 62.60,553.58 62.95,554.07 63.30,554.36 63.65,554.00 64.00,553.67 64.35,554.56 64.70,554.75 65.05,553.72 65.40,554.04 65.75,555.19 66.10,555.03 66.45,554.21 66.80,553.98 67.15,554.30 67.50,554.50 67.85,554.35 68.20,554.20 68.55,553.50 68.90,553.06 69.25,553.60 69.60,554.24 69.95,554.72 70.30,554.80 70.65,554.27 71.00,553.90 71.35,553.81 71.70,553.74 72.05,554.27 72.40,554.77 72.75,555.12 73.10,555.52 73.45,554.94 73.80,553.74 74.15,553.48 74.50,554.13 74.85,554.48 75.20,554.18 75.55,553.50 75.90,553.38 76.25,554.31 76.60,554.73 76.95,554.18 77.30,554.24 77.65,554.43 78.00,553.63 78.35,553.24 78.70,553.47 79.05,553.28 79.40,553.22 79.75,553.17 80.10,553.63 80.45,553.96 80.80,553.07 81.15,552.80 81.50,553.23 81.85,553.53 82.20,553.90 82.55,554.12 82.90,554.19 83.25,554.21 83.60,554.60 83.95,554.76 84.30,554.14 84.65,554.00 85.00,554.35 85.35,554.01 85.70,553.14 86.05,553.34 86.40,554.13 86.75,554.53 87.10,554.35 87.45,554.16 87.80,554.89 88.15,554.81 88.50,553.89 88.85,553.41 89.20,553.29 89.55,553.58 89.90,553.79 90.25,553.82 90.60,554.01 90.95,554.17 91.30,554.12 91.65,553.91 92.00,553.80 92.45,554.10 92.79,553.95 92.66,553.60 92.57,553.32 92.58,553.10 92.57,552.55 92.32,551.98 92.20,551.63 92.45,551.37 92.53,551.25 92.51,551.14 92.60,550.72 92.53,550.11 92.41,549.73 92.43,549.50 92.46,548.99 92.55,548.35 92.68,548.00 92.61,547.76 92.55,547.45 92.60,547.21 92.63,546.85 92.69,546.45 92.75,546.19 92.71,545.90 92.66,545.64 92.63,545.32 92.70,544.71 92.85,544.17 92.80,543.92 92.65,543.66 92.76,543.31 92.84,542.92 92.73,542.58 92.82,542.39 93.00,542.16 93.00,541.71 92.93,541.22 92.92,540.90 93.02,540.57 93.08,540.15 93.04,539.79 92.93,539.52 92.88,539.31 92.93,538.97 92.98,538.45 92.98,538.00 93.07,537.70 93.20,537.40 93.17,537.16 93.10,536.92 93.09,536.53 93.11,536.04 93.13,535.62 93.13,535.33 93.22,534.94 93.24,534.45 93.19,534.17 93.29,533.94 93.42,533.63 93.46,533.33 93.45,532.97 93.41,532.60 93.36,532.27 93.37,531.95 93.46,531.60 93.47,531.13 93.47,530.64 93.47,530.29 93.40,529.99 93.38,529.60 93.46,529.26 93.46,529.00 93.47,528.66 93.58,528.38 93.57,528.14 93.49,527.72 93.54,527.26 93.62,526.88 93.58,526.51 93.48,526.23 93.45,526.00 93.52,525.70 93.62,525.29 93.74,524.89 93.83,524.54 93.75,524.16 93.64,523.70 93.73,523.26 93.83,523.00 93.77,522.79 93.74,522.47 93.72,522.08 93.68,521.67 93.72,521.29 93.80,520.90 93.85,520.61 93.87,520.40 93.86,520.01 93.92,519.62 94.06,519.26 94.09,518.80 94.03,518.40 94.04,518.11 94.04,517.86 94.00,517.54 94.04,517.11 94.08,516.70 93.98,516.37 93.86,516.10 93.93,515.81 94.06,515.53 94.07,515.21 94.10,514.79 94.11,514.34 94.10,513.97 94.19,513.65 94.29,513.32 94.32,513.02 94.27,512.67 94.16,512.27 94.18,511.94 94.30,511.54 94.28,511.13 94.19,510.87 94.15,510.52 94.19,510.14 94.28,509.88 94.34,509.53 94.29,509.07 94.16,508.66 94.21,508.29 94.35,508.00 94.29,507.73 94.22,507.39 94.27,507.08 94.37,506.82 94.46,506.46 94.46,506.04 94.43,505.66 94.43,505.26 94.44,504.84 94.47,504.47 94.50,504.20 94.52,503.89 94.51,503.42 94.55,503.02 94.59,502.79 94.56,502.51 94.61,502.19 94.68,501.78 94.68,501.31 94.66,500.93 94.70,500.57 94.66,500.28 94.62,500.09 94.71,499.71 94.84,499.23 94.87,498.86 94.82,498.62 94.86,498.42 94.87,498.08 94.85,497.68 94.88,497.36 94.86,496.92 94.85,496.49 94.94,496.21 94.97,495.87 94.95,495.54 95.01,495.20 95.07,494.78 95.09,494.44 95.11,494.11 95.15,493.68 95.21,493.34 95.12,493.11 95.05,492.81 95.09,492.42 95.08,491.95 95.12,491.59 95.11,491.27 95.01,490.94 95.12,490.68 95.31,490.23 95.23,489.78 95.10,489.47 95.16,489.12 95.30,488.83 95.34,488.64 95.29,488.33 95.33,487.86 95.40,487.43 95.45,487.05 95.51,486.72 95.43,486.49 95.36,486.22 95.42,485.75 95.48,485.27 95.54,485.00 95.54,484.64 95.49,484.18 95.57,483.76 95.63,483.44 95.54,483.22 95.58,482.94 95.78,482.55 95.80,482.12 95.67,481.79 95.67,481.57 95.73,481.27 95.76,480.85 95.80,480.49 95.90,480.26 95.98,479.98 96.01,479.54 96.05,479.08 96.07,478.73 96.03,478.41 96.08,478.05 96.14,477.73 96.13,477.37 96.14,477.02 96.10,476.81 96.07,476.49 96.17,476.01 96.21,475.57 96.20,475.18 96.27,474.82 96.29,474.49 96.29,474.29 96.32,473.92 96.36,473.38 96.39,472.95 96.43,472.70 96.48,472.61 96.51,472.34 96.54,471.80 96.53,471.33 96.58,471.04 96.65,470.79 96.63,470.56 96.64,470.28 96.68,469.89 96.65,469.46 96.67,469.01 96.74,468.65 96.78,468.35 96.78,467.95 96.80,467.49 96.88,467.06 96.89,466.70 96.82,466.37 96.84,465.99 96.95,465.66 97.04,465.36 97.11,465.03 97.11,464.75 97.05,464.46 97.06,464.05 97.13,463.66 97.13,463.33 97.17,462.94 97.26,462.60 97.27,462.31 97.29,462.02 97.30,461.81 97.35,461.43 97.56,461.05 97.70,460.64 97.69,460.18 97.62,459.88 97.64,459.49 97.71,459.00 97.74,458.68 97.74,458.52 97.73,458.14 97.80,457.66 97.94,457.44 98.01,457.20 97.99,456.77 98.07,456.36 98.19,455.99 98.13,455.77 98.10,455.60 98.19,455.13 98.29,454.72 98.42,454.38 98.50,453.91 98.56,453.63 98.65,453.33 98.70,452.87 98.79,452.73 98.96,452.70 99.09,452.26 99.20,451.68 99.39,451.34 99.57,450.98 99.81,450.77 100.09,450.89 100.30,450.77 100.46,450.74 100.71,450.95 100.95,451.16 101.12,451.54 101.23,452.07 101.32,452.50 101.42,452.92 101.52,453.37 101.56,453.62 101.58,453.80 101.61,454.23 101.64,454.79 101.82,455.17 102.05,455.31 102.15,455.45 102.10,455.76 102.04,456.21 102.06,456.66 102.12,457.05 102.21,457.30 102.24,457.50 102.27,457.98 102.40,458.50 102.46,458.81 102.42,459.06 102.49,459.34 102.62,459.63 102.67,459.95 102.69,460.42 102.74,460.89 102.83,461.25 102.96,461.59 103.07,461.82 103.12,462.14 103.09,462.53 103.11,462.75 103.26,463.00 103.38,463.35 103.41,463.73 103.38,464.06 103.40,464.37 103.53,464.73 103.70,465.16 103.77,465.69 103.78,466.20 103.89,466.56 104.06,466.81 104.20,467.04 104.21,467.26 104.14,467.59 104.20,467.96 104.32,468.33 104.38,468.68 104.43,468.95 104.49,469.22 104.59,469.54 104.68,469.94 104.78,470.29 104.88,470.64 104.98,471.19 105.06,471.54 105.13,471.74 105.15,472.16 105.18,472.46 105.33,472.62 105.47,472.97 105.51,473.39 105.55,473.73 105.63,474.08 105.66,474.50 105.67,474.87 105.71,475.17 105.73,475.54 105.79,475.86 105.89,476.27 105.93,476.69 105.97,476.81 106.09,476.99 106.19,477.29 106.19,477.63 106.27,478.19 106.41,478.73 106.41,478.97 106.41,479.27 106.54,479.74 106.59,479.99 106.48,480.19 106.48,480.72 106.61,481.29 106.69,481.53 106.73,481.65 106.84,482.08 106.94,482.59 107.00,482.88 107.00,483.11 107.03,483.48 107.07,483.84 107.02,484.14 107.00,484.50 107.03,484.84 107.03,485.13 107.08,485.45 107.23,485.89 107.35,486.37 107.46,486.73 107.48,487.06 107.38,487.41 107.40,487.72 107.56,488.00 107.60,488.28 107.55,488.59 107.50,489.01 107.57,489.33 107.69,489.49 107.75,489.77 107.80,490.25 107.83,490.72 107.85,491.04 107.78,491.29 107.75,491.69 107.84,492.23 107.89,492.50 107.94,492.65 108.07,493.05 108.09,493.57 108.06,493.94 108.18,494.27 108.31,494.62 108.31,494.97 108.23,495.43 108.21,495.82 108.27,496.03 108.31,496.35 108.25,496.76 108.27,497.16 108.40,497.54 108.49,497.80 108.48,498.09 108.42,498.40 108.45,498.66 108.59,499.06 108.75,499.59 108.82,499.98 108.78,500.17 108.75,500.44 108.82,500.76 108.96,501.04 109.04,501.42 109.02,501.80 109.07,502.16 109.17,502.65 109.24,503.07 109.27,503.33 109.33,503.66 109.48,503.99 109.59,504.31 109.61,504.75 109.62,505.18 109.65,505.48 109.66,505.77 109.60,506.08 109.57,506.42 109.67,506.82 109.75,507.15 109.78,507.41 109.84,507.74 109.83,508.08 109.83,508.36 109.91,508.66 109.93,509.09 109.94,509.67 109.92,510.11 109.96,510.29 110.07,510.49 110.11,510.94 110.13,511.46 110.21,511.82 110.35,512.20 110.44,512.65 110.44,512.99 110.45,513.22 110.55,513.41 110.67,513.67 110.68,514.05 110.64,514.51 110.76,514.89 110.92,515.16 111.01,515.47 111.06,515.93 111.06,516.37 111.12,516.53 111.19,516.66 111.26,517.07 111.37,517.57 111.46,517.90 111.51,518.07 111.57,518.32 111.61,518.77 111.70,519.30 111.85,519.68 111.95,520.01 112.05,520.34 112.14,520.47 112.11,520.76 112.17,521.21 112.35,521.46 112.44,521.84 112.51,522.29 112.65,522.59 112.76,522.94 112.82,523.29 112.80,523.64 112.89,523.88 113.10,523.97 113.28,524.35 113.35,524.88 113.36,525.19 113.45,525.65 113.60,526.16 113.71,526.33 113.76,526.48 113.82,526.88 113.93,527.27 114.09,527.63 114.21,527.96 114.35,528.25 114.49,528.70 114.60,529.11 114.72,529.34 114.87,529.74 114.99,530.19 115.07,530.38 115.21,530.38 115.36,530.45 115.49,530.88 115.68,531.45 115.88,531.82 116.03,532.26 116.10,532.79 116.23,532.95 116.48,533.13 116.70,533.67 116.87,534.01 117.05,534.10 117.23,534.34 117.45,534.59 117.70,534.70 117.94,534.99 118.10,535.56 118.25,535.83 118.47,535.88 118.74,536.11 119.00,536.27 119.22,536.51 119.41,536.99 119.62,537.29 119.87,537.52 120.16,537.85 120.41,538.19 120.62,538.34 120.86,538.38 121.14,538.70 121.42,538.94 121.69,538.96 121.98,539.13 122.26,539.32 122.54,539.71 122.82,540.17 123.09,540.32 123.39,540.41 123.70,540.47 123.99,540.68 124.26,540.98 124.56,540.80 124.86,540.70 125.16,541.08 125.46,541.48 125.77,541.82 126.08,541.86 126.39,541.74 126.71,541.79 127.01,541.87 127.32,542.09 127.63,542.81 127.93,543.28 128.24,542.97 128.57,542.86 128.88,543.17 129.20,543.42 129.53,543.81 129.87,544.16 130.20,544.09 130.51,544.05 130.84,544.03 131.17,543.85 131.50,543.69 131.82,543.73 132.15,544.07 132.48,544.46 132.80,544.93 133.13,545.03 133.46,544.81 133.79,545.45 134.13,546.02 134.46,545.75 134.79,545.88 135.12,546.37 135.46,546.39 135.79,546.05 136.13,545.74 136.47,545.95 136.80,546.56 137.13,546.81 137.47,546.87 137.81,547.27 138.15,547.08 138.48,546.31 138.82,546.31 139.16,546.73 139.50,547.34 139.85,547.64 140.19,547.03 140.53,546.90 140.87,547.21 141.22,547.05 141.56,547.28 141.91,548.02 142.25,548.50 142.60,548.61 142.94,548.28 143.29,547.78 143.63,547.90 143.97,548.17 144.32,548.06 144.67,548.00 145.01,548.08 145.36,548.42 145.71,548.30 146.05,547.71 146.39,547.69 146.74,548.13 147.09,548.45 147.43,548.01 147.78,547.56 148.12,548.07 148.47,548.33 148.82,548.36 149.16,549.08 149.51,549.07 149.85,548.40 150.20,548.13 150.55,547.87 150.89,547.87 151.24,548.20 151.58,548.67 151.93,549.08 152.27,549.08 152.62,548.86 152.96,548.97 153.31,549.22 153.65,549.48 154.00,549.83 154.35,549.65 154.69,549.54 155.03,549.72 155.38,549.82 155.72,550.19 156.07,550.35 156.42,549.86 156.76,549.43 157.10,549.59 157.45,549.91 157.79,550.14 158.14,550.19 158.48,550.07 158.83,550.07 159.18,549.98 159.52,549.84 159.87,549.89 160.22,550.01 160.57,549.96 160.91,550.25 161.26,551.17 161.61,551.39 161.95,550.78 162.30,550.51 162.65,550.62 163.00,550.81 163.34,551.05 163.69,550.95 164.04,550.30 164.39,549.72 164.74,550.07 165.08,550.50 165.43,550.35 165.78,550.72 166.13,551.55 166.48,551.64 166.83,550.63 167.18,550.03 167.53,550.73 167.87,550.97 168.22,550.79 168.57,551.29 168.92,551.71 169.27,551.82 169.62,551.55 169.97,551.05 170.32,550.98 170.67,551.42 171.02,551.42 171.37,551.21 171.72,551.36 172.06,551.66 172.41,552.13 172.76,552.02 173.11,551.52 173.46,551.79 173.81,552.28 174.16,552.06 174.51,551.54 174.86,551.37 175.21,551.71 175.56,551.64 175.91,551.09 176.26,551.27 176.61,551.91 176.96,552.05 177.31,552.13 177.66,552.52 178.01,552.88 178.36,552.59 178.70,551.80 179.05,551.11 179.40,550.83 179.75,551.42 180.10,551.58 180.45,551.16 180.80,551.48 181.15,551.83 181.50,551.85 181.85,551.65 182.20,551.39 182.55,552.09 182.90,552.80 183.25,552.21 183.60,551.61 183.94,552.03 184.29,552.25 184.64,552.11 184.99,552.40 185.34,552.28 185.69,552.29 186.04,552.29 186.39,551.74 186.74,551.88 187.09,552.31 187.44,551.83 187.79,551.43 188.14,551.67 188.49,551.78 188.84,552.06 189.19,551.86 189.54,551.62 189.89,552.22 190.24,552.68 190.59,552.74 190.94,552.32 191.29,551.44 191.64,551.13 191.99,551.46 192.34,551.54 192.68,551.26 193.03,550.76 193.38,550.90 193.73,551.87 194.08,552.84 194.43,553.55 194.78,553.09 195.13,552.29 195.48,552.39 195.83,551.96 196.18,551.52 196.53,551.95 196.88,551.81 197.23,551.38 197.58,551.58 197.93,551.98 198.28,552.06 198.63,552.08 198.98,552.41 199.33,552.50 199.68,552.09 200.03,552.00 200.38,552.40 200.73,552.73 201.08,553.12 201.43,552.78 201.78,552.11 202.13,552.58 202.48,553.12 202.83,552.82 203.18,552.32 203.53,552.67 203.88,553.56 204.23,553.83 204.58,553.50 204.93,552.71 205.28,552.12 205.63,551.79 205.98,551.48 206.33,551.58 206.68,551.75 207.03,552.00 207.38,552.42 207.73,552.85 208.08,553.07 208.43,553.00 208.78,552.92 209.13,553.18 209.48,553.35 209.83,552.74 210.18,552.08 210.53,552.04 210.87,552.60 211.22,553.41 211.57,553.56 211.92,553.10 212.27,552.90 212.62,552.91 212.97,552.69 213.32,552.37 213.67,552.71 214.02,552.61 214.37,551.87 214.72,551.87 215.07,552.15 215.42,552.57 215.77,552.89 216.12,552.95 216.47,553.06 216.82,553.10 217.17,552.98 217.52,552.88 217.87,552.67 218.22,552.44 218.57,552.59 218.92,552.50 219.27,552.47 219.62,552.81 219.97,553.14 220.32,553.17 220.67,552.83 221.02,552.50 221.37,551.94 221.72,552.19 222.07,553.13 222.42,553.22 222.77,553.06 223.12,552.63 223.47,552.34 223.82,553.05 224.17,553.56 224.52,553.75 224.87,553.69 225.22,553.09 225.57,552.64 225.91,552.41 226.26,552.27 226.61,552.15 226.96,552.10 227.31,552.37 227.66,552.54 228.01,552.30 228.36,552.13 228.71,551.94 229.06,551.75 229.41,552.04 229.76,552.61 230.11,553.18 230.46,553.58 230.81,553.40 231.16,552.83 231.51,552.52 231.86,552.57 232.21,552.44 232.56,552.37 232.91,552.81 233.26,552.91 233.61,552.50 233.96,552.64 234.31,553.61 234.66,553.65 235.01,553.14 235.36,553.37 235.71,553.31 236.06,552.73 236.41,552.25 236.76,552.75 237.11,553.36 237.46,553.34 237.81,553.42 238.16,553.49 238.51,553.92 238.86,553.88 239.21,552.98 239.56,552.52 239.91,552.01 240.26,551.50 240.61,552.05 240.96,553.06 241.31,553.56 241.66,553.47 242.01,553.14 242.36,552.70 242.71,552.49 243.06,552.65 243.41,552.30 243.76,552.15 244.11,552.82 244.46,552.57 244.80,552.24 245.15,552.92 245.50,553.66 245.85,553.74 246.20,552.88 246.55,552.61 246.90,553.12 247.25,553.26 247.60,553.49 247.95,553.05 248.30,552.00 248.65,551.68 249.00,552.36 249.35,553.42 249.70,553.73 250.05,553.07 250.40,552.52 250.75,552.30 251.10,552.09 251.45,552.48 251.80,553.18 252.15,553.58 252.50,553.20 252.85,552.54 253.20,552.36 253.55,552.24 253.90,552.28 254.25,552.99 254.60,553.57 254.95,552.93 255.30,552.52 255.65,553.31 256.00,553.64 256.35,553.21 256.70,553.53 257.05,553.49 257.40,552.65 257.75,553.01 258.10,553.33 258.45,552.13 258.80,551.31 259.15,551.44 259.50,552.04 259.85,552.46 260.20,552.49 260.55,552.90 260.90,553.29 261.25,553.25 261.60,552.96 261.95,552.65 262.30,552.85 262.65,553.38 263.00,553.56 263.35,553.30 263.69,552.81 264.04,552.77 264.39,552.67 264.74,552.28 265.09,552.02 265.44,551.76 265.79,552.58 266.14,553.74 266.49,553.14 266.84,552.46 267.19,553.24 267.54,554.17 267.89,554.36 268.24,553.98 268.59,553.62 268.94,553.08 269.29,552.66 269.64,552.82 269.99,552.59 270.34,552.72 270.69,553.49 271.04,553.07 271.39,552.36 271.74,552.80 272.09,553.32 272.44,552.95 272.79,552.91 273.14,553.27 273.49,553.12 273.84,553.20 274.19,553.07 274.54,552.99 274.89,553.56 275.24,553.82 275.59,553.58 275.94,553.18 276.29,552.46 276.64,551.94 276.99,552.30 277.34,553.01 277.69,553.89 278.04,554.22 278.39,554.01 278.74,553.97 279.09,553.73 279.44,553.85 279.79,553.45 280.14,552.87 280.49,553.17 280.84,552.87 281.19,552.45 281.54,552.37 281.88,552.16 282.23,552.16 282.58,552.89 282.93,553.36 283.28,553.06 283.63,553.37 283.98,553.70 284.33,553.64 284.68,553.67 285.03,553.76 285.38,553.36 285.73,552.33 286.08,552.28 286.43,553.29 286.78,553.95 287.13,553.99 287.48,553.43 287.83,552.73 288.18,552.05 288.53,551.93 288.88,553.09 289.23,553.82 289.58,553.53 289.93,553.60 290.28,553.25 290.63,552.52 290.98,552.50 291.33,552.60 291.68,553.00 292.03,553.31 292.38,553.03 292.73,553.21 293.08,554.06 293.43,554.04 293.78,552.94 294.13,552.42 294.48,552.31 294.83,552.45 295.18,552.87 295.53,553.14 295.88,553.74 296.23,553.88 296.58,553.01 296.93,552.51 297.28,552.81 297.63,552.88 297.98,553.02 298.33,553.47 298.68,553.01 299.03,552.62 299.38,552.71 299.73,552.73 300.07,553.16 300.42,553.56 300.77,553.72 301.12,553.07 301.47,552.15 301.82,552.41 302.17,552.89 302.52,552.79 302.87,552.93 303.22,552.87 303.57,552.30 303.92,552.14 304.27,552.36 304.62,552.92 304.97,553.32 305.32,552.86 305.67,552.34 306.02,552.37 306.37,552.71 306.72,553.19 307.07,553.44 307.42,553.47 307.77,553.19 308.12,552.43 308.47,551.84 308.82,552.18 309.17,553.07 309.52,553.05 309.87,552.74 310.22,552.99 310.57,552.82 310.92,552.39 311.27,552.43 311.62,552.92 311.97,553.25 312.32,553.12 312.67,552.88 313.02,552.81 313.37,552.80 313.72,552.33 314.07,551.87 314.42,552.17 314.77,552.69 315.12,552.90 315.47,552.78 315.82,552.65 316.17,552.49 316.52,552.03 316.87,551.79 317.22,552.28 317.57,552.91 317.92,553.38 318.27,553.97 318.62,554.02 318.96,553.42 319.31,552.98 319.66,552.83 320.01,552.67 320.36,552.42 320.71,552.54 321.06,553.07 321.41,553.17 321.76,552.72 322.11,552.82 322.46,553.27 322.81,553.18 323.16,553.31 323.51,553.55 323.86,553.19 324.21,553.17 324.56,553.46 324.91,553.23 325.26,552.86 325.61,553.07 325.96,553.51 326.31,553.59 326.66,553.60 327.01,553.17 327.36,552.47 327.71,552.02 328.06,552.15 328.41,552.99 328.76,553.30 329.11,552.89 329.46,553.04 329.81,553.41 330.16,553.04 330.51,552.72 330.86,552.89 331.21,552.90 331.56,553.00 331.91,552.84 332.26,552.67 332.61,553.39 332.96,553.24 333.31,552.64 333.66,552.99 334.01,553.45 334.36,553.79 334.71,553.69 335.06,553.33 335.41,553.65 335.76,554.26 336.11,554.24 336.46,553.66 336.81,553.02 337.16,552.82 337.51,553.25 337.85,553.54 338.20,552.85 338.55,552.08 338.90,552.27 339.25,552.71 339.60,552.92 339.95,552.96 340.30,552.91 340.65,553.12 341.00,553.17 341.35,552.87 341.70,552.75 342.05,552.88 342.40,553.26 342.75,553.42 343.10,553.44 343.45,553.67 343.80,553.84 344.15,553.45 344.50,552.71 344.85,552.59 345.20,553.07 345.55,553.67 345.90,553.57 346.25,553.27 346.60,553.41 346.95,553.27 347.30,553.05"/>
<path d="M55.60,553.80 55.95,553.97 56.30,554.32 56.65,554.23 57.00,553.94 57.35,553.34 57.70,553.68 58.05,554.99 58.40,555.12 58.75,554.33 59.10,553.94 59.45,554.19 59.80,554.33 60.15,554.50 60.50,555.17 60.85,555.44 61.20,554.74 61.55,553.78 61.90,553.66 62.25,553.78 62.60,553.47 62.95,553.36 63.30,553.71 63.65,554.50 64.00,554.93 64.35,554.82 64.70,554.68 65.05,554.37 65.40,554.30 65.75,554.31 66.10,554.20 66.45,554.22 66.80,553.76 67.15,553.57 67.50,554.30 67.85,555.09 68.20,554.74 68.55,553.85 68.90,554.43 69.25,555.27 69.60,554.84 69.95,553.72 70.30,553.33 70.65,553.64 71.00,553.75 71.35,553.94 71.70,553.81 72.05,553.42 72.40,553.34 72.75,554.15 73.10,554.97 73.45,554.65 73.80,554.18 74.15,553.90 74.50,553.99 74.85,554.05 75.20,553.37 75.55,553.26 75.90,553.49 76.25,552.94 76.60,552.85 76.95,553.19 77.30,553.66 77.65,554.78 78.00,555.39 78.35,555.49 78.70,555.51 79.05,554.81 79.40,554.17 79.75,554.48 80.10,554.76 80.45,554.33 80.80,553.42 81.15,553.16 81.50,553.93 81.85,554.46 82.20,554.19 82.55,553.39 82.90,552.94 83.25,553.21 83.60,553.94 83.95,554.43 84.30,554.67 84.65,555.23 85.00,555.32 85.35,555.09 85.70,554.77 86.05,554.24 86.40,554.53 86.75,554.80 87.10,554.45 87.45,554.94 87.80,555.55 88.15,555.62 88.50,555.35 88.85,554.52 89.20,553.91 89.55,554.11 89.90,554.70 90.25,554.69 90.60,554.69 90.95,554.78 91.30,554.32 91.65,554.52 92.00,554.43 92.35,553.73 92.70,554.25 92.58,554.28 92.55,553.82 92.59,553.71 92.52,553.35 92.45,552.78 92.66,552.41 92.89,552.13 92.93,552.00 92.94,551.74 92.88,551.19 92.89,550.63 92.93,550.28 93.04,550.02 93.20,549.66 93.23,549.37 93.18,549.02 93.07,548.50 93.19,548.34 93.49,548.16 93.55,547.76 93.47,547.44 93.50,547.03 93.57,546.66 93.60,546.25 93.62,545.80 93.67,545.51 93.77,545.27 93.83,544.98 93.68,544.57 93.60,544.17 93.82,543.95 94.06,543.71 94.07,543.24 93.97,542.76 94.01,542.40 94.02,542.03 93.90,541.57 93.94,541.14 93.98,540.93 93.95,540.81 94.01,540.49 94.02,540.06 93.98,539.73 94.09,539.47 94.22,539.07 94.17,538.59 94.15,538.22 94.23,537.88 94.25,537.49 94.26,537.17 94.26,536.86 94.25,536.50 94.25,536.15 94.23,535.80 94.25,535.44 94.33,535.07 94.45,534.71 94.52,534.35 94.52,534.00 94.51,533.63 94.47,533.27 94.34,532.95 94.33,532.62 94.49,532.24 94.53,531.89 94.42,531.56 94.43,531.13 94.59,530.79 94.62,530.51 94.56,530.19 94.58,529.89 94.65,529.58 94.60,529.18 94.49,528.70 94.56,528.40 94.72,528.15 94.72,527.69 94.67,527.26 94.74,527.05 94.73,526.71 94.71,526.26 94.80,525.89 94.81,525.52 94.82,525.25 94.85,524.95 94.86,524.56 95.01,524.19 95.10,523.79 95.10,523.47 95.20,523.13 95.19,522.72 95.06,522.46 95.07,522.23 95.20,521.93 95.22,521.63 95.18,521.37 95.21,520.98 95.33,520.49 95.42,520.07 95.48,519.69 95.56,519.38 95.59,519.05 95.57,518.70 95.52,518.37 95.57,517.98 95.69,517.66 95.65,517.35 95.64,516.90 95.71,516.49 95.73,516.14 95.79,515.86 95.82,515.64 95.93,515.32 96.05,514.91 96.03,514.44 96.04,514.05 96.13,513.75 96.16,513.40 96.12,513.03 96.06,512.61 96.13,512.28 96.25,512.05 96.26,511.69 96.32,511.35 96.44,510.98 96.46,510.56 96.49,510.30 96.50,509.93 96.50,509.42 96.53,509.04 96.52,508.79 96.55,508.48 96.65,508.11 96.74,507.84 96.80,507.53 96.79,507.13 96.69,506.74 96.65,506.42 96.79,506.16 96.91,505.79 96.93,505.29 96.89,504.90 96.88,504.69 96.99,504.46 97.03,504.09 97.06,503.74 97.22,503.44 97.28,503.16 97.26,502.79 97.27,502.34 97.30,501.98 97.38,501.72 97.46,501.37 97.50,500.92 97.61,500.49 97.71,500.03 97.74,499.65 97.80,499.47 97.86,499.31 97.89,498.93 97.95,498.57 97.99,498.28 98.00,497.78 98.12,497.34 98.29,497.03 98.35,496.70 98.40,496.35 98.46,496.01 98.49,495.71 98.60,495.35 98.84,494.95 99.07,494.56 99.17,494.32 99.30,494.22 99.58,493.96 99.92,493.62 100.26,493.18 100.56,492.83 100.75,492.76 100.91,492.97 101.06,493.50 101.21,493.89 101.27,493.99 101.30,494.25 101.42,494.76 101.50,495.32 101.45,495.79 101.46,496.14 101.57,496.50 101.72,497.00 101.84,497.44 101.87,497.83 101.90,498.25 101.94,498.60 102.00,498.82 102.11,499.10 102.23,499.55 102.31,499.95 102.36,500.30 102.47,500.61 102.54,500.84 102.45,501.23 102.39,501.64 102.51,501.93 102.62,502.26 102.67,502.65 102.74,502.97 102.73,503.36 102.82,503.75 102.97,503.98 102.95,504.28 102.91,504.70 103.01,505.05 103.09,505.25 103.08,505.59 103.14,506.02 103.25,506.30 103.31,506.62 103.34,507.05 103.39,507.51 103.54,507.80 103.67,508.01 103.74,508.51 103.81,509.10 103.82,509.45 103.83,509.60 103.86,509.82 103.91,510.22 103.97,510.55 104.04,510.92 104.19,511.31 104.27,511.66 104.24,512.04 104.27,512.33 104.31,512.58 104.35,512.88 104.43,513.21 104.48,513.50 104.54,513.90 104.67,514.47 104.84,514.91 104.97,515.05 105.02,515.21 105.05,515.58 105.20,515.96 105.28,516.27 105.30,516.69 105.46,517.04 105.54,517.20 105.54,517.55 105.58,518.11 105.66,518.56 105.83,518.85 105.92,519.08 105.90,519.48 105.97,520.02 106.06,520.39 106.11,520.70 106.24,520.94 106.41,521.14 106.55,521.35 106.62,521.68 106.69,522.08 106.73,522.37 106.81,522.75 106.92,523.22 106.99,523.65 107.09,524.00 107.20,524.24 107.29,524.54 107.45,524.91 107.60,525.27 107.60,525.64 107.68,526.07 107.84,526.37 107.87,526.61 107.91,526.94 108.07,527.21 108.27,527.51 108.40,527.94 108.48,528.42 108.56,528.76 108.67,529.13 108.84,529.59 108.97,529.92 109.05,530.07 109.20,530.08 109.36,530.36 109.45,530.80 109.57,531.10 109.72,531.36 109.81,531.63 109.96,532.05 110.16,532.67 110.27,533.04 110.35,533.25 110.52,533.50 110.73,533.79 110.89,534.20 111.03,534.52 111.19,534.77 111.30,535.01 111.45,535.38 111.64,535.88 111.80,536.13 112.02,536.19 112.22,536.41 112.34,536.88 112.52,537.33 112.79,537.41 113.06,537.33 113.29,537.34 113.48,537.49 113.66,538.01 113.89,538.56 114.16,538.78 114.40,538.99 114.60,539.23 114.84,539.42 115.09,539.82 115.32,540.28 115.58,540.60 115.82,540.92 116.04,540.98 116.28,540.90 116.54,541.32 116.84,542.05 117.14,542.24 117.42,542.04 117.69,542.40 117.98,543.09 118.29,543.30 118.60,543.19 118.88,543.16 119.16,543.26 119.48,543.70 119.80,543.76 120.11,543.40 120.41,543.55 120.72,544.03 121.02,544.39 121.32,544.62 121.62,544.84 121.93,544.85 122.24,544.54 122.58,544.65 122.89,545.04 123.19,545.07 123.50,545.23 123.81,545.86 124.13,546.39 124.45,546.54 124.77,546.74 125.10,546.59 125.43,546.47 125.77,546.82 126.10,546.94 126.43,547.10 126.76,547.06 127.09,546.53 127.43,546.45 127.76,547.00 128.10,547.62 128.45,547.90 128.79,547.59 129.12,547.35 129.45,547.32 129.79,547.61 130.13,548.37 130.48,548.37 130.81,547.70 131.15,547.60 131.48,547.77 131.82,548.03 132.16,548.52 132.50,548.52 132.84,548.38 133.18,548.64 133.52,548.79 133.86,548.68 134.20,548.81 134.55,549.19 134.89,549.18 135.24,549.02 135.57,548.88 135.92,548.57 136.26,549.03 136.61,550.08 136.95,550.51 137.29,550.21 137.63,550.23 137.98,550.77 138.32,550.72 138.66,550.13 139.01,549.41 139.35,549.19 139.70,549.69 140.04,549.91 140.39,549.75 140.73,549.46 141.08,549.76 141.42,550.58 141.77,551.13 142.11,551.44 142.46,551.53 142.81,551.47 143.15,551.02 143.50,550.52 143.85,550.47 144.19,550.75 144.54,551.39 144.88,551.70 145.23,551.02 145.58,550.44 145.93,550.33 146.27,550.29 146.62,550.32 146.97,549.75 147.31,549.79 147.66,550.95 148.01,551.31 148.36,550.94 148.70,551.10 149.05,551.53 149.40,551.38 149.74,550.97 150.09,550.69 150.44,550.32 150.79,550.37 151.14,550.91 151.48,551.53 151.83,551.87 152.18,551.62 152.52,551.48 152.87,551.62 153.22,551.57 153.57,551.79 153.92,552.29 154.26,552.41 154.61,551.99 154.96,551.23 155.31,551.10 155.66,551.41 156.00,551.58 156.35,551.85 156.70,552.14 157.05,552.70 157.40,552.89 157.75,552.34 158.09,552.29 158.44,552.84 158.79,552.76 159.14,552.13 159.49,552.08 159.84,552.42 160.19,552.89 160.53,552.96 160.88,552.28 161.23,552.17 161.58,552.66 161.93,552.38 162.28,552.20 162.63,552.87 162.98,552.67 163.32,552.24 163.67,552.59 164.02,552.82 164.37,552.95 164.72,553.11 165.07,552.86 165.42,552.47 165.77,552.45 166.12,553.04 166.47,553.49 166.82,553.36 167.17,553.24 167.52,553.32 167.86,553.37 168.21,552.48 168.56,551.55 168.91,551.89 169.26,552.46 169.61,552.79 169.96,552.92 170.31,552.48 170.66,552.31 171.01,552.72 171.36,553.14 171.71,553.50 172.06,553.40 172.41,553.10 172.76,552.77 173.11,552.79 173.46,553.16 173.81,552.79 174.16,552.48 174.51,552.88 174.86,552.92 175.21,552.94 175.56,552.92 175.91,552.62 176.26,552.93 176.61,553.18 176.96,553.04 177.31,552.85 177.66,552.52 178.01,552.57 178.36,552.96 178.71,553.34 179.06,553.35 179.41,553.16 179.76,553.74 180.11,553.80 180.46,553.15 180.81,553.50 181.16,553.59 181.51,553.14 181.86,553.31 182.21,553.19 182.56,552.80 182.91,553.30 183.26,553.79 183.61,553.22 183.96,551.91 184.31,551.81 184.66,552.58 185.01,552.72 185.36,552.98 185.71,552.86 186.06,552.12 186.41,552.30 186.76,553.23 187.11,553.08 187.45,552.67 187.80,552.81 188.15,552.82 188.50,552.83 188.85,552.73 189.20,553.10 189.55,553.36 189.90,553.05 190.25,552.93 190.60,552.99 190.95,553.17 191.30,553.05 191.65,552.79 192.00,552.97 192.35,553.93 192.70,554.32 193.05,553.43 193.40,552.90 193.75,552.76 194.10,552.37 194.45,552.60 194.80,552.99 195.15,553.06 195.50,553.39 195.85,553.05 196.20,552.57 196.55,552.57 196.90,552.64 197.25,552.90 197.60,552.71 197.95,552.50 198.30,552.84 198.65,553.38 199.00,554.09 199.35,553.83 199.70,552.91 200.05,553.09 200.39,553.38 200.74,552.99 201.09,552.92 201.44,553.23 201.79,553.03 202.14,552.69 202.49,552.98 202.84,553.40 203.19,553.49 203.54,552.94 203.89,552.49 204.24,552.99 204.59,553.19 204.94,552.86 205.29,553.17 205.64,553.40 205.99,552.82 206.34,552.68 206.69,553.79 207.04,554.93 207.39,554.64 207.74,553.40 208.09,552.61 208.44,552.65 208.79,553.09 209.14,553.16 209.49,553.33 209.84,553.69 210.19,553.99 210.54,554.23 210.89,553.73 211.24,553.11 211.59,553.40 211.94,554.02 212.29,554.15 212.64,553.85 212.99,553.36 213.34,553.44 213.69,553.39 214.04,552.91 214.39,553.38 214.74,553.54 215.09,553.15 215.44,553.24 215.78,553.07 216.13,552.89 216.48,553.32 216.83,553.61 217.18,553.25 217.53,553.18 217.88,553.37 218.23,553.44 218.58,553.56 218.93,553.27 219.28,553.18 219.63,553.47 219.98,553.64 220.33,554.04 220.68,554.13 221.03,553.70 221.38,554.23 221.73,554.82 222.08,554.28 222.43,553.69 222.78,553.53 223.13,553.73 223.48,554.06 223.83,553.84 224.18,553.56 224.53,553.80 224.88,553.41 225.23,552.40 225.58,552.46 225.93,553.38 226.28,553.77 226.63,553.44 226.98,553.28 227.33,553.65 227.68,553.21 228.03,552.43 228.38,552.95 228.73,554.21 229.08,554.62 229.43,553.87 229.78,553.65 230.13,554.40 230.48,553.99 230.83,552.85 231.18,553.19 231.53,553.77 231.87,554.05 232.22,554.29 232.57,553.92 232.92,553.75 233.27,553.65 233.62,553.65 233.97,553.99 234.32,553.85 234.67,553.63 235.02,554.04 235.37,554.49 235.72,554.15 236.07,553.11 236.42,552.97 236.77,553.55 237.12,553.07 237.47,552.14 237.82,551.82 238.17,552.13 238.52,553.02 238.87,553.14 239.22,552.62 239.57,553.25 239.92,553.78 240.27,553.25 240.62,553.31 240.97,553.40 241.32,552.87 241.67,553.38 242.02,554.01 242.37,553.90 242.72,554.21 243.07,554.31 243.42,553.88 243.77,553.81 244.12,553.81 244.47,553.86 244.82,554.48 245.17,554.55 245.52,553.98 245.87,553.64 246.22,553.39 246.57,553.89 246.91,554.14 247.26,553.03 247.61,552.46 247.96,552.92 248.31,553.45 248.66,554.32 249.01,554.85 249.36,554.53 249.71,553.84 250.06,553.12 250.41,553.17 250.76,553.38 251.11,553.41 251.46,553.53 251.81,553.31 252.16,553.33 252.51,553.56 252.86,553.14 253.21,552.67 253.56,552.95 253.91,552.89 254.26,552.58 254.61,552.68 254.96,552.99 255.31,553.05 255.66,552.83 256.01,553.69 256.36,554.33 256.71,553.69 257.06,553.28 257.41,553.42 257.76,553.66 258.11,553.44 258.46,553.21 258.81,553.52 259.16,553.40 259.51,553.13 259.86,553.51 260.21,553.65 260.56,553.67 260.91,553.76 261.26,552.99 261.61,553.08 261.95,553.66 262.30,552.52 262.65,552.13 263.00,553.13 263.35,553.41 263.70,552.96 264.05,552.31 264.40,552.03 264.75,552.23 265.10,552.61 265.45,553.15 265.80,553.64 266.15,553.79 266.50,553.80 266.85,553.18 267.20,552.64 267.55,552.73 267.90,552.76 268.25,553.52 268.60,553.87 268.95,553.64 269.30,554.13 269.65,554.14 270.00,553.62 270.35,553.43 270.70,553.69 271.05,554.05 271.40,554.10 271.75,554.29 272.10,554.09 272.45,553.52 272.80,553.51 273.15,553.98 273.50,554.21 273.85,553.64 274.20,553.30 274.55,553.11 274.90,552.69 275.25,552.96 275.60,552.99 275.95,552.85 276.30,553.24 276.65,553.60 277.00,554.26 277.34,554.30 277.69,553.74 278.04,553.19 278.39,552.31 278.74,552.59 279.09,553.87 279.44,553.92 279.79,553.26 280.14,553.51 280.49,554.22 280.84,554.08 281.19,553.26 281.54,553.12 281.89,553.61 282.24,553.73 282.59,553.62 282.94,553.45 283.29,553.73 283.64,554.43 283.99,554.17 284.34,553.65 284.69,553.89 285.04,553.47 285.39,552.62 285.74,553.02 286.09,553.86 286.44,553.98 286.79,553.81 287.14,553.49 287.49,553.31 287.84,554.15 288.19,554.46 288.54,553.59 288.89,553.79 289.24,554.32 289.59,553.63 289.94,553.46 290.29,553.45 290.64,552.29 290.99,551.71 291.34,552.86 291.69,553.74 292.04,552.99 292.39,552.85 292.73,553.09 293.08,552.53 293.43,552.57 293.78,553.50 294.13,553.97 294.48,553.82 294.83,553.80 295.18,553.62 295.53,553.72 295.88,553.68 296.23,553.25 296.58,553.64 296.93,554.40 297.28,554.53 297.63,554.31 297.98,554.43 298.33,554.22 298.68,553.75 299.03,553.77 299.38,554.04 299.73,553.95 300.08,553.58 300.43,553.77 300.78,553.86 301.13,553.90 301.48,553.52 301.83,552.60 302.18,552.52 302.53,553.41 302.88,553.98 303.23,553.71 303.58,553.96 303.93,554.41 304.28,553.65 304.63,552.58 304.98,552.67 305.33,553.34 305.68,553.32 306.03,553.23 306.38,553.57 306.73,553.71 307.08,554.04 307.43,554.19 307.78,553.65 308.12,553.09 308.47,552.70 308.82,552.99 309.17,554.04 309.52,554.57 309.87,554.12 310.22,553.57 310.57,553.18 310.92,553.10 311.27,553.34 311.62,553.41 311.97,553.62 312.32,553.94 312.67,553.56 313.02,553.59 313.37,553.89 313.72,553.48 314.07,553.72 314.42,553.94 314.77,553.48 315.12,553.12 315.47,552.73 315.82,552.85 316.17,554.00 316.52,554.26 316.87,553.06 317.22,552.69 317.57,553.22 317.92,553.69 318.27,553.74 318.62,552.93 318.97,552.48 319.32,552.95 319.67,553.22 320.02,553.05 320.37,552.91 320.72,553.51 321.07,554.07 321.42,554.01 321.77,553.63 322.12,553.30 322.47,553.50 322.82,553.51 323.17,553.07 323.52,552.98 323.86,553.44 324.21,553.76 324.56,553.88 324.91,553.55 325.26,553.32 325.61,554.09 325.96,554.41 326.31,553.77 326.66,553.49 327.01,553.77 327.36,553.58 327.71,552.85 328.06,552.86 328.41,553.37 328.76,553.08 329.11,552.88 329.46,553.32 329.81,553.29 330.16,552.86 330.51,552.94 330.86,552.86 331.21,552.35 331.56,552.34 331.91,552.84 332.26,553.43 332.61,553.63 332.96,553.78 333.31,553.61 333.66,553.38 334.01,553.71 334.36,553.70 334.71,553.09 335.06,552.59 335.41,553.03 335.76,553.52 336.11,553.61 336.46,553.64 336.81,553.07 337.16,552.55 337.51,552.41 337.86,552.11 338.21,551.93 338.56,552.82 338.91,554.09 339.26,553.98 339.60,553.70 339.95,553.89 340.30,553.33 340.65,552.75 341.00,553.11 341.35,553.84 341.70,553.85 342.05,553.36 342.40,553.12 342.75,553.26 343.10,553.74 343.45,554.07 343.80,554.11 344.15,554.05 344.50,553.69 344.85,553.00 345.20,552.58 345.55,552.61 345.90,553.41 346.25,554.38 346.60,554.40 346.95,553.95 347.30,553.70"/>
<path d="M55.60,553.39 55.95,554.48 56.30,555.05 56.65,554.64 57.00,554.41 57.35,554.58 57.70,554.28 58.05,554.11 58.40,554.60 58.75,554.44 59.10,554.16 59.45,554.77 59.80,555.03 60.15,554.30 60.50,553.84 60.85,553.66 61.20,553.10 61.55,553.16 61.90,553.88 62.25,554.13 62.60,554.66 62.95,555.19 63.30,554.70 63.65,554.05 64.00,553.84 64.35,553.73 64.70,553.16 65.05,552.80 65.40,553.30 65.75,553.83 66.10,553.88 66.45,553.72 66.80,553.46 67.15,553.63 67.50,554.45 67.85,555.04 68.20,555.13 68.55,554.79 68.90,553.81 69.25,553.09 69.60,553.79 69.95,554.16 70.30,553.08 70.65,552.79 71.00,553.56 71.35,553.69 71.70,553.89 72.05,554.50 72.40,554.35 72.75,553.77 73.10,553.48 73.45,553.81 73.80,554.38 74.15,554.65 74.50,554.26 74.85,553.63 75.20,553.98 75.55,554.29 75.90,554.31 76.25,554.23 76.60,553.71 76.95,553.71 77.30,554.18 77.65,554.44 78.00,554.32 78.35,553.70 78.70,553.17 79.05,553.51 79.40,554.10 79.75,553.86 80.10,553.43 80.45,554.14 80.80,554.90 81.15,554.77 81.50,554.52 81.85,554.27 82.20,553.62 82.55,553.07 82.90,553.45 83.25,553.88 83.60,553.97 83.95,554.44 84.30,554.20 84.65,553.61 85.00,554.45 85.35,554.96 85.70,554.28 86.05,554.42 86.40,554.44 86.75,553.83 87.10,554.21 87.45,554.52 87.80,554.19 88.15,554.31 88.50,554.66 88.85,554.47 89.20,554.09 89.55,554.71 89.90,554.87 90.25,554.00 90.60,554.57 90.95,555.44 91.30,555.13 91.65,554.85 92.00,554.48 92.35,553.55 92.70,552.94 92.97,553.37 93.24,553.77 93.57,553.61 93.74,553.31 93.81,553.38 93.94,553.11 94.08,552.36 94.25,551.65 94.57,551.16 94.85,551.17 94.91,551.44 94.96,551.31 95.13,550.81 95.30,550.57 95.41,550.32 95.42,549.90 95.45,549.61 95.62,549.24 95.74,548.83 95.71,548.30 95.77,547.69 96.01,547.48 96.24,547.47 96.35,547.30 96.37,546.83 96.45,546.23 96.62,545.76 96.66,545.51 96.66,545.30 96.79,544.88 96.86,544.37 96.94,543.88 97.13,543.56 97.24,543.49 97.24,543.39 97.37,542.94 97.59,542.41 97.71,542.26 97.74,542.11 97.82,541.71 97.98,541.25 98.16,540.77 98.27,540.35 98.31,540.01 98.38,539.80 98.53,539.62 98.58,539.21 98.57,538.77 98.67,538.33 98.84,537.96 99.01,537.76 99.18,537.55 99.35,537.14 99.53,536.65 99.70,536.36 99.84,536.10 100.03,535.79 100.28,535.52 100.56,535.01 100.85,534.76 101.12,535.33 101.42,536.01 101.73,536.29 102.04,536.17 102.33,536.05 102.60,536.06 102.86,536.05 103.09,536.57 103.30,537.33 103.51,537.60 103.71,537.68 103.93,537.92 104.14,538.21 104.37,538.28 104.62,538.51 104.87,539.10 105.11,539.29 105.37,539.22 105.63,539.32 105.90,539.57 106.15,540.02 106.41,540.25 106.68,540.28 106.95,540.46 107.22,540.91 107.50,541.65 107.78,541.86 108.05,541.65 108.35,541.82 108.66,541.99 108.94,542.17 109.20,542.70 109.47,542.78 109.77,542.53 110.06,542.72 110.35,542.99 110.64,543.02 110.95,543.06 111.26,543.16 111.56,543.57 111.85,544.26 112.16,544.23 112.48,543.83 112.80,544.11 113.09,544.72 113.39,545.22 113.70,545.54 114.01,545.75 114.32,546.06 114.61,546.16 114.93,545.99 115.26,546.22 115.58,546.77 115.90,546.75 116.20,546.53 116.50,546.70 116.83,547.01 117.15,547.20 117.47,546.87 117.79,546.61 118.11,546.86 118.43,547.11 118.76,547.69 119.09,548.18 119.43,548.11 119.75,547.92 120.08,547.69 120.41,547.41 120.74,547.60 121.06,548.47 121.40,548.85 121.73,548.71 122.05,549.00 122.39,549.19 122.72,548.73 123.06,548.48 123.40,548.97 123.74,549.65 124.07,550.09 124.40,549.78 124.74,549.65 125.08,550.10 125.42,549.90 125.76,549.49 126.11,549.55 126.45,549.86 126.78,550.01 127.12,549.89 127.47,549.75 127.81,549.59 128.15,549.71 128.50,550.07 128.85,550.28 129.19,550.41 129.53,550.20 129.87,549.94 130.22,550.23 130.56,550.96 130.90,551.40 131.25,550.92 131.60,550.45 131.94,550.36 132.28,550.36 132.63,550.48 132.97,550.72 133.32,551.53 133.67,551.92 134.01,551.79 134.36,551.60 134.70,551.36 135.05,551.79 135.40,552.20 135.74,551.83 136.09,551.69 136.43,552.29 136.78,552.35 137.13,552.21 137.48,552.69 137.82,552.71 138.17,551.90 138.52,551.59 138.87,551.87 139.21,551.77 139.56,551.53 139.91,551.11 140.26,551.23 140.60,551.54 140.95,551.46 141.30,552.45 141.65,553.35 142.00,552.81 142.34,551.97 142.69,551.57 143.04,551.96 143.39,552.66 143.74,552.63 144.09,552.66 144.44,553.01 144.78,552.69 145.13,552.03 145.48,552.03 145.83,552.33 146.18,552.18 146.53,552.29 146.88,552.77 147.23,553.42 147.58,554.07 147.93,553.92 148.28,552.91 148.63,551.82 148.98,552.07 149.33,553.45 149.68,553.61 150.03,553.16 150.37,553.14 150.72,552.93 151.07,552.85 151.42,552.43 151.77,552.11 152.12,552.52 152.47,553.13 152.82,553.41 153.17,553.56 153.52,553.85 153.87,553.48 154.22,552.73 154.57,552.43 154.92,552.97 155.27,553.34 155.62,552.90 155.97,552.71 156.32,553.07 156.67,553.85 157.02,554.01 157.37,553.37 157.72,553.24 158.07,552.96 158.42,552.69 158.77,553.17 159.12,553.32 159.47,553.00 159.82,552.95 160.17,552.93 160.52,552.84 160.86,553.65 161.21,554.16 161.56,553.28 161.91,552.98 162.26,553.54 162.61,553.26 162.96,553.36 163.31,553.85 163.66,553.17 164.01,552.76 164.36,553.11 164.71,553.00 165.06,553.19 165.41,553.53 165.76,552.79 166.11,552.63 166.46,553.32 166.81,553.30 167.16,552.73 167.51,552.56 167.86,552.73 168.21,552.85 168.56,552.87 168.91,552.66 169.26,553.08 169.60,553.83 169.95,554.04 170.30,554.27 170.65,554.42 171.00,554.06 171.35,553.58 171.70,553.15 172.05,553.40 172.40,554.56 172.75,554.25 173.10,553.22 173.45,553.44 173.80,553.09 174.15,552.57 174.50,552.79 174.85,552.83 175.20,552.62 175.55,553.13 175.90,554.29 176.25,554.69 176.60,554.45 176.95,553.82 177.30,553.33 177.65,552.94 178.00,552.13 178.35,551.76 178.70,552.06 179.05,553.24 179.40,554.40 179.75,554.35 180.10,554.23 180.45,554.23 180.80,553.71 181.15,552.84 181.50,552.27 181.85,552.52 182.20,552.91 182.55,553.33 182.90,553.55 183.25,553.44 183.60,553.77 183.95,554.10 184.30,553.84 184.65,553.88 185.00,554.37 185.35,553.97 185.70,553.77 186.05,554.59 186.40,554.75 186.75,554.17 187.10,553.67 187.45,553.51 187.80,553.80 188.15,553.95 188.50,553.90 188.85,553.96 189.19,553.76 189.54,553.90 189.89,554.06 190.24,553.88 190.59,554.05 190.94,553.86 191.29,553.18 191.64,553.06 191.99,553.82 192.34,554.81 192.69,554.67 193.04,553.69 193.39,553.83 193.74,554.34 194.09,554.34 194.44,554.23 194.79,553.60 195.14,553.09 195.49,553.19 195.84,553.41 196.19,553.10 196.54,552.36 196.89,552.51 197.24,553.15 197.59,553.78 197.94,554.36 198.29,553.93 198.64,553.52 198.99,554.17 199.34,554.16 199.69,553.13 200.04,552.97 200.39,553.35 200.74,553.76 201.09,554.22 201.44,554.21 201.79,554.24 202.14,554.09 202.49,553.26 202.84,552.78 203.19,553.13 203.54,553.36 203.89,553.22 204.24,553.20 204.59,553.42 204.94,553.74 205.29,554.13 205.64,554.31 205.99,553.94 206.34,553.50 206.69,553.46 207.04,553.57 207.39,553.69 207.73,554.01 208.08,554.02 208.43,553.74 208.78,553.47 209.13,553.21 209.48,553.78 209.83,554.03 210.18,553.67 210.53,553.96 210.88,554.02 211.23,553.78 211.58,553.87 211.93,553.66 212.28,553.24 212.63,553.10 212.98,552.90 213.33,553.14 213.68,553.31 214.03,553.12 214.38,553.74 214.73,553.87 215.08,553.16 215.43,552.91 215.78,553.11 216.13,553.75 216.48,554.77 216.83,554.85 217.18,553.77 217.53,553.03 217.88,553.14 218.23,553.46 218.58,553.74 218.93,554.32 219.28,554.35 219.63,553.54 219.98,552.94 220.33,552.54 220.68,552.70 221.03,552.83 221.38,552.96 221.73,553.46 222.08,553.42 222.43,553.42 222.78,553.72 223.13,553.66 223.47,552.95 223.82,552.92 224.17,553.83 224.52,553.77 224.87,553.70 225.22,553.79 225.57,553.19 225.92,552.86 226.27,552.87 226.62,553.47 226.97,553.67 227.32,552.94 227.67,552.83 228.02,553.38 228.37,553.76 228.72,553.75 229.07,553.55 229.42,553.54 229.77,553.84 230.12,554.51 230.47,554.76 230.82,554.23 231.17,553.87 231.52,553.54 231.87,553.81 232.22,554.42 232.57,554.44 232.92,554.66 233.27,554.79 233.62,554.20 233.97,553.06 234.32,553.13 234.67,554.15 235.02,553.85 235.37,553.33 235.72,553.50 236.07,553.23 236.42,553.20 236.77,553.94 237.12,554.18 237.47,554.53 237.82,554.93 238.17,554.14 238.52,553.49 238.87,553.68 239.21,553.70 239.56,553.70 239.91,553.80 240.26,553.48 240.61,552.71 240.96,552.64 241.31,553.29 241.66,553.52 242.01,553.54 242.36,553.36 242.71,553.59 243.06,553.74 243.41,553.03 243.76,553.06 244.11,553.69 244.46,553.65 244.81,553.30 245.16,552.95 245.51,553.19 245.86,553.85 246.21,553.74 246.56,553.38 246.91,553.01 247.26,552.85 247.61,552.89 247.96,552.78 248.31,553.10 248.66,553.60 249.01,553.21 249.36,553.06 249.71,553.99 250.06,554.33 250.41,554.01 250.76,553.91 251.11,553.58 251.46,553.41 251.81,553.88 252.16,554.02 252.51,553.89 252.86,553.97 253.21,553.64 253.56,553.46 253.91,553.61 254.26,553.05 254.61,552.97 254.96,553.62 255.30,553.53 255.65,553.75 256.00,554.26 256.35,554.07 256.70,553.62 257.05,553.04 257.40,552.62 257.75,552.88 258.10,553.39 258.45,553.31 258.80,553.27 259.15,553.32 259.50,553.19 259.85,553.79 260.20,554.46 260.55,554.64 260.90,554.51 261.25,553.76 261.60,553.22 261.95,553.29 262.30,553.04 262.65,553.06 263.00,553.63 263.35,553.84 263.70,554.14 264.05,553.83 264.40,552.65 264.75,552.44 265.10,553.07 265.45,553.33 265.80,553.32 266.15,553.63 266.50,553.68 266.85,553.47 267.20,553.20 267.55,552.66 267.90,552.83 268.25,553.24 268.60,553.13 268.95,553.45 269.30,553.58 269.65,552.89 270.00,552.91 270.35,554.03 270.70,554.99 271.05,555.07 271.40,554.58 271.74,553.86 272.09,553.07 272.44,553.13 272.79,553.53 273.14,553.43 273.49,553.86 273.84,554.24 274.19,553.74 274.54,553.36 274.89,553.51 275.24,553.92 275.59,554.16 275.94,553.77 276.29,553.04 276.64,553.16 276.99,554.40 277.34,555.17 277.69,555.18 278.04,554.76 278.39,553.95 278.74,553.25 279.09,553.13 279.44,553.85 279.79,553.93 280.14,553.07 280.49,552.74 280.84,553.14 281.19,553.58 281.54,553.48 281.89,553.15 282.24,553.15 282.59,553.52 282.94,553.68 283.29,553.22 283.64,553.16 283.99,553.57 284.34,553.38 284.69,553.45 285.04,553.70 285.39,553.44 285.74,553.60 286.09,553.74 286.44,553.60 286.79,553.51 287.14,552.90 287.49,552.93 287.83,554.01 288.18,554.98 288.53,554.58 288.88,553.03 289.23,552.87 289.58,553.94 289.93,554.36 290.28,554.51 290.63,554.82 290.98,554.23 291.33,553.10 291.68,552.60 292.03,553.04 292.38,553.81 292.73,553.47 293.08,552.74 293.43,553.09 293.78,553.49 294.13,553.41 294.48,553.05 294.83,552.82 295.18,552.90 295.53,552.56 295.88,553.22 296.23,554.18 296.58,553.38 296.93,552.92 297.28,553.69 297.63,554.52 297.98,554.62 298.33,553.93 298.68,553.37 299.03,553.19 299.38,553.62 299.73,553.80 300.08,553.78 300.43,554.25 300.78,554.40 301.13,554.24 301.48,554.01 301.83,553.78 302.18,553.76 302.53,554.09 302.88,554.00 303.23,553.41 303.58,553.52 303.93,553.59 304.28,553.11 304.62,553.62 304.97,554.52 305.32,554.13 305.67,553.60 306.02,553.98 306.37,553.80 306.72,552.66 307.07,552.49 307.42,553.41 307.77,554.03 308.12,553.89 308.47,553.42 308.82,553.08 309.17,553.26 309.52,553.40 309.87,552.60 310.22,551.99 310.57,552.51 310.92,553.68 311.27,554.12 311.62,553.44 311.97,552.91 312.32,552.93 312.67,553.31 313.02,553.75 313.37,553.76 313.72,553.24 314.07,553.21 314.42,553.51 314.77,553.20 315.12,553.35 315.47,553.87 315.82,553.91 316.17,553.65 316.52,553.30 316.87,553.67 317.22,553.75 317.57,553.11 317.92,552.74 318.27,553.03 318.62,553.89 318.97,553.70 319.32,552.94 319.67,553.35 320.02,554.26 320.37,554.46 320.72,554.34 321.07,554.06 321.41,553.77 321.76,553.74 322.11,553.72 322.46,553.35 322.81,552.91 323.16,553.40 323.51,553.88 323.86,553.75 324.21,553.87 324.56,553.68 324.91,553.09 325.26,553.40 325.61,553.55 325.96,553.08 326.31,553.77 326.66,554.49 327.01,554.55 327.36,554.72 327.71,554.54 328.06,554.49 328.41,554.45 328.76,553.47 329.11,552.71 329.46,553.41 329.81,554.01 330.16,553.34 330.51,552.72 330.86,553.30 331.21,554.15 331.56,553.65 331.91,552.94 332.26,553.18 332.61,553.54 332.96,553.66 333.31,553.73 333.66,553.55 334.01,553.51 334.36,554.13 334.71,554.32 335.06,553.25 335.41,553.05 335.76,554.40 336.11,554.66 336.46,554.03 336.81,554.00 337.16,554.10 337.51,553.69 337.86,553.17 338.21,553.89 338.56,554.57 338.90,553.72 339.25,553.18 339.60,553.38 339.95,553.64 340.30,553.79 340.65,552.93 341.00,552.63 341.35,553.73 341.70,554.47 342.05,554.26 342.40,553.45 342.75,553.08 343.10,553.72 343.45,554.18 343.80,553.73 344.15,553.66 344.50,553.84 344.85,553.80 345.20,554.25 345.55,553.92 345.90,553.41 346.25,554.09 346.60,554.23 346.95,554.20 347.30,554.41"/>
<path d="M55.60,554.81 55.95,555.08 56.30,555.64 56.65,555.39 57.00,554.53 57.35,554.62 57.70,555.48 58.05,555.25 58.40,554.06 58.75,553.47 59.10,553.49 59.45,553.97 59.80,554.33 60.15,554.61 60.50,554.56 60.85,553.79 61.20,553.75 61.55,554.14 61.90,553.96 62.25,553.57 62.60,553.01 62.95,552.95 63.30,554.15 63.65,555.52 64.00,556.04 64.35,555.94 64.70,555.23 65.05,554.04 65.40,553.52 65.75,553.92 66.10,553.98 66.45,553.58 66.80,553.20 67.15,553.55 67.50,554.25 67.85,554.15 68.20,554.14 68.55,554.75 68.90,554.72 69.25,554.50 69.60,554.93 69.95,554.63 70.30,554.17 70.65,553.93 71.00,553.34 71.35,553.59 71.70,554.09 72.05,553.91 72.40,553.92 72.75,554.34 73.10,554.29 73.45,553.88 73.80,553.79 74.15,553.85 74.50,554.18 74.85,554.88 75.20,554.63 75.55,553.78 75.90,553.48 76.25,553.70 76.60,554.37 76.95,554.62 77.30,554.33 77.65,554.36 78.00,554.54 78.35,554.80 78.70,554.98 79.05,554.84 79.40,555.24 79.75,555.17 80.10,553.93 80.45,553.21 80.80,553.25 81.15,553.64 81.50,554.19 81.85,554.02 82.20,553.50 82.55,553.72 82.90,554.35 83.25,554.47 83.60,554.11 83.95,554.53 84.30,555.19 84.65,554.97 85.00,554.26 85.35,553.47 85.70,553.02 86.05,553.55 86.40,554.64 86.75,554.82 87.10,554.62 87.45,554.99 87.80,555.10 88.15,554.64 88.50,554.20 88.85,554.25 89.20,554.64 89.55,554.12 89.90,553.41 90.25,553.16 90.60,552.82 90.95,553.15 91.30,553.75 91.65,553.91 92.00,553.96 92.35,553.76 92.51,553.91 92.81,553.93 93.08,553.25 93.36,552.82 93.65,553.07 93.93,553.33 94.22,553.04 94.48,552.46 94.77,552.45 95.08,552.95 95.33,552.88 95.61,552.01 95.88,551.44 96.13,551.75 96.39,551.81 96.62,551.18 96.88,550.64 97.14,550.25 97.33,550.24 97.54,550.35 97.80,549.89 98.06,549.28 98.25,548.96 98.41,548.84 98.64,548.55 98.86,548.06 99.03,547.96 99.20,548.13 99.47,547.95 99.77,547.62 99.99,547.45 100.24,547.17 100.55,547.06 100.83,546.83 101.12,546.27 101.45,545.82 101.78,545.34 102.11,545.40 102.45,545.89 102.80,546.31 103.15,546.63 103.50,546.78 103.84,546.77 104.18,546.43 104.52,546.27 104.85,546.06 105.19,545.84 105.51,546.34 105.82,546.78 106.16,546.73 106.49,546.70 106.82,546.77 107.15,546.88 107.49,546.93 107.82,547.07 108.13,547.22 108.47,546.89 108.80,546.95 109.11,547.78 109.42,548.31 109.75,548.10 110.08,547.91 110.41,548.05 110.75,548.29 111.08,549.10 111.38,549.80 111.70,549.44 112.04,549.11 112.38,549.72 112.70,549.97 113.03,549.68 113.36,549.82 113.69,549.99 114.03,550.23 114.36,550.28 114.68,549.70 115.02,549.98 115.36,551.28 115.69,551.88 116.02,551.62 116.36,551.23 116.71,551.12 117.05,551.11 117.40,550.94 117.74,551.05 118.08,551.44 118.42,551.50 118.75,551.22 119.09,551.45 119.44,551.94 119.79,551.56 120.13,551.22 120.47,551.43 120.82,551.13 121.16,550.60 121.50,550.41 121.85,550.31 122.19,550.95 122.53,552.02 122.88,551.70 123.22,550.95 123.56,551.63 123.91,552.24 124.26,552.02 124.61,552.07 124.95,551.86 125.30,551.73 125.64,552.22 125.99,552.49 126.34,552.22 126.69,551.97 127.04,552.24 127.38,552.84 127.73,552.61 128.08,551.86 128.43,551.85 128.77,552.23 129.12,552.47 129.47,552.70 129.82,552.91 130.17,553.17 130.52,553.19 130.87,552.85 131.22,553.22 131.57,553.86 131.91,553.82 132.26,553.46 132.61,552.84 132.96,552.11 133.31,551.86 133.66,552.16 134.01,552.87 134.35,553.29 134.70,553.02 135.05,553.15 135.40,553.81 135.75,553.88 136.10,553.48 136.45,553.28 136.80,553.01 137.15,553.52 137.49,553.93 137.84,553.39 138.19,553.51 138.54,553.63 138.89,552.87 139.24,552.22 139.59,552.29 139.94,552.65 140.29,553.20 140.64,553.89 140.99,554.01 141.34,553.88 141.69,554.12 142.04,554.66 142.39,554.44 142.74,553.58 143.09,552.85 143.44,552.49 143.79,552.80 144.13,553.17 144.48,553.74 144.83,553.79 145.18,553.45 145.53,553.41 145.88,552.87 146.23,552.22 146.58,552.10 146.93,552.46 147.28,553.05 147.63,553.74 147.98,553.91 148.33,553.74 148.68,554.18 149.03,553.84 149.38,552.71 149.73,552.73 150.08,553.68 150.43,554.45 150.78,554.35 151.13,553.66 151.48,553.37 151.83,553.91 152.18,554.24 152.53,553.51 152.88,553.21 153.23,553.36 153.58,552.91 153.93,553.21 154.28,553.68 154.63,553.26 154.98,552.88 155.33,553.24 155.68,554.01 156.03,554.06 156.38,553.67 156.73,553.88 157.08,554.71 157.43,554.75 157.78,554.09 158.13,553.43 158.48,552.93 158.83,553.60 159.18,554.15 159.53,553.58 159.88,553.23 160.23,553.44 160.58,553.77 160.93,553.39 161.28,552.99 161.63,553.43 161.98,553.56 162.33,553.37 162.68,553.23 163.03,553.25 163.38,553.24 163.73,552.70 164.08,552.57 164.43,553.45 164.78,554.03 165.12,553.64 165.47,553.34 165.82,553.47 166.17,553.49 166.52,553.79 166.87,554.33 167.22,554.17 167.57,553.84 167.92,554.03 168.27,554.39 168.62,554.37 168.97,553.91 169.32,553.77 169.67,553.70 170.02,553.30 170.37,553.18 170.72,553.54 171.07,553.82 171.42,553.25 171.77,552.39 172.12,552.63 172.47,553.35 172.82,553.49 173.17,553.44 173.52,553.68 173.87,554.18 174.22,554.35 174.57,553.88 174.92,553.56 175.26,553.77 175.61,554.10 175.96,554.37 176.31,553.93 176.66,553.07 177.01,552.81 177.36,553.14 177.71,553.16 178.06,553.36 178.41,554.45 178.76,554.77 179.11,553.63 179.46,552.47 179.81,552.27 180.16,553.00 180.51,553.40 180.86,552.88 181.21,553.23 181.56,554.44 181.91,554.92 182.26,554.33 182.61,553.31 182.96,552.82 183.31,552.92 183.66,553.23 184.01,553.62 184.36,554.06 184.71,554.33 185.06,554.40 185.41,554.53 185.75,554.36 186.10,553.76 186.45,553.36 186.80,553.84 187.15,554.56 187.50,553.99 187.85,553.10 188.20,553.05 188.55,553.38 188.90,553.65 189.25,553.73 189.60,554.19 189.95,554.44 190.30,553.88 190.65,554.00 191.00,554.15 191.35,553.20 191.70,553.22 192.05,553.81 192.40,553.63 192.75,553.51 193.10,553.64 193.45,554.40 193.80,554.71 194.15,553.67 194.50,553.17 194.85,553.32 195.20,552.98 195.55,552.72 195.90,553.02 196.24,553.86 196.59,554.73 196.94,554.88 197.29,554.79 197.64,554.48 197.99,553.62 198.34,553.35 198.69,553.65 199.04,553.87 199.39,554.17 199.74,553.79 200.09,553.48 200.44,553.94 200.79,554.23 201.14,554.03 201.49,553.77 201.84,553.50 202.19,553.31 202.54,553.31 202.89,553.24 203.24,553.66 203.59,554.32 203.94,554.55 204.29,554.07 204.64,553.38 204.99,553.63 205.34,554.35 205.69,554.29 206.04,553.86 206.39,554.27 206.73,554.48 207.08,553.95 207.43,554.02 207.78,554.17 208.13,553.97 208.48,554.33 208.83,554.76 209.18,554.47 209.53,554.02 209.88,553.75 210.23,553.34 210.58,552.89 210.93,552.65 211.28,552.77 211.63,553.09 211.98,552.87 212.33,553.04 212.68,553.91 213.03,554.22 213.38,554.57 213.73,555.11 214.08,554.90 214.43,553.67 214.78,552.92 215.13,553.53 215.48,553.53 215.83,552.55 216.18,552.71 216.53,554.12 216.88,554.94 217.22,555.10 217.57,555.17 217.92,554.92 218.27,554.49 218.62,554.41 218.97,554.57 219.32,554.40 219.67,554.21 220.02,554.08 220.37,553.56 220.72,553.81 221.07,555.10 221.42,555.62 221.77,554.77 222.12,553.69 222.47,553.73 222.82,554.39 223.17,554.33 223.52,554.36 223.87,554.73 224.22,554.35 224.57,553.91 224.92,553.73 225.27,553.80 225.62,553.77 225.97,553.29 226.32,553.66 226.67,554.65 227.02,555.01 227.36,554.31 227.71,553.66 228.06,554.19 228.41,554.49 228.76,553.98 229.11,553.31 229.46,553.03 229.81,553.45 230.16,554.37 230.51,555.01 230.86,554.66 231.21,553.66 231.56,552.77 231.91,552.70 232.26,553.24 232.61,553.62 232.96,554.04 233.31,554.75 233.66,555.22 234.01,554.72 234.36,553.74 234.71,553.27 235.06,552.97 235.41,552.59 235.76,552.94 236.11,553.53 236.46,553.72 236.81,553.91 237.16,553.76 237.51,553.56 237.85,553.79 238.20,554.41 238.55,554.68 238.90,554.08 239.25,553.51 239.60,553.16 239.95,553.69 240.30,554.64 240.65,555.00 241.00,554.53 241.35,553.27 241.70,553.05 242.05,553.46 242.40,553.20 242.75,552.92 243.10,553.18 243.45,553.76 243.80,553.81 244.15,553.39 244.50,553.08 244.85,553.75 245.20,554.79 245.55,554.65 245.90,553.83 246.25,553.36 246.60,553.52 246.95,554.30 247.30,554.89 247.65,554.38 248.00,553.74 248.34,553.43 248.69,553.33 249.04,553.44 249.39,553.21 249.74,553.12 250.09,553.93 250.44,555.14 250.79,555.15 251.14,554.39 251.49,554.27 251.84,554.32 252.19,554.21 252.54,554.18 252.89,554.66 253.24,554.90 253.59,554.60 253.94,554.51 254.29,554.42 254.64,554.05 254.99,553.71 255.34,553.71 255.69,553.44 256.04,553.34 256.39,554.23 256.74,554.95 257.09,554.83 257.44,554.72 257.79,554.42 258.14,553.60 258.48,552.96 258.83,552.63 259.18,552.83 259.53,553.62 259.88,553.99 260.23,554.05 260.58,554.63 260.93,554.87 261.28,554.27 261.63,554.08 261.98,554.41 262.33,554.34 262.68,554.30 263.03,554.34 263.38,553.93 263.73,553.32 264.08,553.05 264.43,553.49 264.78,553.75 265.13,553.47 265.48,553.56 265.83,554.16 266.18,554.89 266.53,554.89 266.88,554.22 267.23,554.20 267.58,554.68 267.93,554.58 268.28,553.81 268.63,553.44 268.97,553.58 269.32,553.60 269.67,553.58 270.02,553.57 270.37,554.03 270.72,554.49 271.07,554.32 271.42,554.34 271.77,554.60 272.12,554.60 272.47,553.89 272.82,552.90 273.17,553.28 273.52,554.13 273.87,553.82 274.22,553.87 274.57,554.14 274.92,553.18 275.27,552.40 275.62,553.12 275.97,554.30 276.32,554.71 276.67,554.90 277.02,555.29 277.37,554.49 277.72,552.75 278.07,552.41 278.42,552.84 278.77,553.11 279.12,553.35 279.46,553.07 279.81,553.08 280.16,553.46 280.51,554.35 280.86,554.97 281.21,553.85 281.56,552.66 281.91,552.77 282.26,553.25 282.61,554.01 282.96,554.47 283.31,553.79 283.66,552.99 284.01,552.51 284.36,552.31 284.71,552.70 285.06,553.55 285.41,554.12 285.76,553.92 286.11,553.66 286.46,553.67 286.81,553.80 287.16,553.82 287.51,552.99 287.86,552.67 288.21,553.28 288.56,553.85 288.91,554.17 289.26,553.93 289.61,553.91 289.95,554.38 290.30,554.85 290.65,554.45 291.00,552.98 291.35,552.29 291.70,553.08 292.05,554.14 292.40,554.24 292.75,554.21 293.10,554.60 293.45,554.60 293.80,554.48 294.15,553.79 294.50,552.98 294.85,553.45 295.20,554.43 295.55,554.64 295.90,554.67 296.25,554.93 296.60,554.67 296.95,554.44 297.30,554.29 297.65,553.62 298.00,553.29 298.35,553.66 298.70,553.79 299.05,553.77 299.40,553.91 299.75,554.14 300.10,554.63 300.44,554.55 300.79,554.32 301.14,554.58 301.49,553.93 301.84,552.87 302.19,552.83 302.54,553.57 302.89,554.00 303.24,554.11 303.59,554.85 303.94,554.94 304.29,554.00 304.64,553.61 304.99,553.91 305.34,553.97 305.69,553.63 306.04,553.86 306.39,554.02 306.74,554.01 307.09,553.99 307.44,553.52 307.79,553.84 308.14,554.81 308.49,554.82 308.84,554.70 309.19,554.65 309.54,554.24 309.89,554.22 310.24,553.72 310.58,552.95 310.93,553.26 311.28,553.65 311.63,553.32 311.98,553.43 312.33,554.10 312.68,554.08 313.03,553.35 313.38,553.19 313.73,554.15 314.08,554.71 314.43,554.47 314.78,554.27 315.13,554.34 315.48,554.78 315.83,554.87 316.18,554.63 316.53,554.52 316.88,554.56 317.23,555.00 317.58,554.89 317.93,554.51 318.28,554.64 318.63,554.40 318.98,554.03 319.33,553.94 319.68,553.95 320.03,554.14 320.38,554.11 320.73,554.45 321.07,554.36 321.42,553.25 321.77,553.58 322.12,554.35 322.47,553.60 322.82,553.48 323.17,554.75 323.52,555.07 323.87,554.28 324.22,553.93 324.57,553.63 324.92,553.57 325.27,554.20 325.62,554.47 325.97,553.91 326.32,553.51 326.67,553.65 327.02,553.58 327.37,553.60 327.72,553.95 328.07,553.69 328.42,553.47 328.77,553.89 329.12,553.85 329.47,553.39 329.82,553.11 330.17,552.92 330.52,552.97 330.87,553.29 331.22,553.38 331.56,553.78 331.91,554.20 332.26,554.06 332.61,553.95 332.96,553.68 333.31,553.26 333.66,553.09 334.01,553.67 334.36,553.69 334.71,552.77 335.06,553.00 335.41,553.88 335.76,553.89 336.11,553.54 336.46,553.73 336.81,554.16 337.16,553.74 337.51,553.30 337.86,553.62 338.21,553.68 338.56,553.75 338.91,553.87 339.26,554.03 339.61,554.54 339.96,554.61 340.31,554.68 340.66,554.72 341.01,554.04 341.36,553.93 341.71,554.28 342.05,553.84 342.40,553.52 342.75,554.05 343.10,553.99 343.45,553.54 343.80,553.69 344.15,553.70 344.50,553.75 344.85,554.30 345.20,554.68 345.55,554.64 345.90,554.43 346.25,554.10 346.60,553.82 346.95,553.98 347.30,554.39"/>
</g>
</svg>
</body>
</html>
